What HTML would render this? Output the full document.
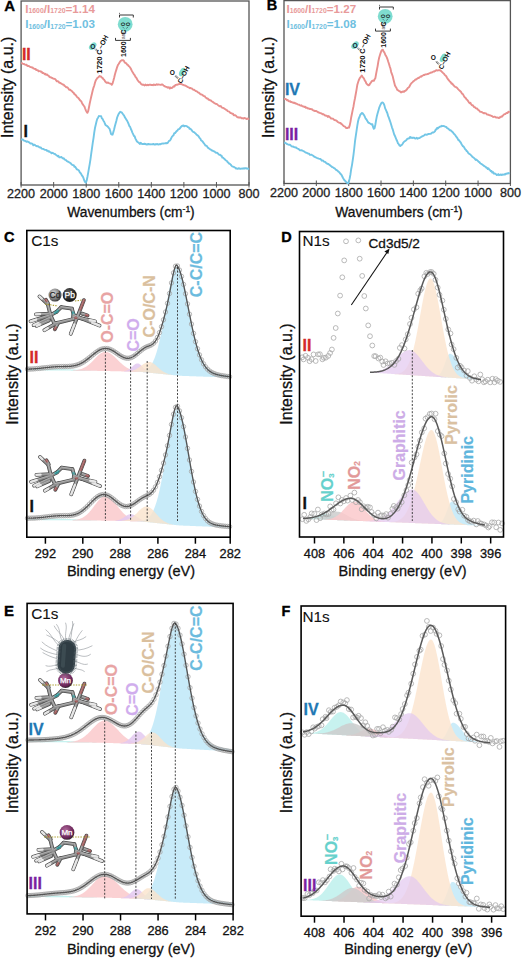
<!DOCTYPE html>
<html><head><meta charset="utf-8"><style>
html,body{margin:0;padding:0;background:#fff;overflow:hidden;}
svg{display:block;font-family:"Liberation Sans", sans-serif;}
</style></head><body>
<svg width="522" height="959" viewBox="0 0 522 959">
<rect width="522" height="959" fill="#fff"/>
<rect x="21.1" y="1" width="227.9" height="184" fill="none" stroke="#555" stroke-width="1.3"/>
<line x1="21.1" y1="182" x2="21.1" y2="187.5" stroke="#555" stroke-width="1" />
<text x="21.1" y="198.2" font-size="12.6" fill="#222" font-weight="normal" text-anchor="middle" stroke="#222" stroke-width="0.3">2200</text>
<line x1="53.66" y1="182" x2="53.66" y2="187.5" stroke="#555" stroke-width="1" />
<text x="53.66" y="198.2" font-size="12.6" fill="#222" font-weight="normal" text-anchor="middle" stroke="#222" stroke-width="0.3">2000</text>
<line x1="86.21" y1="182" x2="86.21" y2="187.5" stroke="#555" stroke-width="1" />
<text x="86.21" y="198.2" font-size="12.6" fill="#222" font-weight="normal" text-anchor="middle" stroke="#222" stroke-width="0.3">1800</text>
<line x1="118.77" y1="182" x2="118.77" y2="187.5" stroke="#555" stroke-width="1" />
<text x="118.77" y="198.2" font-size="12.6" fill="#222" font-weight="normal" text-anchor="middle" stroke="#222" stroke-width="0.3">1600</text>
<line x1="151.33" y1="182" x2="151.33" y2="187.5" stroke="#555" stroke-width="1" />
<text x="151.33" y="198.2" font-size="12.6" fill="#222" font-weight="normal" text-anchor="middle" stroke="#222" stroke-width="0.3">1400</text>
<line x1="183.89" y1="182" x2="183.89" y2="187.5" stroke="#555" stroke-width="1" />
<text x="183.89" y="198.2" font-size="12.6" fill="#222" font-weight="normal" text-anchor="middle" stroke="#222" stroke-width="0.3">1200</text>
<line x1="216.44" y1="182" x2="216.44" y2="187.5" stroke="#555" stroke-width="1" />
<text x="216.44" y="198.2" font-size="12.6" fill="#222" font-weight="normal" text-anchor="middle" stroke="#222" stroke-width="0.3">1000</text>
<line x1="249" y1="182" x2="249" y2="187.5" stroke="#555" stroke-width="1" />
<text x="249" y="198.2" font-size="12.6" fill="#222" font-weight="normal" text-anchor="middle" stroke="#222" stroke-width="0.3">800</text>
<path d="M21.1,63.51 L21.86,63.16 L22.62,63.61 L23.39,64.02 L24.15,63.98 L24.91,64.53 L25.67,64.84 L26.44,64.64 L27.2,65.79 L27.96,66 L28.72,65.96 L29.48,66.43 L30.25,66.97 L31.01,67.09 L31.77,67.44 L32.53,67.43 L33.3,68.38 L34.06,68.61 L34.82,69.02 L35.58,68.84 L36.34,70.16 L37.11,70.08 L37.87,70.29 L38.63,71.39 L39.39,71.15 L40.16,71.11 L40.92,71.81 L41.68,71.63 L42.44,73.03 L43.2,72.98 L43.97,73.28 L44.73,74.22 L45.49,73.81 L46.25,74.86 L47.02,74.49 L47.78,75.32 L48.54,75.57 L49.3,76.78 L50.06,77.29 L50.83,77.09 L51.59,77.86 L52.35,77.99 L53.11,78.65 L53.87,78.69 L54.64,78.85 L55.4,79.28 L56.16,80.39 L56.92,81.41 L57.69,81.29 L58.45,81.53 L59.21,82.74 L59.97,82.73 L60.73,83.18 L61.5,83.73 L62.26,84.13 L63.02,84.6 L63.78,84.79 L64.55,85.9 L65.31,86.27 L66.07,87.21 L66.83,87.3 L67.59,87.42 L68.36,88.55 L69.12,89.69 L69.88,89.67 L70.64,90.15 L71.41,90.71 L72.17,91.42 L72.93,92.33 L73.69,92.77 L74.45,94.3 L75.22,94.52 L75.98,95.41 L76.74,96.61 L77.5,97.45 L78.27,97.81 L79.03,98.89 L79.79,99.98 L80.55,100.72 L81.31,101.31 L82.08,103.16 L82.84,104.4 L83.6,105.47 L84.36,106.42 L85.13,108.5 L85.89,110.34 L86.65,111.92 L87.41,112.86 L88.17,111.2 L88.94,107.47 L89.7,103.46 L90.46,100.14 L91.22,96.7 L91.99,93.45 L92.75,90.23 L93.51,87.61 L94.27,85.47 L95.03,82.55 L95.8,80.37 L96.56,79.15 L97.32,77.96 L98.08,77.43 L98.85,76.78 L99.61,75.9 L100.37,76.51 L101.13,76.54 L101.89,77.68 L102.66,77.93 L103.42,79.24 L104.18,79.83 L104.94,81.12 L105.71,82.09 L106.47,82.69 L107.23,82.81 L107.99,82.49 L108.75,83.14 L109.52,83.38 L110.28,83.62 L111.04,83.9 L111.8,84.81 L112.56,83.5 L113.33,80.82 L114.09,77.91 L114.85,74.7 L115.61,72.06 L116.38,69.63 L117.14,67.05 L117.9,65.04 L118.66,63.95 L119.42,62.66 L120.19,61.43 L120.95,60.74 L121.71,60.2 L122.47,60.27 L123.24,60.32 L124,60.99 L124.76,62.56 L125.52,62.88 L126.28,63.3 L127.05,64.56 L127.81,64.84 L128.57,65.91 L129.33,66.52 L130.1,67.49 L130.86,68.75 L131.62,70.34 L132.38,71.78 L133.14,72.91 L133.91,74.28 L134.67,75.16 L135.43,76.87 L136.19,77.52 L136.96,79.1 L137.72,80.31 L138.48,81.26 L139.24,82.28 L140,82.12 L140.77,83.58 L141.53,84.36 L142.29,84.8 L143.05,84.54 L143.82,85.03 L144.58,85.49 L145.34,84.5 L146.1,85.11 L146.86,85.31 L147.63,84.78 L148.39,85.17 L149.15,84.68 L149.91,84.76 L150.68,84.75 L151.44,85.03 L152.2,84.91 L152.96,85.18 L153.72,84.56 L154.49,84.75 L155.25,85.02 L156.01,84.84 L156.77,84.22 L157.54,84.77 L158.3,84.39 L159.06,84.63 L159.82,84.59 L160.58,84.91 L161.35,84.72 L162.11,84.36 L162.87,84.79 L163.63,85.77 L164.39,85.84 L165.16,86.65 L165.92,86.77 L166.68,86.83 L167.44,87.71 L168.21,87.42 L168.97,87.25 L169.73,88.6 L170.49,87.41 L171.25,88.05 L172.02,87.88 L172.78,87.28 L173.54,86.3 L174.3,86.63 L175.07,85.39 L175.83,84.94 L176.59,84.78 L177.35,84.74 L178.11,84.3 L178.88,84.28 L179.64,83.87 L180.4,84.02 L181.16,83.87 L181.93,84.31 L182.69,84.84 L183.45,84.86 L184.21,85.42 L184.97,85.45 L185.74,85.8 L186.5,86.35 L187.26,86.62 L188.02,87.19 L188.79,87.39 L189.55,88.19 L190.31,87.96 L191.07,88.32 L191.83,88.46 L192.6,89.16 L193.36,89.76 L194.12,89.74 L194.88,90.37 L195.65,91.02 L196.41,91.2 L197.17,91.52 L197.93,92.42 L198.69,92.63 L199.46,93.21 L200.22,93.94 L200.98,94.44 L201.74,94.51 L202.51,94.99 L203.27,95.76 L204.03,96.17 L204.79,96.18 L205.55,97.67 L206.32,97.82 L207.08,98.57 L207.84,98.52 L208.6,99.77 L209.37,99.7 L210.13,100.33 L210.89,100.42 L211.65,101.26 L212.41,101.7 L213.18,102.17 L213.94,102.81 L214.7,103.14 L215.46,103.86 L216.23,103.86 L216.99,104.14 L217.75,104.87 L218.51,105.5 L219.27,106.12 L220.04,106.42 L220.8,106.08 L221.56,107.15 L222.32,107.91 L223.08,107.92 L223.85,108.18 L224.61,108.87 L225.37,109.07 L226.13,109.88 L226.9,110.18 L227.66,111.12 L228.42,111.38 L229.18,111.56 L229.94,112.51 L230.71,113.16 L231.47,113.25 L232.23,113.83 L232.99,113.79 L233.76,115.26 L234.52,115.29 L235.28,115.28 L236.04,115.81 L236.8,116.65 L237.57,117.27 L238.33,117.3 L239.09,117.7 L239.85,117.4 L240.62,117.44 L241.38,118.2 L242.14,118.18 L242.9,118.11 L243.66,118.58 L244.43,117.99 L245.19,118.21 L245.95,118.7 L246.71,118.99 L247.48,118.47 L248.24,119 L249,118.32" stroke="#E8908E" stroke-width="1.9" fill="none" stroke-linejoin="round"/>
<path d="M21.1,139.3 L21.86,139.47 L22.62,139.36 L23.39,140.24 L24.15,140.76 L24.91,140.76 L25.67,141.11 L26.44,141.88 L27.2,141.41 L27.96,141.67 L28.72,142.25 L29.48,142.42 L30.25,143.52 L31.01,143.54 L31.77,143.53 L32.53,143.94 L33.3,145.32 L34.06,144.62 L34.82,144.92 L35.58,145.58 L36.34,146.03 L37.11,146.25 L37.87,146.26 L38.63,146.53 L39.39,147.41 L40.16,147.56 L40.92,147.44 L41.68,148.64 L42.44,148.87 L43.2,148.92 L43.97,149.27 L44.73,149.77 L45.49,149.84 L46.25,149.99 L47.02,150.83 L47.78,150.65 L48.54,151.54 L49.3,151.33 L50.06,152.08 L50.83,152.41 L51.59,153.33 L52.35,152.82 L53.11,153.07 L53.87,153.65 L54.64,153.86 L55.4,154.39 L56.16,155.05 L56.92,155.53 L57.69,156.17 L58.45,155.84 L59.21,157.24 L59.97,157.44 L60.73,157.19 L61.5,156.97 L62.26,158.06 L63.02,158.54 L63.78,158.27 L64.55,159.43 L65.31,159.81 L66.07,160.11 L66.83,161.02 L67.59,161.63 L68.36,161.69 L69.12,162.43 L69.88,162.71 L70.64,163.23 L71.41,164.06 L72.17,164.8 L72.93,165.09 L73.69,165.24 L74.45,166.74 L75.22,166.78 L75.98,168.01 L76.74,169.26 L77.5,169.5 L78.27,169.96 L79.03,170.74 L79.79,172.46 L80.55,173.1 L81.31,174.36 L82.08,175.67 L82.84,176.69 L83.6,178.46 L84.36,180.81 L85.13,182.08 L85.89,182.52 L86.65,180.74 L87.41,177.03 L88.17,172.81 L88.94,168.3 L89.7,164.05 L90.46,159.31 L91.22,153.55 L91.99,148.4 L92.75,142.83 L93.51,138.08 L94.27,132.32 L95.03,127.76 L95.8,124.53 L96.56,121.31 L97.32,118.71 L98.08,117.71 L98.85,116.07 L99.61,116.08 L100.37,116.08 L101.13,116.29 L101.89,118.33 L102.66,119.05 L103.42,120.73 L104.18,121.76 L104.94,123.73 L105.71,125.25 L106.47,125.63 L107.23,126.04 L107.99,126.96 L108.75,127.87 L109.52,128.69 L110.28,131.04 L111.04,133.99 L111.8,134.59 L112.56,134.68 L113.33,132.15 L114.09,129.52 L114.85,126.24 L115.61,123.41 L116.38,120.67 L117.14,117.51 L117.9,115.66 L118.66,113.94 L119.42,112.76 L120.19,111.82 L120.95,112.23 L121.71,112.4 L122.47,113.45 L123.24,114.55 L124,115.42 L124.76,117.09 L125.52,118.2 L126.28,119.46 L127.05,120.64 L127.81,122.1 L128.57,123.98 L129.33,125.98 L130.1,126.8 L130.86,128.99 L131.62,130.52 L132.38,132.6 L133.14,134.12 L133.91,135.87 L134.67,136.37 L135.43,138.66 L136.19,140.02 L136.96,141.48 L137.72,142.07 L138.48,142.5 L139.24,143.24 L140,143.92 L140.77,142.76 L141.53,143.72 L142.29,144.06 L143.05,144.07 L143.82,144 L144.58,143.73 L145.34,143.87 L146.1,144.4 L146.86,144.52 L147.63,144.25 L148.39,143.98 L149.15,144.28 L149.91,144.19 L150.68,144.43 L151.44,144.32 L152.2,144.1 L152.96,144.35 L153.72,143.94 L154.49,144.55 L155.25,144.65 L156.01,143.94 L156.77,144.4 L157.54,143.95 L158.3,144.53 L159.06,144.42 L159.82,144.02 L160.58,144.31 L161.35,143.8 L162.11,143.64 L162.87,143.55 L163.63,143.56 L164.39,143.38 L165.16,143.38 L165.92,143 L166.68,143.25 L167.44,143.06 L168.21,142.05 L168.97,140.99 L169.73,140.68 L170.49,139.72 L171.25,138.16 L172.02,136.63 L172.78,135.92 L173.54,135.2 L174.3,133.19 L175.07,133.08 L175.83,132.08 L176.59,131.12 L177.35,130.71 L178.11,129.37 L178.88,129.06 L179.64,128.63 L180.4,127.62 L181.16,126.72 L181.93,125.97 L182.69,125.77 L183.45,125.39 L184.21,126.38 L184.97,125.92 L185.74,125.87 L186.5,126.09 L187.26,126.53 L188.02,127.19 L188.79,127.42 L189.55,128.87 L190.31,128.75 L191.07,129.37 L191.83,130.36 L192.6,131.37 L193.36,132 L194.12,132.12 L194.88,132.98 L195.65,133.6 L196.41,134.44 L197.17,135.16 L197.93,135.65 L198.69,136.46 L199.46,137.83 L200.22,138.39 L200.98,140.13 L201.74,140.72 L202.51,141.38 L203.27,142.56 L204.03,143.45 L204.79,144.47 L205.55,145.65 L206.32,145.74 L207.08,146.35 L207.84,147.67 L208.6,148.11 L209.37,148.76 L210.13,149.37 L210.89,149.67 L211.65,150.43 L212.41,150.38 L213.18,151.1 L213.94,151.25 L214.7,151.58 L215.46,152.52 L216.23,152.92 L216.99,152.59 L217.75,153.27 L218.51,154.15 L219.27,154.85 L220.04,154.82 L220.8,155.51 L221.56,155.73 L222.32,157.54 L223.08,157.6 L223.85,158.42 L224.61,159.08 L225.37,159.91 L226.13,160.56 L226.9,161.04 L227.66,162.12 L228.42,162.66 L229.18,163.76 L229.94,163.86 L230.71,164.59 L231.47,165.59 L232.23,166.37 L232.99,166.58 L233.76,166.81 L234.52,167.42 L235.28,167.66 L236.04,168.65 L236.8,168.55 L237.57,168.76 L238.33,168.49 L239.09,168.23 L239.85,168.75 L240.62,168.9 L241.38,168.57 L242.14,168.39 L242.9,168.72 L243.66,168.29 L244.43,168.63 L245.19,168.19 L245.95,168.11 L246.71,168.57 L247.48,168.5 L248.24,168.97 L249,168.32" stroke="#73C6E6" stroke-width="1.9" fill="none" stroke-linejoin="round"/>
<rect x="284" y="0.6" width="226.4" height="182.9" fill="none" stroke="#555" stroke-width="1.3"/>
<line x1="284" y1="180.5" x2="284" y2="186" stroke="#555" stroke-width="1" />
<text x="284" y="196.7" font-size="12.6" fill="#222" font-weight="normal" text-anchor="middle" stroke="#222" stroke-width="0.3">2200</text>
<line x1="316.34" y1="180.5" x2="316.34" y2="186" stroke="#555" stroke-width="1" />
<text x="316.34" y="196.7" font-size="12.6" fill="#222" font-weight="normal" text-anchor="middle" stroke="#222" stroke-width="0.3">2000</text>
<line x1="348.69" y1="180.5" x2="348.69" y2="186" stroke="#555" stroke-width="1" />
<text x="348.69" y="196.7" font-size="12.6" fill="#222" font-weight="normal" text-anchor="middle" stroke="#222" stroke-width="0.3">1800</text>
<line x1="381.03" y1="180.5" x2="381.03" y2="186" stroke="#555" stroke-width="1" />
<text x="381.03" y="196.7" font-size="12.6" fill="#222" font-weight="normal" text-anchor="middle" stroke="#222" stroke-width="0.3">1600</text>
<line x1="413.37" y1="180.5" x2="413.37" y2="186" stroke="#555" stroke-width="1" />
<text x="413.37" y="196.7" font-size="12.6" fill="#222" font-weight="normal" text-anchor="middle" stroke="#222" stroke-width="0.3">1400</text>
<line x1="445.71" y1="180.5" x2="445.71" y2="186" stroke="#555" stroke-width="1" />
<text x="445.71" y="196.7" font-size="12.6" fill="#222" font-weight="normal" text-anchor="middle" stroke="#222" stroke-width="0.3">1200</text>
<line x1="478.06" y1="180.5" x2="478.06" y2="186" stroke="#555" stroke-width="1" />
<text x="478.06" y="196.7" font-size="12.6" fill="#222" font-weight="normal" text-anchor="middle" stroke="#222" stroke-width="0.3">1000</text>
<line x1="510.4" y1="180.5" x2="510.4" y2="186" stroke="#555" stroke-width="1" />
<text x="510.4" y="196.7" font-size="12.6" fill="#222" font-weight="normal" text-anchor="middle" stroke="#222" stroke-width="0.3">800</text>
<path d="M284.1,99.01 L284.85,98.94 L285.61,99.01 L286.36,99.33 L287.12,100.29 L287.87,100.08 L288.63,101.06 L289.38,101.44 L290.13,101.22 L290.89,102.09 L291.64,101.95 L292.4,102.51 L293.15,102.4 L293.9,103.04 L294.66,102.77 L295.41,103.53 L296.17,103.5 L296.92,103.89 L297.68,104.41 L298.43,104.56 L299.18,104.78 L299.94,105.32 L300.69,105.64 L301.45,105.28 L302.2,106.15 L302.95,106.48 L303.71,106.35 L304.46,106.99 L305.22,106.76 L305.97,107.88 L306.73,107.67 L307.48,108 L308.23,108.67 L308.99,108.55 L309.74,109.06 L310.5,108.85 L311.25,109.28 L312,109.32 L312.76,109.96 L313.51,110.62 L314.27,110.66 L315.02,111.15 L315.78,110.87 L316.53,111.21 L317.28,111.63 L318.04,112.25 L318.79,112.49 L319.55,112.68 L320.3,113.18 L321.05,113.27 L321.81,113.63 L322.56,114.35 L323.32,114.11 L324.07,114.67 L324.83,115.44 L325.58,115.34 L326.33,115.87 L327.09,115.84 L327.84,116.97 L328.6,116.09 L329.35,116.81 L330.11,117.23 L330.86,118.43 L331.61,118.45 L332.37,118.68 L333.12,118.79 L333.88,119.71 L334.63,120.06 L335.38,120.24 L336.14,120.43 L336.89,120.99 L337.65,121.82 L338.4,122.28 L339.16,122.65 L339.91,123.02 L340.66,123.02 L341.42,124.13 L342.17,124.4 L342.93,125.34 L343.68,126.08 L344.43,126.33 L345.19,126.76 L345.94,127.84 L346.7,128.02 L347.45,127.98 L348.21,127.39 L348.96,127.65 L349.71,125.35 L350.47,121.83 L351.22,117.2 L351.98,113.46 L352.73,109.91 L353.48,106.45 L354.24,101.89 L354.99,98.25 L355.75,93.98 L356.5,89.86 L357.26,85.08 L358.01,82.46 L358.76,80.24 L359.52,78.58 L360.27,77.39 L361.03,76.64 L361.78,75.5 L362.53,76.77 L363.29,77.66 L364.04,78.72 L364.8,80.55 L365.55,81.43 L366.31,83.31 L367.06,84.19 L367.81,84.9 L368.57,85.38 L369.32,84.96 L370.08,83.53 L370.83,82.63 L371.58,81.52 L372.34,80.82 L373.09,80.8 L373.85,80.9 L374.6,79.28 L375.36,78.17 L376.11,73.86 L376.86,69.84 L377.62,66.12 L378.37,61.36 L379.13,57.71 L379.88,55.22 L380.64,52.84 L381.39,50.84 L382.14,49.88 L382.9,49.8 L383.65,51.56 L384.41,52.47 L385.16,54.44 L385.91,55.86 L386.67,57.13 L387.42,59.09 L388.18,61.55 L388.93,63.7 L389.69,66.36 L390.44,68.54 L391.19,72.07 L391.95,74.14 L392.7,76.25 L393.46,79.44 L394.21,82.44 L394.96,85.43 L395.72,86.78 L396.47,87.99 L397.23,89.95 L397.98,90.18 L398.74,90.78 L399.49,91.12 L400.24,91.56 L401,92.52 L401.75,91.99 L402.51,91.76 L403.26,91.52 L404.01,91.83 L404.77,90.84 L405.52,90.77 L406.28,90.04 L407.03,89.27 L407.79,88.05 L408.54,87.55 L409.29,86.82 L410.05,85.29 L410.8,84.02 L411.56,82.95 L412.31,82.51 L413.06,81.61 L413.82,81.03 L414.57,80.47 L415.33,79.45 L416.08,79.59 L416.84,78.91 L417.59,78.34 L418.34,77.97 L419.1,77.75 L419.85,77.09 L420.61,76.45 L421.36,76.7 L422.12,75.89 L422.87,75.48 L423.62,74.92 L424.38,75.1 L425.13,74.5 L425.89,74.38 L426.64,74.41 L427.39,74.02 L428.15,74.05 L428.9,73.57 L429.66,73.09 L430.41,72.84 L431.17,72.48 L431.92,72.51 L432.67,72 L433.43,71.54 L434.18,71.61 L434.94,71.09 L435.69,70.66 L436.44,70.12 L437.2,70.53 L437.95,70.34 L438.71,70.22 L439.46,70.12 L440.22,70.26 L440.97,70.91 L441.72,71.66 L442.48,72.28 L443.23,73.07 L443.99,73.79 L444.74,74.84 L445.49,75.6 L446.25,76.24 L447,77.73 L447.76,78.84 L448.51,79.95 L449.27,80.75 L450.02,81.74 L450.77,82.33 L451.53,83.7 L452.28,83.57 L453.04,84.78 L453.79,85.46 L454.54,86.46 L455.3,86.83 L456.05,87.16 L456.81,87.64 L457.56,88.49 L458.32,89.41 L459.07,90.09 L459.82,90.76 L460.58,91.41 L461.33,92.42 L462.09,93.7 L462.84,94.03 L463.59,95.36 L464.35,96.83 L465.1,97.51 L465.86,98.2 L466.61,99.49 L467.37,99.99 L468.12,101.09 L468.87,102.35 L469.63,103.18 L470.38,102.8 L471.14,104.22 L471.89,105.28 L472.65,105.21 L473.4,106.12 L474.15,107.14 L474.91,107.17 L475.66,108.07 L476.42,108.52 L477.17,108.53 L477.92,109.77 L478.68,110.14 L479.43,110.98 L480.19,111.8 L480.94,111.83 L481.7,111.93 L482.45,112.56 L483.2,112.83 L483.96,113.4 L484.71,112.98 L485.47,113.38 L486.22,113.43 L486.97,114.54 L487.73,114.65 L488.48,114.77 L489.24,115.03 L489.99,115.36 L490.75,115.52 L491.5,115.96 L492.25,116.15 L493.01,116.94 L493.76,116.83 L494.52,116.68 L495.27,116.92 L496.02,117.6 L496.78,117.5 L497.53,117.56 L498.29,117.76 L499.04,118.06 L499.8,117.23 L500.55,117.23 L501.3,116.52 L502.06,116.61 L502.81,115.68 L503.57,114.89 L504.32,114.23 L505.07,114.17 L505.83,113.5 L506.58,112.99 L507.34,113.15 L508.09,112.11 L508.85,111.72 L509.6,112.58" stroke="#E8908E" stroke-width="1.9" fill="none" stroke-linejoin="round"/>
<path d="M284.1,142.49 L284.85,142.76 L285.61,143.03 L286.36,143.53 L287.12,144.13 L287.87,144.45 L288.63,144.72 L289.38,144.8 L290.13,144.77 L290.89,145.64 L291.64,146.34 L292.4,146.55 L293.15,146.51 L293.9,147.14 L294.66,147.13 L295.41,147.57 L296.17,147.56 L296.92,148.18 L297.68,148.66 L298.43,148.91 L299.18,149.54 L299.94,150.23 L300.69,150.41 L301.45,150.28 L302.2,150.5 L302.95,150.88 L303.71,151.14 L304.46,151.8 L305.22,152.26 L305.97,152.54 L306.73,152.89 L307.48,153.23 L308.23,153.49 L308.99,153.65 L309.74,154.74 L310.5,154.89 L311.25,154.65 L312,155 L312.76,155.45 L313.51,155.99 L314.27,156.72 L315.02,157.01 L315.78,157.39 L316.53,157.76 L317.28,158.14 L318.04,158.41 L318.79,158.71 L319.55,158.93 L320.3,158.84 L321.05,159.73 L321.81,160.72 L322.56,160.43 L323.32,160.83 L324.07,161.76 L324.83,161.92 L325.58,162.2 L326.33,163.27 L327.09,163.46 L327.84,163.98 L328.6,164.06 L329.35,164.88 L330.11,165.34 L330.86,165.98 L331.61,166.62 L332.37,167.15 L333.12,167.42 L333.88,168.14 L334.63,168.18 L335.38,169.31 L336.14,169.94 L336.89,170.25 L337.65,170.79 L338.4,171.68 L339.16,172.03 L339.91,173.21 L340.66,174.07 L341.42,174.75 L342.17,176.23 L342.93,177.78 L343.68,179.03 L344.43,180.21 L345.19,180.93 L345.94,181.76 L346.7,182.4 L347.45,183.04 L348.21,183.33 L348.96,181.26 L349.71,178.23 L350.47,174.22 L351.22,168.97 L351.98,165.07 L352.73,160.17 L353.48,154.77 L354.24,148.5 L354.99,141.48 L355.75,136.03 L356.5,131.16 L357.26,125.86 L358.01,121.5 L358.76,118.5 L359.52,117.01 L360.27,114.75 L361.03,114.03 L361.78,112.95 L362.53,113.13 L363.29,114.25 L364.04,115.05 L364.8,116.66 L365.55,118.49 L366.31,119.23 L367.06,120.54 L367.81,121.85 L368.57,122.83 L369.32,122.95 L370.08,123.48 L370.83,123.97 L371.58,124.47 L372.34,124.14 L373.09,127.02 L373.85,128.75 L374.6,128.18 L375.36,124.51 L376.11,120.14 L376.86,116.17 L377.62,113.28 L378.37,110.7 L379.13,107.96 L379.88,106.22 L380.64,104.47 L381.39,103.07 L382.14,102.49 L382.9,102.69 L383.65,103.56 L384.41,105.39 L385.16,108.38 L385.91,109.87 L386.67,111.77 L387.42,113.4 L388.18,116.12 L388.93,117.84 L389.69,120.19 L390.44,122.24 L391.19,124.83 L391.95,127.35 L392.7,129.32 L393.46,132.03 L394.21,134.51 L394.96,135.97 L395.72,137.81 L396.47,139.74 L397.23,141.26 L397.98,143.35 L398.74,144.09 L399.49,145.47 L400.24,145.95 L401,145.22 L401.75,145.01 L402.51,143.96 L403.26,142.72 L404.01,141.93 L404.77,141.12 L405.52,140.81 L406.28,140.3 L407.03,139.06 L407.79,138.71 L408.54,138.49 L409.29,138.28 L410.05,136.91 L410.8,137.89 L411.56,137.47 L412.31,138.06 L413.06,137.6 L413.82,137.64 L414.57,138.08 L415.33,138.59 L416.08,138.41 L416.84,137.81 L417.59,138.79 L418.34,138.1 L419.1,138.13 L419.85,137.77 L420.61,137.16 L421.36,136.86 L422.12,136.42 L422.87,136.02 L423.62,135.69 L424.38,135.18 L425.13,134.51 L425.89,134.63 L426.64,134.73 L427.39,134.51 L428.15,134.06 L428.9,134 L429.66,133.87 L430.41,133.78 L431.17,133.63 L431.92,132.74 L432.67,132.39 L433.43,132.45 L434.18,131.93 L434.94,131.31 L435.69,129.49 L436.44,129.45 L437.2,127.86 L437.95,128.4 L438.71,127.58 L439.46,127.02 L440.22,126.49 L440.97,126.55 L441.72,125.82 L442.48,126.11 L443.23,126.02 L443.99,126.14 L444.74,126.47 L445.49,126.75 L446.25,126.86 L447,127.93 L447.76,128.49 L448.51,128.82 L449.27,129.66 L450.02,130.28 L450.77,130.22 L451.53,131.22 L452.28,131.85 L453.04,132.49 L453.79,133.69 L454.54,134.22 L455.3,135.26 L456.05,136.41 L456.81,137.43 L457.56,138.43 L458.32,140.04 L459.07,140.27 L459.82,141.56 L460.58,142.19 L461.33,143.76 L462.09,145.03 L462.84,146.11 L463.59,146.59 L464.35,147.72 L465.1,149.19 L465.86,149.75 L466.61,151 L467.37,151.32 L468.12,152.88 L468.87,153.58 L469.63,154.16 L470.38,154.51 L471.14,155.42 L471.89,156.22 L472.65,156.94 L473.4,157.51 L474.15,158.15 L474.91,158.93 L475.66,159.93 L476.42,159.54 L477.17,160.35 L477.92,160.91 L478.68,161.76 L479.43,162.03 L480.19,163.29 L480.94,163.71 L481.7,164.16 L482.45,164.57 L483.2,165.34 L483.96,165.87 L484.71,166.46 L485.47,166.7 L486.22,167.68 L486.97,167.63 L487.73,169.03 L488.48,168.32 L489.24,169.64 L489.99,170.03 L490.75,171.19 L491.5,171.04 L492.25,172.55 L493.01,172.03 L493.76,173.56 L494.52,173.5 L495.27,173.76 L496.02,174.21 L496.78,175.02 L497.53,174.86 L498.29,174.09 L499.04,175.22 L499.8,174.97 L500.55,174.4 L501.3,175.08 L502.06,174.43 L502.81,174.77 L503.57,174.67 L504.32,174.27 L505.07,174.48 L505.83,173.78 L506.58,173.9 L507.34,173.4 L508.09,173.2 L508.85,173.47 L509.6,172.53" stroke="#73C6E6" stroke-width="1.9" fill="none" stroke-linejoin="round"/>
<path d="M27.5,369.47 L28,369.46 L28.5,369.44 L29,369.42 L29.5,369.41 L30,369.39 L30.5,369.37 L31,369.36 L31.5,369.34 L32,369.32 L32.5,369.3 L33,369.29 L33.5,369.27 L34,369.25 L34.5,369.24 L35,369.22 L35.5,369.2 L36,369.18 L36.5,369.17 L37,369.15 L37.5,369.13 L38,369.12 L38.5,369.1 L39,369.09 L39.5,369.07 L40,369.06 L40.5,369.04 L41,369.03 L41.5,369.01 L42,369 L42.5,368.99 L43,368.97 L43.5,368.96 L44,368.95 L44.5,368.94 L45,368.93 L45.5,368.92 L46,368.91 L46.5,368.9 L47,368.89 L47.5,368.89 L48,368.88 L48.5,368.87 L49,368.87 L49.5,368.86 L50,368.86 L50.5,368.86 L51,368.86 L51.5,368.86 L52,368.85 L52.5,368.85 L53,368.86 L53.5,368.86 L54,368.86 L54.5,368.86 L55,368.87 L55.5,368.87 L56,368.88 L56.5,368.89 L57,368.89 L57.5,368.9 L58,368.91 L58.5,368.92 L59,368.93 L59.5,368.94 L60,368.96 L60.5,368.97 L61,368.98 L61.5,369 L62,369.01 L62.5,369.03 L63,369.05 L63.5,369.07 L64,369.08 L64.5,369.1 L65,369.12 L65.5,369.14 L66,369.16 L66.5,369.18 L67,369.2 L67.5,369.23 L68,369.25 L68.5,369.27 L69,369.3 L69.5,369.32 L70,369.34 L70.5,369.37 L71,369.39 L71.5,369.42 L72,369.44 L72.5,369.47 L73,369.5 L73.5,369.52 L74,369.55 L74.5,369.58 L75,369.6 L75.5,369.63 L76,369.66 L76.5,369.68 L77,369.71 L77.5,369.74 L78,369.76 L78.5,369.79 L79,369.82 L79.5,369.84 L80,369.87 L80.5,369.9 L81,369.92 L81.5,369.95 L82,369.97 L82.5,370 L83,370.03 L83.5,370.05 L84,370.08 L84.5,370.1 L85,370.12 L85.5,370.15 L86,370.17 L86.5,370.2 L87,370.22 L87.5,370.24 L88,370.27 L88.5,370.29 L89,370.31 L89.5,370.33 L90,370.35 L90.5,370.37 L91,370.39 L91.5,370.41 L92,370.43 L92.5,370.45 L93,370.47 L93.5,370.49 L94,370.51 L94.5,370.53 L95,370.55 L95.5,370.56 L96,370.58 L96.5,370.6 L97,370.61 L97,370.87 L96.5,370.87 L96,370.86 L95.5,370.86 L95,370.85 L94.5,370.85 L94,370.84 L93.5,370.84 L93,370.83 L92.5,370.83 L92,370.82 L91.5,370.82 L91,370.81 L90.5,370.81 L90,370.8 L89.5,370.8 L89,370.79 L88.5,370.79 L88,370.78 L87.5,370.78 L87,370.78 L86.5,370.77 L86,370.77 L85.5,370.76 L85,370.76 L84.5,370.75 L84,370.75 L83.5,370.74 L83,370.74 L82.5,370.73 L82,370.73 L81.5,370.72 L81,370.72 L80.5,370.71 L80,370.71 L79.5,370.7 L79,370.7 L78.5,370.69 L78,370.69 L77.5,370.68 L77,370.68 L76.5,370.67 L76,370.67 L75.5,370.67 L75,370.66 L74.5,370.66 L74,370.65 L73.5,370.65 L73,370.64 L72.5,370.64 L72,370.63 L71.5,370.63 L71,370.62 L70.5,370.62 L70,370.61 L69.5,370.61 L69,370.6 L68.5,370.6 L68,370.59 L67.5,370.59 L67,370.58 L66.5,370.58 L66,370.57 L65.5,370.57 L65,370.56 L64.5,370.56 L64,370.55 L63.5,370.55 L63,370.55 L62.5,370.54 L62,370.54 L61.5,370.53 L61,370.53 L60.5,370.52 L60,370.52 L59.5,370.51 L59,370.51 L58.5,370.5 L58,370.5 L57.5,370.49 L57,370.49 L56.5,370.48 L56,370.48 L55.5,370.47 L55,370.47 L54.5,370.46 L54,370.46 L53.5,370.45 L53,370.45 L52.5,370.44 L52,370.44 L51.5,370.43 L51,370.43 L50.5,370.43 L50,370.42 L49.5,370.42 L49,370.41 L48.5,370.41 L48,370.4 L47.5,370.4 L47,370.39 L46.5,370.39 L46,370.38 L45.5,370.38 L45,370.37 L44.5,370.37 L44,370.36 L43.5,370.36 L43,370.35 L42.5,370.35 L42,370.34 L41.5,370.34 L41,370.33 L40.5,370.33 L40,370.32 L39.5,370.32 L39,370.32 L38.5,370.31 L38,370.31 L37.5,370.3 L37,370.3 L36.5,370.29 L36,370.29 L35.5,370.28 L35,370.28 L34.5,370.27 L34,370.27 L33.5,370.26 L33,370.26 L32.5,370.25 L32,370.25 L31.5,370.24 L31,370.24 L30.5,370.23 L30,370.23 L29.5,370.22 L29,370.22 L28.5,370.21 L28,370.21 L27.5,370.2" stroke="none" stroke-width="1" fill="#BDF0EC" fill-opacity="0.85"/>
<path d="M73,370.39 L73.5,370.36 L74,370.32 L74.5,370.28 L75,370.24 L75.5,370.19 L76,370.13 L76.5,370.07 L77,369.99 L77.5,369.91 L78,369.83 L78.5,369.73 L79,369.62 L79.5,369.5 L80,369.37 L80.5,369.23 L81,369.08 L81.5,368.91 L82,368.73 L82.5,368.53 L83,368.32 L83.5,368.1 L84,367.85 L84.5,367.59 L85,367.32 L85.5,367.02 L86,366.71 L86.5,366.38 L87,366.04 L87.5,365.67 L88,365.29 L88.5,364.89 L89,364.48 L89.5,364.04 L90,363.6 L90.5,363.14 L91,362.66 L91.5,362.18 L92,361.68 L92.5,361.18 L93,360.66 L93.5,360.14 L94,359.62 L94.5,359.1 L95,358.57 L95.5,358.05 L96,357.53 L96.5,357.03 L97,356.53 L97.5,356.04 L98,355.57 L98.5,355.11 L99,354.68 L99.5,354.27 L100,353.88 L100.5,353.52 L101,353.2 L101.5,352.9 L102,352.64 L102.5,352.41 L103,352.22 L103.5,352.06 L104,351.94 L104.5,351.87 L105,351.83 L105.5,351.82 L106,351.86 L106.5,351.93 L107,352.03 L107.5,352.16 L108,352.33 L108.5,352.52 L109,352.75 L109.5,353 L110,353.29 L110.5,353.59 L111,353.93 L111.5,354.29 L112,354.67 L112.5,355.06 L113,355.48 L113.5,355.92 L114,356.36 L114.5,356.82 L115,357.3 L115.5,357.78 L116,358.26 L116.5,358.75 L117,359.25 L117.5,359.75 L118,360.24 L118.5,360.74 L119,361.23 L119.5,361.71 L120,362.19 L120.5,362.66 L121,363.12 L121.5,363.58 L122,364.02 L122.5,364.45 L123,364.87 L123.5,365.27 L124,365.66 L124.5,366.04 L125,366.4 L125.5,366.75 L126,367.09 L126.5,367.4 L127,367.71 L127.5,368 L128,368.27 L128.5,368.53 L129,368.78 L129.5,369.01 L130,369.23 L130.5,369.43 L131,369.62 L131.5,369.81 L132,369.97 L132.5,370.13 L133,370.28 L133.5,370.42 L134,370.54 L134.5,370.66 L135,370.77 L135.5,370.87 L136,370.97 L136.5,371.05 L137,371.13 L137.5,371.21 L138,371.28 L138.5,371.34 L139,371.4 L139.5,371.45 L140,371.5 L140.5,371.58 L140.5,371.85 L140,371.8 L139.5,371.79 L139,371.78 L138.5,371.77 L138,371.75 L137.5,371.74 L137,371.73 L136.5,371.72 L136,371.71 L135.5,371.7 L135,371.69 L134.5,371.68 L134,371.67 L133.5,371.65 L133,371.64 L132.5,371.63 L132,371.62 L131.5,371.61 L131,371.6 L130.5,371.59 L130,371.57 L129.5,371.56 L129,371.55 L128.5,371.54 L128,371.53 L127.5,371.52 L127,371.51 L126.5,371.5 L126,371.49 L125.5,371.47 L125,371.46 L124.5,371.45 L124,371.44 L123.5,371.43 L123,371.42 L122.5,371.41 L122,371.39 L121.5,371.38 L121,371.37 L120.5,371.36 L120,371.35 L119.5,371.34 L119,371.33 L118.5,371.32 L118,371.31 L117.5,371.29 L117,371.28 L116.5,371.27 L116,371.26 L115.5,371.25 L115,371.24 L114.5,371.23 L114,371.21 L113.5,371.2 L113,371.19 L112.5,371.18 L112,371.17 L111.5,371.16 L111,371.15 L110.5,371.14 L110,371.12 L109.5,371.11 L109,371.1 L108.5,371.09 L108,371.08 L107.5,371.07 L107,371.06 L106.5,371.05 L106,371.03 L105.5,371.02 L105,371.01 L104.5,371 L104,370.99 L103.5,370.98 L103,370.97 L102.5,370.96 L102,370.94 L101.5,370.93 L101,370.92 L100.5,370.91 L100,370.9 L99.5,370.9 L99,370.89 L98.5,370.89 L98,370.88 L97.5,370.88 L97,370.87 L96.5,370.87 L96,370.86 L95.5,370.86 L95,370.85 L94.5,370.85 L94,370.84 L93.5,370.84 L93,370.83 L92.5,370.83 L92,370.82 L91.5,370.82 L91,370.81 L90.5,370.81 L90,370.8 L89.5,370.8 L89,370.79 L88.5,370.79 L88,370.78 L87.5,370.78 L87,370.78 L86.5,370.77 L86,370.77 L85.5,370.76 L85,370.76 L84.5,370.75 L84,370.75 L83.5,370.74 L83,370.74 L82.5,370.73 L82,370.73 L81.5,370.72 L81,370.72 L80.5,370.71 L80,370.71 L79.5,370.7 L79,370.7 L78.5,370.69 L78,370.69 L77.5,370.68 L77,370.68 L76.5,370.67 L76,370.67 L75.5,370.67 L75,370.66 L74.5,370.66 L74,370.65 L73.5,370.65 L73,370.64" stroke="none" stroke-width="1" fill="#FAC9CB" fill-opacity="0.85"/>
<path d="M124,371.15 L124.5,371.09 L125,371 L125.5,370.89 L126,370.77 L126.5,370.61 L127,370.43 L127.5,370.21 L128,369.97 L128.5,369.69 L129,369.37 L129.5,369.02 L130,368.64 L130.5,368.23 L131,367.8 L131.5,367.34 L132,366.88 L132.5,366.4 L133,365.93 L133.5,365.48 L134,365.05 L134.5,364.65 L135,364.29 L135.5,363.99 L136,363.75 L136.5,363.57 L137,363.47 L137.5,363.44 L138,363.49 L138.5,363.62 L139,363.82 L139.5,364.08 L140,364.41 L140.5,364.82 L141,365.28 L141.5,365.78 L142,366.29 L142.5,366.82 L143,367.36 L143.5,367.88 L144,368.4 L144.5,368.9 L145,369.37 L145.5,369.81 L146,370.22 L146.5,370.59 L147,370.94 L147.5,371.24 L148,371.52 L148.5,371.76 L149,371.98 L149.5,372.17 L150,372.34 L150.5,372.49 L151,372.61 L151,372.9 L150.5,372.85 L150,372.8 L149.5,372.75 L149,372.7 L148.5,372.65 L148,372.6 L147.5,372.55 L147,372.5 L146.5,372.45 L146,372.4 L145.5,372.35 L145,372.3 L144.5,372.25 L144,372.2 L143.5,372.15 L143,372.1 L142.5,372.05 L142,372 L141.5,371.95 L141,371.9 L140.5,371.85 L140,371.8 L139.5,371.79 L139,371.78 L138.5,371.77 L138,371.75 L137.5,371.74 L137,371.73 L136.5,371.72 L136,371.71 L135.5,371.7 L135,371.69 L134.5,371.68 L134,371.67 L133.5,371.65 L133,371.64 L132.5,371.63 L132,371.62 L131.5,371.61 L131,371.6 L130.5,371.59 L130,371.57 L129.5,371.56 L129,371.55 L128.5,371.54 L128,371.53 L127.5,371.52 L127,371.51 L126.5,371.5 L126,371.49 L125.5,371.47 L125,371.46 L124.5,371.45 L124,371.44" stroke="none" stroke-width="1" fill="#E3C9F0" fill-opacity="0.85"/>
<path d="M137.5,371.49 L138,371.46 L138.5,371.42 L139,371.38 L139.5,371.33 L140,371.27 L140.5,371.24 L141,371.2 L141.5,371.14 L142,371.07 L142.5,370.99 L143,370.89 L143.5,370.77 L144,370.63 L144.5,370.47 L145,370.28 L145.5,370.07 L146,369.83 L146.5,369.55 L147,369.24 L147.5,368.89 L148,368.5 L148.5,368.07 L149,367.59 L149.5,367.06 L150,366.48 L150.5,365.84 L151,365.14 L151.5,364.37 L152,363.54 L152.5,362.63 L153,361.66 L153.5,360.6 L154,359.47 L154.5,358.25 L155,356.95 L155.5,355.56 L156,354.08 L156.5,352.5 L157,350.84 L157.5,349.08 L158,347.23 L158.5,345.29 L159,343.25 L159.5,341.12 L160,338.91 L160.5,336.6 L161,334.22 L161.5,331.76 L162,329.23 L162.5,326.63 L163,323.96 L163.5,321.25 L164,318.49 L164.5,315.69 L165,312.87 L165.5,310.03 L166,307.18 L166.5,304.34 L167,301.52 L167.5,298.72 L168,295.96 L168.5,293.26 L169,290.62 L169.5,288.05 L170,285.58 L170.5,283.22 L171,280.96 L171.5,278.84 L172,276.85 L172.5,275.01 L173,273.34 L173.5,271.83 L174,270.5 L174.5,269.35 L175,268.4 L175.5,267.65 L176,267.09 L176.5,266.75 L177,266.61 L177.5,266.68 L178,266.96 L178.5,267.44 L179,268.12 L179.5,269.01 L180,270.08 L180.5,271.3 L181,272.69 L181.5,274.24 L182,275.95 L182.5,277.8 L183,279.77 L183.5,281.87 L184,284.06 L184.5,286.35 L185,288.72 L185.5,291.15 L186,293.65 L186.5,296.19 L187,298.76 L187.5,301.36 L188,303.97 L188.5,306.59 L189,309.2 L189.5,311.81 L190,314.39 L190.5,316.95 L191,319.47 L191.5,321.96 L192,324.4 L192.5,326.8 L193,329.13 L193.5,331.41 L194,333.63 L194.5,335.79 L195,337.87 L195.5,339.89 L196,341.84 L196.5,343.71 L197,345.51 L197.5,347.24 L198,348.89 L198.5,350.47 L199,351.98 L199.5,353.42 L200,354.78 L200.5,356.08 L201,357.31 L201.5,358.47 L202,359.56 L202.5,360.6 L203,361.57 L203.5,362.49 L204,363.35 L204.5,364.16 L205,364.92 L205.5,365.63 L206,366.29 L206.5,366.91 L207,367.49 L207.5,368.03 L208,368.53 L208.5,369 L209,369.43 L209.5,369.84 L210,370.22 L210.5,370.57 L211,370.89 L211.5,371.2 L212,371.48 L212.5,371.74 L213,371.99 L213.5,372.22 L214,372.43 L214.5,372.63 L215,372.81 L215.5,372.99 L216,373.15 L216.5,373.31 L217,373.45 L217.5,373.59 L218,373.71 L218.5,373.84 L219,373.95 L219.5,374.06 L220,374.16 L220.5,374.26 L221,374.36 L221.5,374.45 L222,374.53 L222.5,374.62 L223,374.7 L223.5,374.77 L224,374.85 L224.5,374.92 L225,374.99 L225.5,375.06 L226,375.12 L226.5,375.18 L227,375.25 L227.5,375.31 L228,375.37 L228.5,375.42 L229,375.48 L229.5,375.54 L229.5,377.55 L229,377.53 L228.5,377.51 L228,377.49 L227.5,377.48 L227,377.46 L226.5,377.44 L226,377.42 L225.5,377.41 L225,377.39 L224.5,377.37 L224,377.35 L223.5,377.34 L223,377.32 L222.5,377.3 L222,377.28 L221.5,377.26 L221,377.25 L220.5,377.23 L220,377.21 L219.5,377.19 L219,377.18 L218.5,377.16 L218,377.14 L217.5,377.12 L217,377.11 L216.5,377.09 L216,377.07 L215.5,377.05 L215,377.04 L214.5,377.02 L214,377 L213.5,376.98 L213,376.96 L212.5,376.95 L212,376.93 L211.5,376.91 L211,376.89 L210.5,376.88 L210,376.86 L209.5,376.84 L209,376.82 L208.5,376.81 L208,376.79 L207.5,376.77 L207,376.75 L206.5,376.74 L206,376.72 L205.5,376.7 L205,376.68 L204.5,376.66 L204,376.65 L203.5,376.63 L203,376.61 L202.5,376.59 L202,376.58 L201.5,376.56 L201,376.54 L200.5,376.52 L200,376.51 L199.5,376.49 L199,376.47 L198.5,376.45 L198,376.44 L197.5,376.42 L197,376.4 L196.5,376.38 L196,376.36 L195.5,376.35 L195,376.33 L194.5,376.31 L194,376.29 L193.5,376.28 L193,376.26 L192.5,376.24 L192,376.22 L191.5,376.21 L191,376.19 L190.5,376.17 L190,376.15 L189.5,376.14 L189,376.12 L188.5,376.1 L188,376.08 L187.5,376.06 L187,376.05 L186.5,376.03 L186,376.01 L185.5,375.99 L185,375.98 L184.5,375.96 L184,375.94 L183.5,375.92 L183,375.91 L182.5,375.89 L182,375.87 L181.5,375.85 L181,375.84 L180.5,375.82 L180,375.8 L179.5,375.75 L179,375.7 L178.5,375.65 L178,375.6 L177.5,375.55 L177,375.5 L176.5,375.45 L176,375.4 L175.5,375.35 L175,375.3 L174.5,375.25 L174,375.2 L173.5,375.15 L173,375.1 L172.5,375.05 L172,375 L171.5,374.95 L171,374.9 L170.5,374.85 L170,374.8 L169.5,374.75 L169,374.7 L168.5,374.65 L168,374.6 L167.5,374.55 L167,374.5 L166.5,374.45 L166,374.4 L165.5,374.35 L165,374.3 L164.5,374.25 L164,374.2 L163.5,374.15 L163,374.1 L162.5,374.05 L162,374 L161.5,373.95 L161,373.9 L160.5,373.85 L160,373.8 L159.5,373.75 L159,373.7 L158.5,373.65 L158,373.6 L157.5,373.55 L157,373.5 L156.5,373.45 L156,373.4 L155.5,373.35 L155,373.3 L154.5,373.25 L154,373.2 L153.5,373.15 L153,373.1 L152.5,373.05 L152,373 L151.5,372.95 L151,372.9 L150.5,372.85 L150,372.8 L149.5,372.75 L149,372.7 L148.5,372.65 L148,372.6 L147.5,372.55 L147,372.5 L146.5,372.45 L146,372.4 L145.5,372.35 L145,372.3 L144.5,372.25 L144,372.2 L143.5,372.15 L143,372.1 L142.5,372.05 L142,372 L141.5,371.95 L141,371.9 L140.5,371.85 L140,371.8 L139.5,371.79 L139,371.78 L138.5,371.77 L138,371.75 L137.5,371.74" stroke="none" stroke-width="1" fill="#C2E9F8" fill-opacity="0.9"/>
<path d="M128,371.25 L128.5,371.21 L129,371.16 L129.5,371.1 L130,371.04 L130.5,370.96 L131,370.87 L131.5,370.77 L132,370.66 L132.5,370.53 L133,370.39 L133.5,370.23 L134,370.05 L134.5,369.86 L135,369.64 L135.5,369.41 L136,369.16 L136.5,368.9 L137,368.61 L137.5,368.3 L138,367.98 L138.5,367.64 L139,367.29 L139.5,366.92 L140,366.54 L140.5,366.19 L141,365.84 L141.5,365.48 L142,365.12 L142.5,364.77 L143,364.42 L143.5,364.07 L144,363.75 L144.5,363.44 L145,363.15 L145.5,362.88 L146,362.64 L146.5,362.43 L147,362.26 L147.5,362.12 L148,362.01 L148.5,361.95 L149,361.93 L149.5,361.95 L150,362.01 L150.5,362.12 L151,362.26 L151.5,362.45 L152,362.68 L152.5,362.94 L153,363.23 L153.5,363.56 L154,363.92 L154.5,364.3 L155,364.7 L155.5,365.12 L156,365.56 L156.5,366 L157,366.46 L157.5,366.92 L158,367.38 L158.5,367.83 L159,368.28 L159.5,368.73 L160,369.16 L160.5,369.58 L161,369.99 L161.5,370.38 L162,370.75 L162.5,371.11 L163,371.44 L163.5,371.76 L164,372.06 L164.5,372.34 L165,372.61 L165.5,372.85 L166,373.08 L166.5,373.29 L167,373.49 L167.5,373.67 L168,373.83 L168.5,373.99 L169,374.13 L169.5,374.26 L170,374.38 L170.5,374.49 L171,374.6 L171.5,374.7 L171.5,374.95 L171,374.9 L170.5,374.85 L170,374.8 L169.5,374.75 L169,374.7 L168.5,374.65 L168,374.6 L167.5,374.55 L167,374.5 L166.5,374.45 L166,374.4 L165.5,374.35 L165,374.3 L164.5,374.25 L164,374.2 L163.5,374.15 L163,374.1 L162.5,374.05 L162,374 L161.5,373.95 L161,373.9 L160.5,373.85 L160,373.8 L159.5,373.75 L159,373.7 L158.5,373.65 L158,373.6 L157.5,373.55 L157,373.5 L156.5,373.45 L156,373.4 L155.5,373.35 L155,373.3 L154.5,373.25 L154,373.2 L153.5,373.15 L153,373.1 L152.5,373.05 L152,373 L151.5,372.95 L151,372.9 L150.5,372.85 L150,372.8 L149.5,372.75 L149,372.7 L148.5,372.65 L148,372.6 L147.5,372.55 L147,372.5 L146.5,372.45 L146,372.4 L145.5,372.35 L145,372.3 L144.5,372.25 L144,372.2 L143.5,372.15 L143,372.1 L142.5,372.05 L142,372 L141.5,371.95 L141,371.9 L140.5,371.85 L140,371.8 L139.5,371.79 L139,371.78 L138.5,371.77 L138,371.75 L137.5,371.74 L137,371.73 L136.5,371.72 L136,371.71 L135.5,371.7 L135,371.69 L134.5,371.68 L134,371.67 L133.5,371.65 L133,371.64 L132.5,371.63 L132,371.62 L131.5,371.61 L131,371.6 L130.5,371.59 L130,371.57 L129.5,371.56 L129,371.55 L128.5,371.54 L128,371.53" stroke="none" stroke-width="1" fill="#FAE3CC" fill-opacity="0.8"/>
<g fill="none" stroke="#a6a6a6" stroke-width="0.8"><circle cx="27.5" cy="369.1" r="2.2"/><circle cx="29.5" cy="369.1" r="2.2"/><circle cx="31.5" cy="369.0" r="2.2"/><circle cx="33.5" cy="368.9" r="2.2"/><circle cx="35.5" cy="368.7" r="2.2"/><circle cx="37.5" cy="368.5" r="2.2"/><circle cx="39.5" cy="368.4" r="2.2"/><circle cx="41.5" cy="368.1" r="2.2"/><circle cx="43.5" cy="367.9" r="2.2"/><circle cx="45.5" cy="367.7" r="2.2"/><circle cx="47.5" cy="367.5" r="2.2"/><circle cx="49.5" cy="367.3" r="2.2"/><circle cx="51.5" cy="367.1" r="2.2"/><circle cx="53.5" cy="366.9" r="2.2"/><circle cx="55.5" cy="366.8" r="2.2"/><circle cx="57.5" cy="366.7" r="2.2"/><circle cx="59.5" cy="366.6" r="2.2"/><circle cx="61.5" cy="366.6" r="2.2"/><circle cx="63.5" cy="366.5" r="2.2"/><circle cx="65.5" cy="366.5" r="2.2"/><circle cx="67.5" cy="366.5" r="2.2"/><circle cx="69.5" cy="366.3" r="2.2"/><circle cx="71.5" cy="366.2" r="2.2"/><circle cx="73.5" cy="365.9" r="2.2"/><circle cx="75.5" cy="365.4" r="2.2"/><circle cx="77.5" cy="364.8" r="2.2"/><circle cx="79.5" cy="364.1" r="2.2"/><circle cx="81.5" cy="363.1" r="2.2"/><circle cx="83.5" cy="362.0" r="2.2"/><circle cx="85.5" cy="360.6" r="2.2"/><circle cx="87.5" cy="359.1" r="2.2"/><circle cx="89.5" cy="357.6" r="2.2"/><circle cx="91.5" cy="355.9" r="2.2"/><circle cx="93.5" cy="354.3" r="2.2"/><circle cx="95.5" cy="352.7" r="2.2"/><circle cx="97.5" cy="351.3" r="2.2"/><circle cx="99.5" cy="350.1" r="2.2"/><circle cx="101.5" cy="349.2" r="2.2"/><circle cx="103.5" cy="348.7" r="2.2"/><circle cx="105.5" cy="348.5" r="2.2"/><circle cx="107.5" cy="348.6" r="2.2"/><circle cx="109.5" cy="349.2" r="2.2"/><circle cx="111.5" cy="350.0" r="2.2"/><circle cx="113.5" cy="351.1" r="2.2"/><circle cx="115.5" cy="352.4" r="2.2"/><circle cx="117.5" cy="353.8" r="2.2"/><circle cx="119.5" cy="355.2" r="2.2"/><circle cx="121.5" cy="356.4" r="2.2"/><circle cx="123.5" cy="357.4" r="2.2"/><circle cx="125.5" cy="358.0" r="2.2"/><circle cx="127.5" cy="358.3" r="2.2"/><circle cx="129.5" cy="358.1" r="2.2"/><circle cx="131.5" cy="357.5" r="2.2"/><circle cx="133.5" cy="356.4" r="2.2"/><circle cx="135.5" cy="355.0" r="2.2"/><circle cx="137.5" cy="353.4" r="2.2"/><circle cx="139.5" cy="351.7" r="2.2"/><circle cx="141.5" cy="350.1" r="2.2"/><circle cx="143.5" cy="348.6" r="2.2"/><circle cx="145.5" cy="347.4" r="2.2"/><circle cx="147.5" cy="346.5" r="2.2"/><circle cx="149.5" cy="345.7" r="2.2"/><circle cx="151.5" cy="344.8" r="2.2"/><circle cx="153.5" cy="343.3" r="2.2"/><circle cx="155.5" cy="341.0" r="2.2"/><circle cx="157.5" cy="337.4" r="2.2"/><circle cx="159.5" cy="332.6" r="2.2"/><circle cx="161.5" cy="326.7" r="2.2"/><circle cx="163.5" cy="319.8" r="2.2"/><circle cx="165.5" cy="312.0" r="2.2"/><circle cx="167.5" cy="303.3" r="2.2"/><circle cx="169.5" cy="293.5" r="2.2"/><circle cx="171.5" cy="282.9" r="2.2"/><circle cx="173.5" cy="272.9" r="2.2"/><circle cx="175.5" cy="266.2" r="2.2"/><circle cx="177.5" cy="266.0" r="2.2"/><circle cx="179.5" cy="270.1" r="2.2"/><circle cx="181.5" cy="276.4" r="2.2"/><circle cx="183.5" cy="284.4" r="2.2"/><circle cx="185.5" cy="293.8" r="2.2"/><circle cx="187.5" cy="303.9" r="2.2"/><circle cx="189.5" cy="314.2" r="2.2"/><circle cx="191.5" cy="324.1" r="2.2"/><circle cx="193.5" cy="333.4" r="2.2"/><circle cx="195.5" cy="341.7" r="2.2"/><circle cx="197.5" cy="348.8" r="2.2"/><circle cx="199.5" cy="354.9" r="2.2"/><circle cx="201.5" cy="359.8" r="2.2"/><circle cx="203.5" cy="363.8" r="2.2"/><circle cx="205.5" cy="366.8" r="2.2"/><circle cx="207.5" cy="369.2" r="2.2"/><circle cx="209.5" cy="371.0" r="2.2"/><circle cx="211.5" cy="372.3" r="2.2"/><circle cx="213.5" cy="373.3" r="2.2"/><circle cx="215.5" cy="374.1" r="2.2"/><circle cx="217.5" cy="374.7" r="2.2"/><circle cx="219.5" cy="375.2" r="2.2"/><circle cx="221.5" cy="375.6" r="2.2"/><circle cx="223.5" cy="375.9" r="2.2"/><circle cx="225.5" cy="376.2" r="2.2"/><circle cx="227.5" cy="376.5" r="2.2"/><circle cx="229.5" cy="376.7" r="2.2"/></g>
<path d="M27.5,369.13 L28,369.11 L28.5,369.1 L29,369.08 L29.5,369.06 L30,369.04 L30.5,369.02 L31,369 L31.5,368.97 L32,368.95 L32.5,368.92 L33,368.89 L33.5,368.86 L34,368.83 L34.5,368.79 L35,368.75 L35.5,368.72 L36,368.68 L36.5,368.64 L37,368.59 L37.5,368.55 L38,368.5 L38.5,368.45 L39,368.41 L39.5,368.36 L40,368.31 L40.5,368.25 L41,368.2 L41.5,368.15 L42,368.09 L42.5,368.04 L43,367.98 L43.5,367.93 L44,367.87 L44.5,367.81 L45,367.76 L45.5,367.7 L46,367.64 L46.5,367.59 L47,367.53 L47.5,367.48 L48,367.42 L48.5,367.37 L49,367.32 L49.5,367.27 L50,367.22 L50.5,367.17 L51,367.12 L51.5,367.08 L52,367.03 L52.5,366.99 L53,366.95 L53.5,366.91 L54,366.88 L54.5,366.84 L55,366.81 L55.5,366.78 L56,366.75 L56.5,366.73 L57,366.7 L57.5,366.68 L58,366.66 L58.5,366.65 L59,366.63 L59.5,366.62 L60,366.6 L60.5,366.59 L61,366.58 L61.5,366.57 L62,366.56 L62.5,366.56 L63,366.55 L63.5,366.54 L64,366.54 L64.5,366.53 L65,366.52 L65.5,366.51 L66,366.5 L66.5,366.48 L67,366.47 L67.5,366.45 L68,366.43 L68.5,366.4 L69,366.37 L69.5,366.34 L70,366.3 L70.5,366.26 L71,366.21 L71.5,366.15 L72,366.09 L72.5,366.02 L73,365.94 L73.5,365.86 L74,365.77 L74.5,365.66 L75,365.55 L75.5,365.43 L76,365.3 L76.5,365.15 L77,365 L77.5,364.84 L78,364.66 L78.5,364.48 L79,364.28 L79.5,364.07 L80,363.84 L80.5,363.61 L81,363.36 L81.5,363.11 L82,362.83 L82.5,362.55 L83,362.26 L83.5,361.95 L84,361.64 L84.5,361.31 L85,360.97 L85.5,360.63 L86,360.27 L86.5,359.9 L87,359.53 L87.5,359.15 L88,358.76 L88.5,358.36 L89,357.96 L89.5,357.56 L90,357.15 L90.5,356.74 L91,356.33 L91.5,355.91 L92,355.5 L92.5,355.09 L93,354.68 L93.5,354.28 L94,353.88 L94.5,353.48 L95,353.1 L95.5,352.72 L96,352.35 L96.5,351.99 L97,351.65 L97.5,351.31 L98,350.99 L98.5,350.69 L99,350.4 L99.5,350.13 L100,349.87 L100.5,349.64 L101,349.42 L101.5,349.23 L102,349.05 L102.5,348.9 L103,348.77 L103.5,348.66 L104,348.57 L104.5,348.51 L105,348.47 L105.5,348.46 L106,348.46 L106.5,348.49 L107,348.55 L107.5,348.63 L108,348.73 L108.5,348.85 L109,348.99 L109.5,349.16 L110,349.34 L110.5,349.54 L111,349.77 L111.5,350.01 L112,350.26 L112.5,350.54 L113,350.82 L113.5,351.12 L114,351.43 L114.5,351.75 L115,352.08 L115.5,352.42 L116,352.76 L116.5,353.1 L117,353.45 L117.5,353.8 L118,354.14 L118.5,354.49 L119,354.82 L119.5,355.16 L120,355.48 L120.5,355.8 L121,356.1 L121.5,356.39 L122,356.66 L122.5,356.92 L123,357.16 L123.5,357.38 L124,357.58 L124.5,357.76 L125,357.92 L125.5,358.05 L126,358.15 L126.5,358.23 L127,358.28 L127.5,358.31 L128,358.3 L128.5,358.27 L129,358.21 L129.5,358.12 L130,358.01 L130.5,357.86 L131,357.69 L131.5,357.49 L132,357.26 L132.5,357.01 L133,356.73 L133.5,356.43 L134,356.11 L134.5,355.77 L135,355.41 L135.5,355.04 L136,354.65 L136.5,354.25 L137,353.84 L137.5,353.42 L138,352.99 L138.5,352.56 L139,352.13 L139.5,351.71 L140,351.28 L140.5,350.86 L141,350.46 L141.5,350.06 L142,349.67 L142.5,349.3 L143,348.94 L143.5,348.6 L144,348.27 L144.5,347.96 L145,347.68 L145.5,347.41 L146,347.15 L146.5,346.92 L147,346.69 L147.5,346.48 L148,346.28 L148.5,346.08 L149,345.88 L149.5,345.69 L150,345.48 L150.5,345.26 L151,345.02 L151.5,344.76 L152,344.46 L152.5,344.12 L153,343.75 L153.5,343.31 L154,342.83 L154.5,342.28 L155,341.66 L155.5,340.97 L156,340.21 L156.5,339.37 L157,338.44 L157.5,337.44 L158,336.36 L158.5,335.2 L159,333.96 L159.5,332.65 L160,331.26 L160.5,329.81 L161,328.29 L161.5,326.71 L162,325.06 L162.5,323.37 L163,321.62 L163.5,319.81 L164,317.95 L164.5,316.04 L165,314.07 L165.5,312.05 L166,309.96 L166.5,307.81 L167,305.6 L167.5,303.32 L168,300.96 L168.5,298.54 L169,296.05 L169.5,293.5 L170,290.9 L170.5,288.25 L171,285.59 L171.5,282.92 L172,280.28 L172.5,277.7 L173,275.23 L173.5,272.91 L174,270.79 L174.5,268.93 L175,267.39 L175.5,266.22 L176,265.47 L176.5,265.19 L177,265.39 L177.5,266.04 L178,266.85 L178.5,267.8 L179,268.89 L179.5,270.12 L180,271.48 L180.5,272.98 L181,274.61 L181.5,276.35 L182,278.22 L182.5,280.19 L183,282.26 L183.5,284.42 L184,286.67 L184.5,288.99 L185,291.37 L185.5,293.81 L186,296.29 L186.5,298.81 L187,301.36 L187.5,303.92 L188,306.5 L188.5,309.07 L189,311.64 L189.5,314.19 L190,316.73 L190.5,319.23 L191,321.71 L191.5,324.14 L192,326.53 L192.5,328.87 L193,331.15 L193.5,333.38 L194,335.55 L194.5,337.65 L195,339.69 L195.5,341.66 L196,343.57 L196.5,345.4 L197,347.16 L197.5,348.84 L198,350.46 L198.5,352.01 L199,353.48 L199.5,354.88 L200,356.22 L200.5,357.49 L201,358.69 L201.5,359.82 L202,360.9 L202.5,361.91 L203,362.86 L203.5,363.76 L204,364.6 L204.5,365.4 L205,366.14 L205.5,366.83 L206,367.48 L206.5,368.09 L207,368.66 L207.5,369.19 L208,369.68 L208.5,370.14 L209,370.57 L209.5,370.97 L210,371.34 L210.5,371.69 L211,372.01 L211.5,372.31 L212,372.59 L212.5,372.85 L213,373.1 L213.5,373.33 L214,373.54 L214.5,373.74 L215,373.92 L215.5,374.1 L216,374.26 L216.5,374.41 L217,374.56 L217.5,374.7 L218,374.83 L218.5,374.95 L219,375.07 L219.5,375.18 L220,375.28 L220.5,375.38 L221,375.48 L221.5,375.57 L222,375.66 L222.5,375.75 L223,375.83 L223.5,375.91 L224,375.99 L224.5,376.06 L225,376.13 L225.5,376.2 L226,376.27 L226.5,376.34 L227,376.4 L227.5,376.47 L228,376.53 L228.5,376.59 L229,376.65 L229.5,376.71" stroke="#555555" stroke-width="1.35" fill="none" stroke-linejoin="round"/>
<path d="M27.5,519.27 L28,519.25 L28.5,519.24 L29,519.22 L29.5,519.2 L30,519.19 L30.5,519.17 L31,519.15 L31.5,519.13 L32,519.11 L32.5,519.1 L33,519.08 L33.5,519.06 L34,519.04 L34.5,519.03 L35,519.01 L35.5,518.99 L36,518.97 L36.5,518.95 L37,518.94 L37.5,518.92 L38,518.9 L38.5,518.89 L39,518.87 L39.5,518.85 L40,518.84 L40.5,518.82 L41,518.81 L41.5,518.79 L42,518.78 L42.5,518.77 L43,518.75 L43.5,518.74 L44,518.73 L44.5,518.72 L45,518.7 L45.5,518.69 L46,518.68 L46.5,518.68 L47,518.67 L47.5,518.66 L48,518.65 L48.5,518.65 L49,518.64 L49.5,518.63 L50,518.63 L50.5,518.63 L51,518.62 L51.5,518.62 L52,518.62 L52.5,518.62 L53,518.62 L53.5,518.62 L54,518.62 L54.5,518.63 L55,518.63 L55.5,518.63 L56,518.64 L56.5,518.65 L57,518.65 L57.5,518.66 L58,518.67 L58.5,518.68 L59,518.69 L59.5,518.7 L60,518.71 L60.5,518.72 L61,518.74 L61.5,518.75 L62,518.77 L62.5,518.78 L63,518.8 L63.5,518.82 L64,518.83 L64.5,518.85 L65,518.87 L65.5,518.89 L66,518.91 L66.5,518.93 L67,518.95 L67.5,518.97 L68,518.99 L68.5,519.02 L69,519.04 L69.5,519.06 L70,519.09 L70.5,519.11 L71,519.13 L71.5,519.16 L72,519.18 L72.5,519.21 L73,519.23 L73.5,519.26 L74,519.28 L74.5,519.31 L75,519.34 L75.5,519.36 L76,519.39 L76.5,519.41 L77,519.44 L77.5,519.47 L78,519.49 L78.5,519.52 L79,519.54 L79.5,519.57 L80,519.6 L80.5,519.62 L81,519.65 L81.5,519.67 L82,519.7 L82.5,519.72 L83,519.75 L83.5,519.77 L84,519.8 L84.5,519.82 L85,519.85 L85.5,519.87 L86,519.89 L86.5,519.91 L87,519.94 L87.5,519.96 L88,519.98 L88.5,520 L89,520.02 L89.5,520.05 L90,520.07 L90.5,520.09 L91,520.11 L91.5,520.13 L92,520.15 L92.5,520.16 L93,520.18 L93.5,520.2 L94,520.22 L94.5,520.24 L95,520.25 L95.5,520.27 L96,520.29 L96.5,520.3 L97,520.32 L97,520.58 L96.5,520.57 L96,520.57 L95.5,520.56 L95,520.56 L94.5,520.55 L94,520.55 L93.5,520.55 L93,520.54 L92.5,520.54 L92,520.53 L91.5,520.53 L91,520.53 L90.5,520.52 L90,520.52 L89.5,520.51 L89,520.51 L88.5,520.51 L88,520.5 L87.5,520.5 L87,520.49 L86.5,520.49 L86,520.48 L85.5,520.48 L85,520.48 L84.5,520.47 L84,520.47 L83.5,520.46 L83,520.46 L82.5,520.46 L82,520.45 L81.5,520.45 L81,520.44 L80.5,520.44 L80,520.44 L79.5,520.43 L79,520.43 L78.5,520.42 L78,520.42 L77.5,520.42 L77,520.41 L76.5,520.41 L76,520.4 L75.5,520.4 L75,520.39 L74.5,520.39 L74,520.39 L73.5,520.38 L73,520.38 L72.5,520.37 L72,520.37 L71.5,520.37 L71,520.36 L70.5,520.36 L70,520.35 L69.5,520.35 L69,520.35 L68.5,520.34 L68,520.34 L67.5,520.33 L67,520.33 L66.5,520.32 L66,520.32 L65.5,520.32 L65,520.31 L64.5,520.31 L64,520.3 L63.5,520.3 L63,520.3 L62.5,520.29 L62,520.29 L61.5,520.28 L61,520.28 L60.5,520.28 L60,520.27 L59.5,520.27 L59,520.26 L58.5,520.26 L58,520.25 L57.5,520.25 L57,520.25 L56.5,520.24 L56,520.24 L55.5,520.23 L55,520.23 L54.5,520.23 L54,520.22 L53.5,520.22 L53,520.21 L52.5,520.21 L52,520.21 L51.5,520.2 L51,520.2 L50.5,520.19 L50,520.19 L49.5,520.18 L49,520.18 L48.5,520.18 L48,520.17 L47.5,520.17 L47,520.16 L46.5,520.16 L46,520.16 L45.5,520.15 L45,520.15 L44.5,520.14 L44,520.14 L43.5,520.14 L43,520.13 L42.5,520.13 L42,520.12 L41.5,520.12 L41,520.12 L40.5,520.11 L40,520.11 L39.5,520.1 L39,520.1 L38.5,520.09 L38,520.09 L37.5,520.09 L37,520.08 L36.5,520.08 L36,520.07 L35.5,520.07 L35,520.07 L34.5,520.06 L34,520.06 L33.5,520.05 L33,520.05 L32.5,520.05 L32,520.04 L31.5,520.04 L31,520.03 L30.5,520.03 L30,520.02 L29.5,520.02 L29,520.02 L28.5,520.01 L28,520.01 L27.5,520" stroke="none" stroke-width="1" fill="#BDF0EC" fill-opacity="0.85"/>
<path d="M72.5,520.1 L73,520.06 L73.5,520.02 L74,519.97 L74.5,519.92 L75,519.86 L75.5,519.79 L76,519.72 L76.5,519.63 L77,519.54 L77.5,519.44 L78,519.32 L78.5,519.2 L79,519.06 L79.5,518.91 L80,518.74 L80.5,518.56 L81,518.36 L81.5,518.14 L82,517.91 L82.5,517.66 L83,517.39 L83.5,517.1 L84,516.79 L84.5,516.46 L85,516.11 L85.5,515.73 L86,515.33 L86.5,514.91 L87,514.47 L87.5,514.01 L88,513.52 L88.5,513.01 L89,512.48 L89.5,511.93 L90,511.36 L90.5,510.77 L91,510.17 L91.5,509.55 L92,508.92 L92.5,508.27 L93,507.62 L93.5,506.96 L94,506.29 L94.5,505.62 L95,504.95 L95.5,504.29 L96,503.63 L96.5,502.98 L97,502.35 L97.5,501.73 L98,501.12 L98.5,500.55 L99,499.99 L99.5,499.46 L100,498.97 L100.5,498.51 L101,498.09 L101.5,497.71 L102,497.37 L102.5,497.08 L103,496.83 L103.5,496.62 L104,496.47 L104.5,496.36 L105,496.3 L105.5,496.3 L106,496.34 L106.5,496.42 L107,496.54 L107.5,496.7 L108,496.91 L108.5,497.15 L109,497.43 L109.5,497.75 L110,498.1 L110.5,498.49 L111,498.91 L111.5,499.36 L112,499.83 L112.5,500.34 L113,500.86 L113.5,501.41 L114,501.97 L114.5,502.55 L115,503.14 L115.5,503.75 L116,504.36 L116.5,504.98 L117,505.61 L117.5,506.23 L118,506.86 L118.5,507.48 L119,508.1 L119.5,508.71 L120,509.31 L120.5,509.9 L121,510.49 L121.5,511.06 L122,511.61 L122.5,512.15 L123,512.68 L123.5,513.19 L124,513.68 L124.5,514.15 L125,514.61 L125.5,515.05 L126,515.46 L126.5,515.86 L127,516.24 L127.5,516.61 L128,516.95 L128.5,517.27 L129,517.58 L129.5,517.87 L130,518.14 L130.5,518.4 L131,518.64 L131.5,518.86 L132,519.07 L132.5,519.26 L133,519.44 L133.5,519.61 L134,519.77 L134.5,519.91 L135,520.05 L135.5,520.17 L136,520.29 L136.5,520.39 L137,520.49 L137.5,520.57 L138,520.66 L138.5,520.73 L139,520.8 L139.5,520.86 L140,520.92 L140.5,521.01 L141,521.11 L141.5,521.19 L141.5,521.46 L141,521.4 L140.5,521.35 L140,521.3 L139.5,521.29 L139,521.28 L138.5,521.27 L138,521.26 L137.5,521.26 L137,521.25 L136.5,521.24 L136,521.23 L135.5,521.22 L135,521.21 L134.5,521.2 L134,521.19 L133.5,521.19 L133,521.18 L132.5,521.17 L132,521.16 L131.5,521.15 L131,521.14 L130.5,521.13 L130,521.12 L129.5,521.12 L129,521.11 L128.5,521.1 L128,521.09 L127.5,521.08 L127,521.07 L126.5,521.06 L126,521.05 L125.5,521.05 L125,521.04 L124.5,521.03 L124,521.02 L123.5,521.01 L123,521 L122.5,520.99 L122,520.99 L121.5,520.98 L121,520.97 L120.5,520.96 L120,520.95 L119.5,520.94 L119,520.93 L118.5,520.92 L118,520.91 L117.5,520.91 L117,520.9 L116.5,520.89 L116,520.88 L115.5,520.87 L115,520.86 L114.5,520.85 L114,520.85 L113.5,520.84 L113,520.83 L112.5,520.82 L112,520.81 L111.5,520.8 L111,520.79 L110.5,520.78 L110,520.77 L109.5,520.77 L109,520.76 L108.5,520.75 L108,520.74 L107.5,520.73 L107,520.72 L106.5,520.71 L106,520.71 L105.5,520.7 L105,520.69 L104.5,520.68 L104,520.67 L103.5,520.66 L103,520.65 L102.5,520.64 L102,520.63 L101.5,520.63 L101,520.62 L100.5,520.61 L100,520.6 L99.5,520.6 L99,520.59 L98.5,520.59 L98,520.58 L97.5,520.58 L97,520.58 L96.5,520.57 L96,520.57 L95.5,520.56 L95,520.56 L94.5,520.55 L94,520.55 L93.5,520.55 L93,520.54 L92.5,520.54 L92,520.53 L91.5,520.53 L91,520.53 L90.5,520.52 L90,520.52 L89.5,520.51 L89,520.51 L88.5,520.51 L88,520.5 L87.5,520.5 L87,520.49 L86.5,520.49 L86,520.48 L85.5,520.48 L85,520.48 L84.5,520.47 L84,520.47 L83.5,520.46 L83,520.46 L82.5,520.46 L82,520.45 L81.5,520.45 L81,520.44 L80.5,520.44 L80,520.44 L79.5,520.43 L79,520.43 L78.5,520.42 L78,520.42 L77.5,520.42 L77,520.41 L76.5,520.41 L76,520.4 L75.5,520.4 L75,520.39 L74.5,520.39 L74,520.39 L73.5,520.38 L73,520.38 L72.5,520.37" stroke="none" stroke-width="1" fill="#FAC9CB" fill-opacity="0.85"/>
<path d="M115.5,520.6 L116,520.55 L116.5,520.48 L117,520.4 L117.5,520.31 L118,520.2 L118.5,520.07 L119,519.92 L119.5,519.75 L120,519.56 L120.5,519.35 L121,519.12 L121.5,518.87 L122,518.6 L122.5,518.3 L123,518 L123.5,517.67 L124,517.34 L124.5,517 L125,516.65 L125.5,516.31 L126,515.97 L126.5,515.65 L127,515.34 L127.5,515.06 L128,514.81 L128.5,514.59 L129,514.42 L129.5,514.28 L130,514.19 L130.5,514.14 L131,514.15 L131.5,514.19 L132,514.28 L132.5,514.4 L133,514.57 L133.5,514.76 L134,514.99 L134.5,515.25 L135,515.53 L135.5,515.83 L136,516.15 L136.5,516.47 L137,516.81 L137.5,517.14 L138,517.47 L138.5,517.8 L139,518.12 L139.5,518.43 L140,518.73 L140.5,519.05 L141,519.36 L141.5,519.65 L142,519.92 L142.5,520.18 L143,520.41 L143.5,520.63 L144,520.83 L144.5,521.01 L145,521.18 L145.5,521.33 L146,521.48 L146.5,521.6 L147,521.72 L147.5,521.83 L147.5,522.09 L147,522.03 L146.5,521.98 L146,521.93 L145.5,521.88 L145,521.82 L144.5,521.77 L144,521.72 L143.5,521.67 L143,521.62 L142.5,521.56 L142,521.51 L141.5,521.46 L141,521.4 L140.5,521.35 L140,521.3 L139.5,521.29 L139,521.28 L138.5,521.27 L138,521.26 L137.5,521.26 L137,521.25 L136.5,521.24 L136,521.23 L135.5,521.22 L135,521.21 L134.5,521.2 L134,521.19 L133.5,521.19 L133,521.18 L132.5,521.17 L132,521.16 L131.5,521.15 L131,521.14 L130.5,521.13 L130,521.12 L129.5,521.12 L129,521.11 L128.5,521.1 L128,521.09 L127.5,521.08 L127,521.07 L126.5,521.06 L126,521.05 L125.5,521.05 L125,521.04 L124.5,521.03 L124,521.02 L123.5,521.01 L123,521 L122.5,520.99 L122,520.99 L121.5,520.98 L121,520.97 L120.5,520.96 L120,520.95 L119.5,520.94 L119,520.93 L118.5,520.92 L118,520.91 L117.5,520.91 L117,520.9 L116.5,520.89 L116,520.88 L115.5,520.87" stroke="none" stroke-width="1" fill="#E3C9F0" fill-opacity="0.85"/>
<path d="M137.5,521 L138,520.97 L138.5,520.93 L139,520.89 L139.5,520.83 L140,520.77 L140.5,520.75 L141,520.71 L141.5,520.66 L142,520.59 L142.5,520.51 L143,520.41 L143.5,520.3 L144,520.16 L144.5,520.01 L145,519.82 L145.5,519.61 L146,519.37 L146.5,519.1 L147,518.8 L147.5,518.45 L148,518.07 L148.5,517.64 L149,517.16 L149.5,516.64 L150,516.06 L150.5,515.42 L151,514.72 L151.5,513.95 L152,513.12 L152.5,512.21 L153,511.23 L153.5,510.18 L154,509.03 L154.5,507.81 L155,506.49 L155.5,505.09 L156,503.59 L156.5,501.99 L157,500.3 L157.5,498.52 L158,496.63 L158.5,494.65 L159,492.56 L159.5,490.38 L160,488.11 L160.5,485.74 L161,483.28 L161.5,480.73 L162,478.11 L162.5,475.4 L163,472.63 L163.5,469.8 L164,466.9 L164.5,463.96 L165,460.99 L165.5,457.98 L166,454.96 L166.5,451.93 L167,448.9 L167.5,445.89 L168,442.91 L168.5,439.98 L169,437.09 L169.5,434.28 L170,431.55 L170.5,428.91 L171,426.38 L171.5,423.97 L172,421.69 L172.5,419.56 L173,417.59 L173.5,415.78 L174,414.15 L174.5,412.71 L175,411.46 L175.5,410.41 L176,409.57 L176.5,408.95 L177,408.54 L177.5,408.35 L178,408.38 L178.5,408.64 L179,409.13 L179.5,409.85 L180,410.8 L180.5,411.93 L181,413.27 L181.5,414.8 L182,416.53 L182.5,418.43 L183,420.51 L183.5,422.73 L184,425.1 L184.5,427.59 L185,430.2 L185.5,432.91 L186,435.7 L186.5,438.57 L187,441.49 L187.5,444.46 L188,447.47 L188.5,450.49 L189,453.53 L189.5,456.56 L190,459.58 L190.5,462.57 L191,465.53 L191.5,468.46 L192,471.33 L192.5,474.14 L193,476.89 L193.5,479.57 L194,482.18 L194.5,484.7 L195,487.14 L195.5,489.49 L196,491.76 L196.5,493.93 L197,496.01 L197.5,498 L198,499.89 L198.5,501.69 L199,503.4 L199.5,505.02 L200,506.54 L200.5,507.98 L201,509.34 L201.5,510.61 L202,511.8 L202.5,512.91 L203,513.95 L203.5,514.92 L204,515.82 L204.5,516.66 L205,517.43 L205.5,518.15 L206,518.81 L206.5,519.42 L207,519.99 L207.5,520.51 L208,520.98 L208.5,521.42 L209,521.82 L209.5,522.19 L210,522.53 L210.5,522.84 L211,523.12 L211.5,523.38 L212,523.62 L212.5,523.83 L213,524.03 L213.5,524.22 L214,524.38 L214.5,524.54 L215,524.68 L215.5,524.81 L216,524.93 L216.5,525.04 L217,525.14 L217.5,525.24 L218,525.33 L218.5,525.41 L219,525.49 L219.5,525.56 L220,525.63 L220.5,525.7 L221,525.76 L221.5,525.82 L222,525.88 L222.5,525.93 L223,525.98 L223.5,526.03 L224,526.08 L224.5,526.13 L225,526.17 L225.5,526.21 L226,526.26 L226.5,526.3 L227,526.34 L227.5,526.38 L228,526.42 L228.5,526.46 L229,526.5 L229.5,526.53 L229.5,527.44 L229,527.42 L228.5,527.4 L228,527.38 L227.5,527.36 L227,527.34 L226.5,527.32 L226,527.3 L225.5,527.28 L225,527.26 L224.5,527.25 L224,527.23 L223.5,527.21 L223,527.19 L222.5,527.17 L222,527.15 L221.5,527.13 L221,527.11 L220.5,527.09 L220,527.07 L219.5,527.05 L219,527.03 L218.5,527.01 L218,526.99 L217.5,526.97 L217,526.95 L216.5,526.93 L216,526.91 L215.5,526.89 L215,526.87 L214.5,526.85 L214,526.83 L213.5,526.81 L213,526.79 L212.5,526.77 L212,526.75 L211.5,526.74 L211,526.72 L210.5,526.7 L210,526.68 L209.5,526.66 L209,526.64 L208.5,526.62 L208,526.6 L207.5,526.58 L207,526.56 L206.5,526.54 L206,526.52 L205.5,526.5 L205,526.48 L204.5,526.46 L204,526.44 L203.5,526.42 L203,526.4 L202.5,526.38 L202,526.36 L201.5,526.34 L201,526.32 L200.5,526.3 L200,526.28 L199.5,526.26 L199,526.25 L198.5,526.23 L198,526.21 L197.5,526.19 L197,526.17 L196.5,526.15 L196,526.13 L195.5,526.11 L195,526.09 L194.5,526.07 L194,526.05 L193.5,526.03 L193,526.01 L192.5,525.99 L192,525.97 L191.5,525.95 L191,525.93 L190.5,525.91 L190,525.89 L189.5,525.87 L189,525.85 L188.5,525.83 L188,525.81 L187.5,525.79 L187,525.77 L186.5,525.75 L186,525.74 L185.5,525.72 L185,525.7 L184.5,525.68 L184,525.66 L183.5,525.64 L183,525.62 L182.5,525.6 L182,525.58 L181.5,525.56 L181,525.54 L180.5,525.52 L180,525.5 L179.5,525.45 L179,525.39 L178.5,525.34 L178,525.29 L177.5,525.24 L177,525.18 L176.5,525.13 L176,525.08 L175.5,525.03 L175,524.98 L174.5,524.92 L174,524.87 L173.5,524.82 L173,524.76 L172.5,524.71 L172,524.66 L171.5,524.61 L171,524.55 L170.5,524.5 L170,524.45 L169.5,524.4 L169,524.35 L168.5,524.29 L168,524.24 L167.5,524.19 L167,524.13 L166.5,524.08 L166,524.03 L165.5,523.98 L165,523.92 L164.5,523.87 L164,523.82 L163.5,523.77 L163,523.72 L162.5,523.66 L162,523.61 L161.5,523.56 L161,523.5 L160.5,523.45 L160,523.4 L159.5,523.35 L159,523.29 L158.5,523.24 L158,523.19 L157.5,523.14 L157,523.08 L156.5,523.03 L156,522.98 L155.5,522.93 L155,522.88 L154.5,522.82 L154,522.77 L153.5,522.72 L153,522.66 L152.5,522.61 L152,522.56 L151.5,522.51 L151,522.45 L150.5,522.4 L150,522.35 L149.5,522.3 L149,522.25 L148.5,522.19 L148,522.14 L147.5,522.09 L147,522.03 L146.5,521.98 L146,521.93 L145.5,521.88 L145,521.82 L144.5,521.77 L144,521.72 L143.5,521.67 L143,521.62 L142.5,521.56 L142,521.51 L141.5,521.46 L141,521.4 L140.5,521.35 L140,521.3 L139.5,521.29 L139,521.28 L138.5,521.27 L138,521.26 L137.5,521.26" stroke="none" stroke-width="1" fill="#C2E9F8" fill-opacity="0.9"/>
<path d="M121.5,520.7 L122,520.66 L122.5,520.61 L123,520.56 L123.5,520.5 L124,520.43 L124.5,520.35 L125,520.26 L125.5,520.15 L126,520.04 L126.5,519.91 L127,519.76 L127.5,519.6 L128,519.42 L128.5,519.22 L129,519.01 L129.5,518.78 L130,518.52 L130.5,518.25 L131,517.95 L131.5,517.63 L132,517.3 L132.5,516.94 L133,516.55 L133.5,516.15 L134,515.73 L134.5,515.3 L135,514.84 L135.5,514.37 L136,513.89 L136.5,513.39 L137,512.89 L137.5,512.38 L138,511.86 L138.5,511.35 L139,510.84 L139.5,510.34 L140,509.85 L140.5,509.41 L141,508.99 L141.5,508.6 L142,508.23 L142.5,507.88 L143,507.57 L143.5,507.3 L144,507.06 L144.5,506.86 L145,506.7 L145.5,506.59 L146,506.53 L146.5,506.51 L147,506.53 L147.5,506.61 L148,506.74 L148.5,506.91 L149,507.12 L149.5,507.38 L150,507.69 L150.5,508.03 L151,508.41 L151.5,508.83 L152,509.28 L152.5,509.75 L153,510.25 L153.5,510.78 L154,511.32 L154.5,511.87 L155,512.43 L155.5,513 L156,513.58 L156.5,514.15 L157,514.72 L157.5,515.29 L158,515.85 L158.5,516.39 L159,516.92 L159.5,517.44 L160,517.94 L160.5,518.42 L161,518.88 L161.5,519.32 L162,519.75 L162.5,520.14 L163,520.52 L163.5,520.88 L164,521.22 L164.5,521.53 L165,521.83 L165.5,522.1 L166,522.36 L166.5,522.6 L167,522.82 L167.5,523.03 L168,523.22 L168.5,523.4 L169,523.56 L169.5,523.72 L170,523.86 L170.5,523.99 L171,524.11 L171.5,524.23 L172,524.33 L172.5,524.43 L172.5,524.71 L172,524.66 L171.5,524.61 L171,524.55 L170.5,524.5 L170,524.45 L169.5,524.4 L169,524.35 L168.5,524.29 L168,524.24 L167.5,524.19 L167,524.13 L166.5,524.08 L166,524.03 L165.5,523.98 L165,523.92 L164.5,523.87 L164,523.82 L163.5,523.77 L163,523.72 L162.5,523.66 L162,523.61 L161.5,523.56 L161,523.5 L160.5,523.45 L160,523.4 L159.5,523.35 L159,523.29 L158.5,523.24 L158,523.19 L157.5,523.14 L157,523.08 L156.5,523.03 L156,522.98 L155.5,522.93 L155,522.88 L154.5,522.82 L154,522.77 L153.5,522.72 L153,522.66 L152.5,522.61 L152,522.56 L151.5,522.51 L151,522.45 L150.5,522.4 L150,522.35 L149.5,522.3 L149,522.25 L148.5,522.19 L148,522.14 L147.5,522.09 L147,522.03 L146.5,521.98 L146,521.93 L145.5,521.88 L145,521.82 L144.5,521.77 L144,521.72 L143.5,521.67 L143,521.62 L142.5,521.56 L142,521.51 L141.5,521.46 L141,521.4 L140.5,521.35 L140,521.3 L139.5,521.29 L139,521.28 L138.5,521.27 L138,521.26 L137.5,521.26 L137,521.25 L136.5,521.24 L136,521.23 L135.5,521.22 L135,521.21 L134.5,521.2 L134,521.19 L133.5,521.19 L133,521.18 L132.5,521.17 L132,521.16 L131.5,521.15 L131,521.14 L130.5,521.13 L130,521.12 L129.5,521.12 L129,521.11 L128.5,521.1 L128,521.09 L127.5,521.08 L127,521.07 L126.5,521.06 L126,521.05 L125.5,521.05 L125,521.04 L124.5,521.03 L124,521.02 L123.5,521.01 L123,521 L122.5,520.99 L122,520.99 L121.5,520.98" stroke="none" stroke-width="1" fill="#FAE3CC" fill-opacity="0.8"/>
<g fill="none" stroke="#a6a6a6" stroke-width="0.8"><circle cx="27.5" cy="518.2" r="2.2"/><circle cx="29.5" cy="518.2" r="2.2"/><circle cx="31.5" cy="518.1" r="2.2"/><circle cx="33.5" cy="518.1" r="2.2"/><circle cx="35.5" cy="518.0" r="2.2"/><circle cx="37.5" cy="517.8" r="2.2"/><circle cx="39.5" cy="517.7" r="2.2"/><circle cx="41.5" cy="517.5" r="2.2"/><circle cx="43.5" cy="517.2" r="2.2"/><circle cx="45.5" cy="517.0" r="2.2"/><circle cx="47.5" cy="516.8" r="2.2"/><circle cx="49.5" cy="516.5" r="2.2"/><circle cx="51.5" cy="516.3" r="2.2"/><circle cx="53.5" cy="516.1" r="2.2"/><circle cx="55.5" cy="515.9" r="2.2"/><circle cx="57.5" cy="515.8" r="2.2"/><circle cx="59.5" cy="515.7" r="2.2"/><circle cx="61.5" cy="515.7" r="2.2"/><circle cx="63.5" cy="515.6" r="2.2"/><circle cx="65.5" cy="515.6" r="2.2"/><circle cx="67.5" cy="515.6" r="2.2"/><circle cx="69.5" cy="515.5" r="2.2"/><circle cx="71.5" cy="515.2" r="2.2"/><circle cx="73.5" cy="514.9" r="2.2"/><circle cx="75.5" cy="514.3" r="2.2"/><circle cx="77.5" cy="513.6" r="2.2"/><circle cx="79.5" cy="512.6" r="2.2"/><circle cx="81.5" cy="511.3" r="2.2"/><circle cx="83.5" cy="509.8" r="2.2"/><circle cx="85.5" cy="508.1" r="2.2"/><circle cx="87.5" cy="506.2" r="2.2"/><circle cx="89.5" cy="504.1" r="2.2"/><circle cx="91.5" cy="502.1" r="2.2"/><circle cx="93.5" cy="500.1" r="2.2"/><circle cx="95.5" cy="498.3" r="2.2"/><circle cx="97.5" cy="496.7" r="2.2"/><circle cx="99.5" cy="495.5" r="2.2"/><circle cx="101.5" cy="494.8" r="2.2"/><circle cx="103.5" cy="494.5" r="2.2"/><circle cx="105.5" cy="494.7" r="2.2"/><circle cx="107.5" cy="495.3" r="2.2"/><circle cx="109.5" cy="496.3" r="2.2"/><circle cx="111.5" cy="497.7" r="2.2"/><circle cx="113.5" cy="499.2" r="2.2"/><circle cx="115.5" cy="500.9" r="2.2"/><circle cx="117.5" cy="502.5" r="2.2"/><circle cx="119.5" cy="504.0" r="2.2"/><circle cx="121.5" cy="505.2" r="2.2"/><circle cx="123.5" cy="506.0" r="2.2"/><circle cx="125.5" cy="506.5" r="2.2"/><circle cx="127.5" cy="506.4" r="2.2"/><circle cx="129.5" cy="506.0" r="2.2"/><circle cx="131.5" cy="505.2" r="2.2"/><circle cx="133.5" cy="504.0" r="2.2"/><circle cx="135.5" cy="502.7" r="2.2"/><circle cx="137.5" cy="501.2" r="2.2"/><circle cx="139.5" cy="499.8" r="2.2"/><circle cx="141.5" cy="498.5" r="2.2"/><circle cx="143.5" cy="497.3" r="2.2"/><circle cx="145.5" cy="496.3" r="2.2"/><circle cx="147.5" cy="495.3" r="2.2"/><circle cx="149.5" cy="494.2" r="2.2"/><circle cx="151.5" cy="492.6" r="2.2"/><circle cx="153.5" cy="490.2" r="2.2"/><circle cx="155.5" cy="486.8" r="2.2"/><circle cx="157.5" cy="482.3" r="2.2"/><circle cx="159.5" cy="476.7" r="2.2"/><circle cx="161.5" cy="470.3" r="2.2"/><circle cx="163.5" cy="463.1" r="2.2"/><circle cx="165.5" cy="454.9" r="2.2"/><circle cx="167.5" cy="445.7" r="2.2"/><circle cx="169.5" cy="435.4" r="2.2"/><circle cx="171.5" cy="424.4" r="2.2"/><circle cx="173.5" cy="414.2" r="2.2"/><circle cx="175.5" cy="407.3" r="2.2"/><circle cx="177.5" cy="406.3" r="2.2"/><circle cx="179.5" cy="410.9" r="2.2"/><circle cx="181.5" cy="417.7" r="2.2"/><circle cx="183.5" cy="426.6" r="2.2"/><circle cx="185.5" cy="437.0" r="2.2"/><circle cx="187.5" cy="448.4" r="2.2"/><circle cx="189.5" cy="460.0" r="2.2"/><circle cx="191.5" cy="471.4" r="2.2"/><circle cx="193.5" cy="482.0" r="2.2"/><circle cx="195.5" cy="491.4" r="2.2"/><circle cx="197.5" cy="499.4" r="2.2"/><circle cx="199.5" cy="506.1" r="2.2"/><circle cx="201.5" cy="511.4" r="2.2"/><circle cx="203.5" cy="515.5" r="2.2"/><circle cx="205.5" cy="518.5" r="2.2"/><circle cx="207.5" cy="520.8" r="2.2"/><circle cx="209.5" cy="522.4" r="2.2"/><circle cx="211.5" cy="523.5" r="2.2"/><circle cx="213.5" cy="524.3" r="2.2"/><circle cx="215.5" cy="524.9" r="2.2"/><circle cx="217.5" cy="525.3" r="2.2"/><circle cx="219.5" cy="525.6" r="2.2"/><circle cx="221.5" cy="525.9" r="2.2"/><circle cx="223.5" cy="526.1" r="2.2"/><circle cx="225.5" cy="526.3" r="2.2"/><circle cx="227.5" cy="526.4" r="2.2"/><circle cx="229.5" cy="526.6" r="2.2"/></g>
<path d="M27.5,518.18 L28,518.18 L28.5,518.18 L29,518.17 L29.5,518.17 L30,518.16 L30.5,518.15 L31,518.14 L31.5,518.13 L32,518.12 L32.5,518.1 L33,518.08 L33.5,518.06 L34,518.04 L34.5,518.02 L35,517.99 L35.5,517.96 L36,517.93 L36.5,517.9 L37,517.86 L37.5,517.83 L38,517.79 L38.5,517.75 L39,517.71 L39.5,517.66 L40,517.61 L40.5,517.57 L41,517.52 L41.5,517.46 L42,517.41 L42.5,517.36 L43,517.3 L43.5,517.24 L44,517.18 L44.5,517.12 L45,517.06 L45.5,517 L46,516.94 L46.5,516.88 L47,516.82 L47.5,516.75 L48,516.69 L48.5,516.63 L49,516.57 L49.5,516.51 L50,516.45 L50.5,516.39 L51,516.34 L51.5,516.28 L52,516.23 L52.5,516.18 L53,516.13 L53.5,516.08 L54,516.04 L54.5,516 L55,515.96 L55.5,515.92 L56,515.88 L56.5,515.85 L57,515.82 L57.5,515.8 L58,515.77 L58.5,515.75 L59,515.73 L59.5,515.71 L60,515.7 L60.5,515.69 L61,515.68 L61.5,515.67 L62,515.66 L62.5,515.66 L63,515.65 L63.5,515.65 L64,515.64 L64.5,515.64 L65,515.63 L65.5,515.62 L66,515.62 L66.5,515.61 L67,515.59 L67.5,515.57 L68,515.55 L68.5,515.53 L69,515.5 L69.5,515.46 L70,515.42 L70.5,515.37 L71,515.31 L71.5,515.25 L72,515.17 L72.5,515.09 L73,514.99 L73.5,514.89 L74,514.77 L74.5,514.64 L75,514.5 L75.5,514.34 L76,514.18 L76.5,513.99 L77,513.8 L77.5,513.58 L78,513.36 L78.5,513.11 L79,512.85 L79.5,512.58 L80,512.29 L80.5,511.98 L81,511.66 L81.5,511.32 L82,510.97 L82.5,510.6 L83,510.21 L83.5,509.81 L84,509.4 L84.5,508.97 L85,508.53 L85.5,508.08 L86,507.62 L86.5,507.14 L87,506.66 L87.5,506.17 L88,505.67 L88.5,505.17 L89,504.66 L89.5,504.15 L90,503.63 L90.5,503.12 L91,502.61 L91.5,502.1 L92,501.59 L92.5,501.09 L93,500.6 L93.5,500.11 L94,499.64 L94.5,499.18 L95,498.73 L95.5,498.29 L96,497.88 L96.5,497.48 L97,497.1 L97.5,496.74 L98,496.41 L98.5,496.1 L99,495.81 L99.5,495.55 L100,495.31 L100.5,495.11 L101,494.93 L101.5,494.78 L102,494.66 L102.5,494.57 L103,494.5 L103.5,494.47 L104,494.47 L104.5,494.5 L105,494.56 L105.5,494.65 L106,494.77 L106.5,494.91 L107,495.09 L107.5,495.28 L108,495.51 L108.5,495.76 L109,496.03 L109.5,496.32 L110,496.63 L110.5,496.97 L111,497.31 L111.5,497.68 L112,498.05 L112.5,498.44 L113,498.84 L113.5,499.25 L114,499.66 L114.5,500.07 L115,500.49 L115.5,500.9 L116,501.32 L116.5,501.73 L117,502.13 L117.5,502.53 L118,502.91 L118.5,503.29 L119,503.65 L119.5,503.99 L120,504.32 L120.5,504.63 L121,504.92 L121.5,505.19 L122,505.43 L122.5,505.65 L123,505.85 L123.5,506.03 L124,506.17 L124.5,506.29 L125,506.39 L125.5,506.45 L126,506.49 L126.5,506.51 L127,506.49 L127.5,506.45 L128,506.37 L128.5,506.28 L129,506.15 L129.5,506.01 L130,505.83 L130.5,505.64 L131,505.42 L131.5,505.18 L132,504.92 L132.5,504.65 L133,504.35 L133.5,504.04 L134,503.72 L134.5,503.39 L135,503.04 L135.5,502.69 L136,502.33 L136.5,501.97 L137,501.61 L137.5,501.24 L138,500.87 L138.5,500.51 L139,500.15 L139.5,499.8 L140,499.45 L140.5,499.11 L141,498.78 L141.5,498.47 L142,498.16 L142.5,497.86 L143,497.58 L143.5,497.3 L144,497.04 L144.5,496.78 L145,496.53 L145.5,496.29 L146,496.05 L146.5,495.81 L147,495.57 L147.5,495.33 L148,495.07 L148.5,494.8 L149,494.51 L149.5,494.2 L150,493.86 L150.5,493.48 L151,493.07 L151.5,492.61 L152,492.1 L152.5,491.54 L153,490.92 L153.5,490.23 L154,489.48 L154.5,488.67 L155,487.78 L155.5,486.82 L156,485.8 L156.5,484.7 L157,483.53 L157.5,482.29 L158,480.99 L158.5,479.63 L159,478.2 L159.5,476.72 L160,475.19 L160.5,473.6 L161,471.96 L161.5,470.28 L162,468.54 L162.5,466.76 L163,464.93 L163.5,463.05 L164,461.12 L164.5,459.12 L165,457.07 L165.5,454.95 L166,452.76 L166.5,450.49 L167,448.16 L167.5,445.74 L168,443.25 L168.5,440.69 L169,438.06 L169.5,435.38 L170,432.65 L170.5,429.9 L171,427.13 L171.5,424.39 L172,421.69 L172.5,419.06 L173,416.56 L173.5,414.21 L174,412.06 L174.5,410.15 L175,408.54 L175.5,407.26 L176,406.35 L176.5,405.87 L177,405.83 L177.5,406.27 L178,407.16 L178.5,408.25 L179,409.49 L179.5,410.87 L180,412.38 L180.5,414.04 L181,415.82 L181.5,417.74 L182,419.79 L182.5,421.95 L183,424.23 L183.5,426.61 L184,429.09 L184.5,431.66 L185,434.31 L185.5,437.02 L186,439.8 L186.5,442.63 L187,445.49 L187.5,448.38 L188,451.3 L188.5,454.22 L189,457.14 L189.5,460.05 L190,462.94 L190.5,465.8 L191,468.63 L191.5,471.41 L192,474.14 L192.5,476.82 L193,479.43 L193.5,481.98 L194,484.45 L194.5,486.84 L195,489.16 L195.5,491.39 L196,493.53 L196.5,495.59 L197,497.56 L197.5,499.44 L198,501.23 L198.5,502.94 L199,504.55 L199.5,506.08 L200,507.53 L200.5,508.89 L201,510.17 L201.5,511.37 L202,512.5 L202.5,513.56 L203,514.54 L203.5,515.46 L204,516.31 L204.5,517.1 L205,517.83 L205.5,518.51 L206,519.14 L206.5,519.72 L207,520.26 L207.5,520.75 L208,521.2 L208.5,521.62 L209,522 L209.5,522.35 L210,522.67 L210.5,522.97 L211,523.24 L211.5,523.49 L212,523.71 L212.5,523.92 L213,524.11 L213.5,524.29 L214,524.45 L214.5,524.6 L215,524.74 L215.5,524.86 L216,524.98 L216.5,525.09 L217,525.19 L217.5,525.28 L218,525.37 L218.5,525.45 L219,525.53 L219.5,525.6 L220,525.67 L220.5,525.74 L221,525.8 L221.5,525.86 L222,525.91 L222.5,525.97 L223,526.02 L223.5,526.07 L224,526.12 L224.5,526.17 L225,526.22 L225.5,526.26 L226,526.3 L226.5,526.35 L227,526.39 L227.5,526.43 L228,526.47 L228.5,526.51 L229,526.55 L229.5,526.59" stroke="#555555" stroke-width="1.35" fill="none" stroke-linejoin="round"/>
<line x1="105.4" y1="351" x2="105.4" y2="521" stroke="#333" stroke-width="0.9" stroke-dasharray="2,1.6"/>
<line x1="130.6" y1="363" x2="130.6" y2="521" stroke="#333" stroke-width="0.9" stroke-dasharray="2,1.6"/>
<line x1="147.2" y1="361" x2="147.2" y2="521" stroke="#333" stroke-width="0.9" stroke-dasharray="2,1.6"/>
<line x1="177.5" y1="267" x2="177.5" y2="521" stroke="#333" stroke-width="0.9" stroke-dasharray="2,1.6"/>
<rect x="26.8" y="230.5" width="203.4" height="306.7" fill="none" stroke="#000" stroke-width="1.6"/>
<line x1="45.4" y1="537.2" x2="45.4" y2="543.7" stroke="#000" stroke-width="1.5" />
<text x="45.4" y="558.2" font-size="12.8" fill="#111" font-weight="normal" text-anchor="middle" stroke="#111" stroke-width="0.3">292</text>
<line x1="82.8" y1="537.2" x2="82.8" y2="543.7" stroke="#000" stroke-width="1.5" />
<text x="82.8" y="558.2" font-size="12.8" fill="#111" font-weight="normal" text-anchor="middle" stroke="#111" stroke-width="0.3">290</text>
<line x1="120.2" y1="537.2" x2="120.2" y2="543.7" stroke="#000" stroke-width="1.5" />
<text x="120.2" y="558.2" font-size="12.8" fill="#111" font-weight="normal" text-anchor="middle" stroke="#111" stroke-width="0.3">288</text>
<line x1="157.9" y1="537.2" x2="157.9" y2="543.7" stroke="#000" stroke-width="1.5" />
<text x="157.9" y="558.2" font-size="12.8" fill="#111" font-weight="normal" text-anchor="middle" stroke="#111" stroke-width="0.3">286</text>
<line x1="195.4" y1="537.2" x2="195.4" y2="543.7" stroke="#000" stroke-width="1.5" />
<text x="195.4" y="558.2" font-size="12.8" fill="#111" font-weight="normal" text-anchor="middle" stroke="#111" stroke-width="0.3">284</text>
<line x1="230.2" y1="537.2" x2="230.2" y2="543.7" stroke="#000" stroke-width="1.5" />
<text x="230.2" y="558.2" font-size="12.8" fill="#111" font-weight="normal" text-anchor="middle" stroke="#111" stroke-width="0.3">282</text>
<path d="M28,741.26 L28.5,741.24 L29,741.22 L29.5,741.21 L30,741.19 L30.5,741.17 L31,741.16 L31.5,741.14 L32,741.12 L32.5,741.1 L33,741.09 L33.5,741.07 L34,741.05 L34.5,741.04 L35,741.02 L35.5,741 L36,740.98 L36.5,740.97 L37,740.95 L37.5,740.93 L38,740.92 L38.5,740.9 L39,740.89 L39.5,740.87 L40,740.86 L40.5,740.84 L41,740.83 L41.5,740.81 L42,740.8 L42.5,740.79 L43,740.77 L43.5,740.76 L44,740.75 L44.5,740.74 L45,740.73 L45.5,740.72 L46,740.71 L46.5,740.7 L47,740.69 L47.5,740.69 L48,740.68 L48.5,740.67 L49,740.67 L49.5,740.66 L50,740.66 L50.5,740.66 L51,740.66 L51.5,740.66 L52,740.65 L52.5,740.65 L53,740.66 L53.5,740.66 L54,740.66 L54.5,740.66 L55,740.67 L55.5,740.67 L56,740.68 L56.5,740.69 L57,740.69 L57.5,740.7 L58,740.71 L58.5,740.72 L59,740.73 L59.5,740.74 L60,740.76 L60.5,740.77 L61,740.78 L61.5,740.8 L62,740.81 L62.5,740.83 L63,740.85 L63.5,740.87 L64,740.88 L64.5,740.9 L65,740.92 L65.5,740.94 L66,740.96 L66.5,740.98 L67,741 L67.5,741.03 L68,741.05 L68.5,741.07 L69,741.1 L69.5,741.12 L70,741.14 L70.5,741.17 L71,741.19 L71.5,741.22 L72,741.24 L72.5,741.27 L73,741.3 L73.5,741.32 L74,741.35 L74.5,741.38 L75,741.4 L75.5,741.43 L76,741.46 L76.5,741.48 L77,741.51 L77.5,741.54 L78,741.56 L78.5,741.59 L79,741.62 L79.5,741.64 L80,741.67 L80.5,741.7 L81,741.72 L81.5,741.75 L82,741.77 L82.5,741.8 L83,741.83 L83.5,741.85 L84,741.88 L84.5,741.9 L85,741.92 L85.5,741.95 L86,741.97 L86.5,742 L87,742.02 L87.5,742.04 L88,742.07 L88.5,742.09 L89,742.11 L89.5,742.13 L90,742.15 L90.5,742.17 L91,742.19 L91.5,742.21 L92,742.23 L92.5,742.25 L93,742.27 L93.5,742.29 L94,742.31 L94.5,742.33 L95,742.35 L95.5,742.36 L96,742.38 L96.5,742.4 L97,742.41 L97,742.67 L96.5,742.67 L96,742.66 L95.5,742.66 L95,742.65 L94.5,742.65 L94,742.64 L93.5,742.64 L93,742.63 L92.5,742.63 L92,742.62 L91.5,742.62 L91,742.61 L90.5,742.61 L90,742.6 L89.5,742.6 L89,742.59 L88.5,742.59 L88,742.58 L87.5,742.58 L87,742.58 L86.5,742.57 L86,742.57 L85.5,742.56 L85,742.56 L84.5,742.55 L84,742.55 L83.5,742.54 L83,742.54 L82.5,742.53 L82,742.53 L81.5,742.52 L81,742.52 L80.5,742.51 L80,742.51 L79.5,742.5 L79,742.5 L78.5,742.49 L78,742.49 L77.5,742.48 L77,742.48 L76.5,742.47 L76,742.47 L75.5,742.47 L75,742.46 L74.5,742.46 L74,742.45 L73.5,742.45 L73,742.44 L72.5,742.44 L72,742.43 L71.5,742.43 L71,742.42 L70.5,742.42 L70,742.41 L69.5,742.41 L69,742.4 L68.5,742.4 L68,742.39 L67.5,742.39 L67,742.38 L66.5,742.38 L66,742.37 L65.5,742.37 L65,742.36 L64.5,742.36 L64,742.35 L63.5,742.35 L63,742.35 L62.5,742.34 L62,742.34 L61.5,742.33 L61,742.33 L60.5,742.32 L60,742.32 L59.5,742.31 L59,742.31 L58.5,742.3 L58,742.3 L57.5,742.29 L57,742.29 L56.5,742.28 L56,742.28 L55.5,742.27 L55,742.27 L54.5,742.26 L54,742.26 L53.5,742.25 L53,742.25 L52.5,742.24 L52,742.24 L51.5,742.23 L51,742.23 L50.5,742.23 L50,742.22 L49.5,742.22 L49,742.21 L48.5,742.21 L48,742.2 L47.5,742.2 L47,742.19 L46.5,742.19 L46,742.18 L45.5,742.18 L45,742.17 L44.5,742.17 L44,742.16 L43.5,742.16 L43,742.15 L42.5,742.15 L42,742.14 L41.5,742.14 L41,742.13 L40.5,742.13 L40,742.12 L39.5,742.12 L39,742.12 L38.5,742.11 L38,742.11 L37.5,742.1 L37,742.1 L36.5,742.09 L36,742.09 L35.5,742.08 L35,742.08 L34.5,742.07 L34,742.07 L33.5,742.06 L33,742.06 L32.5,742.05 L32,742.05 L31.5,742.04 L31,742.04 L30.5,742.03 L30,742.03 L29.5,742.02 L29,742.02 L28.5,742.01 L28,742.01" stroke="none" stroke-width="1" fill="#BDF0EC" fill-opacity="0.85"/>
<path d="M67.5,742.12 L68,742.09 L68.5,742.06 L69,742.03 L69.5,741.98 L70,741.94 L70.5,741.89 L71,741.83 L71.5,741.77 L72,741.7 L72.5,741.63 L73,741.55 L73.5,741.46 L74,741.36 L74.5,741.25 L75,741.13 L75.5,741.01 L76,740.87 L76.5,740.72 L77,740.57 L77.5,740.39 L78,740.21 L78.5,740.01 L79,739.8 L79.5,739.58 L80,739.34 L80.5,739.09 L81,738.82 L81.5,738.54 L82,738.24 L82.5,737.93 L83,737.6 L83.5,737.25 L84,736.89 L84.5,736.51 L85,736.12 L85.5,735.71 L86,735.28 L86.5,734.84 L87,734.39 L87.5,733.93 L88,733.45 L88.5,732.96 L89,732.46 L89.5,731.95 L90,731.44 L90.5,730.91 L91,730.38 L91.5,729.85 L92,729.31 L92.5,728.78 L93,728.24 L93.5,727.71 L94,727.18 L94.5,726.66 L95,726.15 L95.5,725.65 L96,725.16 L96.5,724.68 L97,724.23 L97.5,723.78 L98,723.36 L98.5,722.97 L99,722.59 L99.5,722.24 L100,721.92 L100.5,721.64 L101,721.39 L101.5,721.17 L102,720.98 L102.5,720.82 L103,720.7 L103.5,720.62 L104,720.56 L104.5,720.55 L105,720.57 L105.5,720.62 L106,720.71 L106.5,720.82 L107,720.97 L107.5,721.16 L108,721.37 L108.5,721.61 L109,721.88 L109.5,722.18 L110,722.5 L110.5,722.85 L111,723.23 L111.5,723.63 L112,724.04 L112.5,724.48 L113,724.93 L113.5,725.4 L114,725.89 L114.5,726.39 L115,726.89 L115.5,727.41 L116,727.94 L116.5,728.47 L117,729 L117.5,729.54 L118,730.07 L118.5,730.61 L119,731.14 L119.5,731.67 L120,732.19 L120.5,732.71 L121,733.22 L121.5,733.72 L122,734.22 L122.5,734.7 L123,735.17 L123.5,735.63 L124,736.07 L124.5,736.5 L125,736.92 L125.5,737.33 L126,737.72 L126.5,738.1 L127,738.46 L127.5,738.8 L128,739.14 L128.5,739.45 L129,739.76 L129.5,740.04 L130,740.32 L130.5,740.58 L131,740.83 L131.5,741.06 L132,741.28 L132.5,741.49 L133,741.69 L133.5,741.87 L134,742.05 L134.5,742.21 L135,742.36 L135.5,742.51 L136,742.64 L136.5,742.77 L137,742.88 L137.5,742.99 L138,743.1 L138.5,743.19 L139,743.28 L139.5,743.36 L140,743.44 L140.5,743.55 L141,743.66 L141.5,743.76 L142,743.86 L142.5,743.96 L143,744.05 L143.5,744.13 L143.5,744.39 L143,744.34 L142.5,744.28 L142,744.23 L141.5,744.17 L141,744.11 L140.5,744.06 L140,744 L139.5,743.98 L139,743.97 L138.5,743.95 L138,743.93 L137.5,743.92 L137,743.9 L136.5,743.89 L136,743.87 L135.5,743.85 L135,743.84 L134.5,743.82 L134,743.81 L133.5,743.79 L133,743.77 L132.5,743.76 L132,743.74 L131.5,743.72 L131,743.71 L130.5,743.69 L130,743.67 L129.5,743.66 L129,743.64 L128.5,743.63 L128,743.61 L127.5,743.59 L127,743.58 L126.5,743.56 L126,743.55 L125.5,743.53 L125,743.51 L124.5,743.5 L124,743.48 L123.5,743.46 L123,743.45 L122.5,743.43 L122,743.41 L121.5,743.4 L121,743.38 L120.5,743.37 L120,743.35 L119.5,743.33 L119,743.32 L118.5,743.3 L118,743.29 L117.5,743.27 L117,743.25 L116.5,743.24 L116,743.22 L115.5,743.2 L115,743.19 L114.5,743.17 L114,743.15 L113.5,743.14 L113,743.12 L112.5,743.11 L112,743.09 L111.5,743.07 L111,743.06 L110.5,743.04 L110,743.03 L109.5,743.01 L109,742.99 L108.5,742.98 L108,742.96 L107.5,742.94 L107,742.93 L106.5,742.91 L106,742.89 L105.5,742.88 L105,742.86 L104.5,742.85 L104,742.83 L103.5,742.81 L103,742.8 L102.5,742.78 L102,742.77 L101.5,742.75 L101,742.73 L100.5,742.72 L100,742.7 L99.5,742.7 L99,742.69 L98.5,742.69 L98,742.68 L97.5,742.68 L97,742.67 L96.5,742.67 L96,742.66 L95.5,742.66 L95,742.65 L94.5,742.65 L94,742.64 L93.5,742.64 L93,742.63 L92.5,742.63 L92,742.62 L91.5,742.62 L91,742.61 L90.5,742.61 L90,742.6 L89.5,742.6 L89,742.59 L88.5,742.59 L88,742.58 L87.5,742.58 L87,742.58 L86.5,742.57 L86,742.57 L85.5,742.56 L85,742.56 L84.5,742.55 L84,742.55 L83.5,742.54 L83,742.54 L82.5,742.53 L82,742.53 L81.5,742.52 L81,742.52 L80.5,742.51 L80,742.51 L79.5,742.5 L79,742.5 L78.5,742.49 L78,742.49 L77.5,742.48 L77,742.48 L76.5,742.47 L76,742.47 L75.5,742.47 L75,742.46 L74.5,742.46 L74,742.45 L73.5,742.45 L73,742.44 L72.5,742.44 L72,742.43 L71.5,742.43 L71,742.42 L70.5,742.42 L70,742.41 L69.5,742.41 L69,742.4 L68.5,742.4 L68,742.39 L67.5,742.39" stroke="none" stroke-width="1" fill="#FAC9CB" fill-opacity="0.85"/>
<path d="M119.5,743.07 L120,743.03 L120.5,742.97 L121,742.91 L121.5,742.83 L122,742.74 L122.5,742.63 L123,742.51 L123.5,742.36 L124,742.19 L124.5,742 L125,741.79 L125.5,741.54 L126,741.28 L126.5,740.98 L127,740.65 L127.5,740.3 L128,739.92 L128.5,739.51 L129,739.08 L129.5,738.63 L130,738.15 L130.5,737.66 L131,737.15 L131.5,736.63 L132,736.11 L132.5,735.59 L133,735.08 L133.5,734.58 L134,734.1 L134.5,733.64 L135,733.22 L135.5,732.83 L136,732.49 L136.5,732.19 L137,731.95 L137.5,731.76 L138,731.64 L138.5,731.57 L139,731.57 L139.5,731.63 L140,731.75 L140.5,731.98 L141,732.26 L141.5,732.6 L142,732.98 L142.5,733.42 L143,733.89 L143.5,734.4 L144,734.94 L144.5,735.5 L145,736.08 L145.5,736.67 L146,737.26 L146.5,737.85 L147,738.44 L147.5,739.01 L148,739.57 L148.5,740.11 L149,740.63 L149.5,741.13 L150,741.6 L150.5,742.04 L151,742.45 L151.5,742.84 L152,743.2 L152.5,743.53 L153,743.83 L153.5,744.11 L154,744.36 L154.5,744.6 L155,744.81 L155.5,745 L156,745.17 L156.5,745.33 L157,745.47 L157.5,745.61 L158,745.73 L158,746.02 L157.5,745.97 L157,745.91 L156.5,745.86 L156,745.8 L155.5,745.74 L155,745.69 L154.5,745.63 L154,745.58 L153.5,745.52 L153,745.46 L152.5,745.41 L152,745.35 L151.5,745.29 L151,745.24 L150.5,745.18 L150,745.12 L149.5,745.07 L149,745.01 L148.5,744.96 L148,744.9 L147.5,744.84 L147,744.79 L146.5,744.73 L146,744.67 L145.5,744.62 L145,744.56 L144.5,744.51 L144,744.45 L143.5,744.39 L143,744.34 L142.5,744.28 L142,744.23 L141.5,744.17 L141,744.11 L140.5,744.06 L140,744 L139.5,743.98 L139,743.97 L138.5,743.95 L138,743.93 L137.5,743.92 L137,743.9 L136.5,743.89 L136,743.87 L135.5,743.85 L135,743.84 L134.5,743.82 L134,743.81 L133.5,743.79 L133,743.77 L132.5,743.76 L132,743.74 L131.5,743.72 L131,743.71 L130.5,743.69 L130,743.67 L129.5,743.66 L129,743.64 L128.5,743.63 L128,743.61 L127.5,743.59 L127,743.58 L126.5,743.56 L126,743.55 L125.5,743.53 L125,743.51 L124.5,743.5 L124,743.48 L123.5,743.46 L123,743.45 L122.5,743.43 L122,743.41 L121.5,743.4 L121,743.38 L120.5,743.37 L120,743.35 L119.5,743.33" stroke="none" stroke-width="1" fill="#E3C9F0" fill-opacity="0.85"/>
<path d="M133.5,743.52 L134,743.49 L134.5,743.46 L135,743.42 L135.5,743.38 L136,743.32 L136.5,743.26 L137,743.18 L137.5,743.1 L138,743 L138.5,742.89 L139,742.76 L139.5,742.61 L140,742.45 L140.5,742.3 L141,742.13 L141.5,741.94 L142,741.72 L142.5,741.47 L143,741.19 L143.5,740.87 L144,740.51 L144.5,740.12 L145,739.68 L145.5,739.2 L146,738.66 L146.5,738.08 L147,737.44 L147.5,736.73 L148,735.97 L148.5,735.14 L149,734.24 L149.5,733.27 L150,732.22 L150.5,731.1 L151,729.89 L151.5,728.6 L152,727.22 L152.5,725.75 L153,724.19 L153.5,722.54 L154,720.79 L154.5,718.95 L155,717.01 L155.5,714.98 L156,712.85 L156.5,710.63 L157,708.32 L157.5,705.91 L158,703.42 L158.5,700.85 L159,698.2 L159.5,695.47 L160,692.68 L160.5,689.82 L161,686.91 L161.5,683.95 L162,680.95 L162.5,677.92 L163,674.87 L163.5,671.81 L164,668.75 L164.5,665.7 L165,662.68 L165.5,659.68 L166,656.74 L166.5,653.85 L167,651.03 L167.5,648.3 L168,645.66 L168.5,643.13 L169,640.72 L169.5,638.44 L170,636.3 L170.5,634.31 L171,632.49 L171.5,630.83 L172,629.36 L172.5,628.08 L173,626.98 L173.5,626.09 L174,625.41 L174.5,624.93 L175,624.67 L175.5,624.62 L176,624.78 L176.5,625.16 L177,625.76 L177.5,626.56 L178,627.57 L178.5,628.77 L179,630.16 L179.5,631.73 L180,633.47 L180.5,635.34 L181,637.36 L181.5,639.51 L182,641.79 L182.5,644.17 L183,646.65 L183.5,649.22 L184,651.86 L184.5,654.56 L185,657.32 L185.5,660.11 L186,662.94 L186.5,665.78 L187,668.64 L187.5,671.49 L188,674.34 L188.5,677.17 L189,679.98 L189.5,682.77 L190,685.51 L190.5,688.21 L191,690.87 L191.5,693.47 L192,696.01 L192.5,698.49 L193,700.91 L193.5,703.26 L194,705.55 L194.5,707.75 L195,709.89 L195.5,711.95 L196,713.93 L196.5,715.84 L197,717.67 L197.5,719.42 L198,721.1 L198.5,722.7 L199,724.23 L199.5,725.69 L200,727.07 L200.5,728.38 L201,729.62 L201.5,730.8 L202,731.92 L202.5,732.97 L203,733.96 L203.5,734.9 L204,735.77 L204.5,736.6 L205,737.38 L205.5,738.11 L206,738.79 L206.5,739.43 L207,740.03 L207.5,740.59 L208,741.11 L208.5,741.6 L209,742.06 L209.5,742.49 L210,742.89 L210.5,743.27 L211,743.62 L211.5,743.94 L212,744.25 L212.5,744.53 L213,744.8 L213.5,745.05 L214,745.29 L214.5,745.51 L215,745.72 L215.5,745.92 L216,746.1 L216.5,746.28 L217,746.44 L217.5,746.6 L218,746.75 L218.5,746.89 L219,747.02 L219.5,747.15 L220,747.27 L220.5,747.39 L221,747.51 L221.5,747.61 L222,747.72 L222.5,747.82 L223,747.92 L223.5,748.01 L224,748.1 L224.5,748.19 L225,748.28 L225.5,748.36 L226,748.44 L226.5,748.52 L227,748.6 L227.5,748.68 L228,748.75 L228.5,748.83 L229,748.9 L229.5,748.97 L230,749.04 L230.5,749.11 L231,749.17 L231.5,749.24 L232,749.3 L232,751.44 L231.5,751.42 L231,751.39 L230.5,751.36 L230,751.33 L229.5,751.3 L229,751.27 L228.5,751.25 L228,751.22 L227.5,751.19 L227,751.16 L226.5,751.13 L226,751.1 L225.5,751.08 L225,751.05 L224.5,751.02 L224,750.99 L223.5,750.96 L223,750.93 L222.5,750.91 L222,750.88 L221.5,750.85 L221,750.82 L220.5,750.79 L220,750.76 L219.5,750.74 L219,750.71 L218.5,750.68 L218,750.65 L217.5,750.62 L217,750.59 L216.5,750.57 L216,750.54 L215.5,750.51 L215,750.48 L214.5,750.45 L214,750.42 L213.5,750.4 L213,750.37 L212.5,750.34 L212,750.31 L211.5,750.28 L211,750.25 L210.5,750.23 L210,750.2 L209.5,750.17 L209,750.14 L208.5,750.11 L208,750.08 L207.5,750.06 L207,750.03 L206.5,750 L206,749.97 L205.5,749.94 L205,749.92 L204.5,749.89 L204,749.86 L203.5,749.83 L203,749.8 L202.5,749.77 L202,749.75 L201.5,749.72 L201,749.69 L200.5,749.66 L200,749.63 L199.5,749.6 L199,749.58 L198.5,749.55 L198,749.52 L197.5,749.49 L197,749.46 L196.5,749.43 L196,749.41 L195.5,749.38 L195,749.35 L194.5,749.32 L194,749.29 L193.5,749.26 L193,749.24 L192.5,749.21 L192,749.18 L191.5,749.15 L191,749.12 L190.5,749.09 L190,749.07 L189.5,749.04 L189,749.01 L188.5,748.98 L188,748.95 L187.5,748.92 L187,748.9 L186.5,748.87 L186,748.84 L185.5,748.81 L185,748.78 L184.5,748.75 L184,748.73 L183.5,748.7 L183,748.67 L182.5,748.64 L182,748.61 L181.5,748.58 L181,748.56 L180.5,748.53 L180,748.5 L179.5,748.44 L179,748.39 L178.5,748.33 L178,748.27 L177.5,748.22 L177,748.16 L176.5,748.11 L176,748.05 L175.5,747.99 L175,747.94 L174.5,747.88 L174,747.83 L173.5,747.77 L173,747.71 L172.5,747.66 L172,747.6 L171.5,747.54 L171,747.49 L170.5,747.43 L170,747.38 L169.5,747.32 L169,747.26 L168.5,747.21 L168,747.15 L167.5,747.09 L167,747.04 L166.5,746.98 L166,746.92 L165.5,746.87 L165,746.81 L164.5,746.76 L164,746.7 L163.5,746.64 L163,746.59 L162.5,746.53 L162,746.48 L161.5,746.42 L161,746.36 L160.5,746.31 L160,746.25 L159.5,746.19 L159,746.14 L158.5,746.08 L158,746.02 L157.5,745.97 L157,745.91 L156.5,745.86 L156,745.8 L155.5,745.74 L155,745.69 L154.5,745.63 L154,745.58 L153.5,745.52 L153,745.46 L152.5,745.41 L152,745.35 L151.5,745.29 L151,745.24 L150.5,745.18 L150,745.12 L149.5,745.07 L149,745.01 L148.5,744.96 L148,744.9 L147.5,744.84 L147,744.79 L146.5,744.73 L146,744.67 L145.5,744.62 L145,744.56 L144.5,744.51 L144,744.45 L143.5,744.39 L143,744.34 L142.5,744.28 L142,744.23 L141.5,744.17 L141,744.11 L140.5,744.06 L140,744 L139.5,743.98 L139,743.97 L138.5,743.95 L138,743.93 L137.5,743.92 L137,743.9 L136.5,743.89 L136,743.87 L135.5,743.85 L135,743.84 L134.5,743.82 L134,743.81 L133.5,743.79" stroke="none" stroke-width="1" fill="#C2E9F8" fill-opacity="0.9"/>
<path d="M131,743.41 L131.5,743.37 L132,743.33 L132.5,743.27 L133,743.2 L133.5,743.12 L134,743.03 L134.5,742.92 L135,742.8 L135.5,742.67 L136,742.51 L136.5,742.34 L137,742.14 L137.5,741.93 L138,741.69 L138.5,741.44 L139,741.16 L139.5,740.85 L140,740.53 L140.5,740.22 L141,739.89 L141.5,739.54 L142,739.17 L142.5,738.79 L143,738.39 L143.5,737.97 L144,737.55 L144.5,737.11 L145,736.68 L145.5,736.24 L146,735.81 L146.5,735.39 L147,734.97 L147.5,734.58 L148,734.21 L148.5,733.86 L149,733.54 L149.5,733.26 L150,733.01 L150.5,732.8 L151,732.64 L151.5,732.52 L152,732.45 L152.5,732.43 L153,732.46 L153.5,732.54 L154,732.68 L154.5,732.86 L155,733.09 L155.5,733.36 L156,733.68 L156.5,734.04 L157,734.44 L157.5,734.87 L158,735.33 L158.5,735.82 L159,736.32 L159.5,736.85 L160,737.38 L160.5,737.93 L161,738.48 L161.5,739.03 L162,739.57 L162.5,740.11 L163,740.64 L163.5,741.15 L164,741.65 L164.5,742.13 L165,742.59 L165.5,743.03 L166,743.45 L166.5,743.85 L167,744.23 L167.5,744.58 L168,744.91 L168.5,745.22 L169,745.5 L169.5,745.77 L170,746.02 L170.5,746.24 L171,746.45 L171.5,746.65 L172,746.83 L172.5,746.99 L173,747.14 L173.5,747.28 L174,747.41 L174.5,747.53 L175,747.64 L175,747.94 L174.5,747.88 L174,747.83 L173.5,747.77 L173,747.71 L172.5,747.66 L172,747.6 L171.5,747.54 L171,747.49 L170.5,747.43 L170,747.38 L169.5,747.32 L169,747.26 L168.5,747.21 L168,747.15 L167.5,747.09 L167,747.04 L166.5,746.98 L166,746.92 L165.5,746.87 L165,746.81 L164.5,746.76 L164,746.7 L163.5,746.64 L163,746.59 L162.5,746.53 L162,746.48 L161.5,746.42 L161,746.36 L160.5,746.31 L160,746.25 L159.5,746.19 L159,746.14 L158.5,746.08 L158,746.02 L157.5,745.97 L157,745.91 L156.5,745.86 L156,745.8 L155.5,745.74 L155,745.69 L154.5,745.63 L154,745.58 L153.5,745.52 L153,745.46 L152.5,745.41 L152,745.35 L151.5,745.29 L151,745.24 L150.5,745.18 L150,745.12 L149.5,745.07 L149,745.01 L148.5,744.96 L148,744.9 L147.5,744.84 L147,744.79 L146.5,744.73 L146,744.67 L145.5,744.62 L145,744.56 L144.5,744.51 L144,744.45 L143.5,744.39 L143,744.34 L142.5,744.28 L142,744.23 L141.5,744.17 L141,744.11 L140.5,744.06 L140,744 L139.5,743.98 L139,743.97 L138.5,743.95 L138,743.93 L137.5,743.92 L137,743.9 L136.5,743.89 L136,743.87 L135.5,743.85 L135,743.84 L134.5,743.82 L134,743.81 L133.5,743.79 L133,743.77 L132.5,743.76 L132,743.74 L131.5,743.72 L131,743.71" stroke="none" stroke-width="1" fill="#FAE3CC" fill-opacity="0.8"/>
<g fill="none" stroke="#a6a6a6" stroke-width="0.8"><circle cx="28.0" cy="740.1" r="2.2"/><circle cx="30.0" cy="740.0" r="2.2"/><circle cx="32.0" cy="740.0" r="2.2"/><circle cx="34.0" cy="739.9" r="2.2"/><circle cx="36.0" cy="739.9" r="2.2"/><circle cx="38.0" cy="739.8" r="2.2"/><circle cx="40.0" cy="739.8" r="2.2"/><circle cx="42.0" cy="739.7" r="2.2"/><circle cx="44.0" cy="739.6" r="2.2"/><circle cx="46.0" cy="739.5" r="2.2"/><circle cx="48.0" cy="739.4" r="2.2"/><circle cx="50.0" cy="739.2" r="2.2"/><circle cx="52.0" cy="739.1" r="2.2"/><circle cx="54.0" cy="738.9" r="2.2"/><circle cx="56.0" cy="738.7" r="2.2"/><circle cx="58.0" cy="738.5" r="2.2"/><circle cx="60.0" cy="738.2" r="2.2"/><circle cx="62.0" cy="737.9" r="2.2"/><circle cx="64.0" cy="737.5" r="2.2"/><circle cx="66.0" cy="737.0" r="2.2"/><circle cx="68.0" cy="736.4" r="2.2"/><circle cx="70.0" cy="735.7" r="2.2"/><circle cx="72.0" cy="734.9" r="2.2"/><circle cx="74.0" cy="734.0" r="2.2"/><circle cx="76.0" cy="732.9" r="2.2"/><circle cx="78.0" cy="731.7" r="2.2"/><circle cx="80.0" cy="730.4" r="2.2"/><circle cx="82.0" cy="728.9" r="2.2"/><circle cx="84.0" cy="727.4" r="2.2"/><circle cx="86.0" cy="725.8" r="2.2"/><circle cx="88.0" cy="724.2" r="2.2"/><circle cx="90.0" cy="722.7" r="2.2"/><circle cx="92.0" cy="721.3" r="2.2"/><circle cx="94.0" cy="720.0" r="2.2"/><circle cx="96.0" cy="718.9" r="2.2"/><circle cx="98.0" cy="718.1" r="2.2"/><circle cx="100.0" cy="717.6" r="2.2"/><circle cx="102.0" cy="717.4" r="2.2"/><circle cx="104.0" cy="717.5" r="2.2"/><circle cx="106.0" cy="718.0" r="2.2"/><circle cx="108.0" cy="718.6" r="2.2"/><circle cx="110.0" cy="719.6" r="2.2"/><circle cx="112.0" cy="720.7" r="2.2"/><circle cx="114.0" cy="721.8" r="2.2"/><circle cx="116.0" cy="723.0" r="2.2"/><circle cx="118.0" cy="724.1" r="2.2"/><circle cx="120.0" cy="725.0" r="2.2"/><circle cx="122.0" cy="725.7" r="2.2"/><circle cx="124.0" cy="726.0" r="2.2"/><circle cx="126.0" cy="725.9" r="2.2"/><circle cx="128.0" cy="725.3" r="2.2"/><circle cx="130.0" cy="724.3" r="2.2"/><circle cx="132.0" cy="722.9" r="2.2"/><circle cx="134.0" cy="721.1" r="2.2"/><circle cx="136.0" cy="719.0" r="2.2"/><circle cx="138.0" cy="716.7" r="2.2"/><circle cx="140.0" cy="714.4" r="2.2"/><circle cx="142.0" cy="712.3" r="2.2"/><circle cx="144.0" cy="710.3" r="2.2"/><circle cx="146.0" cy="708.5" r="2.2"/><circle cx="148.0" cy="706.7" r="2.2"/><circle cx="150.0" cy="704.9" r="2.2"/><circle cx="152.0" cy="702.5" r="2.2"/><circle cx="154.0" cy="699.2" r="2.2"/><circle cx="156.0" cy="694.8" r="2.2"/><circle cx="158.0" cy="689.1" r="2.2"/><circle cx="160.0" cy="682.1" r="2.2"/><circle cx="162.0" cy="674.2" r="2.2"/><circle cx="164.0" cy="665.5" r="2.2"/><circle cx="166.0" cy="656.1" r="2.2"/><circle cx="168.0" cy="646.2" r="2.2"/><circle cx="170.0" cy="636.5" r="2.2"/><circle cx="172.0" cy="628.2" r="2.2"/><circle cx="174.0" cy="623.4" r="2.2"/><circle cx="176.0" cy="624.1" r="2.2"/><circle cx="178.0" cy="628.3" r="2.2"/><circle cx="180.0" cy="635.1" r="2.2"/><circle cx="182.0" cy="643.9" r="2.2"/><circle cx="184.0" cy="654.2" r="2.2"/><circle cx="186.0" cy="665.3" r="2.2"/><circle cx="188.0" cy="676.7" r="2.2"/><circle cx="190.0" cy="687.7" r="2.2"/><circle cx="192.0" cy="698.1" r="2.2"/><circle cx="194.0" cy="707.6" r="2.2"/><circle cx="196.0" cy="715.9" r="2.2"/><circle cx="198.0" cy="723.0" r="2.2"/><circle cx="200.0" cy="729.0" r="2.2"/><circle cx="202.0" cy="733.8" r="2.2"/><circle cx="204.0" cy="737.6" r="2.2"/><circle cx="206.0" cy="740.7" r="2.2"/><circle cx="208.0" cy="743.0" r="2.2"/><circle cx="210.0" cy="744.8" r="2.2"/><circle cx="212.0" cy="746.2" r="2.2"/><circle cx="214.0" cy="747.3" r="2.2"/><circle cx="216.0" cy="748.2" r="2.2"/><circle cx="218.0" cy="748.9" r="2.2"/><circle cx="220.0" cy="749.4" r="2.2"/><circle cx="222.0" cy="749.9" r="2.2"/><circle cx="224.0" cy="750.4" r="2.2"/><circle cx="226.0" cy="750.7" r="2.2"/><circle cx="228.0" cy="751.1" r="2.2"/><circle cx="230.0" cy="751.4" r="2.2"/><circle cx="232.0" cy="751.7" r="2.2"/></g>
<path d="M28,740.07 L28.5,740.06 L29,740.05 L29.5,740.04 L30,740.04 L30.5,740.03 L31,740.02 L31.5,740.01 L32,740 L32.5,739.98 L33,739.97 L33.5,739.96 L34,739.95 L34.5,739.93 L35,739.92 L35.5,739.91 L36,739.89 L36.5,739.88 L37,739.86 L37.5,739.84 L38,739.83 L38.5,739.81 L39,739.79 L39.5,739.77 L40,739.75 L40.5,739.73 L41,739.71 L41.5,739.69 L42,739.67 L42.5,739.65 L43,739.63 L43.5,739.6 L44,739.58 L44.5,739.55 L45,739.53 L45.5,739.5 L46,739.47 L46.5,739.44 L47,739.42 L47.5,739.39 L48,739.36 L48.5,739.32 L49,739.29 L49.5,739.26 L50,739.22 L50.5,739.19 L51,739.15 L51.5,739.11 L52,739.07 L52.5,739.03 L53,738.99 L53.5,738.95 L54,738.9 L54.5,738.86 L55,738.81 L55.5,738.76 L56,738.7 L56.5,738.65 L57,738.59 L57.5,738.53 L58,738.47 L58.5,738.41 L59,738.34 L59.5,738.27 L60,738.19 L60.5,738.12 L61,738.03 L61.5,737.95 L62,737.86 L62.5,737.77 L63,737.67 L63.5,737.57 L64,737.46 L64.5,737.35 L65,737.24 L65.5,737.11 L66,736.99 L66.5,736.85 L67,736.71 L67.5,736.57 L68,736.41 L68.5,736.25 L69,736.09 L69.5,735.91 L70,735.73 L70.5,735.54 L71,735.35 L71.5,735.14 L72,734.93 L72.5,734.71 L73,734.48 L73.5,734.24 L74,734 L74.5,733.74 L75,733.48 L75.5,733.21 L76,732.93 L76.5,732.64 L77,732.34 L77.5,732.04 L78,731.72 L78.5,731.4 L79,731.07 L79.5,730.73 L80,730.39 L80.5,730.04 L81,729.68 L81.5,729.31 L82,728.94 L82.5,728.57 L83,728.18 L83.5,727.8 L84,727.41 L84.5,727.02 L85,726.62 L85.5,726.23 L86,725.83 L86.5,725.43 L87,725.04 L87.5,724.64 L88,724.25 L88.5,723.86 L89,723.47 L89.5,723.09 L90,722.71 L90.5,722.34 L91,721.98 L91.5,721.62 L92,721.27 L92.5,720.94 L93,720.61 L93.5,720.3 L94,720 L94.5,719.71 L95,719.44 L95.5,719.18 L96,718.93 L96.5,718.71 L97,718.5 L97.5,718.3 L98,718.13 L98.5,717.97 L99,717.83 L99.5,717.71 L100,717.61 L100.5,717.53 L101,717.47 L101.5,717.43 L102,717.41 L102.5,717.41 L103,717.43 L103.5,717.47 L104,717.53 L104.5,717.61 L105,717.7 L105.5,717.82 L106,717.95 L106.5,718.1 L107,718.27 L107.5,718.45 L108,718.65 L108.5,718.86 L109,719.08 L109.5,719.32 L110,719.57 L110.5,719.83 L111,720.1 L111.5,720.37 L112,720.66 L112.5,720.94 L113,721.24 L113.5,721.53 L114,721.83 L114.5,722.13 L115,722.42 L115.5,722.72 L116,723.01 L116.5,723.29 L117,723.57 L117.5,723.84 L118,724.1 L118.5,724.35 L119,724.59 L119.5,724.81 L120,725.02 L120.5,725.21 L121,725.38 L121.5,725.54 L122,725.67 L122.5,725.78 L123,725.87 L123.5,725.94 L124,725.98 L124.5,725.99 L125,725.98 L125.5,725.94 L126,725.88 L126.5,725.78 L127,725.66 L127.5,725.51 L128,725.33 L128.5,725.12 L129,724.89 L129.5,724.62 L130,724.33 L130.5,724.01 L131,723.66 L131.5,723.29 L132,722.89 L132.5,722.47 L133,722.02 L133.5,721.56 L134,721.07 L134.5,720.57 L135,720.05 L135.5,719.52 L136,718.97 L136.5,718.42 L137,717.86 L137.5,717.29 L138,716.72 L138.5,716.14 L139,715.57 L139.5,715 L140,714.44 L140.5,713.88 L141,713.33 L141.5,712.79 L142,712.26 L142.5,711.74 L143,711.23 L143.5,710.74 L144,710.26 L144.5,709.79 L145,709.34 L145.5,708.89 L146,708.46 L146.5,708.03 L147,707.6 L147.5,707.17 L148,706.74 L148.5,706.29 L149,705.84 L149.5,705.36 L150,704.86 L150.5,704.33 L151,703.76 L151.5,703.15 L152,702.48 L152.5,701.77 L153,700.99 L153.5,700.14 L154,699.23 L154.5,698.24 L155,697.17 L155.5,696.03 L156,694.8 L156.5,693.49 L157,692.1 L157.5,690.63 L158,689.08 L158.5,687.45 L159,685.75 L159.5,683.98 L160,682.15 L160.5,680.25 L161,678.29 L161.5,676.27 L162,674.21 L162.5,672.09 L163,669.93 L163.5,667.72 L164,665.47 L164.5,663.18 L165,660.85 L165.5,658.48 L166,656.07 L166.5,653.64 L167,651.18 L167.5,648.7 L168,646.21 L168.5,643.72 L169,641.26 L169.5,638.83 L170,636.46 L170.5,634.18 L171,632.02 L171.5,630 L172,628.18 L172.5,626.57 L173,625.22 L173.5,624.16 L174,623.42 L174.5,623.04 L175,623.04 L175.5,623.42 L176,624.08 L176.5,624.9 L177,625.88 L177.5,627.03 L178,628.34 L178.5,629.8 L179,631.42 L179.5,633.18 L180,635.07 L180.5,637.1 L181,639.25 L181.5,641.51 L182,643.88 L182.5,646.34 L183,648.88 L183.5,651.49 L184,654.16 L184.5,656.89 L185,659.66 L185.5,662.46 L186,665.29 L186.5,668.13 L187,670.98 L187.5,673.82 L188,676.65 L188.5,679.47 L189,682.26 L189.5,685.02 L190,687.74 L190.5,690.42 L191,693.05 L191.5,695.63 L192,698.15 L192.5,700.61 L193,703 L193.5,705.33 L194,707.59 L194.5,709.78 L195,711.9 L195.5,713.94 L196,715.91 L196.5,717.8 L197,719.61 L197.5,721.35 L198,723.02 L198.5,724.61 L199,726.13 L199.5,727.57 L200,728.95 L200.5,730.26 L201,731.5 L201.5,732.67 L202,733.79 L202.5,734.84 L203,735.83 L203.5,736.76 L204,737.65 L204.5,738.48 L205,739.26 L205.5,739.99 L206,740.68 L206.5,741.32 L207,741.93 L207.5,742.5 L208,743.03 L208.5,743.53 L209,744 L209.5,744.44 L210,744.85 L210.5,745.23 L211,745.59 L211.5,745.93 L212,746.24 L212.5,746.54 L213,746.82 L213.5,747.08 L214,747.33 L214.5,747.56 L215,747.78 L215.5,747.99 L216,748.18 L216.5,748.37 L217,748.55 L217.5,748.71 L218,748.87 L218.5,749.03 L219,749.17 L219.5,749.31 L220,749.44 L220.5,749.57 L221,749.69 L221.5,749.81 L222,749.93 L222.5,750.04 L223,750.15 L223.5,750.25 L224,750.35 L224.5,750.45 L225,750.54 L225.5,750.64 L226,750.73 L226.5,750.81 L227,750.9 L227.5,750.99 L228,751.07 L228.5,751.15 L229,751.23 L229.5,751.31 L230,751.38 L230.5,751.46 L231,751.53 L231.5,751.6 L232,751.68" stroke="#555555" stroke-width="1.35" fill="none" stroke-linejoin="round"/>
<path d="M28,896.25 L28.5,896.24 L29,896.22 L29.5,896.2 L30,896.18 L30.5,896.16 L31,896.14 L31.5,896.13 L32,896.11 L32.5,896.09 L33,896.07 L33.5,896.05 L34,896.03 L34.5,896.01 L35,896 L35.5,895.98 L36,895.96 L36.5,895.94 L37,895.92 L37.5,895.91 L38,895.89 L38.5,895.87 L39,895.85 L39.5,895.84 L40,895.82 L40.5,895.8 L41,895.79 L41.5,895.77 L42,895.76 L42.5,895.74 L43,895.73 L43.5,895.72 L44,895.7 L44.5,895.69 L45,895.68 L45.5,895.67 L46,895.66 L46.5,895.65 L47,895.64 L47.5,895.63 L48,895.62 L48.5,895.62 L49,895.61 L49.5,895.6 L50,895.6 L50.5,895.59 L51,895.59 L51.5,895.59 L52,895.59 L52.5,895.58 L53,895.58 L53.5,895.59 L54,895.59 L54.5,895.59 L55,895.59 L55.5,895.6 L56,895.6 L56.5,895.61 L57,895.61 L57.5,895.62 L58,895.63 L58.5,895.64 L59,895.65 L59.5,895.66 L60,895.67 L60.5,895.68 L61,895.69 L61.5,895.7 L62,895.72 L62.5,895.73 L63,895.75 L63.5,895.77 L64,895.78 L64.5,895.8 L65,895.82 L65.5,895.84 L66,895.86 L66.5,895.87 L67,895.9 L67.5,895.92 L68,895.94 L68.5,895.96 L69,895.98 L69.5,896 L70,896.03 L70.5,896.05 L71,896.07 L71.5,896.1 L72,896.12 L72.5,896.15 L73,896.17 L73.5,896.2 L74,896.22 L74.5,896.25 L75,896.27 L75.5,896.3 L76,896.32 L76.5,896.35 L77,896.37 L77.5,896.4 L78,896.42 L78.5,896.45 L79,896.47 L79.5,896.5 L80,896.52 L80.5,896.55 L81,896.57 L81.5,896.6 L82,896.62 L82.5,896.65 L83,896.67 L83.5,896.7 L84,896.72 L84.5,896.74 L85,896.77 L85.5,896.79 L86,896.81 L86.5,896.83 L87,896.86 L87.5,896.88 L88,896.9 L88.5,896.92 L89,896.94 L89.5,896.96 L90,896.98 L90.5,897 L91,897.02 L91.5,897.04 L92,897.06 L92.5,897.07 L93,897.09 L93.5,897.11 L94,897.13 L94.5,897.14 L95,897.16 L95.5,897.18 L96,897.19 L96.5,897.21 L97,897.22 L97,897.48 L96.5,897.48 L96,897.47 L95.5,897.47 L95,897.47 L94.5,897.46 L94,897.46 L93.5,897.46 L93,897.45 L92.5,897.45 L92,897.45 L91.5,897.44 L91,897.44 L90.5,897.43 L90,897.43 L89.5,897.43 L89,897.42 L88.5,897.42 L88,897.42 L87.5,897.41 L87,897.41 L86.5,897.41 L86,897.4 L85.5,897.4 L85,897.4 L84.5,897.39 L84,897.39 L83.5,897.39 L83,897.38 L82.5,897.38 L82,897.38 L81.5,897.37 L81,897.37 L80.5,897.37 L80,897.36 L79.5,897.36 L79,897.36 L78.5,897.35 L78,897.35 L77.5,897.35 L77,897.34 L76.5,897.34 L76,897.34 L75.5,897.33 L75,897.33 L74.5,897.33 L74,897.32 L73.5,897.32 L73,897.32 L72.5,897.31 L72,897.31 L71.5,897.3 L71,897.3 L70.5,897.3 L70,897.29 L69.5,897.29 L69,897.29 L68.5,897.28 L68,897.28 L67.5,897.28 L67,897.27 L66.5,897.27 L66,897.27 L65.5,897.26 L65,897.26 L64.5,897.26 L64,897.25 L63.5,897.25 L63,897.25 L62.5,897.24 L62,897.24 L61.5,897.24 L61,897.23 L60.5,897.23 L60,897.23 L59.5,897.22 L59,897.22 L58.5,897.22 L58,897.21 L57.5,897.21 L57,897.21 L56.5,897.2 L56,897.2 L55.5,897.2 L55,897.19 L54.5,897.19 L54,897.18 L53.5,897.18 L53,897.18 L52.5,897.17 L52,897.17 L51.5,897.17 L51,897.16 L50.5,897.16 L50,897.16 L49.5,897.15 L49,897.15 L48.5,897.15 L48,897.14 L47.5,897.14 L47,897.14 L46.5,897.13 L46,897.13 L45.5,897.13 L45,897.12 L44.5,897.12 L44,897.12 L43.5,897.11 L43,897.11 L42.5,897.11 L42,897.1 L41.5,897.1 L41,897.1 L40.5,897.09 L40,897.09 L39.5,897.09 L39,897.08 L38.5,897.08 L38,897.08 L37.5,897.07 L37,897.07 L36.5,897.07 L36,897.06 L35.5,897.06 L35,897.05 L34.5,897.05 L34,897.05 L33.5,897.04 L33,897.04 L32.5,897.04 L32,897.03 L31.5,897.03 L31,897.03 L30.5,897.02 L30,897.02 L29.5,897.02 L29,897.01 L28.5,897.01 L28,897.01" stroke="none" stroke-width="1" fill="#BDF0EC" fill-opacity="0.85"/>
<path d="M69,897.02 L69.5,896.99 L70,896.96 L70.5,896.92 L71,896.87 L71.5,896.83 L72,896.77 L72.5,896.71 L73,896.64 L73.5,896.57 L74,896.49 L74.5,896.4 L75,896.3 L75.5,896.19 L76,896.08 L76.5,895.95 L77,895.81 L77.5,895.66 L78,895.5 L78.5,895.32 L79,895.14 L79.5,894.93 L80,894.72 L80.5,894.49 L81,894.24 L81.5,893.98 L82,893.7 L82.5,893.41 L83,893.09 L83.5,892.77 L84,892.42 L84.5,892.06 L85,891.68 L85.5,891.28 L86,890.87 L86.5,890.44 L87,890 L87.5,889.54 L88,889.06 L88.5,888.58 L89,888.08 L89.5,887.56 L90,887.04 L90.5,886.51 L91,885.97 L91.5,885.43 L92,884.88 L92.5,884.33 L93,883.77 L93.5,883.22 L94,882.68 L94.5,882.13 L95,881.6 L95.5,881.07 L96,880.56 L96.5,880.06 L97,879.57 L97.5,879.11 L98,878.66 L98.5,878.24 L99,877.84 L99.5,877.47 L100,877.12 L100.5,876.82 L101,876.55 L101.5,876.31 L102,876.11 L102.5,875.94 L103,875.81 L103.5,875.71 L104,875.66 L104.5,875.64 L105,875.66 L105.5,875.7 L106,875.77 L106.5,875.88 L107,876 L107.5,876.16 L108,876.34 L108.5,876.55 L109,876.78 L109.5,877.04 L110,877.32 L110.5,877.62 L111,877.95 L111.5,878.29 L112,878.66 L112.5,879.04 L113,879.44 L113.5,879.85 L114,880.28 L114.5,880.72 L115,881.17 L115.5,881.63 L116,882.1 L116.5,882.57 L117,883.05 L117.5,883.54 L118,884.03 L118.5,884.52 L119,885.01 L119.5,885.5 L120,885.99 L120.5,886.48 L121,886.96 L121.5,887.44 L122,887.91 L122.5,888.37 L123,888.83 L123.5,889.28 L124,889.71 L124.5,890.14 L125,890.56 L125.5,890.97 L126,891.37 L126.5,891.75 L127,892.12 L127.5,892.48 L128,892.83 L128.5,893.17 L129,893.49 L129.5,893.8 L130,894.1 L130.5,894.39 L131,894.66 L131.5,894.92 L132,895.17 L132.5,895.41 L133,895.64 L133.5,895.85 L134,896.06 L134.5,896.25 L135,896.44 L135.5,896.61 L136,896.77 L136.5,896.93 L137,897.07 L137.5,897.21 L138,897.34 L138.5,897.46 L139,897.58 L139.5,897.68 L140,897.78 L140.5,897.91 L141,898.03 L141.5,898.15 L142,898.26 L142.5,898.36 L143,898.46 L143.5,898.56 L144,898.65 L144.5,898.74 L145,898.83 L145.5,898.91 L146,898.99 L146.5,899.06 L146.5,899.32 L146,899.27 L145.5,899.22 L145,899.18 L144.5,899.13 L144,899.08 L143.5,899.03 L143,898.99 L142.5,898.94 L142,898.89 L141.5,898.84 L141,898.8 L140.5,898.75 L140,898.7 L139.5,898.69 L139,898.67 L138.5,898.66 L138,898.64 L137.5,898.62 L137,898.61 L136.5,898.6 L136,898.58 L135.5,898.57 L135,898.55 L134.5,898.54 L134,898.52 L133.5,898.5 L133,898.49 L132.5,898.48 L132,898.46 L131.5,898.45 L131,898.43 L130.5,898.42 L130,898.4 L129.5,898.38 L129,898.37 L128.5,898.36 L128,898.34 L127.5,898.33 L127,898.31 L126.5,898.3 L126,898.28 L125.5,898.26 L125,898.25 L124.5,898.24 L124,898.22 L123.5,898.21 L123,898.19 L122.5,898.18 L122,898.16 L121.5,898.14 L121,898.13 L120.5,898.12 L120,898.1 L119.5,898.09 L119,898.07 L118.5,898.06 L118,898.04 L117.5,898.02 L117,898.01 L116.5,898 L116,897.98 L115.5,897.97 L115,897.95 L114.5,897.94 L114,897.92 L113.5,897.9 L113,897.89 L112.5,897.88 L112,897.86 L111.5,897.85 L111,897.83 L110.5,897.82 L110,897.8 L109.5,897.78 L109,897.77 L108.5,897.75 L108,897.74 L107.5,897.73 L107,897.71 L106.5,897.7 L106,897.68 L105.5,897.66 L105,897.65 L104.5,897.63 L104,897.62 L103.5,897.61 L103,897.59 L102.5,897.58 L102,897.56 L101.5,897.54 L101,897.53 L100.5,897.51 L100,897.5 L99.5,897.5 L99,897.49 L98.5,897.49 L98,897.49 L97.5,897.48 L97,897.48 L96.5,897.48 L96,897.47 L95.5,897.47 L95,897.47 L94.5,897.46 L94,897.46 L93.5,897.46 L93,897.45 L92.5,897.45 L92,897.45 L91.5,897.44 L91,897.44 L90.5,897.43 L90,897.43 L89.5,897.43 L89,897.42 L88.5,897.42 L88,897.42 L87.5,897.41 L87,897.41 L86.5,897.41 L86,897.4 L85.5,897.4 L85,897.4 L84.5,897.39 L84,897.39 L83.5,897.39 L83,897.38 L82.5,897.38 L82,897.38 L81.5,897.37 L81,897.37 L80.5,897.37 L80,897.36 L79.5,897.36 L79,897.36 L78.5,897.35 L78,897.35 L77.5,897.35 L77,897.34 L76.5,897.34 L76,897.34 L75.5,897.33 L75,897.33 L74.5,897.33 L74,897.32 L73.5,897.32 L73,897.32 L72.5,897.31 L72,897.31 L71.5,897.3 L71,897.3 L70.5,897.3 L70,897.29 L69.5,897.29 L69,897.29" stroke="none" stroke-width="1" fill="#FAC9CB" fill-opacity="0.85"/>
<path d="M121,897.85 L121.5,897.79 L122,897.72 L122.5,897.64 L123,897.54 L123.5,897.42 L124,897.28 L124.5,897.11 L125,896.92 L125.5,896.7 L126,896.46 L126.5,896.18 L127,895.87 L127.5,895.54 L128,895.18 L128.5,894.79 L129,894.38 L129.5,893.94 L130,893.5 L130.5,893.04 L131,892.57 L131.5,892.11 L132,891.65 L132.5,891.21 L133,890.8 L133.5,890.41 L134,890.07 L134.5,889.77 L135,889.51 L135.5,889.32 L136,889.19 L136.5,889.12 L137,889.11 L137.5,889.17 L138,889.3 L138.5,889.49 L139,889.73 L139.5,890.04 L140,890.39 L140.5,890.81 L141,891.27 L141.5,891.76 L142,892.27 L142.5,892.79 L143,893.32 L143.5,893.84 L144,894.36 L144.5,894.87 L145,895.36 L145.5,895.82 L146,896.26 L146.5,896.68 L147,897.06 L147.5,897.42 L148,897.74 L148.5,898.04 L149,898.31 L149.5,898.56 L150,898.77 L150.5,898.97 L151,899.14 L151.5,899.3 L152,899.44 L152.5,899.56 L153,899.68 L153,899.94 L152.5,899.89 L152,899.84 L151.5,899.79 L151,899.75 L150.5,899.7 L150,899.65 L149.5,899.6 L149,899.56 L148.5,899.51 L148,899.46 L147.5,899.41 L147,899.37 L146.5,899.32 L146,899.27 L145.5,899.22 L145,899.18 L144.5,899.13 L144,899.08 L143.5,899.03 L143,898.99 L142.5,898.94 L142,898.89 L141.5,898.84 L141,898.8 L140.5,898.75 L140,898.7 L139.5,898.69 L139,898.67 L138.5,898.66 L138,898.64 L137.5,898.62 L137,898.61 L136.5,898.6 L136,898.58 L135.5,898.57 L135,898.55 L134.5,898.54 L134,898.52 L133.5,898.5 L133,898.49 L132.5,898.48 L132,898.46 L131.5,898.45 L131,898.43 L130.5,898.42 L130,898.4 L129.5,898.38 L129,898.37 L128.5,898.36 L128,898.34 L127.5,898.33 L127,898.31 L126.5,898.3 L126,898.28 L125.5,898.26 L125,898.25 L124.5,898.24 L124,898.22 L123.5,898.21 L123,898.19 L122.5,898.18 L122,898.16 L121.5,898.14 L121,898.13" stroke="none" stroke-width="1" fill="#E3C9F0" fill-opacity="0.85"/>
<path d="M134.5,898.28 L135,898.26 L135.5,898.23 L136,898.2 L136.5,898.15 L137,898.1 L137.5,898.04 L138,897.97 L138.5,897.89 L139,897.8 L139.5,897.7 L140,897.58 L140.5,897.48 L141,897.36 L141.5,897.22 L142,897.06 L142.5,896.87 L143,896.67 L143.5,896.43 L144,896.16 L144.5,895.87 L145,895.53 L145.5,895.16 L146,894.76 L146.5,894.3 L147,893.81 L147.5,893.26 L148,892.66 L148.5,892.01 L149,891.3 L149.5,890.53 L150,889.7 L150.5,888.8 L151,887.83 L151.5,886.79 L152,885.67 L152.5,884.47 L153,883.2 L153.5,881.84 L154,880.4 L154.5,878.88 L155,877.26 L155.5,875.57 L156,873.78 L156.5,871.91 L157,869.94 L157.5,867.9 L158,865.77 L158.5,863.55 L159,861.26 L159.5,858.89 L160,856.45 L160.5,853.95 L161,851.38 L161.5,848.75 L162,846.07 L162.5,843.35 L163,840.6 L163.5,837.82 L164,835.02 L164.5,832.21 L165,829.41 L165.5,826.61 L166,823.84 L166.5,821.09 L167,818.4 L167.5,815.75 L168,813.18 L168.5,810.67 L169,808.26 L169.5,805.95 L170,803.75 L170.5,801.66 L171,799.71 L171.5,797.9 L172,796.24 L172.5,794.73 L173,793.4 L173.5,792.23 L174,791.24 L174.5,790.44 L175,789.83 L175.5,789.4 L176,789.18 L176.5,789.14 L177,789.32 L177.5,789.72 L178,790.33 L178.5,791.16 L179,792.19 L179.5,793.42 L180,794.84 L180.5,796.4 L181,798.14 L181.5,800.03 L182,802.06 L182.5,804.22 L183,806.5 L183.5,808.88 L184,811.35 L184.5,813.9 L185,816.51 L185.5,819.18 L186,821.89 L186.5,824.63 L187,827.38 L187.5,830.15 L188,832.91 L188.5,835.67 L189,838.41 L189.5,841.12 L190,843.79 L190.5,846.43 L191,849.02 L191.5,851.56 L192,854.04 L192.5,856.46 L193,858.81 L193.5,861.09 L194,863.3 L194.5,865.44 L195,867.5 L195.5,869.48 L196,871.38 L196.5,873.2 L197,874.95 L197.5,876.61 L198,878.2 L198.5,879.71 L199,881.14 L199.5,882.5 L200,883.79 L200.5,885 L201,886.15 L201.5,887.22 L202,888.24 L202.5,889.19 L203,890.08 L203.5,890.92 L204,891.7 L204.5,892.43 L205,893.11 L205.5,893.75 L206,894.34 L206.5,894.89 L207,895.41 L207.5,895.88 L208,896.32 L208.5,896.74 L209,897.12 L209.5,897.47 L210,897.8 L210.5,898.1 L211,898.39 L211.5,898.65 L212,898.9 L212.5,899.12 L213,899.34 L213.5,899.53 L214,899.72 L214.5,899.89 L215,900.05 L215.5,900.2 L216,900.35 L216.5,900.48 L217,900.61 L217.5,900.73 L218,900.84 L218.5,900.95 L219,901.05 L219.5,901.15 L220,901.24 L220.5,901.33 L221,901.41 L221.5,901.49 L222,901.57 L222.5,901.65 L223,901.72 L223.5,901.79 L224,901.86 L224.5,901.93 L225,901.99 L225.5,902.06 L226,902.12 L226.5,902.18 L227,902.24 L227.5,902.29 L228,902.35 L228.5,902.41 L229,902.46 L229.5,902.51 L230,902.56 L230.5,902.61 L231,902.66 L231.5,902.71 L232,902.76 L232,904.46 L231.5,904.44 L231,904.42 L230.5,904.41 L230,904.39 L229.5,904.37 L229,904.35 L228.5,904.33 L228,904.31 L227.5,904.29 L227,904.27 L226.5,904.25 L226,904.24 L225.5,904.22 L225,904.2 L224.5,904.18 L224,904.16 L223.5,904.14 L223,904.12 L222.5,904.1 L222,904.08 L221.5,904.07 L221,904.05 L220.5,904.03 L220,904.01 L219.5,903.99 L219,903.97 L218.5,903.95 L218,903.93 L217.5,903.92 L217,903.9 L216.5,903.88 L216,903.86 L215.5,903.84 L215,903.82 L214.5,903.8 L214,903.78 L213.5,903.76 L213,903.75 L212.5,903.73 L212,903.71 L211.5,903.69 L211,903.67 L210.5,903.65 L210,903.63 L209.5,903.61 L209,903.59 L208.5,903.58 L208,903.56 L207.5,903.54 L207,903.52 L206.5,903.5 L206,903.48 L205.5,903.46 L205,903.44 L204.5,903.42 L204,903.41 L203.5,903.39 L203,903.37 L202.5,903.35 L202,903.33 L201.5,903.31 L201,903.29 L200.5,903.27 L200,903.25 L199.5,903.24 L199,903.22 L198.5,903.2 L198,903.18 L197.5,903.16 L197,903.14 L196.5,903.12 L196,903.1 L195.5,903.08 L195,903.07 L194.5,903.05 L194,903.03 L193.5,903.01 L193,902.99 L192.5,902.97 L192,902.95 L191.5,902.93 L191,902.92 L190.5,902.9 L190,902.88 L189.5,902.86 L189,902.84 L188.5,902.82 L188,902.8 L187.5,902.78 L187,902.76 L186.5,902.75 L186,902.73 L185.5,902.71 L185,902.69 L184.5,902.67 L184,902.65 L183.5,902.63 L183,902.61 L182.5,902.59 L182,902.58 L181.5,902.56 L181,902.54 L180.5,902.52 L180,902.5 L179.5,902.45 L179,902.4 L178.5,902.36 L178,902.31 L177.5,902.26 L177,902.22 L176.5,902.17 L176,902.12 L175.5,902.07 L175,902.02 L174.5,901.98 L174,901.93 L173.5,901.88 L173,901.84 L172.5,901.79 L172,901.74 L171.5,901.69 L171,901.64 L170.5,901.6 L170,901.55 L169.5,901.5 L169,901.46 L168.5,901.41 L168,901.36 L167.5,901.31 L167,901.26 L166.5,901.22 L166,901.17 L165.5,901.12 L165,901.08 L164.5,901.03 L164,900.98 L163.5,900.93 L163,900.88 L162.5,900.84 L162,900.79 L161.5,900.74 L161,900.7 L160.5,900.65 L160,900.6 L159.5,900.55 L159,900.5 L158.5,900.46 L158,900.41 L157.5,900.36 L157,900.32 L156.5,900.27 L156,900.22 L155.5,900.17 L155,900.12 L154.5,900.08 L154,900.03 L153.5,899.98 L153,899.94 L152.5,899.89 L152,899.84 L151.5,899.79 L151,899.75 L150.5,899.7 L150,899.65 L149.5,899.6 L149,899.56 L148.5,899.51 L148,899.46 L147.5,899.41 L147,899.37 L146.5,899.32 L146,899.27 L145.5,899.22 L145,899.18 L144.5,899.13 L144,899.08 L143.5,899.03 L143,898.99 L142.5,898.94 L142,898.89 L141.5,898.84 L141,898.8 L140.5,898.75 L140,898.7 L139.5,898.69 L139,898.67 L138.5,898.66 L138,898.64 L137.5,898.62 L137,898.61 L136.5,898.6 L136,898.58 L135.5,898.57 L135,898.55 L134.5,898.54" stroke="none" stroke-width="1" fill="#C2E9F8" fill-opacity="0.9"/>
<path d="M130,898.11 L130.5,898.07 L131,898.01 L131.5,897.94 L132,897.86 L132.5,897.77 L133,897.65 L133.5,897.52 L134,897.37 L134.5,897.2 L135,897.01 L135.5,896.79 L136,896.55 L136.5,896.28 L137,895.99 L137.5,895.67 L138,895.32 L138.5,894.95 L139,894.56 L139.5,894.15 L140,893.71 L140.5,893.29 L141,892.86 L141.5,892.42 L142,891.98 L142.5,891.53 L143,891.09 L143.5,890.66 L144,890.25 L144.5,889.86 L145,889.49 L145.5,889.16 L146,888.87 L146.5,888.62 L147,888.42 L147.5,888.27 L148,888.18 L148.5,888.14 L149,888.16 L149.5,888.22 L150,888.34 L150.5,888.5 L151,888.7 L151.5,888.94 L152,889.21 L152.5,889.53 L153,889.87 L153.5,890.25 L154,890.65 L154.5,891.08 L155,891.52 L155.5,891.98 L156,892.45 L156.5,892.92 L157,893.4 L157.5,893.88 L158,894.36 L158.5,894.83 L159,895.29 L159.5,895.73 L160,896.17 L160.5,896.59 L161,896.99 L161.5,897.38 L162,897.75 L162.5,898.09 L163,898.42 L163.5,898.73 L164,899.01 L164.5,899.28 L165,899.53 L165.5,899.76 L166,899.98 L166.5,900.18 L167,900.36 L167.5,900.53 L168,900.68 L168.5,900.82 L169,900.95 L169.5,901.07 L170,901.19 L170.5,901.29 L171,901.39 L171,901.64 L170.5,901.6 L170,901.55 L169.5,901.5 L169,901.46 L168.5,901.41 L168,901.36 L167.5,901.31 L167,901.26 L166.5,901.22 L166,901.17 L165.5,901.12 L165,901.08 L164.5,901.03 L164,900.98 L163.5,900.93 L163,900.88 L162.5,900.84 L162,900.79 L161.5,900.74 L161,900.7 L160.5,900.65 L160,900.6 L159.5,900.55 L159,900.5 L158.5,900.46 L158,900.41 L157.5,900.36 L157,900.32 L156.5,900.27 L156,900.22 L155.5,900.17 L155,900.12 L154.5,900.08 L154,900.03 L153.5,899.98 L153,899.94 L152.5,899.89 L152,899.84 L151.5,899.79 L151,899.75 L150.5,899.7 L150,899.65 L149.5,899.6 L149,899.56 L148.5,899.51 L148,899.46 L147.5,899.41 L147,899.37 L146.5,899.32 L146,899.27 L145.5,899.22 L145,899.18 L144.5,899.13 L144,899.08 L143.5,899.03 L143,898.99 L142.5,898.94 L142,898.89 L141.5,898.84 L141,898.8 L140.5,898.75 L140,898.7 L139.5,898.69 L139,898.67 L138.5,898.66 L138,898.64 L137.5,898.62 L137,898.61 L136.5,898.6 L136,898.58 L135.5,898.57 L135,898.55 L134.5,898.54 L134,898.52 L133.5,898.5 L133,898.49 L132.5,898.48 L132,898.46 L131.5,898.45 L131,898.43 L130.5,898.42 L130,898.4" stroke="none" stroke-width="1" fill="#FAE3CC" fill-opacity="0.8"/>
<g fill="none" stroke="#a6a6a6" stroke-width="0.8"><circle cx="28.0" cy="895.6" r="2.2"/><circle cx="30.0" cy="895.5" r="2.2"/><circle cx="32.0" cy="895.4" r="2.2"/><circle cx="34.0" cy="895.3" r="2.2"/><circle cx="36.0" cy="895.1" r="2.2"/><circle cx="38.0" cy="895.0" r="2.2"/><circle cx="40.0" cy="894.8" r="2.2"/><circle cx="42.0" cy="894.5" r="2.2"/><circle cx="44.0" cy="894.3" r="2.2"/><circle cx="46.0" cy="894.1" r="2.2"/><circle cx="48.0" cy="893.9" r="2.2"/><circle cx="50.0" cy="893.7" r="2.2"/><circle cx="52.0" cy="893.5" r="2.2"/><circle cx="54.0" cy="893.3" r="2.2"/><circle cx="56.0" cy="893.1" r="2.2"/><circle cx="58.0" cy="893.0" r="2.2"/><circle cx="60.0" cy="892.8" r="2.2"/><circle cx="62.0" cy="892.7" r="2.2"/><circle cx="64.0" cy="892.5" r="2.2"/><circle cx="66.0" cy="892.3" r="2.2"/><circle cx="68.0" cy="892.0" r="2.2"/><circle cx="70.0" cy="891.7" r="2.2"/><circle cx="72.0" cy="891.3" r="2.2"/><circle cx="74.0" cy="890.8" r="2.2"/><circle cx="76.0" cy="890.1" r="2.2"/><circle cx="78.0" cy="889.3" r="2.2"/><circle cx="80.0" cy="888.3" r="2.2"/><circle cx="82.0" cy="887.1" r="2.2"/><circle cx="84.0" cy="885.8" r="2.2"/><circle cx="86.0" cy="884.4" r="2.2"/><circle cx="88.0" cy="882.9" r="2.2"/><circle cx="90.0" cy="881.4" r="2.2"/><circle cx="92.0" cy="879.8" r="2.2"/><circle cx="94.0" cy="878.4" r="2.2"/><circle cx="96.0" cy="877.1" r="2.2"/><circle cx="98.0" cy="876.0" r="2.2"/><circle cx="100.0" cy="875.1" r="2.2"/><circle cx="102.0" cy="874.6" r="2.2"/><circle cx="104.0" cy="874.3" r="2.2"/><circle cx="106.0" cy="874.4" r="2.2"/><circle cx="108.0" cy="874.8" r="2.2"/><circle cx="110.0" cy="875.5" r="2.2"/><circle cx="112.0" cy="876.4" r="2.2"/><circle cx="114.0" cy="877.5" r="2.2"/><circle cx="116.0" cy="878.7" r="2.2"/><circle cx="118.0" cy="879.9" r="2.2"/><circle cx="120.0" cy="881.0" r="2.2"/><circle cx="122.0" cy="881.9" r="2.2"/><circle cx="124.0" cy="882.6" r="2.2"/><circle cx="126.0" cy="883.0" r="2.2"/><circle cx="128.0" cy="883.1" r="2.2"/><circle cx="130.0" cy="882.8" r="2.2"/><circle cx="132.0" cy="882.3" r="2.2"/><circle cx="134.0" cy="881.4" r="2.2"/><circle cx="136.0" cy="880.4" r="2.2"/><circle cx="138.0" cy="879.3" r="2.2"/><circle cx="140.0" cy="878.0" r="2.2"/><circle cx="142.0" cy="876.8" r="2.2"/><circle cx="144.0" cy="875.6" r="2.2"/><circle cx="146.0" cy="874.5" r="2.2"/><circle cx="148.0" cy="873.2" r="2.2"/><circle cx="150.0" cy="871.7" r="2.2"/><circle cx="152.0" cy="869.7" r="2.2"/><circle cx="154.0" cy="866.9" r="2.2"/><circle cx="156.0" cy="863.1" r="2.2"/><circle cx="158.0" cy="858.2" r="2.2"/><circle cx="160.0" cy="852.0" r="2.2"/><circle cx="162.0" cy="844.7" r="2.2"/><circle cx="164.0" cy="836.3" r="2.2"/><circle cx="166.0" cy="827.0" r="2.2"/><circle cx="168.0" cy="816.9" r="2.2"/><circle cx="170.0" cy="806.4" r="2.2"/><circle cx="172.0" cy="796.5" r="2.2"/><circle cx="174.0" cy="789.3" r="2.2"/><circle cx="176.0" cy="787.4" r="2.2"/><circle cx="178.0" cy="791.0" r="2.2"/><circle cx="180.0" cy="797.2" r="2.2"/><circle cx="182.0" cy="805.4" r="2.2"/><circle cx="184.0" cy="815.2" r="2.2"/><circle cx="186.0" cy="825.9" r="2.2"/><circle cx="188.0" cy="836.8" r="2.2"/><circle cx="190.0" cy="847.4" r="2.2"/><circle cx="192.0" cy="857.4" r="2.2"/><circle cx="194.0" cy="866.3" r="2.2"/><circle cx="196.0" cy="874.1" r="2.2"/><circle cx="198.0" cy="880.7" r="2.2"/><circle cx="200.0" cy="886.1" r="2.2"/><circle cx="202.0" cy="890.4" r="2.2"/><circle cx="204.0" cy="893.8" r="2.2"/><circle cx="206.0" cy="896.3" r="2.2"/><circle cx="208.0" cy="898.2" r="2.2"/><circle cx="210.0" cy="899.7" r="2.2"/><circle cx="212.0" cy="900.8" r="2.2"/><circle cx="214.0" cy="901.6" r="2.2"/><circle cx="216.0" cy="902.2" r="2.2"/><circle cx="218.0" cy="902.7" r="2.2"/><circle cx="220.0" cy="903.1" r="2.2"/><circle cx="222.0" cy="903.4" r="2.2"/><circle cx="224.0" cy="903.7" r="2.2"/><circle cx="226.0" cy="904.0" r="2.2"/><circle cx="228.0" cy="904.2" r="2.2"/><circle cx="230.0" cy="904.5" r="2.2"/><circle cx="232.0" cy="904.7" r="2.2"/></g>
<path d="M28,895.61 L28.5,895.59 L29,895.57 L29.5,895.55 L30,895.53 L30.5,895.5 L31,895.48 L31.5,895.45 L32,895.42 L32.5,895.39 L33,895.35 L33.5,895.32 L34,895.28 L34.5,895.25 L35,895.21 L35.5,895.17 L36,895.13 L36.5,895.09 L37,895.04 L37.5,895 L38,894.95 L38.5,894.9 L39,894.85 L39.5,894.81 L40,894.75 L40.5,894.7 L41,894.65 L41.5,894.6 L42,894.55 L42.5,894.49 L43,894.44 L43.5,894.38 L44,894.33 L44.5,894.27 L45,894.22 L45.5,894.16 L46,894.11 L46.5,894.05 L47,894 L47.5,893.94 L48,893.89 L48.5,893.83 L49,893.78 L49.5,893.73 L50,893.67 L50.5,893.62 L51,893.57 L51.5,893.52 L52,893.47 L52.5,893.42 L53,893.38 L53.5,893.33 L54,893.29 L54.5,893.24 L55,893.2 L55.5,893.16 L56,893.12 L56.5,893.08 L57,893.04 L57.5,893 L58,892.96 L58.5,892.92 L59,892.88 L59.5,892.84 L60,892.81 L60.5,892.77 L61,892.73 L61.5,892.69 L62,892.66 L62.5,892.62 L63,892.57 L63.5,892.53 L64,892.49 L64.5,892.44 L65,892.39 L65.5,892.34 L66,892.29 L66.5,892.23 L67,892.17 L67.5,892.11 L68,892.04 L68.5,891.97 L69,891.89 L69.5,891.81 L70,891.72 L70.5,891.62 L71,891.52 L71.5,891.41 L72,891.3 L72.5,891.17 L73,891.04 L73.5,890.91 L74,890.76 L74.5,890.6 L75,890.44 L75.5,890.26 L76,890.08 L76.5,889.89 L77,889.69 L77.5,889.47 L78,889.25 L78.5,889.02 L79,888.78 L79.5,888.52 L80,888.26 L80.5,887.99 L81,887.71 L81.5,887.42 L82,887.11 L82.5,886.8 L83,886.48 L83.5,886.16 L84,885.82 L84.5,885.48 L85,885.13 L85.5,884.77 L86,884.41 L86.5,884.04 L87,883.66 L87.5,883.29 L88,882.91 L88.5,882.52 L89,882.14 L89.5,881.75 L90,881.37 L90.5,880.98 L91,880.6 L91.5,880.22 L92,879.84 L92.5,879.47 L93,879.11 L93.5,878.75 L94,878.4 L94.5,878.06 L95,877.72 L95.5,877.4 L96,877.09 L96.5,876.8 L97,876.51 L97.5,876.24 L98,875.99 L98.5,875.75 L99,875.53 L99.5,875.32 L100,875.13 L100.5,874.96 L101,874.82 L101.5,874.68 L102,874.57 L102.5,874.48 L103,874.41 L103.5,874.36 L104,874.34 L104.5,874.33 L105,874.34 L105.5,874.37 L106,874.42 L106.5,874.5 L107,874.59 L107.5,874.7 L108,874.83 L108.5,874.98 L109,875.14 L109.5,875.32 L110,875.52 L110.5,875.73 L111,875.95 L111.5,876.19 L112,876.44 L112.5,876.69 L113,876.96 L113.5,877.24 L114,877.52 L114.5,877.81 L115,878.1 L115.5,878.4 L116,878.69 L116.5,878.99 L117,879.29 L117.5,879.58 L118,879.87 L118.5,880.15 L119,880.43 L119.5,880.7 L120,880.96 L120.5,881.21 L121,881.44 L121.5,881.67 L122,881.88 L122.5,882.08 L123,882.26 L123.5,882.42 L124,882.57 L124.5,882.7 L125,882.81 L125.5,882.9 L126,882.97 L126.5,883.02 L127,883.06 L127.5,883.07 L128,883.06 L128.5,883.03 L129,882.97 L129.5,882.9 L130,882.81 L130.5,882.7 L131,882.57 L131.5,882.43 L132,882.26 L132.5,882.08 L133,881.88 L133.5,881.67 L134,881.44 L134.5,881.2 L135,880.95 L135.5,880.69 L136,880.42 L136.5,880.14 L137,879.85 L137.5,879.56 L138,879.26 L138.5,878.96 L139,878.65 L139.5,878.35 L140,878.04 L140.5,877.74 L141,877.43 L141.5,877.13 L142,876.83 L142.5,876.53 L143,876.23 L143.5,875.94 L144,875.64 L144.5,875.35 L145,875.06 L145.5,874.76 L146,874.47 L146.5,874.16 L147,873.86 L147.5,873.54 L148,873.21 L148.5,872.86 L149,872.49 L149.5,872.1 L150,871.69 L150.5,871.24 L151,870.76 L151.5,870.23 L152,869.67 L152.5,869.05 L153,868.39 L153.5,867.67 L154,866.88 L154.5,866.04 L155,865.13 L155.5,864.15 L156,863.1 L156.5,861.97 L157,860.77 L157.5,859.5 L158,858.15 L158.5,856.73 L159,855.23 L159.5,853.65 L160,852 L160.5,850.28 L161,848.49 L161.5,846.63 L162,844.7 L162.5,842.71 L163,840.65 L163.5,838.53 L164,836.34 L164.5,834.1 L165,831.8 L165.5,829.44 L166,827.03 L166.5,824.56 L167,822.05 L167.5,819.5 L168,816.91 L168.5,814.29 L169,811.66 L169.5,809.02 L170,806.4 L170.5,803.82 L171,801.29 L171.5,798.86 L172,796.55 L172.5,794.4 L173,792.45 L173.5,790.75 L174,789.34 L174.5,788.27 L175,787.56 L175.5,787.25 L176,787.38 L176.5,787.94 L177,788.79 L177.5,789.8 L178,790.97 L178.5,792.29 L179,793.77 L179.5,795.4 L180,797.16 L180.5,799.06 L181,801.08 L181.5,803.21 L182,805.44 L182.5,807.77 L183,810.19 L183.5,812.67 L184,815.23 L184.5,817.83 L185,820.48 L185.5,823.16 L186,825.87 L186.5,828.6 L187,831.33 L187.5,834.06 L188,836.78 L188.5,839.48 L189,842.16 L189.5,844.8 L190,847.41 L190.5,849.98 L191,852.49 L191.5,854.96 L192,857.36 L192.5,859.7 L193,861.98 L193.5,864.19 L194,866.33 L194.5,868.39 L195,870.38 L195.5,872.3 L196,874.14 L196.5,875.9 L197,877.58 L197.5,879.19 L198,880.72 L198.5,882.18 L199,883.56 L199.5,884.87 L200,886.11 L200.5,887.29 L201,888.39 L201.5,889.43 L202,890.41 L202.5,891.33 L203,892.2 L203.5,893.01 L204,893.76 L204.5,894.47 L205,895.13 L205.5,895.74 L206,896.32 L206.5,896.85 L207,897.35 L207.5,897.81 L208,898.24 L208.5,898.64 L209,899.01 L209.5,899.36 L210,899.68 L210.5,899.98 L211,900.26 L211.5,900.51 L212,900.75 L212.5,900.98 L213,901.19 L213.5,901.38 L214,901.57 L214.5,901.74 L215,901.9 L215.5,902.05 L216,902.19 L216.5,902.32 L217,902.45 L217.5,902.57 L218,902.69 L218.5,902.79 L219,902.9 L219.5,903 L220,903.09 L220.5,903.18 L221,903.27 L221.5,903.35 L222,903.43 L222.5,903.51 L223,903.59 L223.5,903.66 L224,903.73 L224.5,903.8 L225,903.87 L225.5,903.94 L226,904 L226.5,904.06 L227,904.12 L227.5,904.19 L228,904.24 L228.5,904.3 L229,904.36 L229.5,904.42 L230,904.47 L230.5,904.53 L231,904.58 L231.5,904.63 L232,904.68" stroke="#555555" stroke-width="1.35" fill="none" stroke-linejoin="round"/>
<line x1="104.7" y1="720" x2="104.7" y2="899" stroke="#333" stroke-width="0.9" stroke-dasharray="2,1.6"/>
<line x1="135.9" y1="731" x2="135.9" y2="899" stroke="#333" stroke-width="0.9" stroke-dasharray="2,1.6"/>
<line x1="151.5" y1="732" x2="151.5" y2="899" stroke="#333" stroke-width="0.9" stroke-dasharray="2,1.6"/>
<line x1="175.3" y1="623" x2="175.3" y2="899" stroke="#333" stroke-width="0.9" stroke-dasharray="2,1.6"/>
<rect x="27.1" y="603.4" width="206" height="310.5" fill="none" stroke="#000" stroke-width="1.6"/>
<line x1="45.5" y1="913.9" x2="45.5" y2="920.4" stroke="#000" stroke-width="1.5" />
<text x="45.5" y="934.9" font-size="12.8" fill="#111" font-weight="normal" text-anchor="middle" stroke="#111" stroke-width="0.3">292</text>
<line x1="83.02" y1="913.9" x2="83.02" y2="920.4" stroke="#000" stroke-width="1.5" />
<text x="83.02" y="934.9" font-size="12.8" fill="#111" font-weight="normal" text-anchor="middle" stroke="#111" stroke-width="0.3">290</text>
<line x1="120.54" y1="913.9" x2="120.54" y2="920.4" stroke="#000" stroke-width="1.5" />
<text x="120.54" y="934.9" font-size="12.8" fill="#111" font-weight="normal" text-anchor="middle" stroke="#111" stroke-width="0.3">288</text>
<line x1="158.06" y1="913.9" x2="158.06" y2="920.4" stroke="#000" stroke-width="1.5" />
<text x="158.06" y="934.9" font-size="12.8" fill="#111" font-weight="normal" text-anchor="middle" stroke="#111" stroke-width="0.3">286</text>
<line x1="195.58" y1="913.9" x2="195.58" y2="920.4" stroke="#000" stroke-width="1.5" />
<text x="195.58" y="934.9" font-size="12.8" fill="#111" font-weight="normal" text-anchor="middle" stroke="#111" stroke-width="0.3">284</text>
<line x1="233.1" y1="913.9" x2="233.1" y2="920.4" stroke="#000" stroke-width="1.5" />
<text x="233.1" y="934.9" font-size="12.8" fill="#111" font-weight="normal" text-anchor="middle" stroke="#111" stroke-width="0.3">282</text>
<path d="M435,376.48 L435.5,376.42 L436,376.34 L436.5,376.22 L437,376.06 L437.5,375.86 L438,375.6 L438.5,375.27 L439,374.88 L439.5,374.4 L440,373.83 L440.5,373.16 L441,372.39 L441.5,371.52 L442,370.53 L442.5,369.45 L443,368.27 L443.5,367 L444,365.66 L444.5,364.27 L445,362.85 L445.5,361.43 L446,360.04 L446.5,358.72 L447,357.49 L447.5,356.39 L448,355.45 L448.5,354.69 L449,354.14 L449.5,353.82 L450,353.73 L450.5,353.8 L451,353.94 L451.5,354.16 L452,354.45 L452.5,354.8 L453,355.22 L453.5,355.71 L454,356.25 L454.5,356.85 L455,357.49 L455.5,358.18 L456,358.91 L456.5,359.67 L457,360.45 L457.5,361.26 L458,362.09 L458.5,362.92 L459,363.76 L459.5,364.6 L460,365.44 L460.5,366.27 L461,367.08 L461.5,367.87 L462,368.65 L462.5,369.4 L463,370.13 L463.5,370.82 L464,371.49 L464.5,372.12 L465,372.73 L465.5,373.3 L466,373.83 L466.5,374.34 L467,374.81 L467.5,375.25 L468,375.66 L468.5,376.04 L469,376.39 L469.5,376.71 L470,377.01 L470.5,377.28 L471,377.53 L471.5,377.75 L472,377.96 L472.5,378.15 L473,378.32 L473.5,378.47 L474,378.61 L474.5,378.74 L475,378.86 L475.5,378.96 L476,379.06 L476.5,379.15 L477,379.23 L477,379.5 L476.5,379.46 L476,379.43 L475.5,379.4 L475,379.37 L474.5,379.33 L474,379.3 L473.5,379.27 L473,379.23 L472.5,379.2 L472,379.17 L471.5,379.14 L471,379.1 L470.5,379.07 L470,379.04 L469.5,379.01 L469,378.97 L468.5,378.94 L468,378.91 L467.5,378.88 L467,378.84 L466.5,378.81 L466,378.78 L465.5,378.74 L465,378.71 L464.5,378.68 L464,378.65 L463.5,378.61 L463,378.58 L462.5,378.55 L462,378.52 L461.5,378.48 L461,378.45 L460.5,378.42 L460,378.38 L459.5,378.35 L459,378.32 L458.5,378.29 L458,378.25 L457.5,378.22 L457,378.19 L456.5,378.16 L456,378.12 L455.5,378.09 L455,378.06 L454.5,378.02 L454,377.99 L453.5,377.96 L453,377.93 L452.5,377.89 L452,377.86 L451.5,377.83 L451,377.8 L450.5,377.76 L450,377.73 L449.5,377.7 L449,377.67 L448.5,377.63 L448,377.6 L447.5,377.57 L447,377.53 L446.5,377.5 L446,377.47 L445.5,377.44 L445,377.4 L444.5,377.37 L444,377.34 L443.5,377.31 L443,377.27 L442.5,377.24 L442,377.21 L441.5,377.18 L441,377.14 L440.5,377.11 L440,377.08 L439.5,377.04 L439,377.01 L438.5,376.98 L438,376.95 L437.5,376.91 L437,376.88 L436.5,376.85 L436,376.82 L435.5,376.78 L435,376.75" stroke="none" stroke-width="1" fill="#C2E9F8" fill-opacity="0.85"/>
<path d="M394.5,373.83 L395,373.81 L395.5,373.79 L396,373.76 L396.5,373.71 L397,373.66 L397.5,373.6 L398,373.52 L398.5,373.42 L399,373.31 L399.5,373.17 L400,373.02 L400.5,372.84 L401,372.63 L401.5,372.4 L402,372.13 L402.5,371.83 L403,371.48 L403.5,371.1 L404,370.67 L404.5,370.19 L405,369.65 L405.5,369.06 L406,368.41 L406.5,367.7 L407,366.91 L407.5,366.05 L408,365.12 L408.5,364.1 L409,363.01 L409.5,361.82 L410,360.54 L410.5,359.17 L411,357.71 L411.5,356.15 L412,354.49 L412.5,352.73 L413,350.88 L413.5,348.92 L414,346.87 L414.5,344.72 L415,342.48 L415.5,340.15 L416,337.74 L416.5,335.25 L417,332.69 L417.5,330.07 L418,327.39 L418.5,324.67 L419,321.91 L419.5,319.12 L420,316.33 L420.5,313.53 L421,310.75 L421.5,308 L422,305.28 L422.5,302.62 L423,300.03 L423.5,297.53 L424,295.12 L424.5,292.83 L425,290.66 L425.5,288.63 L426,286.76 L426.5,285.05 L427,283.52 L427.5,282.18 L428,281.03 L428.5,280.09 L429,279.35 L429.5,278.83 L430,278.53 L430.5,278.46 L431,278.6 L431.5,278.96 L432,279.55 L432.5,280.35 L433,281.36 L433.5,282.57 L434,283.98 L434.5,285.58 L435,287.35 L435.5,289.29 L436,291.38 L436.5,293.61 L437,295.97 L437.5,298.44 L438,301.01 L438.5,303.67 L439,306.39 L439.5,309.17 L440,311.99 L440.5,314.84 L441,317.7 L441.5,320.56 L442,323.41 L442.5,326.24 L443,329.03 L443.5,331.77 L444,334.46 L444.5,337.08 L445,339.64 L445.5,342.11 L446,344.51 L446.5,346.81 L447,349.02 L447.5,351.14 L448,353.16 L448.5,355.09 L449,356.91 L449.5,358.63 L450,360.26 L450.5,361.79 L451,363.22 L451.5,364.57 L452,365.82 L452.5,366.98 L453,368.06 L453.5,369.06 L454,369.98 L454.5,370.83 L455,371.62 L455.5,372.33 L456,372.99 L456.5,373.59 L457,374.13 L457.5,374.63 L458,375.08 L458.5,375.49 L459,375.86 L459.5,376.19 L460,376.49 L460.5,376.76 L461,377.01 L461.5,377.23 L462,377.43 L462.5,377.61 L463,377.77 L463.5,377.91 L464,378.04 L464.5,378.16 L465,378.27 L465.5,378.37 L466,378.45 L466.5,378.54 L466.5,378.81 L466,378.78 L465.5,378.74 L465,378.71 L464.5,378.68 L464,378.65 L463.5,378.61 L463,378.58 L462.5,378.55 L462,378.52 L461.5,378.48 L461,378.45 L460.5,378.42 L460,378.38 L459.5,378.35 L459,378.32 L458.5,378.29 L458,378.25 L457.5,378.22 L457,378.19 L456.5,378.16 L456,378.12 L455.5,378.09 L455,378.06 L454.5,378.02 L454,377.99 L453.5,377.96 L453,377.93 L452.5,377.89 L452,377.86 L451.5,377.83 L451,377.8 L450.5,377.76 L450,377.73 L449.5,377.7 L449,377.67 L448.5,377.63 L448,377.6 L447.5,377.57 L447,377.53 L446.5,377.5 L446,377.47 L445.5,377.44 L445,377.4 L444.5,377.37 L444,377.34 L443.5,377.31 L443,377.27 L442.5,377.24 L442,377.21 L441.5,377.18 L441,377.14 L440.5,377.11 L440,377.08 L439.5,377.04 L439,377.01 L438.5,376.98 L438,376.95 L437.5,376.91 L437,376.88 L436.5,376.85 L436,376.82 L435.5,376.78 L435,376.75 L434.5,376.72 L434,376.68 L433.5,376.65 L433,376.62 L432.5,376.59 L432,376.55 L431.5,376.52 L431,376.49 L430.5,376.46 L430,376.42 L429.5,376.39 L429,376.36 L428.5,376.32 L428,376.29 L427.5,376.26 L427,376.23 L426.5,376.19 L426,376.16 L425.5,376.13 L425,376.1 L424.5,376.06 L424,376.03 L423.5,376 L423,375.97 L422.5,375.93 L422,375.9 L421.5,375.87 L421,375.83 L420.5,375.8 L420,375.77 L419.5,375.74 L419,375.7 L418.5,375.67 L418,375.64 L417.5,375.61 L417,375.57 L416.5,375.54 L416,375.51 L415.5,375.48 L415,375.44 L414.5,375.41 L414,375.38 L413.5,375.34 L413,375.31 L412.5,375.28 L412,375.25 L411.5,375.21 L411,375.18 L410.5,375.15 L410,375.12 L409.5,375.08 L409,375.05 L408.5,375.02 L408,374.98 L407.5,374.95 L407,374.92 L406.5,374.89 L406,374.85 L405.5,374.82 L405,374.79 L404.5,374.76 L404,374.72 L403.5,374.69 L403,374.66 L402.5,374.62 L402,374.59 L401.5,374.56 L401,374.53 L400.5,374.49 L400,374.46 L399.5,374.43 L399,374.4 L398.5,374.36 L398,374.33 L397.5,374.3 L397,374.27 L396.5,374.23 L396,374.2 L395.5,374.17 L395,374.13 L394.5,374.1" stroke="none" stroke-width="1" fill="#FBE5D0" fill-opacity="0.85"/>
<path d="M370,372.08 L370.5,372.07 L371,372.05 L371.5,372.03 L372,372 L372.5,371.97 L373,371.94 L373.5,371.89 L374,371.85 L374.5,371.79 L375,371.73 L375.5,371.66 L376,371.58 L376.5,371.5 L377,371.4 L377.5,371.3 L378,371.19 L378.5,371.07 L379,370.93 L379.5,370.79 L380,370.64 L380.5,370.47 L381,370.29 L381.5,370.1 L382,369.9 L382.5,369.69 L383,369.46 L383.5,369.21 L384,368.96 L384.5,368.69 L385,368.4 L385.5,368.11 L386,367.79 L386.5,367.47 L387,367.13 L387.5,366.77 L388,366.4 L388.5,366.02 L389,365.63 L389.5,365.22 L390,364.8 L390.5,364.36 L391,363.92 L391.5,363.46 L392,363 L392.5,362.53 L393,362.04 L393.5,361.55 L394,361.06 L394.5,360.56 L395,360.05 L395.5,359.55 L396,359.04 L396.5,358.53 L397,358.02 L397.5,357.52 L398,357.02 L398.5,356.52 L399,356.04 L399.5,355.56 L400,355.09 L400.5,354.64 L401,354.19 L401.5,353.77 L402,353.36 L402.5,352.97 L403,352.6 L403.5,352.24 L404,351.92 L404.5,351.61 L405,351.33 L405.5,351.08 L406,350.85 L406.5,350.66 L407,350.49 L407.5,350.35 L408,350.24 L408.5,350.16 L409,350.11 L409.5,350.1 L410,350.12 L410.5,350.17 L411,350.27 L411.5,350.41 L412,350.59 L412.5,350.82 L413,351.08 L413.5,351.39 L414,351.73 L414.5,352.11 L415,352.52 L415.5,352.97 L416,353.45 L416.5,353.95 L417,354.48 L417.5,355.04 L418,355.62 L418.5,356.22 L419,356.83 L419.5,357.46 L420,358.1 L420.5,358.75 L421,359.41 L421.5,360.07 L422,360.74 L422.5,361.4 L423,362.06 L423.5,362.72 L424,363.37 L424.5,364.02 L425,364.65 L425.5,365.27 L426,365.88 L426.5,366.48 L427,367.06 L427.5,367.63 L428,368.18 L428.5,368.71 L429,369.22 L429.5,369.71 L430,370.19 L430.5,370.65 L431,371.08 L431.5,371.5 L432,371.9 L432.5,372.28 L433,372.64 L433.5,372.98 L434,373.3 L434.5,373.61 L435,373.9 L435.5,374.17 L436,374.42 L436.5,374.67 L437,374.89 L437.5,375.1 L438,375.3 L438.5,375.49 L439,375.66 L439.5,375.83 L440,375.98 L440.5,376.12 L441,376.25 L441.5,376.38 L442,376.49 L442.5,376.6 L443,376.7 L443.5,376.8 L444,376.89 L444.5,376.97 L445,377.05 L445.5,377.12 L446,377.19 L446,377.47 L445.5,377.44 L445,377.4 L444.5,377.37 L444,377.34 L443.5,377.31 L443,377.27 L442.5,377.24 L442,377.21 L441.5,377.18 L441,377.14 L440.5,377.11 L440,377.08 L439.5,377.04 L439,377.01 L438.5,376.98 L438,376.95 L437.5,376.91 L437,376.88 L436.5,376.85 L436,376.82 L435.5,376.78 L435,376.75 L434.5,376.72 L434,376.68 L433.5,376.65 L433,376.62 L432.5,376.59 L432,376.55 L431.5,376.52 L431,376.49 L430.5,376.46 L430,376.42 L429.5,376.39 L429,376.36 L428.5,376.32 L428,376.29 L427.5,376.26 L427,376.23 L426.5,376.19 L426,376.16 L425.5,376.13 L425,376.1 L424.5,376.06 L424,376.03 L423.5,376 L423,375.97 L422.5,375.93 L422,375.9 L421.5,375.87 L421,375.83 L420.5,375.8 L420,375.77 L419.5,375.74 L419,375.7 L418.5,375.67 L418,375.64 L417.5,375.61 L417,375.57 L416.5,375.54 L416,375.51 L415.5,375.48 L415,375.44 L414.5,375.41 L414,375.38 L413.5,375.34 L413,375.31 L412.5,375.28 L412,375.25 L411.5,375.21 L411,375.18 L410.5,375.15 L410,375.12 L409.5,375.08 L409,375.05 L408.5,375.02 L408,374.98 L407.5,374.95 L407,374.92 L406.5,374.89 L406,374.85 L405.5,374.82 L405,374.79 L404.5,374.76 L404,374.72 L403.5,374.69 L403,374.66 L402.5,374.62 L402,374.59 L401.5,374.56 L401,374.53 L400.5,374.49 L400,374.46 L399.5,374.43 L399,374.4 L398.5,374.36 L398,374.33 L397.5,374.3 L397,374.27 L396.5,374.23 L396,374.2 L395.5,374.17 L395,374.13 L394.5,374.1 L394,374.07 L393.5,374.04 L393,374 L392.5,373.97 L392,373.94 L391.5,373.91 L391,373.87 L390.5,373.84 L390,373.81 L389.5,373.77 L389,373.74 L388.5,373.71 L388,373.68 L387.5,373.64 L387,373.61 L386.5,373.58 L386,373.55 L385.5,373.51 L385,373.48 L384.5,373.45 L384,373.42 L383.5,373.38 L383,373.35 L382.5,373.32 L382,373.28 L381.5,373.25 L381,373.22 L380.5,373.19 L380,373.15 L379.5,373.12 L379,373.09 L378.5,373.06 L378,373.02 L377.5,372.99 L377,372.96 L376.5,372.93 L376,372.89 L375.5,372.86 L375,372.83 L374.5,372.79 L374,372.76 L373.5,372.73 L373,372.7 L372.5,372.66 L372,372.63 L371.5,372.6 L371,372.57 L370.5,372.53 L370,372.5" stroke="none" stroke-width="1" fill="#E3C9F0" fill-opacity="0.72"/>
<g fill="none" stroke="#a8a8a8" stroke-width="0.8"><circle cx="391.9" cy="362.8" r="2.4"/><circle cx="394.4" cy="364.9" r="2.4"/><circle cx="396.0" cy="361.1" r="2.4"/><circle cx="398.4" cy="358.9" r="2.4"/><circle cx="399.8" cy="347.9" r="2.4"/><circle cx="401.9" cy="345.1" r="2.4"/><circle cx="404.5" cy="348.5" r="2.4"/><circle cx="405.7" cy="339.4" r="2.4"/><circle cx="407.7" cy="334.2" r="2.4"/><circle cx="410.0" cy="324.0" r="2.4"/><circle cx="411.5" cy="317.8" r="2.4"/><circle cx="413.9" cy="309.4" r="2.4"/><circle cx="416.5" cy="307.3" r="2.4"/><circle cx="418.2" cy="293.7" r="2.4"/><circle cx="420.2" cy="290.4" r="2.4"/><circle cx="421.6" cy="288.5" r="2.4"/><circle cx="424.4" cy="276.3" r="2.4"/><circle cx="426.3" cy="272.8" r="2.4"/><circle cx="427.6" cy="274.0" r="2.4"/><circle cx="430.1" cy="272.0" r="2.4"/><circle cx="431.7" cy="272.0" r="2.4"/><circle cx="433.7" cy="273.8" r="2.4"/><circle cx="435.5" cy="279.8" r="2.4"/><circle cx="437.7" cy="287.6" r="2.4"/><circle cx="439.5" cy="294.8" r="2.4"/><circle cx="442.4" cy="300.6" r="2.4"/><circle cx="443.8" cy="309.7" r="2.4"/><circle cx="445.8" cy="318.9" r="2.4"/><circle cx="448.3" cy="329.5" r="2.4"/><circle cx="450.5" cy="333.4" r="2.4"/><circle cx="451.6" cy="344.5" r="2.4"/><circle cx="453.6" cy="349.2" r="2.4"/><circle cx="456.3" cy="357.9" r="2.4"/><circle cx="457.7" cy="367.6" r="2.4"/><circle cx="460.0" cy="365.8" r="2.4"/><circle cx="461.6" cy="367.4" r="2.4"/><circle cx="464.0" cy="370.5" r="2.4"/><circle cx="466.5" cy="375.6" r="2.4"/><circle cx="467.8" cy="371.1" r="2.4"/><circle cx="469.9" cy="378.0" r="2.4"/><circle cx="472.0" cy="380.7" r="2.4"/><circle cx="474.3" cy="376.3" r="2.4"/><circle cx="476.3" cy="379.6" r="2.4"/><circle cx="478.5" cy="381.3" r="2.4"/><circle cx="480.3" cy="374.5" r="2.4"/><circle cx="482.2" cy="379.3" r="2.4"/><circle cx="483.9" cy="382.3" r="2.4"/><circle cx="485.5" cy="381.4" r="2.4"/><circle cx="487.8" cy="379.7" r="2.4"/><circle cx="490.2" cy="382.4" r="2.4"/><circle cx="492.4" cy="378.7" r="2.4"/><circle cx="494.5" cy="382.3" r="2.4"/><circle cx="495.7" cy="379.1" r="2.4"/><circle cx="497.7" cy="380.6" r="2.4"/><circle cx="500.1" cy="381.9" r="2.4"/><circle cx="302.2" cy="357.3" r="2.4"/><circle cx="303.6" cy="359.4" r="2.4"/><circle cx="305.6" cy="355.8" r="2.4"/><circle cx="308.0" cy="357.8" r="2.4"/><circle cx="309.6" cy="361.2" r="2.4"/><circle cx="311.6" cy="359.2" r="2.4"/><circle cx="313.6" cy="354.4" r="2.4"/><circle cx="315.7" cy="361.0" r="2.4"/><circle cx="318.1" cy="354.4" r="2.4"/><circle cx="319.9" cy="354.2" r="2.4"/><circle cx="322.4" cy="359.3" r="2.4"/><circle cx="323.8" cy="357.8" r="2.4"/><circle cx="325.8" cy="357.7" r="2.4"/><circle cx="328.3" cy="355.9" r="2.4"/><circle cx="330.1" cy="353.0" r="2.4"/><circle cx="331.9" cy="349.5" r="2.4"/><circle cx="333.6" cy="337.9" r="2.4"/><circle cx="335.7" cy="328.0" r="2.4"/><circle cx="337.8" cy="313.5" r="2.4"/><circle cx="340.1" cy="295.6" r="2.4"/><circle cx="342.3" cy="277.3" r="2.4"/><circle cx="344.2" cy="260.4" r="2.4"/><circle cx="346.0" cy="241.3" r="2.4"/><circle cx="358.3" cy="240.4" r="2.4"/><circle cx="359.7" cy="258.7" r="2.4"/><circle cx="362.2" cy="275.9" r="2.4"/><circle cx="364.3" cy="296.0" r="2.4"/><circle cx="365.8" cy="308.5" r="2.4"/><circle cx="368.2" cy="325.4" r="2.4"/><circle cx="370.0" cy="336.2" r="2.4"/><circle cx="372.3" cy="345.5" r="2.4"/><circle cx="374.2" cy="356.1" r="2.4"/><circle cx="375.6" cy="356.2" r="2.4"/><circle cx="378.5" cy="358.5" r="2.4"/><circle cx="380.3" cy="357.6" r="2.4"/><circle cx="382.2" cy="361.5" r="2.4"/><circle cx="383.5" cy="365.0" r="2.4"/><circle cx="385.6" cy="361.3" r="2.4"/><circle cx="387.6" cy="363.5" r="2.4"/><circle cx="389.7" cy="363.4" r="2.4"/></g>
<path d="M370,372.2 L370.5,372.2 L371,372.2 L371.5,372.19 L372,372.19 L372.5,372.18 L373,372.16 L373.5,372.14 L374,372.12 L374.5,372.1 L375,372.06 L375.5,372.03 L376,371.99 L376.5,371.94 L377,371.88 L377.5,371.82 L378,371.76 L378.5,371.68 L379,371.6 L379.5,371.51 L380,371.42 L380.5,371.31 L381,371.19 L381.5,371.07 L382,370.93 L382.5,370.79 L383,370.63 L383.5,370.46 L384,370.28 L384.5,370.09 L385,369.88 L385.5,369.66 L386,369.42 L386.5,369.17 L387,368.9 L387.5,368.62 L388,368.32 L388.5,368 L389,367.66 L389.5,367.31 L390,366.93 L390.5,366.53 L391,366.11 L391.5,365.67 L392,365.2 L392.5,364.71 L393,364.2 L393.5,363.66 L394,363.09 L394.5,362.5 L395,361.87 L395.5,361.22 L396,360.54 L396.5,359.83 L397,359.08 L397.5,358.3 L398,357.49 L398.5,356.64 L399,355.76 L399.5,354.84 L400,353.89 L400.5,352.89 L401,351.86 L401.5,350.79 L402,349.68 L402.5,348.54 L403,347.35 L403.5,346.12 L404,344.85 L404.5,343.54 L405,342.19 L405.5,340.8 L406,339.36 L406.5,337.89 L407,336.38 L407.5,334.84 L408,333.27 L408.5,331.68 L409,330.06 L409.5,328.41 L410,326.75 L410.5,325.06 L411,323.35 L411.5,321.63 L412,319.89 L412.5,318.13 L413,316.36 L413.5,314.58 L414,312.79 L414.5,310.99 L415,309.19 L415.5,307.39 L416,305.58 L416.5,303.79 L417,302 L417.5,300.22 L418,298.46 L418.5,296.72 L419,295 L419.5,293.31 L420,291.65 L420.5,290.03 L421,288.44 L421.5,286.91 L422,285.42 L422.5,283.99 L423,282.61 L423.5,281.3 L424,280.06 L424.5,278.89 L425,277.8 L425.5,276.79 L426,275.87 L426.5,275.03 L427,274.29 L427.5,273.64 L428,273.09 L428.5,272.64 L429,272.29 L429.5,272.05 L430,271.91 L430.5,271.88 L431,271.96 L431.5,272.17 L432,272.52 L432.5,273 L433,273.62 L433.5,274.36 L434,275.23 L434.5,276.23 L435,277.35 L435.5,278.59 L436,279.94 L436.5,281.39 L437,282.95 L437.5,284.6 L438,286.35 L438.5,288.17 L439,290.07 L439.5,292.04 L440,294.07 L440.5,296.16 L441,298.29 L441.5,300.46 L442,302.67 L442.5,304.9 L443,307.15 L443.5,309.41 L444,311.68 L444.5,313.95 L445,316.21 L445.5,318.46 L446,320.7 L446.5,322.91 L447,325.09 L447.5,327.24 L448,329.36 L448.5,331.44 L449,333.48 L449.5,335.48 L450,337.43 L450.5,339.34 L451,341.2 L451.5,343 L452,344.76 L452.5,346.46 L453,348.11 L453.5,349.71 L454,351.26 L454.5,352.76 L455,354.2 L455.5,355.59 L456,356.92 L456.5,358.2 L457,359.43 L457.5,360.6 L458,361.72 L458.5,362.79 L459,363.81 L459.5,364.79 L460,365.71 L460.5,366.59 L461,367.43 L461.5,368.22 L462,368.97 L462.5,369.68 L463,370.35 L463.5,370.99 L464,371.59 L464.5,372.16 L465,372.69 L465.5,373.19 L466,373.67 L466.5,374.11 L467,374.53 L467.5,374.92 L468,375.28 L468.5,375.63 L469,375.95 L469.5,376.25 L470,376.53 L470.5,376.79 L471,377.04 L471.5,377.26 L472,377.47 L472.5,377.67 L473,377.86 L473.5,378.03 L474,378.19 L474.5,378.33 L475,378.47 L475.5,378.6 L476,378.72 L476.5,378.83 L477,378.93 L477.5,379.03 L478,379.12 L478.5,379.2 L479,379.28 L479.5,379.36 L480,379.42 L480.5,379.49 L481,379.55" stroke="#595959" stroke-width="1.5" fill="none" stroke-linejoin="round"/>
<path d="M303,518.56 L303.5,518.54 L304,518.52 L304.5,518.49 L305,518.46 L305.5,518.42 L306,518.37 L306.5,518.32 L307,518.26 L307.5,518.19 L308,518.12 L308.5,518.04 L309,517.95 L309.5,517.85 L310,517.75 L310.5,517.63 L311,517.51 L311.5,517.38 L312,517.25 L312.5,517.1 L313,516.95 L313.5,516.79 L314,516.62 L314.5,516.45 L315,516.28 L315.5,516.1 L316,515.92 L316.5,515.74 L317,515.55 L317.5,515.37 L318,515.19 L318.5,515.02 L319,514.84 L319.5,514.68 L320,514.52 L320.5,514.38 L321,514.24 L321.5,514.12 L322,514.01 L322.5,513.91 L323,513.83 L323.5,513.76 L324,513.72 L324.5,513.69 L325,513.67 L325.5,513.68 L326,513.7 L326.5,513.75 L327,513.81 L327.5,513.89 L328,513.99 L328.5,514.1 L329,514.23 L329.5,514.37 L330,514.53 L330.5,514.7 L331,514.88 L331.5,515.07 L332,515.27 L332.5,515.48 L333,515.69 L333.5,515.91 L334,516.12 L334.5,516.35 L335,516.57 L335.5,516.79 L336,517.01 L336.5,517.22 L337,517.43 L337.5,517.64 L338,517.84 L338.5,518.03 L339,518.22 L339.5,518.4 L340,518.57 L340.5,518.73 L341,518.89 L341.5,519.03 L342,519.17 L342.5,519.3 L343,519.43 L343.5,519.54 L344,519.65 L344.5,519.75 L345,519.84 L345.5,519.93 L346,520.01 L346.5,520.08 L347,520.15 L347.5,520.21 L348,520.27 L348,520.54 L347.5,520.53 L347,520.51 L346.5,520.49 L346,520.47 L345.5,520.45 L345,520.43 L344.5,520.41 L344,520.39 L343.5,520.37 L343,520.35 L342.5,520.33 L342,520.31 L341.5,520.29 L341,520.28 L340.5,520.26 L340,520.24 L339.5,520.22 L339,520.2 L338.5,520.18 L338,520.16 L337.5,520.14 L337,520.12 L336.5,520.1 L336,520.08 L335.5,520.06 L335,520.04 L334.5,520.03 L334,520.01 L333.5,519.99 L333,519.97 L332.5,519.95 L332,519.93 L331.5,519.91 L331,519.89 L330.5,519.87 L330,519.85 L329.5,519.83 L329,519.81 L328.5,519.8 L328,519.78 L327.5,519.76 L327,519.74 L326.5,519.72 L326,519.7 L325.5,519.68 L325,519.66 L324.5,519.64 L324,519.62 L323.5,519.6 L323,519.58 L322.5,519.56 L322,519.55 L321.5,519.53 L321,519.51 L320.5,519.49 L320,519.47 L319.5,519.45 L319,519.43 L318.5,519.41 L318,519.39 L317.5,519.37 L317,519.35 L316.5,519.33 L316,519.31 L315.5,519.3 L315,519.28 L314.5,519.26 L314,519.24 L313.5,519.22 L313,519.2 L312.5,519.18 L312,519.16 L311.5,519.14 L311,519.12 L310.5,519.1 L310,519.08 L309.5,519.07 L309,519.05 L308.5,519.03 L308,519.01 L307.5,518.99 L307,518.97 L306.5,518.95 L306,518.93 L305.5,518.91 L305,518.89 L304.5,518.87 L304,518.85 L303.5,518.83 L303,518.82" stroke="none" stroke-width="1" fill="#BDF0EC" fill-opacity="0.85"/>
<path d="M310.5,518.85 L311,518.83 L311.5,518.81 L312,518.79 L312.5,518.76 L313,518.72 L313.5,518.68 L314,518.63 L314.5,518.58 L315,518.52 L315.5,518.45 L316,518.38 L316.5,518.29 L317,518.2 L317.5,518.1 L318,517.99 L318.5,517.88 L319,517.75 L319.5,517.61 L320,517.46 L320.5,517.31 L321,517.14 L321.5,516.97 L322,516.79 L322.5,516.59 L323,516.39 L323.5,516.19 L324,515.97 L324.5,515.75 L325,515.52 L325.5,515.29 L326,515.06 L326.5,514.82 L327,514.58 L327.5,514.34 L328,514.11 L328.5,513.87 L329,513.64 L329.5,513.42 L330,513.2 L330.5,512.99 L331,512.79 L331.5,512.6 L332,512.43 L332.5,512.27 L333,512.12 L333.5,511.99 L334,511.88 L334.5,511.79 L335,511.71 L335.5,511.66 L336,511.63 L336.5,511.61 L337,511.62 L337.5,511.65 L338,511.7 L338.5,511.77 L339,511.87 L339.5,511.98 L340,512.11 L340.5,512.26 L341,512.43 L341.5,512.61 L342,512.81 L342.5,513.03 L343,513.25 L343.5,513.49 L344,513.74 L344.5,513.99 L345,514.26 L345.5,514.53 L346,514.8 L346.5,515.07 L347,515.35 L347.5,515.63 L348,515.9 L348.5,516.18 L349,516.45 L349.5,516.71 L350,516.97 L350.5,517.22 L351,517.47 L351.5,517.71 L352,517.94 L352.5,518.16 L353,518.37 L353.5,518.58 L354,518.77 L354.5,518.96 L355,519.13 L355.5,519.3 L356,519.45 L356.5,519.6 L357,519.74 L357.5,519.87 L358,519.99 L358.5,520.11 L359,520.21 L359.5,520.31 L360,520.4 L360.5,520.49 L361,520.57 L361.5,520.64 L362,520.71 L362.5,520.77 L363,520.83 L363.5,520.89 L363.5,521.14 L363,521.12 L362.5,521.1 L362,521.08 L361.5,521.06 L361,521.04 L360.5,521.02 L360,521.01 L359.5,520.99 L359,520.97 L358.5,520.95 L358,520.93 L357.5,520.91 L357,520.89 L356.5,520.87 L356,520.85 L355.5,520.83 L355,520.81 L354.5,520.79 L354,520.77 L353.5,520.76 L353,520.74 L352.5,520.72 L352,520.7 L351.5,520.68 L351,520.66 L350.5,520.64 L350,520.62 L349.5,520.6 L349,520.58 L348.5,520.56 L348,520.54 L347.5,520.53 L347,520.51 L346.5,520.49 L346,520.47 L345.5,520.45 L345,520.43 L344.5,520.41 L344,520.39 L343.5,520.37 L343,520.35 L342.5,520.33 L342,520.31 L341.5,520.29 L341,520.28 L340.5,520.26 L340,520.24 L339.5,520.22 L339,520.2 L338.5,520.18 L338,520.16 L337.5,520.14 L337,520.12 L336.5,520.1 L336,520.08 L335.5,520.06 L335,520.04 L334.5,520.03 L334,520.01 L333.5,519.99 L333,519.97 L332.5,519.95 L332,519.93 L331.5,519.91 L331,519.89 L330.5,519.87 L330,519.85 L329.5,519.83 L329,519.81 L328.5,519.8 L328,519.78 L327.5,519.76 L327,519.74 L326.5,519.72 L326,519.7 L325.5,519.68 L325,519.66 L324.5,519.64 L324,519.62 L323.5,519.6 L323,519.58 L322.5,519.56 L322,519.55 L321.5,519.53 L321,519.51 L320.5,519.49 L320,519.47 L319.5,519.45 L319,519.43 L318.5,519.41 L318,519.39 L317.5,519.37 L317,519.35 L316.5,519.33 L316,519.31 L315.5,519.3 L315,519.28 L314.5,519.26 L314,519.24 L313.5,519.22 L313,519.2 L312.5,519.18 L312,519.16 L311.5,519.14 L311,519.12 L310.5,519.1" stroke="none" stroke-width="1" fill="#CDCDCD" fill-opacity="0.85"/>
<path d="M325,519.4 L325.5,519.38 L326,519.35 L326.5,519.32 L327,519.28 L327.5,519.23 L328,519.18 L328.5,519.11 L329,519.04 L329.5,518.96 L330,518.86 L330.5,518.75 L331,518.63 L331.5,518.5 L332,518.35 L332.5,518.18 L333,518 L333.5,517.8 L334,517.59 L334.5,517.35 L335,517.09 L335.5,516.82 L336,516.52 L336.5,516.21 L337,515.87 L337.5,515.51 L338,515.13 L338.5,514.73 L339,514.3 L339.5,513.86 L340,513.4 L340.5,512.92 L341,512.43 L341.5,511.92 L342,511.4 L342.5,510.86 L343,510.32 L343.5,509.77 L344,509.21 L344.5,508.66 L345,508.1 L345.5,507.55 L346,507 L346.5,506.47 L347,505.95 L347.5,505.45 L348,504.96 L348.5,504.51 L349,504.07 L349.5,503.67 L350,503.3 L350.5,502.96 L351,502.67 L351.5,502.41 L352,502.19 L352.5,502.02 L353,501.9 L353.5,501.82 L354,501.78 L354.5,501.8 L355,501.86 L355.5,501.96 L356,502.1 L356.5,502.28 L357,502.51 L357.5,502.77 L358,503.07 L358.5,503.41 L359,503.78 L359.5,504.18 L360,504.61 L360.5,505.06 L361,505.54 L361.5,506.04 L362,506.56 L362.5,507.1 L363,507.64 L363.5,508.2 L364,508.76 L364.5,509.33 L365,509.89 L365.5,510.46 L366,511.02 L366.5,511.58 L367,512.13 L367.5,512.67 L368,513.2 L368.5,513.72 L369,514.22 L369.5,514.71 L370,515.18 L370.5,515.63 L371,516.06 L371.5,516.48 L372,516.88 L372.5,517.26 L373,517.61 L373.5,517.95 L374,518.27 L374.5,518.58 L375,518.86 L375.5,519.13 L376,519.37 L376.5,519.61 L377,519.82 L377.5,520.02 L378,520.21 L378.5,520.38 L379,520.54 L379.5,520.69 L380,520.82 L380.5,520.95 L381,521.06 L381.5,521.17 L382,521.27 L382.5,521.35 L383,521.44 L383.5,521.51 L384,521.58 L384.5,521.64 L385,521.7 L385,521.97 L384.5,521.95 L384,521.93 L383.5,521.91 L383,521.89 L382.5,521.87 L382,521.85 L381.5,521.83 L381,521.81 L380.5,521.79 L380,521.77 L379.5,521.75 L379,521.74 L378.5,521.72 L378,521.7 L377.5,521.68 L377,521.66 L376.5,521.64 L376,521.62 L375.5,521.6 L375,521.58 L374.5,521.56 L374,521.54 L373.5,521.52 L373,521.5 L372.5,521.49 L372,521.47 L371.5,521.45 L371,521.43 L370.5,521.41 L370,521.39 L369.5,521.37 L369,521.35 L368.5,521.33 L368,521.31 L367.5,521.29 L367,521.27 L366.5,521.26 L366,521.24 L365.5,521.22 L365,521.2 L364.5,521.18 L364,521.16 L363.5,521.14 L363,521.12 L362.5,521.1 L362,521.08 L361.5,521.06 L361,521.04 L360.5,521.02 L360,521.01 L359.5,520.99 L359,520.97 L358.5,520.95 L358,520.93 L357.5,520.91 L357,520.89 L356.5,520.87 L356,520.85 L355.5,520.83 L355,520.81 L354.5,520.79 L354,520.77 L353.5,520.76 L353,520.74 L352.5,520.72 L352,520.7 L351.5,520.68 L351,520.66 L350.5,520.64 L350,520.62 L349.5,520.6 L349,520.58 L348.5,520.56 L348,520.54 L347.5,520.53 L347,520.51 L346.5,520.49 L346,520.47 L345.5,520.45 L345,520.43 L344.5,520.41 L344,520.39 L343.5,520.37 L343,520.35 L342.5,520.33 L342,520.31 L341.5,520.29 L341,520.28 L340.5,520.26 L340,520.24 L339.5,520.22 L339,520.2 L338.5,520.18 L338,520.16 L337.5,520.14 L337,520.12 L336.5,520.1 L336,520.08 L335.5,520.06 L335,520.04 L334.5,520.03 L334,520.01 L333.5,519.99 L333,519.97 L332.5,519.95 L332,519.93 L331.5,519.91 L331,519.89 L330.5,519.87 L330,519.85 L329.5,519.83 L329,519.81 L328.5,519.8 L328,519.78 L327.5,519.76 L327,519.74 L326.5,519.72 L326,519.7 L325.5,519.68 L325,519.66" stroke="none" stroke-width="1" fill="#FAC9CB" fill-opacity="0.85"/>
<path d="M437,523.71 L437.5,523.64 L438,523.55 L438.5,523.42 L439,523.26 L439.5,523.05 L440,522.79 L440.5,522.47 L441,522.07 L441.5,521.6 L442,521.04 L442.5,520.39 L443,519.64 L443.5,518.79 L444,517.84 L444.5,516.79 L445,515.64 L445.5,514.41 L446,513.11 L446.5,511.77 L447,510.4 L447.5,509.03 L448,507.69 L448.5,506.4 L449,505.21 L449.5,504.15 L450,503.23 L450.5,502.49 L451,501.96 L451.5,501.64 L452,501.54 L452.5,501.6 L453,501.72 L453.5,501.92 L454,502.18 L454.5,502.51 L455,502.9 L455.5,503.35 L456,503.86 L456.5,504.42 L457,505.02 L457.5,505.67 L458,506.35 L458.5,507.07 L459,507.81 L459.5,508.58 L460,509.35 L460.5,510.14 L461,510.94 L461.5,511.73 L462,512.52 L462.5,513.3 L463,514.07 L463.5,514.82 L464,515.55 L464.5,516.25 L465,516.94 L465.5,517.59 L466,518.22 L466.5,518.82 L467,519.38 L467.5,519.92 L468,520.42 L468.5,520.89 L469,521.33 L469.5,521.74 L470,522.12 L470.5,522.47 L471,522.79 L471.5,523.09 L472,523.36 L472.5,523.61 L473,523.84 L473.5,524.04 L474,524.23 L474.5,524.39 L475,524.55 L475.5,524.68 L476,524.81 L476.5,524.92 L477,525.02 L477.5,525.1 L478,525.19 L478.5,525.26 L479,525.32 L479,525.58 L478.5,525.56 L478,525.54 L477.5,525.52 L477,525.5 L476.5,525.48 L476,525.46 L475.5,525.44 L475,525.42 L474.5,525.4 L474,525.39 L473.5,525.37 L473,525.35 L472.5,525.33 L472,525.31 L471.5,525.29 L471,525.27 L470.5,525.25 L470,525.23 L469.5,525.21 L469,525.19 L468.5,525.17 L468,525.16 L467.5,525.14 L467,525.12 L466.5,525.1 L466,525.08 L465.5,525.06 L465,525.04 L464.5,525.02 L464,525 L463.5,524.98 L463,524.96 L462.5,524.94 L462,524.92 L461.5,524.91 L461,524.89 L460.5,524.87 L460,524.85 L459.5,524.83 L459,524.81 L458.5,524.79 L458,524.77 L457.5,524.75 L457,524.73 L456.5,524.71 L456,524.69 L455.5,524.67 L455,524.66 L454.5,524.64 L454,524.62 L453.5,524.6 L453,524.58 L452.5,524.56 L452,524.54 L451.5,524.52 L451,524.5 L450.5,524.48 L450,524.46 L449.5,524.44 L449,524.43 L448.5,524.41 L448,524.39 L447.5,524.37 L447,524.35 L446.5,524.33 L446,524.31 L445.5,524.29 L445,524.27 L444.5,524.25 L444,524.23 L443.5,524.21 L443,524.19 L442.5,524.18 L442,524.16 L441.5,524.14 L441,524.12 L440.5,524.1 L440,524.08 L439.5,524.06 L439,524.04 L438.5,524.02 L438,524 L437.5,523.98 L437,523.96" stroke="none" stroke-width="1" fill="#C2E9F8" fill-opacity="0.85"/>
<path d="M390.5,521.9 L391,521.88 L391.5,521.85 L392,521.82 L392.5,521.78 L393,521.73 L393.5,521.67 L394,521.6 L394.5,521.52 L395,521.43 L395.5,521.33 L396,521.21 L396.5,521.07 L397,520.92 L397.5,520.75 L398,520.56 L398.5,520.35 L399,520.11 L399.5,519.84 L400,519.55 L400.5,519.23 L401,518.87 L401.5,518.48 L402,518.05 L402.5,517.58 L403,517.07 L403.5,516.51 L404,515.91 L404.5,515.25 L405,514.55 L405.5,513.78 L406,512.96 L406.5,512.08 L407,511.14 L407.5,510.14 L408,509.06 L408.5,507.92 L409,506.72 L409.5,505.44 L410,504.08 L410.5,502.66 L411,501.16 L411.5,499.59 L412,497.95 L412.5,496.24 L413,494.46 L413.5,492.61 L414,490.69 L414.5,488.71 L415,486.67 L415.5,484.58 L416,482.43 L416.5,480.23 L417,477.99 L417.5,475.72 L418,473.42 L418.5,471.09 L419,468.75 L419.5,466.4 L420,464.05 L420.5,461.71 L421,459.38 L421.5,457.08 L422,454.82 L422.5,452.6 L423,450.44 L423.5,448.34 L424,446.31 L424.5,444.36 L425,442.5 L425.5,440.74 L426,439.09 L426.5,437.56 L427,436.15 L427.5,434.87 L428,433.72 L428.5,432.72 L429,431.87 L429.5,431.17 L430,430.63 L430.5,430.24 L431,430.01 L431.5,429.95 L432,430.08 L432.5,430.42 L433,430.96 L433.5,431.72 L434,432.67 L434.5,433.82 L435,435.16 L435.5,436.67 L436,438.36 L436.5,440.2 L437,442.19 L437.5,444.31 L438,446.56 L438.5,448.91 L439,451.36 L439.5,453.89 L440,456.49 L440.5,459.14 L441,461.82 L441.5,464.54 L442,467.26 L442.5,469.99 L443,472.7 L443.5,475.4 L444,478.05 L444.5,480.67 L445,483.23 L445.5,485.73 L446,488.16 L446.5,490.52 L447,492.8 L447.5,494.99 L448,497.1 L448.5,499.11 L449,501.04 L449.5,502.86 L450,504.6 L450.5,506.24 L451,507.78 L451.5,509.23 L452,510.59 L452.5,511.87 L453,513.05 L453.5,514.15 L454,515.17 L454.5,516.12 L455,516.99 L455.5,517.79 L456,518.53 L456.5,519.2 L457,519.82 L457.5,520.38 L458,520.89 L458.5,521.35 L459,521.77 L459.5,522.15 L460,522.49 L460.5,522.8 L461,523.07 L461.5,523.32 L462,523.54 L462.5,523.74 L463,523.92 L463.5,524.08 L464,524.22 L464.5,524.35 L465,524.46 L465.5,524.56 L466,524.65 L466.5,524.73 L467,524.81 L467.5,524.87 L467.5,525.14 L467,525.12 L466.5,525.1 L466,525.08 L465.5,525.06 L465,525.04 L464.5,525.02 L464,525 L463.5,524.98 L463,524.96 L462.5,524.94 L462,524.92 L461.5,524.91 L461,524.89 L460.5,524.87 L460,524.85 L459.5,524.83 L459,524.81 L458.5,524.79 L458,524.77 L457.5,524.75 L457,524.73 L456.5,524.71 L456,524.69 L455.5,524.67 L455,524.66 L454.5,524.64 L454,524.62 L453.5,524.6 L453,524.58 L452.5,524.56 L452,524.54 L451.5,524.52 L451,524.5 L450.5,524.48 L450,524.46 L449.5,524.44 L449,524.43 L448.5,524.41 L448,524.39 L447.5,524.37 L447,524.35 L446.5,524.33 L446,524.31 L445.5,524.29 L445,524.27 L444.5,524.25 L444,524.23 L443.5,524.21 L443,524.19 L442.5,524.18 L442,524.16 L441.5,524.14 L441,524.12 L440.5,524.1 L440,524.08 L439.5,524.06 L439,524.04 L438.5,524.02 L438,524 L437.5,523.98 L437,523.96 L436.5,523.94 L436,523.93 L435.5,523.91 L435,523.89 L434.5,523.87 L434,523.85 L433.5,523.83 L433,523.81 L432.5,523.79 L432,523.77 L431.5,523.75 L431,523.73 L430.5,523.71 L430,523.7 L429.5,523.68 L429,523.66 L428.5,523.64 L428,523.62 L427.5,523.6 L427,523.58 L426.5,523.56 L426,523.54 L425.5,523.52 L425,523.5 L424.5,523.48 L424,523.46 L423.5,523.45 L423,523.43 L422.5,523.41 L422,523.39 L421.5,523.37 L421,523.35 L420.5,523.33 L420,523.31 L419.5,523.29 L419,523.27 L418.5,523.25 L418,523.23 L417.5,523.21 L417,523.2 L416.5,523.18 L416,523.16 L415.5,523.14 L415,523.12 L414.5,523.1 L414,523.08 L413.5,523.06 L413,523.04 L412.5,523.02 L412,523 L411.5,522.98 L411,522.97 L410.5,522.95 L410,522.93 L409.5,522.91 L409,522.89 L408.5,522.87 L408,522.85 L407.5,522.83 L407,522.81 L406.5,522.79 L406,522.77 L405.5,522.75 L405,522.73 L404.5,522.72 L404,522.7 L403.5,522.68 L403,522.66 L402.5,522.64 L402,522.62 L401.5,522.6 L401,522.58 L400.5,522.56 L400,522.54 L399.5,522.52 L399,522.5 L398.5,522.48 L398,522.47 L397.5,522.45 L397,522.43 L396.5,522.41 L396,522.39 L395.5,522.37 L395,522.35 L394.5,522.33 L394,522.31 L393.5,522.29 L393,522.27 L392.5,522.25 L392,522.23 L391.5,522.22 L391,522.2 L390.5,522.18" stroke="none" stroke-width="1" fill="#FBE5D0" fill-opacity="0.85"/>
<path d="M365.5,520.96 L366,520.95 L366.5,520.94 L367,520.92 L367.5,520.91 L368,520.89 L368.5,520.86 L369,520.83 L369.5,520.8 L370,520.76 L370.5,520.72 L371,520.67 L371.5,520.62 L372,520.56 L372.5,520.49 L373,520.42 L373.5,520.34 L374,520.26 L374.5,520.16 L375,520.06 L375.5,519.95 L376,519.83 L376.5,519.7 L377,519.56 L377.5,519.41 L378,519.24 L378.5,519.07 L379,518.89 L379.5,518.69 L380,518.48 L380.5,518.25 L381,518.01 L381.5,517.76 L382,517.5 L382.5,517.21 L383,516.92 L383.5,516.6 L384,516.28 L384.5,515.93 L385,515.57 L385.5,515.2 L386,514.8 L386.5,514.39 L387,513.97 L387.5,513.52 L388,513.06 L388.5,512.59 L389,512.09 L389.5,511.59 L390,511.06 L390.5,510.53 L391,509.97 L391.5,509.41 L392,508.83 L392.5,508.24 L393,507.63 L393.5,507.02 L394,506.4 L394.5,505.76 L395,505.12 L395.5,504.48 L396,503.83 L396.5,503.17 L397,502.51 L397.5,501.86 L398,501.2 L398.5,500.54 L399,499.89 L399.5,499.25 L400,498.61 L400.5,497.98 L401,497.36 L401.5,496.75 L402,496.16 L402.5,495.58 L403,495.02 L403.5,494.47 L404,493.95 L404.5,493.45 L405,492.98 L405.5,492.53 L406,492.1 L406.5,491.71 L407,491.34 L407.5,491 L408,490.7 L408.5,490.43 L409,490.19 L409.5,489.99 L410,489.82 L410.5,489.69 L411,489.59 L411.5,489.53 L412,489.51 L412.5,489.53 L413,489.6 L413.5,489.73 L414,489.91 L414.5,490.16 L415,490.46 L415.5,490.81 L416,491.21 L416.5,491.67 L417,492.17 L417.5,492.72 L418,493.31 L418.5,493.94 L419,494.61 L419.5,495.31 L420,496.04 L420.5,496.81 L421,497.59 L421.5,498.4 L422,499.22 L422.5,500.06 L423,500.91 L423.5,501.77 L424,502.64 L424.5,503.5 L425,504.37 L425.5,505.23 L426,506.08 L426.5,506.93 L427,507.76 L427.5,508.58 L428,509.38 L428.5,510.17 L429,510.94 L429.5,511.68 L430,512.41 L430.5,513.11 L431,513.79 L431.5,514.44 L432,515.07 L432.5,515.67 L433,516.24 L433.5,516.79 L434,517.32 L434.5,517.82 L435,518.29 L435.5,518.74 L436,519.16 L436.5,519.56 L437,519.94 L437.5,520.29 L438,520.62 L438.5,520.93 L439,521.22 L439.5,521.49 L440,521.75 L440.5,521.98 L441,522.2 L441.5,522.4 L442,522.59 L442.5,522.76 L443,522.92 L443.5,523.07 L444,523.21 L444.5,523.34 L445,523.45 L445.5,523.56 L446,523.66 L446.5,523.75 L447,523.84 L447.5,523.91 L448,523.99 L448.5,524.05 L449,524.11 L449.5,524.17 L449.5,524.44 L449,524.43 L448.5,524.41 L448,524.39 L447.5,524.37 L447,524.35 L446.5,524.33 L446,524.31 L445.5,524.29 L445,524.27 L444.5,524.25 L444,524.23 L443.5,524.21 L443,524.19 L442.5,524.18 L442,524.16 L441.5,524.14 L441,524.12 L440.5,524.1 L440,524.08 L439.5,524.06 L439,524.04 L438.5,524.02 L438,524 L437.5,523.98 L437,523.96 L436.5,523.94 L436,523.93 L435.5,523.91 L435,523.89 L434.5,523.87 L434,523.85 L433.5,523.83 L433,523.81 L432.5,523.79 L432,523.77 L431.5,523.75 L431,523.73 L430.5,523.71 L430,523.7 L429.5,523.68 L429,523.66 L428.5,523.64 L428,523.62 L427.5,523.6 L427,523.58 L426.5,523.56 L426,523.54 L425.5,523.52 L425,523.5 L424.5,523.48 L424,523.46 L423.5,523.45 L423,523.43 L422.5,523.41 L422,523.39 L421.5,523.37 L421,523.35 L420.5,523.33 L420,523.31 L419.5,523.29 L419,523.27 L418.5,523.25 L418,523.23 L417.5,523.21 L417,523.2 L416.5,523.18 L416,523.16 L415.5,523.14 L415,523.12 L414.5,523.1 L414,523.08 L413.5,523.06 L413,523.04 L412.5,523.02 L412,523 L411.5,522.98 L411,522.97 L410.5,522.95 L410,522.93 L409.5,522.91 L409,522.89 L408.5,522.87 L408,522.85 L407.5,522.83 L407,522.81 L406.5,522.79 L406,522.77 L405.5,522.75 L405,522.73 L404.5,522.72 L404,522.7 L403.5,522.68 L403,522.66 L402.5,522.64 L402,522.62 L401.5,522.6 L401,522.58 L400.5,522.56 L400,522.54 L399.5,522.52 L399,522.5 L398.5,522.48 L398,522.47 L397.5,522.45 L397,522.43 L396.5,522.41 L396,522.39 L395.5,522.37 L395,522.35 L394.5,522.33 L394,522.31 L393.5,522.29 L393,522.27 L392.5,522.25 L392,522.23 L391.5,522.22 L391,522.2 L390.5,522.18 L390,522.16 L389.5,522.14 L389,522.12 L388.5,522.1 L388,522.08 L387.5,522.06 L387,522.04 L386.5,522.02 L386,522 L385.5,521.99 L385,521.97 L384.5,521.95 L384,521.93 L383.5,521.91 L383,521.89 L382.5,521.87 L382,521.85 L381.5,521.83 L381,521.81 L380.5,521.79 L380,521.77 L379.5,521.75 L379,521.74 L378.5,521.72 L378,521.7 L377.5,521.68 L377,521.66 L376.5,521.64 L376,521.62 L375.5,521.6 L375,521.58 L374.5,521.56 L374,521.54 L373.5,521.52 L373,521.5 L372.5,521.49 L372,521.47 L371.5,521.45 L371,521.43 L370.5,521.41 L370,521.39 L369.5,521.37 L369,521.35 L368.5,521.33 L368,521.31 L367.5,521.29 L367,521.27 L366.5,521.26 L366,521.24 L365.5,521.22" stroke="none" stroke-width="1" fill="#E3C9F0" fill-opacity="0.72"/>
<g fill="none" stroke="#a8a8a8" stroke-width="0.8"><circle cx="302.4" cy="519.2" r="2.4"/><circle cx="304.2" cy="514.8" r="2.4"/><circle cx="306.3" cy="520.9" r="2.4"/><circle cx="308.4" cy="519.3" r="2.4"/><circle cx="310.3" cy="517.0" r="2.4"/><circle cx="311.7" cy="513.4" r="2.4"/><circle cx="314.3" cy="513.7" r="2.4"/><circle cx="316.5" cy="520.1" r="2.4"/><circle cx="317.9" cy="509.5" r="2.4"/><circle cx="320.2" cy="518.2" r="2.4"/><circle cx="321.7" cy="514.5" r="2.4"/><circle cx="324.4" cy="513.5" r="2.4"/><circle cx="326.3" cy="514.4" r="2.4"/><circle cx="328.5" cy="514.0" r="2.4"/><circle cx="330.2" cy="506.4" r="2.4"/><circle cx="331.6" cy="509.9" r="2.4"/><circle cx="333.5" cy="509.5" r="2.4"/><circle cx="336.0" cy="503.3" r="2.4"/><circle cx="338.4" cy="497.3" r="2.4"/><circle cx="340.3" cy="503.5" r="2.4"/><circle cx="341.7" cy="499.9" r="2.4"/><circle cx="343.7" cy="501.3" r="2.4"/><circle cx="346.1" cy="498.0" r="2.4"/><circle cx="347.6" cy="500.6" r="2.4"/><circle cx="350.4" cy="495.6" r="2.4"/><circle cx="352.1" cy="500.0" r="2.4"/><circle cx="354.4" cy="492.6" r="2.4"/><circle cx="356.0" cy="502.2" r="2.4"/><circle cx="358.0" cy="500.0" r="2.4"/><circle cx="359.9" cy="502.2" r="2.4"/><circle cx="361.7" cy="509.2" r="2.4"/><circle cx="363.7" cy="506.3" r="2.4"/><circle cx="366.0" cy="507.7" r="2.4"/><circle cx="367.8" cy="506.7" r="2.4"/><circle cx="370.0" cy="507.4" r="2.4"/><circle cx="371.6" cy="512.0" r="2.4"/><circle cx="374.1" cy="515.1" r="2.4"/><circle cx="376.3" cy="518.4" r="2.4"/><circle cx="378.0" cy="512.6" r="2.4"/><circle cx="380.4" cy="515.8" r="2.4"/><circle cx="381.9" cy="515.3" r="2.4"/><circle cx="384.0" cy="515.6" r="2.4"/><circle cx="386.2" cy="514.1" r="2.4"/><circle cx="388.0" cy="517.7" r="2.4"/><circle cx="390.4" cy="513.8" r="2.4"/><circle cx="392.4" cy="508.7" r="2.4"/><circle cx="393.8" cy="505.9" r="2.4"/><circle cx="396.3" cy="507.2" r="2.4"/><circle cx="397.6" cy="508.7" r="2.4"/><circle cx="399.6" cy="504.9" r="2.4"/><circle cx="401.7" cy="502.2" r="2.4"/><circle cx="404.3" cy="495.3" r="2.4"/><circle cx="406.4" cy="490.2" r="2.4"/><circle cx="408.2" cy="485.1" r="2.4"/><circle cx="409.6" cy="480.1" r="2.4"/><circle cx="411.7" cy="462.5" r="2.4"/><circle cx="414.5" cy="457.4" r="2.4"/><circle cx="416.5" cy="454.3" r="2.4"/><circle cx="418.3" cy="446.6" r="2.4"/><circle cx="420.0" cy="440.5" r="2.4"/><circle cx="421.8" cy="432.4" r="2.4"/><circle cx="424.2" cy="428.3" r="2.4"/><circle cx="425.5" cy="418.6" r="2.4"/><circle cx="427.5" cy="417.2" r="2.4"/><circle cx="429.8" cy="413.9" r="2.4"/><circle cx="431.6" cy="413.5" r="2.4"/><circle cx="434.5" cy="419.2" r="2.4"/><circle cx="435.6" cy="413.7" r="2.4"/><circle cx="437.8" cy="431.1" r="2.4"/><circle cx="439.8" cy="434.6" r="2.4"/><circle cx="441.6" cy="436.1" r="2.4"/><circle cx="444.3" cy="453.4" r="2.4"/><circle cx="445.8" cy="463.5" r="2.4"/><circle cx="448.1" cy="474.0" r="2.4"/><circle cx="450.2" cy="478.6" r="2.4"/><circle cx="452.2" cy="486.4" r="2.4"/><circle cx="453.9" cy="499.0" r="2.4"/><circle cx="456.1" cy="502.2" r="2.4"/><circle cx="458.3" cy="509.3" r="2.4"/><circle cx="459.6" cy="511.6" r="2.4"/><circle cx="462.4" cy="509.8" r="2.4"/><circle cx="464.1" cy="515.7" r="2.4"/><circle cx="466.4" cy="516.8" r="2.4"/><circle cx="468.0" cy="520.0" r="2.4"/><circle cx="469.7" cy="521.1" r="2.4"/><circle cx="471.6" cy="521.8" r="2.4"/><circle cx="473.7" cy="520.6" r="2.4"/><circle cx="476.3" cy="524.4" r="2.4"/><circle cx="477.8" cy="521.0" r="2.4"/><circle cx="479.8" cy="523.2" r="2.4"/><circle cx="481.5" cy="523.6" r="2.4"/><circle cx="484.2" cy="524.5" r="2.4"/><circle cx="486.1" cy="525.5" r="2.4"/><circle cx="488.4" cy="527.5" r="2.4"/><circle cx="489.6" cy="526.1" r="2.4"/><circle cx="492.0" cy="522.3" r="2.4"/><circle cx="494.3" cy="522.5" r="2.4"/><circle cx="496.2" cy="527.3" r="2.4"/><circle cx="498.5" cy="522.5" r="2.4"/><circle cx="500.2" cy="529.9" r="2.4"/><circle cx="502.1" cy="523.4" r="2.4"/></g>
<path d="M303,518.39 L303.5,518.38 L304,518.36 L304.5,518.34 L305,518.31 L305.5,518.28 L306,518.25 L306.5,518.21 L307,518.17 L307.5,518.13 L308,518.08 L308.5,518.03 L309,517.98 L309.5,517.92 L310,517.85 L310.5,517.78 L311,517.7 L311.5,517.62 L312,517.53 L312.5,517.44 L313,517.34 L313.5,517.24 L314,517.12 L314.5,517 L315,516.88 L315.5,516.74 L316,516.6 L316.5,516.46 L317,516.3 L317.5,516.14 L318,515.96 L318.5,515.78 L319,515.6 L319.5,515.4 L320,515.19 L320.5,514.98 L321,514.76 L321.5,514.53 L322,514.29 L322.5,514.04 L323,513.78 L323.5,513.52 L324,513.25 L324.5,512.96 L325,512.67 L325.5,512.38 L326,512.07 L326.5,511.76 L327,511.44 L327.5,511.11 L328,510.78 L328.5,510.43 L329,510.09 L329.5,509.74 L330,509.38 L330.5,509.02 L331,508.65 L331.5,508.28 L332,507.91 L332.5,507.53 L333,507.16 L333.5,506.78 L334,506.4 L334.5,506.02 L335,505.65 L335.5,505.27 L336,504.9 L336.5,504.52 L337,504.16 L337.5,503.8 L338,503.44 L338.5,503.09 L339,502.74 L339.5,502.41 L340,502.08 L340.5,501.76 L341,501.45 L341.5,501.16 L342,500.87 L342.5,500.6 L343,500.33 L343.5,500.09 L344,499.85 L344.5,499.64 L345,499.43 L345.5,499.25 L346,499.07 L346.5,498.92 L347,498.78 L347.5,498.67 L348,498.57 L348.5,498.48 L349,498.42 L349.5,498.38 L350,498.35 L350.5,498.35 L351,498.36 L351.5,498.4 L352,498.47 L352.5,498.57 L353,498.7 L353.5,498.86 L354,499.04 L354.5,499.26 L355,499.5 L355.5,499.77 L356,500.06 L356.5,500.38 L357,500.72 L357.5,501.08 L358,501.46 L358.5,501.86 L359,502.28 L359.5,502.71 L360,503.16 L360.5,503.63 L361,504.1 L361.5,504.58 L362,505.08 L362.5,505.57 L363,506.08 L363.5,506.59 L364,507.1 L364.5,507.61 L365,508.12 L365.5,508.63 L366,509.14 L366.5,509.64 L367,510.13 L367.5,510.62 L368,511.1 L368.5,511.57 L369,512.03 L369.5,512.49 L370,512.92 L370.5,513.35 L371,513.76 L371.5,514.16 L372,514.55 L372.5,514.92 L373,515.27 L373.5,515.61 L374,515.94 L374.5,516.24 L375,516.53 L375.5,516.8 L376,517.06 L376.5,517.3 L377,517.52 L377.5,517.72 L378,517.91 L378.5,518.07 L379,518.22 L379.5,518.35 L380,518.46 L380.5,518.56 L381,518.63 L381.5,518.69 L382,518.73 L382.5,518.75 L383,518.75 L383.5,518.73 L384,518.69 L384.5,518.63 L385,518.55 L385.5,518.44 L386,518.32 L386.5,518.18 L387,518.01 L387.5,517.82 L388,517.61 L388.5,517.37 L389,517.11 L389.5,516.83 L390,516.52 L390.5,516.18 L391,515.82 L391.5,515.42 L392,515 L392.5,514.55 L393,514.07 L393.5,513.56 L394,513.01 L394.5,512.44 L395,511.83 L395.5,511.18 L396,510.5 L396.5,509.78 L397,509.03 L397.5,508.24 L398,507.41 L398.5,506.54 L399,505.64 L399.5,504.69 L400,503.7 L400.5,502.67 L401,501.6 L401.5,500.49 L402,499.34 L402.5,498.15 L403,496.91 L403.5,495.63 L404,494.31 L404.5,492.96 L405,491.56 L405.5,490.12 L406,488.64 L406.5,487.12 L407,485.57 L407.5,483.98 L408,482.36 L408.5,480.7 L409,479.01 L409.5,477.29 L410,475.55 L410.5,473.78 L411,471.98 L411.5,470.16 L412,468.33 L412.5,466.48 L413,464.61 L413.5,462.74 L414,460.85 L414.5,458.96 L415,457.07 L415.5,455.19 L416,453.31 L416.5,451.43 L417,449.57 L417.5,447.73 L418,445.9 L418.5,444.1 L419,442.33 L419.5,440.58 L420,438.87 L420.5,437.2 L421,435.58 L421.5,433.99 L422,432.46 L422.5,430.98 L423,429.56 L423.5,428.2 L424,426.9 L424.5,425.66 L425,424.5 L425.5,423.41 L426,422.39 L426.5,421.45 L427,420.59 L427.5,419.81 L428,419.12 L428.5,418.52 L429,418 L429.5,417.57 L430,417.23 L430.5,416.98 L431,416.82 L431.5,416.76 L432,416.8 L432.5,416.96 L433,417.27 L433.5,417.71 L434,418.28 L434.5,418.98 L435,419.81 L435.5,420.77 L436,421.85 L436.5,423.05 L437,424.35 L437.5,425.77 L438,427.29 L438.5,428.91 L439,430.63 L439.5,432.42 L440,434.3 L440.5,436.25 L441,438.27 L441.5,440.35 L442,442.49 L442.5,444.67 L443,446.89 L443.5,449.14 L444,451.43 L444.5,453.73 L445,456.04 L445.5,458.37 L446,460.69 L446.5,463.01 L447,465.32 L447.5,467.61 L448,469.88 L448.5,472.13 L449,474.34 L449.5,476.52 L450,478.66 L450.5,480.75 L451,482.8 L451.5,484.8 L452,486.75 L452.5,488.64 L453,490.48 L453.5,492.25 L454,493.97 L454.5,495.63 L455,497.22 L455.5,498.75 L456,500.22 L456.5,501.63 L457,502.97 L457.5,504.25 L458,505.47 L458.5,506.63 L459,507.73 L459.5,508.78 L460,509.76 L460.5,510.7 L461,511.58 L461.5,512.41 L462,513.19 L462.5,513.92 L463,514.61 L463.5,515.25 L464,515.86 L464.5,516.42 L465,516.95 L465.5,517.45 L466,517.91 L466.5,518.34 L467,518.75 L467.5,519.13 L468,519.48 L468.5,519.82 L469,520.13 L469.5,520.42 L470,520.7 L470.5,520.95 L471,521.2 L471.5,521.43 L472,521.65 L472.5,521.86 L473,522.06 L473.5,522.24 L474,522.43 L474.5,522.6 L475,522.76 L475.5,522.92 L476,523.08 L476.5,523.22 L477,523.37 L477.5,523.5 L478,523.64 L478.5,523.76 L479,523.89 L479.5,524.01 L480,524.12 L480.5,524.24 L481,524.35 L481.5,524.45 L482,524.55 L482.5,524.65 L483,524.74 L483.5,524.83 L484,524.92 L484.5,525 L485,525.08" stroke="#595959" stroke-width="1.5" fill="none" stroke-linejoin="round"/>
<line x1="412.3" y1="350" x2="412.3" y2="521" stroke="#333" stroke-width="0.9" stroke-dasharray="2,1.6"/>
<rect x="299.5" y="231.5" width="204" height="305.5" fill="none" stroke="#000" stroke-width="1.6"/>
<line x1="314.5" y1="537" x2="314.5" y2="543.5" stroke="#000" stroke-width="1.5" />
<text x="314.5" y="558" font-size="12.8" fill="#111" font-weight="normal" text-anchor="middle" stroke="#111" stroke-width="0.3">408</text>
<line x1="343.86" y1="537" x2="343.86" y2="543.5" stroke="#000" stroke-width="1.5" />
<text x="343.86" y="558" font-size="12.8" fill="#111" font-weight="normal" text-anchor="middle" stroke="#111" stroke-width="0.3">406</text>
<line x1="373.22" y1="537" x2="373.22" y2="543.5" stroke="#000" stroke-width="1.5" />
<text x="373.22" y="558" font-size="12.8" fill="#111" font-weight="normal" text-anchor="middle" stroke="#111" stroke-width="0.3">404</text>
<line x1="402.58" y1="537" x2="402.58" y2="543.5" stroke="#000" stroke-width="1.5" />
<text x="402.58" y="558" font-size="12.8" fill="#111" font-weight="normal" text-anchor="middle" stroke="#111" stroke-width="0.3">402</text>
<line x1="431.94" y1="537" x2="431.94" y2="543.5" stroke="#000" stroke-width="1.5" />
<text x="431.94" y="558" font-size="12.8" fill="#111" font-weight="normal" text-anchor="middle" stroke="#111" stroke-width="0.3">400</text>
<line x1="461.3" y1="537" x2="461.3" y2="543.5" stroke="#000" stroke-width="1.5" />
<text x="461.3" y="558" font-size="12.8" fill="#111" font-weight="normal" text-anchor="middle" stroke="#111" stroke-width="0.3">398</text>
<line x1="490.66" y1="537" x2="490.66" y2="543.5" stroke="#000" stroke-width="1.5" />
<text x="490.66" y="558" font-size="12.8" fill="#111" font-weight="normal" text-anchor="middle" stroke="#111" stroke-width="0.3">396</text>
<path d="M308,733.11 L308.5,733.1 L309,733.09 L309.5,733.06 L310,733.04 L310.5,733.01 L311,732.97 L311.5,732.92 L312,732.86 L312.5,732.8 L313,732.73 L313.5,732.65 L314,732.55 L314.5,732.44 L315,732.33 L315.5,732.19 L316,732.05 L316.5,731.89 L317,731.71 L317.5,731.52 L318,731.31 L318.5,731.08 L319,730.83 L319.5,730.56 L320,730.28 L320.5,729.97 L321,729.64 L321.5,729.3 L322,728.93 L322.5,728.54 L323,728.12 L323.5,727.69 L324,727.24 L324.5,726.77 L325,726.27 L325.5,725.76 L326,725.23 L326.5,724.69 L327,724.13 L327.5,723.56 L328,722.98 L328.5,722.38 L329,721.78 L329.5,721.18 L330,720.57 L330.5,719.96 L331,719.36 L331.5,718.76 L332,718.17 L332.5,717.59 L333,717.02 L333.5,716.47 L334,715.95 L334.5,715.44 L335,714.96 L335.5,714.51 L336,714.09 L336.5,713.71 L337,713.36 L337.5,713.05 L338,712.78 L338.5,712.55 L339,712.37 L339.5,712.23 L340,712.14 L340.5,712.1 L341,712.1 L341.5,712.15 L342,712.25 L342.5,712.39 L343,712.58 L343.5,712.82 L344,713.1 L344.5,713.42 L345,713.78 L345.5,714.18 L346,714.62 L346.5,715.09 L347,715.59 L347.5,716.12 L348,716.68 L348.5,717.26 L349,717.86 L349.5,718.48 L350,719.11 L350.5,719.76 L351,720.41 L351.5,721.06 L352,721.72 L352.5,722.38 L353,723.04 L353.5,723.69 L354,724.34 L354.5,724.98 L355,725.6 L355.5,726.21 L356,726.81 L356.5,727.39 L357,727.95 L357.5,728.5 L358,729.02 L358.5,729.53 L359,730.01 L359.5,730.48 L360,730.92 L360.5,731.34 L361,731.74 L361.5,732.12 L362,732.48 L362.5,732.82 L363,733.14 L363.5,733.44 L364,733.72 L364.5,733.98 L365,734.23 L365.5,734.46 L366,734.67 L366.5,734.87 L367,735.05 L367.5,735.22 L368,735.38 L368.5,735.53 L369,735.67 L369.5,735.79 L370,735.91 L370.5,736.01 L371,736.11 L371.5,736.21 L372,736.29 L372.5,736.37 L373,736.44 L373.5,736.51 L374,736.57 L374,736.83 L373.5,736.8 L373,736.78 L372.5,736.75 L372,736.72 L371.5,736.7 L371,736.67 L370.5,736.65 L370,736.62 L369.5,736.59 L369,736.57 L368.5,736.54 L368,736.51 L367.5,736.49 L367,736.46 L366.5,736.44 L366,736.41 L365.5,736.38 L365,736.36 L364.5,736.33 L364,736.3 L363.5,736.28 L363,736.25 L362.5,736.23 L362,736.2 L361.5,736.17 L361,736.15 L360.5,736.12 L360,736.09 L359.5,736.07 L359,736.04 L358.5,736.02 L358,735.99 L357.5,735.96 L357,735.94 L356.5,735.91 L356,735.88 L355.5,735.86 L355,735.83 L354.5,735.81 L354,735.78 L353.5,735.75 L353,735.73 L352.5,735.7 L352,735.67 L351.5,735.65 L351,735.62 L350.5,735.6 L350,735.57 L349.5,735.54 L349,735.52 L348.5,735.49 L348,735.47 L347.5,735.44 L347,735.41 L346.5,735.39 L346,735.36 L345.5,735.33 L345,735.31 L344.5,735.28 L344,735.26 L343.5,735.23 L343,735.2 L342.5,735.18 L342,735.15 L341.5,735.12 L341,735.1 L340.5,735.07 L340,735.05 L339.5,735.02 L339,734.99 L338.5,734.97 L338,734.94 L337.5,734.91 L337,734.89 L336.5,734.86 L336,734.84 L335.5,734.81 L335,734.78 L334.5,734.76 L334,734.73 L333.5,734.7 L333,734.68 L332.5,734.65 L332,734.63 L331.5,734.6 L331,734.57 L330.5,734.55 L330,734.52 L329.5,734.49 L329,734.47 L328.5,734.44 L328,734.42 L327.5,734.39 L327,734.36 L326.5,734.34 L326,734.31 L325.5,734.29 L325,734.26 L324.5,734.23 L324,734.21 L323.5,734.18 L323,734.15 L322.5,734.13 L322,734.1 L321.5,734.08 L321,734.05 L320.5,734.02 L320,734 L319.5,733.97 L319,733.94 L318.5,733.92 L318,733.89 L317.5,733.87 L317,733.84 L316.5,733.81 L316,733.79 L315.5,733.76 L315,733.73 L314.5,733.71 L314,733.68 L313.5,733.66 L313,733.63 L312.5,733.6 L312,733.58 L311.5,733.55 L311,733.52 L310.5,733.5 L310,733.47 L309.5,733.45 L309,733.42 L308.5,733.39 L308,733.37" stroke="none" stroke-width="1" fill="#BDF0EC" fill-opacity="0.85"/>
<path d="M346.5,735.12 L347,735.11 L347.5,735.09 L348,735.06 L348.5,735.03 L349,734.99 L349.5,734.95 L350,734.89 L350.5,734.83 L351,734.76 L351.5,734.68 L352,734.59 L352.5,734.49 L353,734.38 L353.5,734.26 L354,734.13 L354.5,733.99 L355,733.84 L355.5,733.67 L356,733.5 L356.5,733.31 L357,733.12 L357.5,732.91 L358,732.7 L358.5,732.48 L359,732.25 L359.5,732.02 L360,731.78 L360.5,731.54 L361,731.29 L361.5,731.05 L362,730.81 L362.5,730.57 L363,730.34 L363.5,730.11 L364,729.9 L364.5,729.69 L365,729.5 L365.5,729.32 L366,729.16 L366.5,729.02 L367,728.89 L367.5,728.79 L368,728.71 L368.5,728.65 L369,728.62 L369.5,728.61 L370,728.62 L370.5,728.66 L371,728.72 L371.5,728.81 L372,728.92 L372.5,729.05 L373,729.21 L373.5,729.39 L374,729.58 L374.5,729.8 L375,730.03 L375.5,730.27 L376,730.53 L376.5,730.8 L377,731.07 L377.5,731.36 L378,731.65 L378.5,731.94 L379,732.24 L379.5,732.53 L380,732.83 L380.5,733.12 L381,733.41 L381.5,733.69 L382,733.96 L382.5,734.23 L383,734.48 L383.5,734.73 L384,734.97 L384.5,735.19 L385,735.41 L385.5,735.62 L386,735.81 L386.5,735.99 L387,736.17 L387.5,736.33 L388,736.48 L388.5,736.62 L389,736.75 L389.5,736.88 L390,736.99 L390.5,737.1 L391,737.19 L391.5,737.29 L392,737.37 L392.5,737.45 L393,737.52 L393.5,737.59 L393.5,737.85 L393,737.83 L392.5,737.8 L392,737.77 L391.5,737.75 L391,737.72 L390.5,737.69 L390,737.67 L389.5,737.64 L389,737.62 L388.5,737.59 L388,737.56 L387.5,737.54 L387,737.51 L386.5,737.48 L386,737.46 L385.5,737.43 L385,737.41 L384.5,737.38 L384,737.35 L383.5,737.33 L383,737.3 L382.5,737.27 L382,737.25 L381.5,737.22 L381,737.2 L380.5,737.17 L380,737.14 L379.5,737.12 L379,737.09 L378.5,737.06 L378,737.04 L377.5,737.01 L377,736.99 L376.5,736.96 L376,736.93 L375.5,736.91 L375,736.88 L374.5,736.86 L374,736.83 L373.5,736.8 L373,736.78 L372.5,736.75 L372,736.72 L371.5,736.7 L371,736.67 L370.5,736.65 L370,736.62 L369.5,736.59 L369,736.57 L368.5,736.54 L368,736.51 L367.5,736.49 L367,736.46 L366.5,736.44 L366,736.41 L365.5,736.38 L365,736.36 L364.5,736.33 L364,736.3 L363.5,736.28 L363,736.25 L362.5,736.23 L362,736.2 L361.5,736.17 L361,736.15 L360.5,736.12 L360,736.09 L359.5,736.07 L359,736.04 L358.5,736.02 L358,735.99 L357.5,735.96 L357,735.94 L356.5,735.91 L356,735.88 L355.5,735.86 L355,735.83 L354.5,735.81 L354,735.78 L353.5,735.75 L353,735.73 L352.5,735.7 L352,735.67 L351.5,735.65 L351,735.62 L350.5,735.6 L350,735.57 L349.5,735.54 L349,735.52 L348.5,735.49 L348,735.47 L347.5,735.44 L347,735.41 L346.5,735.39" stroke="none" stroke-width="1" fill="#FAC9CB" fill-opacity="0.85"/>
<path d="M316,733.52 L316.5,733.51 L317,733.51 L317.5,733.5 L318,733.48 L318.5,733.47 L319,733.45 L319.5,733.42 L320,733.39 L320.5,733.36 L321,733.32 L321.5,733.28 L322,733.23 L322.5,733.18 L323,733.12 L323.5,733.05 L324,732.98 L324.5,732.9 L325,732.81 L325.5,732.72 L326,732.62 L326.5,732.51 L327,732.4 L327.5,732.27 L328,732.14 L328.5,732 L329,731.86 L329.5,731.7 L330,731.54 L330.5,731.36 L331,731.18 L331.5,730.99 L332,730.8 L332.5,730.59 L333,730.38 L333.5,730.16 L334,729.94 L334.5,729.71 L335,729.47 L335.5,729.22 L336,728.97 L336.5,728.72 L337,728.46 L337.5,728.2 L338,727.94 L338.5,727.68 L339,727.41 L339.5,727.15 L340,726.88 L340.5,726.62 L341,726.36 L341.5,726.1 L342,725.85 L342.5,725.61 L343,725.37 L343.5,725.13 L344,724.91 L344.5,724.7 L345,724.49 L345.5,724.3 L346,724.12 L346.5,723.96 L347,723.8 L347.5,723.67 L348,723.54 L348.5,723.44 L349,723.35 L349.5,723.27 L350,723.22 L350.5,723.18 L351,723.16 L351.5,723.16 L352,723.17 L352.5,723.21 L353,723.26 L353.5,723.34 L354,723.43 L354.5,723.54 L355,723.66 L355.5,723.8 L356,723.96 L356.5,724.14 L357,724.33 L357.5,724.53 L358,724.75 L358.5,724.98 L359,725.23 L359.5,725.48 L360,725.75 L360.5,726.03 L361,726.31 L361.5,726.6 L362,726.9 L362.5,727.2 L363,727.51 L363.5,727.83 L364,728.14 L364.5,728.46 L365,728.78 L365.5,729.09 L366,729.41 L366.5,729.72 L367,730.04 L367.5,730.35 L368,730.65 L368.5,730.95 L369,731.25 L369.5,731.54 L370,731.83 L370.5,732.1 L371,732.38 L371.5,732.64 L372,732.9 L372.5,733.15 L373,733.39 L373.5,733.62 L374,733.84 L374.5,734.06 L375,734.27 L375.5,734.47 L376,734.66 L376.5,734.84 L377,735.02 L377.5,735.19 L378,735.35 L378.5,735.5 L379,735.64 L379.5,735.78 L380,735.91 L380.5,736.04 L381,736.16 L381.5,736.27 L382,736.38 L382.5,736.48 L383,736.57 L383.5,736.66 L384,736.75 L384.5,736.83 L385,736.91 L385.5,736.98 L386,737.05 L386.5,737.12 L387,737.18 L387.5,737.24 L388,737.29 L388,737.56 L387.5,737.54 L387,737.51 L386.5,737.48 L386,737.46 L385.5,737.43 L385,737.41 L384.5,737.38 L384,737.35 L383.5,737.33 L383,737.3 L382.5,737.27 L382,737.25 L381.5,737.22 L381,737.2 L380.5,737.17 L380,737.14 L379.5,737.12 L379,737.09 L378.5,737.06 L378,737.04 L377.5,737.01 L377,736.99 L376.5,736.96 L376,736.93 L375.5,736.91 L375,736.88 L374.5,736.86 L374,736.83 L373.5,736.8 L373,736.78 L372.5,736.75 L372,736.72 L371.5,736.7 L371,736.67 L370.5,736.65 L370,736.62 L369.5,736.59 L369,736.57 L368.5,736.54 L368,736.51 L367.5,736.49 L367,736.46 L366.5,736.44 L366,736.41 L365.5,736.38 L365,736.36 L364.5,736.33 L364,736.3 L363.5,736.28 L363,736.25 L362.5,736.23 L362,736.2 L361.5,736.17 L361,736.15 L360.5,736.12 L360,736.09 L359.5,736.07 L359,736.04 L358.5,736.02 L358,735.99 L357.5,735.96 L357,735.94 L356.5,735.91 L356,735.88 L355.5,735.86 L355,735.83 L354.5,735.81 L354,735.78 L353.5,735.75 L353,735.73 L352.5,735.7 L352,735.67 L351.5,735.65 L351,735.62 L350.5,735.6 L350,735.57 L349.5,735.54 L349,735.52 L348.5,735.49 L348,735.47 L347.5,735.44 L347,735.41 L346.5,735.39 L346,735.36 L345.5,735.33 L345,735.31 L344.5,735.28 L344,735.26 L343.5,735.23 L343,735.2 L342.5,735.18 L342,735.15 L341.5,735.12 L341,735.1 L340.5,735.07 L340,735.05 L339.5,735.02 L339,734.99 L338.5,734.97 L338,734.94 L337.5,734.91 L337,734.89 L336.5,734.86 L336,734.84 L335.5,734.81 L335,734.78 L334.5,734.76 L334,734.73 L333.5,734.7 L333,734.68 L332.5,734.65 L332,734.63 L331.5,734.6 L331,734.57 L330.5,734.55 L330,734.52 L329.5,734.49 L329,734.47 L328.5,734.44 L328,734.42 L327.5,734.39 L327,734.36 L326.5,734.34 L326,734.31 L325.5,734.29 L325,734.26 L324.5,734.23 L324,734.21 L323.5,734.18 L323,734.15 L322.5,734.13 L322,734.1 L321.5,734.08 L321,734.05 L320.5,734.02 L320,734 L319.5,733.97 L319,733.94 L318.5,733.92 L318,733.89 L317.5,733.87 L317,733.84 L316.5,733.81 L316,733.79" stroke="none" stroke-width="1" fill="#CDCDCD" fill-opacity="0.85"/>
<path d="M438.5,739.94 L439,739.88 L439.5,739.79 L440,739.67 L440.5,739.51 L441,739.32 L441.5,739.07 L442,738.77 L442.5,738.4 L443,737.97 L443.5,737.46 L444,736.88 L444.5,736.21 L445,735.46 L445.5,734.64 L446,733.74 L446.5,732.77 L447,731.75 L447.5,730.69 L448,729.61 L448.5,728.53 L449,727.47 L449.5,726.47 L450,725.53 L450.5,724.69 L451,723.97 L451.5,723.4 L452,722.98 L452.5,722.74 L453,722.67 L453.5,722.73 L454,722.84 L454.5,723 L455,723.22 L455.5,723.5 L456,723.82 L456.5,724.19 L457,724.6 L457.5,725.06 L458,725.55 L458.5,726.08 L459,726.63 L459.5,727.21 L460,727.82 L460.5,728.43 L461,729.06 L461.5,729.7 L462,730.35 L462.5,730.99 L463,731.63 L463.5,732.26 L464,732.88 L464.5,733.49 L465,734.08 L465.5,734.65 L466,735.21 L466.5,735.74 L467,736.25 L467.5,736.73 L468,737.2 L468.5,737.63 L469,738.04 L469.5,738.43 L470,738.79 L470.5,739.13 L471,739.44 L471.5,739.73 L472,740 L472.5,740.25 L473,740.47 L473.5,740.68 L474,740.87 L474.5,741.05 L475,741.2 L475.5,741.35 L476,741.48 L476.5,741.6 L477,741.71 L477.5,741.81 L478,741.9 L478.5,741.98 L479,742.05 L479,742.34 L478.5,742.31 L478,742.28 L477.5,742.26 L477,742.23 L476.5,742.21 L476,742.18 L475.5,742.15 L475,742.13 L474.5,742.1 L474,742.07 L473.5,742.05 L473,742.02 L472.5,742 L472,741.97 L471.5,741.94 L471,741.92 L470.5,741.89 L470,741.86 L469.5,741.84 L469,741.81 L468.5,741.79 L468,741.76 L467.5,741.73 L467,741.71 L466.5,741.68 L466,741.65 L465.5,741.63 L465,741.6 L464.5,741.58 L464,741.55 L463.5,741.52 L463,741.5 L462.5,741.47 L462,741.44 L461.5,741.42 L461,741.39 L460.5,741.37 L460,741.34 L459.5,741.31 L459,741.29 L458.5,741.26 L458,741.23 L457.5,741.21 L457,741.18 L456.5,741.16 L456,741.13 L455.5,741.1 L455,741.08 L454.5,741.05 L454,741.03 L453.5,741 L453,740.97 L452.5,740.95 L452,740.92 L451.5,740.89 L451,740.87 L450.5,740.84 L450,740.82 L449.5,740.79 L449,740.76 L448.5,740.74 L448,740.71 L447.5,740.68 L447,740.66 L446.5,740.63 L446,740.61 L445.5,740.58 L445,740.55 L444.5,740.53 L444,740.5 L443.5,740.47 L443,740.45 L442.5,740.42 L442,740.4 L441.5,740.37 L441,740.34 L440.5,740.32 L440,740.29 L439.5,740.26 L439,740.24 L438.5,740.21" stroke="none" stroke-width="1" fill="#C2E9F8" fill-opacity="0.85"/>
<path d="M389.5,737.39 L390,737.38 L390.5,737.36 L391,737.33 L391.5,737.3 L392,737.26 L392.5,737.22 L393,737.16 L393.5,737.09 L394,737.01 L394.5,736.92 L395,736.82 L395.5,736.7 L396,736.56 L396.5,736.4 L397,736.22 L397.5,736.02 L398,735.8 L398.5,735.55 L399,735.28 L399.5,734.97 L400,734.63 L400.5,734.25 L401,733.84 L401.5,733.38 L402,732.89 L402.5,732.35 L403,731.76 L403.5,731.12 L404,730.42 L404.5,729.67 L405,728.86 L405.5,727.99 L406,727.06 L406.5,726.06 L407,724.99 L407.5,723.85 L408,722.63 L408.5,721.34 L409,719.98 L409.5,718.54 L410,717.03 L410.5,715.43 L411,713.76 L411.5,712.01 L412,710.19 L412.5,708.29 L413,706.31 L413.5,704.27 L414,702.16 L414.5,699.98 L415,697.74 L415.5,695.45 L416,693.11 L416.5,690.72 L417,688.3 L417.5,685.84 L418,683.36 L418.5,680.86 L419,678.35 L419.5,675.85 L420,673.35 L420.5,670.87 L421,668.42 L421.5,666 L422,663.64 L422.5,661.33 L423,659.09 L423.5,656.92 L424,654.84 L424.5,652.86 L425,650.99 L425.5,649.23 L426,647.6 L426.5,646.09 L427,644.73 L427.5,643.51 L428,642.45 L428.5,641.54 L429,640.8 L429.5,640.22 L430,639.81 L430.5,639.58 L431,639.52 L431.5,639.66 L432,640.02 L432.5,640.62 L433,641.43 L433.5,642.45 L434,643.69 L434.5,645.12 L435,646.75 L435.5,648.56 L436,650.53 L436.5,652.66 L437,654.94 L437.5,657.35 L438,659.87 L438.5,662.5 L439,665.21 L439.5,667.99 L440,670.83 L440.5,673.71 L441,676.61 L441.5,679.53 L442,682.46 L442.5,685.36 L443,688.25 L443.5,691.09 L444,693.89 L444.5,696.64 L445,699.32 L445.5,701.93 L446,704.45 L446.5,706.89 L447,709.25 L447.5,711.5 L448,713.67 L448.5,715.73 L449,717.69 L449.5,719.55 L450,721.3 L450.5,722.96 L451,724.52 L451.5,725.98 L452,727.35 L452.5,728.62 L453,729.8 L453.5,730.9 L454,731.92 L454.5,732.86 L455,733.72 L455.5,734.51 L456,735.24 L456.5,735.9 L457,736.51 L457.5,737.06 L458,737.56 L458.5,738.01 L459,738.42 L459.5,738.79 L460,739.13 L460.5,739.43 L461,739.7 L461.5,739.94 L462,740.16 L462.5,740.36 L463,740.53 L463.5,740.69 L464,740.83 L464.5,740.96 L465,741.07 L465.5,741.17 L466,741.27 L466.5,741.35 L467,741.43 L467,741.71 L466.5,741.68 L466,741.65 L465.5,741.63 L465,741.6 L464.5,741.58 L464,741.55 L463.5,741.52 L463,741.5 L462.5,741.47 L462,741.44 L461.5,741.42 L461,741.39 L460.5,741.37 L460,741.34 L459.5,741.31 L459,741.29 L458.5,741.26 L458,741.23 L457.5,741.21 L457,741.18 L456.5,741.16 L456,741.13 L455.5,741.1 L455,741.08 L454.5,741.05 L454,741.03 L453.5,741 L453,740.97 L452.5,740.95 L452,740.92 L451.5,740.89 L451,740.87 L450.5,740.84 L450,740.82 L449.5,740.79 L449,740.76 L448.5,740.74 L448,740.71 L447.5,740.68 L447,740.66 L446.5,740.63 L446,740.61 L445.5,740.58 L445,740.55 L444.5,740.53 L444,740.5 L443.5,740.47 L443,740.45 L442.5,740.42 L442,740.4 L441.5,740.37 L441,740.34 L440.5,740.32 L440,740.29 L439.5,740.26 L439,740.24 L438.5,740.21 L438,740.19 L437.5,740.16 L437,740.13 L436.5,740.11 L436,740.08 L435.5,740.05 L435,740.03 L434.5,740 L434,739.98 L433.5,739.95 L433,739.92 L432.5,739.9 L432,739.87 L431.5,739.84 L431,739.82 L430.5,739.79 L430,739.77 L429.5,739.74 L429,739.71 L428.5,739.69 L428,739.66 L427.5,739.64 L427,739.61 L426.5,739.58 L426,739.56 L425.5,739.53 L425,739.5 L424.5,739.48 L424,739.45 L423.5,739.43 L423,739.4 L422.5,739.37 L422,739.35 L421.5,739.32 L421,739.29 L420.5,739.27 L420,739.24 L419.5,739.22 L419,739.19 L418.5,739.16 L418,739.14 L417.5,739.11 L417,739.08 L416.5,739.06 L416,739.03 L415.5,739.01 L415,738.98 L414.5,738.95 L414,738.93 L413.5,738.9 L413,738.87 L412.5,738.85 L412,738.82 L411.5,738.8 L411,738.77 L410.5,738.74 L410,738.72 L409.5,738.69 L409,738.66 L408.5,738.64 L408,738.61 L407.5,738.59 L407,738.56 L406.5,738.53 L406,738.51 L405.5,738.48 L405,738.45 L404.5,738.43 L404,738.4 L403.5,738.38 L403,738.35 L402.5,738.32 L402,738.3 L401.5,738.27 L401,738.25 L400.5,738.22 L400,738.19 L399.5,738.17 L399,738.14 L398.5,738.11 L398,738.09 L397.5,738.06 L397,738.04 L396.5,738.01 L396,737.98 L395.5,737.96 L395,737.93 L394.5,737.9 L394,737.88 L393.5,737.85 L393,737.83 L392.5,737.8 L392,737.77 L391.5,737.75 L391,737.72 L390.5,737.69 L390,737.67 L389.5,737.64" stroke="none" stroke-width="1" fill="#FBE5D0" fill-opacity="0.85"/>
<path d="M364.5,736.07 L365,736.07 L365.5,736.07 L366,736.06 L366.5,736.06 L367,736.04 L367.5,736.03 L368,736.01 L368.5,735.99 L369,735.96 L369.5,735.93 L370,735.89 L370.5,735.85 L371,735.8 L371.5,735.75 L372,735.69 L372.5,735.63 L373,735.56 L373.5,735.48 L374,735.4 L374.5,735.31 L375,735.21 L375.5,735.1 L376,734.98 L376.5,734.85 L377,734.72 L377.5,734.57 L378,734.42 L378.5,734.25 L379,734.08 L379.5,733.89 L380,733.69 L380.5,733.48 L381,733.26 L381.5,733.03 L382,732.78 L382.5,732.52 L383,732.25 L383.5,731.97 L384,731.68 L384.5,731.37 L385,731.05 L385.5,730.71 L386,730.37 L386.5,730.01 L387,729.64 L387.5,729.26 L388,728.86 L388.5,728.46 L389,728.05 L389.5,727.62 L390,727.18 L390.5,726.74 L391,726.29 L391.5,725.83 L392,725.36 L392.5,724.89 L393,724.41 L393.5,723.93 L394,723.44 L394.5,722.95 L395,722.46 L395.5,721.97 L396,721.49 L396.5,721 L397,720.52 L397.5,720.04 L398,719.57 L398.5,719.11 L399,718.65 L399.5,718.21 L400,717.77 L400.5,717.35 L401,716.95 L401.5,716.55 L402,716.18 L402.5,715.82 L403,715.48 L403.5,715.16 L404,714.86 L404.5,714.59 L405,714.33 L405.5,714.1 L406,713.9 L406.5,713.72 L407,713.56 L407.5,713.44 L408,713.34 L408.5,713.27 L409,713.22 L409.5,713.21 L410,713.22 L410.5,713.26 L411,713.34 L411.5,713.47 L412,713.62 L412.5,713.82 L413,714.04 L413.5,714.31 L414,714.61 L414.5,714.94 L415,715.3 L415.5,715.69 L416,716.11 L416.5,716.55 L417,717.03 L417.5,717.52 L418,718.04 L418.5,718.57 L419,719.12 L419.5,719.69 L420,720.27 L420.5,720.87 L421,721.47 L421.5,722.08 L422,722.69 L422.5,723.31 L423,723.93 L423.5,724.55 L424,725.17 L424.5,725.79 L425,726.4 L425.5,727 L426,727.6 L426.5,728.19 L427,728.76 L427.5,729.33 L428,729.88 L428.5,730.42 L429,730.95 L429.5,731.46 L430,731.96 L430.5,732.44 L431,732.9 L431.5,733.35 L432,733.78 L432.5,734.19 L433,734.59 L433.5,734.97 L434,735.34 L434.5,735.68 L435,736.02 L435.5,736.33 L436,736.63 L436.5,736.91 L437,737.18 L437.5,737.44 L438,737.68 L438.5,737.91 L439,738.12 L439.5,738.32 L440,738.51 L440.5,738.69 L441,738.86 L441.5,739.02 L442,739.16 L442.5,739.3 L443,739.43 L443.5,739.55 L444,739.67 L444.5,739.77 L445,739.87 L445.5,739.97 L446,740.05 L446.5,740.14 L447,740.21 L447.5,740.29 L448,740.35 L448.5,740.42 L449,740.48 L449.5,740.54 L449.5,740.79 L449,740.76 L448.5,740.74 L448,740.71 L447.5,740.68 L447,740.66 L446.5,740.63 L446,740.61 L445.5,740.58 L445,740.55 L444.5,740.53 L444,740.5 L443.5,740.47 L443,740.45 L442.5,740.42 L442,740.4 L441.5,740.37 L441,740.34 L440.5,740.32 L440,740.29 L439.5,740.26 L439,740.24 L438.5,740.21 L438,740.19 L437.5,740.16 L437,740.13 L436.5,740.11 L436,740.08 L435.5,740.05 L435,740.03 L434.5,740 L434,739.98 L433.5,739.95 L433,739.92 L432.5,739.9 L432,739.87 L431.5,739.84 L431,739.82 L430.5,739.79 L430,739.77 L429.5,739.74 L429,739.71 L428.5,739.69 L428,739.66 L427.5,739.64 L427,739.61 L426.5,739.58 L426,739.56 L425.5,739.53 L425,739.5 L424.5,739.48 L424,739.45 L423.5,739.43 L423,739.4 L422.5,739.37 L422,739.35 L421.5,739.32 L421,739.29 L420.5,739.27 L420,739.24 L419.5,739.22 L419,739.19 L418.5,739.16 L418,739.14 L417.5,739.11 L417,739.08 L416.5,739.06 L416,739.03 L415.5,739.01 L415,738.98 L414.5,738.95 L414,738.93 L413.5,738.9 L413,738.87 L412.5,738.85 L412,738.82 L411.5,738.8 L411,738.77 L410.5,738.74 L410,738.72 L409.5,738.69 L409,738.66 L408.5,738.64 L408,738.61 L407.5,738.59 L407,738.56 L406.5,738.53 L406,738.51 L405.5,738.48 L405,738.45 L404.5,738.43 L404,738.4 L403.5,738.38 L403,738.35 L402.5,738.32 L402,738.3 L401.5,738.27 L401,738.25 L400.5,738.22 L400,738.19 L399.5,738.17 L399,738.14 L398.5,738.11 L398,738.09 L397.5,738.06 L397,738.04 L396.5,738.01 L396,737.98 L395.5,737.96 L395,737.93 L394.5,737.9 L394,737.88 L393.5,737.85 L393,737.83 L392.5,737.8 L392,737.77 L391.5,737.75 L391,737.72 L390.5,737.69 L390,737.67 L389.5,737.64 L389,737.62 L388.5,737.59 L388,737.56 L387.5,737.54 L387,737.51 L386.5,737.48 L386,737.46 L385.5,737.43 L385,737.41 L384.5,737.38 L384,737.35 L383.5,737.33 L383,737.3 L382.5,737.27 L382,737.25 L381.5,737.22 L381,737.2 L380.5,737.17 L380,737.14 L379.5,737.12 L379,737.09 L378.5,737.06 L378,737.04 L377.5,737.01 L377,736.99 L376.5,736.96 L376,736.93 L375.5,736.91 L375,736.88 L374.5,736.86 L374,736.83 L373.5,736.8 L373,736.78 L372.5,736.75 L372,736.72 L371.5,736.7 L371,736.67 L370.5,736.65 L370,736.62 L369.5,736.59 L369,736.57 L368.5,736.54 L368,736.51 L367.5,736.49 L367,736.46 L366.5,736.44 L366,736.41 L365.5,736.38 L365,736.36 L364.5,736.33" stroke="none" stroke-width="1" fill="#E3C9F0" fill-opacity="0.72"/>
<g fill="none" stroke="#a8a8a8" stroke-width="0.8"><circle cx="302.6" cy="732.4" r="2.4"/><circle cx="304.6" cy="734.8" r="2.4"/><circle cx="306.8" cy="732.1" r="2.4"/><circle cx="308.7" cy="734.1" r="2.4"/><circle cx="311.4" cy="731.4" r="2.4"/><circle cx="313.2" cy="727.3" r="2.4"/><circle cx="314.8" cy="728.6" r="2.4"/><circle cx="317.0" cy="726.8" r="2.4"/><circle cx="318.8" cy="726.1" r="2.4"/><circle cx="321.5" cy="725.3" r="2.4"/><circle cx="322.7" cy="719.2" r="2.4"/><circle cx="325.5" cy="716.8" r="2.4"/><circle cx="326.5" cy="718.1" r="2.4"/><circle cx="328.9" cy="710.2" r="2.4"/><circle cx="330.7" cy="711.9" r="2.4"/><circle cx="333.0" cy="711.6" r="2.4"/><circle cx="334.6" cy="707.7" r="2.4"/><circle cx="336.9" cy="706.8" r="2.4"/><circle cx="338.8" cy="705.3" r="2.4"/><circle cx="340.7" cy="701.5" r="2.4"/><circle cx="343.3" cy="702.5" r="2.4"/><circle cx="345.2" cy="703.4" r="2.4"/><circle cx="346.9" cy="700.1" r="2.4"/><circle cx="348.8" cy="709.1" r="2.4"/><circle cx="351.2" cy="709.6" r="2.4"/><circle cx="353.1" cy="717.5" r="2.4"/><circle cx="355.4" cy="716.7" r="2.4"/><circle cx="357.1" cy="717.6" r="2.4"/><circle cx="358.6" cy="715.8" r="2.4"/><circle cx="361.0" cy="718.1" r="2.4"/><circle cx="363.3" cy="725.4" r="2.4"/><circle cx="365.3" cy="722.3" r="2.4"/><circle cx="367.2" cy="725.9" r="2.4"/><circle cx="369.2" cy="730.1" r="2.4"/><circle cx="370.6" cy="731.5" r="2.4"/><circle cx="372.9" cy="735.5" r="2.4"/><circle cx="375.1" cy="734.9" r="2.4"/><circle cx="377.1" cy="728.9" r="2.4"/><circle cx="379.0" cy="728.9" r="2.4"/><circle cx="380.5" cy="733.2" r="2.4"/><circle cx="383.0" cy="727.2" r="2.4"/><circle cx="385.0" cy="730.7" r="2.4"/><circle cx="387.2" cy="729.9" r="2.4"/><circle cx="388.8" cy="731.9" r="2.4"/><circle cx="391.2" cy="729.8" r="2.4"/><circle cx="392.7" cy="726.7" r="2.4"/><circle cx="395.0" cy="717.4" r="2.4"/><circle cx="396.9" cy="718.1" r="2.4"/><circle cx="399.3" cy="719.5" r="2.4"/><circle cx="401.1" cy="714.1" r="2.4"/><circle cx="402.6" cy="709.0" r="2.4"/><circle cx="404.8" cy="704.0" r="2.4"/><circle cx="407.1" cy="695.3" r="2.4"/><circle cx="408.5" cy="692.6" r="2.4"/><circle cx="411.2" cy="683.7" r="2.4"/><circle cx="413.2" cy="673.7" r="2.4"/><circle cx="415.0" cy="664.4" r="2.4"/><circle cx="417.0" cy="656.9" r="2.4"/><circle cx="419.4" cy="650.7" r="2.4"/><circle cx="420.7" cy="649.6" r="2.4"/><circle cx="422.5" cy="635.8" r="2.4"/><circle cx="425.0" cy="634.6" r="2.4"/><circle cx="426.9" cy="620.9" r="2.4"/><circle cx="428.8" cy="626.8" r="2.4"/><circle cx="430.7" cy="631.0" r="2.4"/><circle cx="433.1" cy="627.6" r="2.4"/><circle cx="435.5" cy="630.8" r="2.4"/><circle cx="436.6" cy="633.9" r="2.4"/><circle cx="439.4" cy="635.3" r="2.4"/><circle cx="441.2" cy="646.0" r="2.4"/><circle cx="443.0" cy="659.1" r="2.4"/><circle cx="444.5" cy="664.8" r="2.4"/><circle cx="447.0" cy="670.4" r="2.4"/><circle cx="448.8" cy="680.7" r="2.4"/><circle cx="450.8" cy="689.5" r="2.4"/><circle cx="453.3" cy="700.2" r="2.4"/><circle cx="455.3" cy="703.1" r="2.4"/><circle cx="456.6" cy="713.7" r="2.4"/><circle cx="459.4" cy="713.7" r="2.4"/><circle cx="460.8" cy="718.8" r="2.4"/><circle cx="463.5" cy="727.1" r="2.4"/><circle cx="465.1" cy="726.8" r="2.4"/><circle cx="466.8" cy="734.0" r="2.4"/><circle cx="468.5" cy="738.4" r="2.4"/><circle cx="470.8" cy="739.2" r="2.4"/><circle cx="473.4" cy="737.5" r="2.4"/><circle cx="475.0" cy="740.8" r="2.4"/><circle cx="476.7" cy="734.6" r="2.4"/><circle cx="479.4" cy="745.2" r="2.4"/><circle cx="481.3" cy="736.5" r="2.4"/><circle cx="483.4" cy="736.5" r="2.4"/><circle cx="485.0" cy="741.2" r="2.4"/><circle cx="487.2" cy="740.7" r="2.4"/><circle cx="489.0" cy="741.9" r="2.4"/><circle cx="490.8" cy="737.9" r="2.4"/><circle cx="492.5" cy="743.4" r="2.4"/><circle cx="495.0" cy="741.6" r="2.4"/><circle cx="496.8" cy="741.0" r="2.4"/><circle cx="499.5" cy="746.9" r="2.4"/><circle cx="500.8" cy="741.3" r="2.4"/><circle cx="503.1" cy="740.7" r="2.4"/></g>
<path d="M303,731.85 L303.5,731.77 L304,731.69 L304.5,731.6 L305,731.5 L305.5,731.39 L306,731.28 L306.5,731.16 L307,731.03 L307.5,730.89 L308,730.74 L308.5,730.58 L309,730.41 L309.5,730.22 L310,730.03 L310.5,729.83 L311,729.61 L311.5,729.39 L312,729.15 L312.5,728.9 L313,728.64 L313.5,728.36 L314,728.07 L314.5,727.77 L315,727.46 L315.5,727.13 L316,726.79 L316.5,726.44 L317,726.07 L317.5,725.69 L318,725.3 L318.5,724.89 L319,724.48 L319.5,724.05 L320,723.61 L320.5,723.15 L321,722.69 L321.5,722.22 L322,721.73 L322.5,721.24 L323,720.74 L323.5,720.23 L324,719.71 L324.5,719.19 L325,718.66 L325.5,718.13 L326,717.59 L326.5,717.05 L327,716.51 L327.5,715.97 L328,715.42 L328.5,714.88 L329,714.35 L329.5,713.81 L330,713.28 L330.5,712.76 L331,712.25 L331.5,711.74 L332,711.25 L332.5,710.76 L333,710.29 L333.5,709.83 L334,709.39 L334.5,708.97 L335,708.56 L335.5,708.17 L336,707.8 L336.5,707.45 L337,707.12 L337.5,706.82 L338,706.54 L338.5,706.28 L339,706.05 L339.5,705.84 L340,705.67 L340.5,705.51 L341,705.39 L341.5,705.3 L342,705.23 L342.5,705.19 L343,705.18 L343.5,705.2 L344,705.27 L344.5,705.38 L345,705.54 L345.5,705.75 L346,706 L346.5,706.29 L347,706.63 L347.5,707.01 L348,707.43 L348.5,707.88 L349,708.37 L349.5,708.9 L350,709.45 L350.5,710.04 L351,710.64 L351.5,711.28 L352,711.93 L352.5,712.6 L353,713.29 L353.5,713.99 L354,714.69 L354.5,715.41 L355,716.13 L355.5,716.85 L356,717.57 L356.5,718.29 L357,719 L357.5,719.7 L358,720.4 L358.5,721.08 L359,721.75 L359.5,722.41 L360,723.05 L360.5,723.67 L361,724.27 L361.5,724.85 L362,725.41 L362.5,725.95 L363,726.46 L363.5,726.96 L364,727.43 L364.5,727.87 L365,728.3 L365.5,728.7 L366,729.07 L366.5,729.43 L367,729.76 L367.5,730.07 L368,730.36 L368.5,730.63 L369,730.87 L369.5,731.1 L370,731.31 L370.5,731.5 L371,731.68 L371.5,731.84 L372,731.98 L372.5,732.11 L373,732.22 L373.5,732.33 L374,732.42 L374.5,732.5 L375,732.57 L375.5,732.62 L376,732.67 L376.5,732.71 L377,732.75 L377.5,732.77 L378,732.79 L378.5,732.79 L379,732.8 L379.5,732.79 L380,732.78 L380.5,732.76 L381,732.73 L381.5,732.69 L382,732.65 L382.5,732.6 L383,732.54 L383.5,732.47 L384,732.38 L384.5,732.29 L385,732.19 L385.5,732.07 L386,731.95 L386.5,731.8 L387,731.64 L387.5,731.47 L388,731.27 L388.5,731.06 L389,730.83 L389.5,730.57 L390,730.3 L390.5,729.99 L391,729.67 L391.5,729.31 L392,728.93 L392.5,728.52 L393,728.07 L393.5,727.6 L394,727.08 L394.5,726.54 L395,725.96 L395.5,725.33 L396,724.67 L396.5,723.97 L397,723.23 L397.5,722.45 L398,721.62 L398.5,720.74 L399,719.82 L399.5,718.85 L400,717.84 L400.5,716.78 L401,715.67 L401.5,714.51 L402,713.3 L402.5,712.05 L403,710.74 L403.5,709.38 L404,707.98 L404.5,706.53 L405,705.03 L405.5,703.48 L406,701.89 L406.5,700.25 L407,698.57 L407.5,696.84 L408,695.08 L408.5,693.27 L409,691.43 L409.5,689.55 L410,687.64 L410.5,685.71 L411,683.74 L411.5,681.75 L412,679.73 L412.5,677.7 L413,675.65 L413.5,673.6 L414,671.53 L414.5,669.46 L415,667.39 L415.5,665.32 L416,663.26 L416.5,661.21 L417,659.17 L417.5,657.16 L418,655.17 L418.5,653.21 L419,651.28 L419.5,649.39 L420,647.55 L420.5,645.75 L421,644 L421.5,642.3 L422,640.67 L422.5,639.1 L423,637.59 L423.5,636.16 L424,634.8 L424.5,633.52 L425,632.33 L425.5,631.22 L426,630.19 L426.5,629.26 L427,628.42 L427.5,627.68 L428,627.04 L428.5,626.49 L429,626.05 L429.5,625.71 L430,625.48 L430.5,625.34 L431,625.32 L431.5,625.4 L432,625.59 L432.5,625.9 L433,626.31 L433.5,626.84 L434,627.47 L434.5,628.21 L435,629.05 L435.5,629.99 L436,631.04 L436.5,632.18 L437,633.41 L437.5,634.73 L438,636.14 L438.5,637.62 L439,639.19 L439.5,640.83 L440,642.54 L440.5,644.32 L441,646.16 L441.5,648.05 L442,650 L442.5,651.99 L443,654.02 L443.5,656.09 L444,658.19 L444.5,660.32 L445,662.47 L445.5,664.64 L446,666.82 L446.5,669.01 L447,671.21 L447.5,673.41 L448,675.6 L448.5,677.78 L449,679.95 L449.5,682.11 L450,684.24 L450.5,686.36 L451,688.45 L451.5,690.5 L452,692.53 L452.5,694.53 L453,696.48 L453.5,698.4 L454,700.28 L454.5,702.11 L455,703.9 L455.5,705.65 L456,707.35 L456.5,709 L457,710.6 L457.5,712.16 L458,713.66 L458.5,715.12 L459,716.52 L459.5,717.88 L460,719.19 L460.5,720.44 L461,721.65 L461.5,722.81 L462,723.92 L462.5,724.98 L463,726 L463.5,726.97 L464,727.9 L464.5,728.79 L465,729.63 L465.5,730.43 L466,731.19 L466.5,731.91 L467,732.6 L467.5,733.25 L468,733.86 L468.5,734.44 L469,734.99 L469.5,735.51 L470,735.99 L470.5,736.45 L471,736.89 L471.5,737.29 L472,737.67 L472.5,738.03 L473,738.37 L473.5,738.69 L474,738.98 L474.5,739.26 L475,739.52 L475.5,739.76 L476,739.99 L476.5,740.2 L477,740.4 L477.5,740.58 L478,740.75 L478.5,740.91 L479,741.06 L479.5,741.2 L480,741.34 L480.5,741.46 L481,741.57 L481.5,741.68 L482,741.78 L482.5,741.88 L483,741.96 L483.5,742.05 L484,742.12 L484.5,742.2 L485,742.27 L485.5,742.33 L486,742.39 L486.5,742.45 L487,742.51 L487.5,742.56 L488,742.61 L488.5,742.65 L489,742.7 L489.5,742.74 L490,742.79" stroke="#595959" stroke-width="1.5" fill="none" stroke-linejoin="round"/>
<path d="M306.5,899.84 L307,899.82 L307.5,899.8 L308,899.76 L308.5,899.73 L309,899.68 L309.5,899.63 L310,899.57 L310.5,899.5 L311,899.42 L311.5,899.33 L312,899.23 L312.5,899.12 L313,898.99 L313.5,898.85 L314,898.69 L314.5,898.52 L315,898.33 L315.5,898.12 L316,897.9 L316.5,897.65 L317,897.38 L317.5,897.1 L318,896.79 L318.5,896.45 L319,896.1 L319.5,895.72 L320,895.31 L320.5,894.88 L321,894.43 L321.5,893.95 L322,893.44 L322.5,892.91 L323,892.36 L323.5,891.79 L324,891.19 L324.5,890.57 L325,889.93 L325.5,889.27 L326,888.6 L326.5,887.91 L327,887.21 L327.5,886.5 L328,885.78 L328.5,885.06 L329,884.34 L329.5,883.61 L330,882.9 L330.5,882.18 L331,881.49 L331.5,880.8 L332,880.13 L332.5,879.49 L333,878.87 L333.5,878.27 L334,877.71 L334.5,877.19 L335,876.7 L335.5,876.26 L336,875.85 L336.5,875.5 L337,875.19 L337.5,874.93 L338,874.73 L338.5,874.58 L339,874.48 L339.5,874.44 L340,874.45 L340.5,874.52 L341,874.65 L341.5,874.83 L342,875.06 L342.5,875.35 L343,875.69 L343.5,876.07 L344,876.51 L344.5,876.98 L345,877.5 L345.5,878.06 L346,878.65 L346.5,879.28 L347,879.93 L347.5,880.61 L348,881.32 L348.5,882.04 L349,882.77 L349.5,883.52 L350,884.28 L350.5,885.04 L351,885.81 L351.5,886.57 L352,887.33 L352.5,888.08 L353,888.82 L353.5,889.55 L354,890.27 L354.5,890.97 L355,891.65 L355.5,892.31 L356,892.96 L356.5,893.58 L357,894.17 L357.5,894.75 L358,895.29 L358.5,895.82 L359,896.32 L359.5,896.79 L360,897.24 L360.5,897.67 L361,898.07 L361.5,898.44 L362,898.8 L362.5,899.13 L363,899.44 L363.5,899.73 L364,900 L364.5,900.25 L365,900.48 L365.5,900.7 L366,900.9 L366.5,901.08 L367,901.25 L367.5,901.41 L368,901.55 L368.5,901.68 L369,901.8 L369.5,901.91 L370,902.02 L370.5,902.11 L371,902.2 L371.5,902.27 L372,902.35 L372.5,902.41 L373,902.47 L373,902.76 L372.5,902.74 L372,902.72 L371.5,902.7 L371,902.68 L370.5,902.66 L370,902.64 L369.5,902.62 L369,902.6 L368.5,902.58 L368,902.56 L367.5,902.54 L367,902.52 L366.5,902.5 L366,902.48 L365.5,902.46 L365,902.44 L364.5,902.42 L364,902.4 L363.5,902.38 L363,902.36 L362.5,902.34 L362,902.32 L361.5,902.3 L361,902.28 L360.5,902.26 L360,902.24 L359.5,902.22 L359,902.2 L358.5,902.18 L358,902.16 L357.5,902.14 L357,902.12 L356.5,902.1 L356,902.08 L355.5,902.06 L355,902.04 L354.5,902.02 L354,902 L353.5,901.98 L353,901.96 L352.5,901.94 L352,901.92 L351.5,901.91 L351,901.89 L350.5,901.87 L350,901.85 L349.5,901.83 L349,901.81 L348.5,901.79 L348,901.77 L347.5,901.75 L347,901.73 L346.5,901.71 L346,901.69 L345.5,901.67 L345,901.65 L344.5,901.63 L344,901.61 L343.5,901.59 L343,901.57 L342.5,901.55 L342,901.53 L341.5,901.51 L341,901.49 L340.5,901.47 L340,901.45 L339.5,901.43 L339,901.41 L338.5,901.39 L338,901.37 L337.5,901.35 L337,901.33 L336.5,901.31 L336,901.29 L335.5,901.27 L335,901.25 L334.5,901.23 L334,901.21 L333.5,901.19 L333,901.17 L332.5,901.15 L332,901.13 L331.5,901.11 L331,901.09 L330.5,901.07 L330,901.05 L329.5,901.03 L329,901.01 L328.5,900.99 L328,900.97 L327.5,900.95 L327,900.93 L326.5,900.91 L326,900.89 L325.5,900.87 L325,900.85 L324.5,900.83 L324,900.81 L323.5,900.79 L323,900.77 L322.5,900.75 L322,900.73 L321.5,900.71 L321,900.69 L320.5,900.67 L320,900.65 L319.5,900.63 L319,900.61 L318.5,900.59 L318,900.57 L317.5,900.56 L317,900.54 L316.5,900.52 L316,900.5 L315.5,900.48 L315,900.46 L314.5,900.44 L314,900.42 L313.5,900.4 L313,900.38 L312.5,900.36 L312,900.34 L311.5,900.32 L311,900.3 L310.5,900.28 L310,900.26 L309.5,900.24 L309,900.22 L308.5,900.2 L308,900.18 L307.5,900.16 L307,900.14 L306.5,900.12" stroke="none" stroke-width="1" fill="#BDF0EC" fill-opacity="0.85"/>
<path d="M332.5,900.87 L333,900.84 L333.5,900.81 L334,900.77 L334.5,900.72 L335,900.66 L335.5,900.59 L336,900.51 L336.5,900.42 L337,900.31 L337.5,900.19 L338,900.06 L338.5,899.91 L339,899.74 L339.5,899.55 L340,899.35 L340.5,899.13 L341,898.88 L341.5,898.62 L342,898.34 L342.5,898.03 L343,897.7 L343.5,897.35 L344,896.98 L344.5,896.6 L345,896.19 L345.5,895.76 L346,895.31 L346.5,894.86 L347,894.38 L347.5,893.9 L348,893.41 L348.5,892.91 L349,892.4 L349.5,891.9 L350,891.4 L350.5,890.91 L351,890.43 L351.5,889.96 L352,889.51 L352.5,889.08 L353,888.68 L353.5,888.31 L354,887.96 L354.5,887.65 L355,887.38 L355.5,887.15 L356,886.96 L356.5,886.82 L357,886.72 L357.5,886.67 L358,886.66 L358.5,886.7 L359,886.77 L359.5,886.87 L360,887 L360.5,887.16 L361,887.35 L361.5,887.57 L362,887.81 L362.5,888.09 L363,888.38 L363.5,888.7 L364,889.04 L364.5,889.4 L365,889.78 L365.5,890.18 L366,890.58 L366.5,891 L367,891.43 L367.5,891.87 L368,892.31 L368.5,892.75 L369,893.2 L369.5,893.65 L370,894.09 L370.5,894.53 L371,894.97 L371.5,895.4 L372,895.82 L372.5,896.24 L373,896.64 L373.5,897.04 L374,897.42 L374.5,897.79 L375,898.14 L375.5,898.49 L376,898.81 L376.5,899.13 L377,899.43 L377.5,899.72 L378,899.99 L378.5,900.25 L379,900.49 L379.5,900.72 L380,900.94 L380.5,901.14 L381,901.33 L381.5,901.51 L382,901.68 L382.5,901.84 L383,901.98 L383.5,902.12 L384,902.25 L384.5,902.36 L385,902.47 L385.5,902.57 L386,902.67 L386.5,902.75 L387,902.83 L387.5,902.91 L388,902.98 L388.5,903.04 L389,903.1 L389.5,903.16 L389.5,903.41 L389,903.39 L388.5,903.37 L388,903.35 L387.5,903.33 L387,903.31 L386.5,903.29 L386,903.27 L385.5,903.26 L385,903.24 L384.5,903.22 L384,903.2 L383.5,903.18 L383,903.16 L382.5,903.14 L382,903.12 L381.5,903.1 L381,903.08 L380.5,903.06 L380,903.04 L379.5,903.02 L379,903 L378.5,902.98 L378,902.96 L377.5,902.94 L377,902.92 L376.5,902.9 L376,902.88 L375.5,902.86 L375,902.84 L374.5,902.82 L374,902.8 L373.5,902.78 L373,902.76 L372.5,902.74 L372,902.72 L371.5,902.7 L371,902.68 L370.5,902.66 L370,902.64 L369.5,902.62 L369,902.6 L368.5,902.58 L368,902.56 L367.5,902.54 L367,902.52 L366.5,902.5 L366,902.48 L365.5,902.46 L365,902.44 L364.5,902.42 L364,902.4 L363.5,902.38 L363,902.36 L362.5,902.34 L362,902.32 L361.5,902.3 L361,902.28 L360.5,902.26 L360,902.24 L359.5,902.22 L359,902.2 L358.5,902.18 L358,902.16 L357.5,902.14 L357,902.12 L356.5,902.1 L356,902.08 L355.5,902.06 L355,902.04 L354.5,902.02 L354,902 L353.5,901.98 L353,901.96 L352.5,901.94 L352,901.92 L351.5,901.91 L351,901.89 L350.5,901.87 L350,901.85 L349.5,901.83 L349,901.81 L348.5,901.79 L348,901.77 L347.5,901.75 L347,901.73 L346.5,901.71 L346,901.69 L345.5,901.67 L345,901.65 L344.5,901.63 L344,901.61 L343.5,901.59 L343,901.57 L342.5,901.55 L342,901.53 L341.5,901.51 L341,901.49 L340.5,901.47 L340,901.45 L339.5,901.43 L339,901.41 L338.5,901.39 L338,901.37 L337.5,901.35 L337,901.33 L336.5,901.31 L336,901.29 L335.5,901.27 L335,901.25 L334.5,901.23 L334,901.21 L333.5,901.19 L333,901.17 L332.5,901.15" stroke="none" stroke-width="1" fill="#FAC9CB" fill-opacity="0.85"/>
<path d="M321.5,900.45 L322,900.43 L322.5,900.41 L323,900.39 L323.5,900.36 L324,900.33 L324.5,900.28 L325,900.24 L325.5,900.18 L326,900.12 L326.5,900.06 L327,899.98 L327.5,899.89 L328,899.8 L328.5,899.7 L329,899.58 L329.5,899.46 L330,899.32 L330.5,899.18 L331,899.02 L331.5,898.85 L332,898.67 L332.5,898.47 L333,898.26 L333.5,898.04 L334,897.81 L334.5,897.56 L335,897.3 L335.5,897.03 L336,896.74 L336.5,896.45 L337,896.14 L337.5,895.82 L338,895.5 L338.5,895.16 L339,894.82 L339.5,894.46 L340,894.11 L340.5,893.75 L341,893.38 L341.5,893.02 L342,892.65 L342.5,892.29 L343,891.93 L343.5,891.57 L344,891.22 L344.5,890.88 L345,890.55 L345.5,890.23 L346,889.93 L346.5,889.64 L347,889.37 L347.5,889.12 L348,888.89 L348.5,888.68 L349,888.5 L349.5,888.34 L350,888.2 L350.5,888.09 L351,888.01 L351.5,887.96 L352,887.94 L352.5,887.94 L353,887.98 L353.5,888.04 L354,888.13 L354.5,888.25 L355,888.4 L355.5,888.58 L356,888.77 L356.5,889 L357,889.25 L357.5,889.52 L358,889.81 L358.5,890.12 L359,890.45 L359.5,890.79 L360,891.15 L360.5,891.52 L361,891.9 L361.5,892.28 L362,892.68 L362.5,893.08 L363,893.48 L363.5,893.89 L364,894.3 L364.5,894.7 L365,895.1 L365.5,895.5 L366,895.89 L366.5,896.27 L367,896.65 L367.5,897.02 L368,897.37 L368.5,897.72 L369,898.05 L369.5,898.38 L370,898.69 L370.5,898.99 L371,899.28 L371.5,899.55 L372,899.81 L372.5,900.06 L373,900.29 L373.5,900.52 L374,900.73 L374.5,900.92 L375,901.11 L375.5,901.28 L376,901.45 L376.5,901.6 L377,901.75 L377.5,901.88 L378,902 L378.5,902.12 L379,902.23 L379.5,902.33 L380,902.42 L380.5,902.51 L381,902.59 L381.5,902.66 L382,902.73 L382.5,902.8 L383,902.86 L383.5,902.91 L383.5,903.18 L383,903.16 L382.5,903.14 L382,903.12 L381.5,903.1 L381,903.08 L380.5,903.06 L380,903.04 L379.5,903.02 L379,903 L378.5,902.98 L378,902.96 L377.5,902.94 L377,902.92 L376.5,902.9 L376,902.88 L375.5,902.86 L375,902.84 L374.5,902.82 L374,902.8 L373.5,902.78 L373,902.76 L372.5,902.74 L372,902.72 L371.5,902.7 L371,902.68 L370.5,902.66 L370,902.64 L369.5,902.62 L369,902.6 L368.5,902.58 L368,902.56 L367.5,902.54 L367,902.52 L366.5,902.5 L366,902.48 L365.5,902.46 L365,902.44 L364.5,902.42 L364,902.4 L363.5,902.38 L363,902.36 L362.5,902.34 L362,902.32 L361.5,902.3 L361,902.28 L360.5,902.26 L360,902.24 L359.5,902.22 L359,902.2 L358.5,902.18 L358,902.16 L357.5,902.14 L357,902.12 L356.5,902.1 L356,902.08 L355.5,902.06 L355,902.04 L354.5,902.02 L354,902 L353.5,901.98 L353,901.96 L352.5,901.94 L352,901.92 L351.5,901.91 L351,901.89 L350.5,901.87 L350,901.85 L349.5,901.83 L349,901.81 L348.5,901.79 L348,901.77 L347.5,901.75 L347,901.73 L346.5,901.71 L346,901.69 L345.5,901.67 L345,901.65 L344.5,901.63 L344,901.61 L343.5,901.59 L343,901.57 L342.5,901.55 L342,901.53 L341.5,901.51 L341,901.49 L340.5,901.47 L340,901.45 L339.5,901.43 L339,901.41 L338.5,901.39 L338,901.37 L337.5,901.35 L337,901.33 L336.5,901.31 L336,901.29 L335.5,901.27 L335,901.25 L334.5,901.23 L334,901.21 L333.5,901.19 L333,901.17 L332.5,901.15 L332,901.13 L331.5,901.11 L331,901.09 L330.5,901.07 L330,901.05 L329.5,901.03 L329,901.01 L328.5,900.99 L328,900.97 L327.5,900.95 L327,900.93 L326.5,900.91 L326,900.89 L325.5,900.87 L325,900.85 L324.5,900.83 L324,900.81 L323.5,900.79 L323,900.77 L322.5,900.75 L322,900.73 L321.5,900.71" stroke="none" stroke-width="1" fill="#CDCDCD" fill-opacity="0.85"/>
<path d="M437.5,905.05 L438,904.98 L438.5,904.88 L439,904.75 L439.5,904.58 L440,904.36 L440.5,904.09 L441,903.75 L441.5,903.34 L442,902.85 L442.5,902.27 L443,901.59 L443.5,900.81 L444,899.92 L444.5,898.92 L445,897.83 L445.5,896.63 L446,895.35 L446.5,894 L447,892.59 L447.5,891.16 L448,889.73 L448.5,888.33 L449,886.99 L449.5,885.75 L450,884.64 L450.5,883.68 L451,882.91 L451.5,882.35 L452,882.02 L452.5,881.92 L453,881.97 L453.5,882.1 L454,882.31 L454.5,882.58 L455,882.92 L455.5,883.33 L456,883.8 L456.5,884.33 L457,884.91 L457.5,885.55 L458,886.22 L458.5,886.94 L459,887.68 L459.5,888.46 L460,889.25 L460.5,890.07 L461,890.89 L461.5,891.72 L462,892.54 L462.5,893.37 L463,894.18 L463.5,894.98 L464,895.76 L464.5,896.53 L465,897.26 L465.5,897.98 L466,898.66 L466.5,899.31 L467,899.94 L467.5,900.53 L468,901.08 L468.5,901.61 L469,902.1 L469.5,902.56 L470,902.99 L470.5,903.38 L471,903.75 L471.5,904.09 L472,904.39 L472.5,904.68 L473,904.94 L473.5,905.17 L474,905.39 L474.5,905.58 L475,905.75 L475.5,905.91 L476,906.05 L476.5,906.18 L477,906.3 L477.5,906.4 L478,906.49 L478.5,906.58 L479,906.65 L479.5,906.72 L479.5,906.99 L479,906.97 L478.5,906.95 L478,906.93 L477.5,906.91 L477,906.89 L476.5,906.87 L476,906.85 L475.5,906.83 L475,906.81 L474.5,906.79 L474,906.77 L473.5,906.75 L473,906.73 L472.5,906.71 L472,906.69 L471.5,906.67 L471,906.65 L470.5,906.63 L470,906.61 L469.5,906.59 L469,906.57 L468.5,906.55 L468,906.53 L467.5,906.51 L467,906.49 L466.5,906.47 L466,906.45 L465.5,906.43 L465,906.41 L464.5,906.39 L464,906.37 L463.5,906.35 L463,906.33 L462.5,906.31 L462,906.29 L461.5,906.27 L461,906.25 L460.5,906.23 L460,906.21 L459.5,906.19 L459,906.17 L458.5,906.15 L458,906.13 L457.5,906.11 L457,906.09 L456.5,906.07 L456,906.05 L455.5,906.03 L455,906.01 L454.5,905.99 L454,905.98 L453.5,905.96 L453,905.94 L452.5,905.92 L452,905.9 L451.5,905.88 L451,905.86 L450.5,905.84 L450,905.82 L449.5,905.8 L449,905.78 L448.5,905.76 L448,905.74 L447.5,905.72 L447,905.7 L446.5,905.68 L446,905.66 L445.5,905.64 L445,905.62 L444.5,905.6 L444,905.58 L443.5,905.56 L443,905.54 L442.5,905.52 L442,905.5 L441.5,905.48 L441,905.46 L440.5,905.44 L440,905.42 L439.5,905.4 L439,905.38 L438.5,905.36 L438,905.34 L437.5,905.32" stroke="none" stroke-width="1" fill="#C2E9F8" fill-opacity="0.85"/>
<path d="M389.5,903.13 L390,903.11 L390.5,903.08 L391,903.04 L391.5,902.99 L392,902.94 L392.5,902.88 L393,902.81 L393.5,902.72 L394,902.62 L394.5,902.51 L395,902.38 L395.5,902.24 L396,902.07 L396.5,901.89 L397,901.68 L397.5,901.45 L398,901.19 L398.5,900.9 L399,900.58 L399.5,900.22 L400,899.83 L400.5,899.4 L401,898.93 L401.5,898.41 L402,897.84 L402.5,897.23 L403,896.56 L403.5,895.83 L404,895.04 L404.5,894.19 L405,893.27 L405.5,892.28 L406,891.23 L406.5,890.09 L407,888.88 L407.5,887.59 L408,886.22 L408.5,884.77 L409,883.23 L409.5,881.61 L410,879.9 L410.5,878.1 L411,876.22 L411.5,874.24 L412,872.19 L412.5,870.05 L413,867.82 L413.5,865.52 L414,863.14 L414.5,860.69 L415,858.18 L415.5,855.6 L416,852.96 L416.5,850.27 L417,847.54 L417.5,844.78 L418,841.98 L418.5,839.17 L419,836.35 L419.5,833.53 L420,830.72 L420.5,827.93 L421,825.17 L421.5,822.45 L422,819.78 L422.5,817.19 L423,814.66 L423.5,812.22 L424,809.88 L424.5,807.65 L425,805.54 L425.5,803.56 L426,801.72 L426.5,800.02 L427,798.48 L427.5,797.11 L428,795.9 L428.5,794.88 L429,794.03 L429.5,793.38 L430,792.91 L430.5,792.64 L431,792.56 L431.5,792.71 L432,793.11 L432.5,793.76 L433,794.66 L433.5,795.81 L434,797.18 L434.5,798.78 L435,800.59 L435.5,802.61 L436,804.82 L436.5,807.2 L437,809.75 L437.5,812.44 L438,815.26 L438.5,818.19 L439,821.22 L439.5,824.33 L440,827.51 L440.5,830.73 L441,833.98 L441.5,837.24 L442,840.51 L442.5,843.76 L443,846.99 L443.5,850.17 L444,853.3 L444.5,856.37 L445,859.37 L445.5,862.28 L446,865.11 L446.5,867.84 L447,870.47 L447.5,872.99 L448,875.4 L448.5,877.7 L449,879.89 L449.5,881.97 L450,883.93 L450.5,885.78 L451,887.52 L451.5,889.15 L452,890.67 L452.5,892.09 L453,893.41 L453.5,894.63 L454,895.76 L454.5,896.8 L455,897.76 L455.5,898.64 L456,899.45 L456.5,900.18 L457,900.85 L457.5,901.46 L458,902.01 L458.5,902.51 L459,902.96 L459.5,903.37 L460,903.73 L460.5,904.06 L461,904.35 L461.5,904.62 L462,904.85 L462.5,905.06 L463,905.25 L463.5,905.42 L464,905.57 L464.5,905.7 L465,905.82 L465.5,905.92 L466,906.02 L466.5,906.1 L467,906.18 L467.5,906.24 L467.5,906.51 L467,906.49 L466.5,906.47 L466,906.45 L465.5,906.43 L465,906.41 L464.5,906.39 L464,906.37 L463.5,906.35 L463,906.33 L462.5,906.31 L462,906.29 L461.5,906.27 L461,906.25 L460.5,906.23 L460,906.21 L459.5,906.19 L459,906.17 L458.5,906.15 L458,906.13 L457.5,906.11 L457,906.09 L456.5,906.07 L456,906.05 L455.5,906.03 L455,906.01 L454.5,905.99 L454,905.98 L453.5,905.96 L453,905.94 L452.5,905.92 L452,905.9 L451.5,905.88 L451,905.86 L450.5,905.84 L450,905.82 L449.5,905.8 L449,905.78 L448.5,905.76 L448,905.74 L447.5,905.72 L447,905.7 L446.5,905.68 L446,905.66 L445.5,905.64 L445,905.62 L444.5,905.6 L444,905.58 L443.5,905.56 L443,905.54 L442.5,905.52 L442,905.5 L441.5,905.48 L441,905.46 L440.5,905.44 L440,905.42 L439.5,905.4 L439,905.38 L438.5,905.36 L438,905.34 L437.5,905.32 L437,905.3 L436.5,905.28 L436,905.26 L435.5,905.24 L435,905.22 L434.5,905.2 L434,905.18 L433.5,905.16 L433,905.14 L432.5,905.12 L432,905.1 L431.5,905.08 L431,905.06 L430.5,905.04 L430,905.02 L429.5,905 L429,904.98 L428.5,904.96 L428,904.94 L427.5,904.92 L427,904.9 L426.5,904.88 L426,904.86 L425.5,904.84 L425,904.82 L424.5,904.8 L424,904.78 L423.5,904.76 L423,904.74 L422.5,904.72 L422,904.7 L421.5,904.68 L421,904.66 L420.5,904.64 L420,904.62 L419.5,904.61 L419,904.59 L418.5,904.57 L418,904.55 L417.5,904.53 L417,904.51 L416.5,904.49 L416,904.47 L415.5,904.45 L415,904.43 L414.5,904.41 L414,904.39 L413.5,904.37 L413,904.35 L412.5,904.33 L412,904.31 L411.5,904.29 L411,904.27 L410.5,904.25 L410,904.23 L409.5,904.21 L409,904.19 L408.5,904.17 L408,904.15 L407.5,904.13 L407,904.11 L406.5,904.09 L406,904.07 L405.5,904.05 L405,904.03 L404.5,904.01 L404,903.99 L403.5,903.97 L403,903.95 L402.5,903.93 L402,903.91 L401.5,903.89 L401,903.87 L400.5,903.85 L400,903.83 L399.5,903.81 L399,903.79 L398.5,903.77 L398,903.75 L397.5,903.73 L397,903.71 L396.5,903.69 L396,903.67 L395.5,903.65 L395,903.63 L394.5,903.61 L394,903.59 L393.5,903.57 L393,903.55 L392.5,903.53 L392,903.51 L391.5,903.49 L391,903.47 L390.5,903.45 L390,903.43 L389.5,903.41" stroke="none" stroke-width="1" fill="#FBE5D0" fill-opacity="0.85"/>
<path d="M364,902.15 L364.5,902.14 L365,902.13 L365.5,902.12 L366,902.1 L366.5,902.08 L367,902.06 L367.5,902.03 L368,902 L368.5,901.97 L369,901.93 L369.5,901.89 L370,901.84 L370.5,901.79 L371,901.73 L371.5,901.66 L372,901.59 L372.5,901.51 L373,901.42 L373.5,901.33 L374,901.23 L374.5,901.12 L375,901 L375.5,900.87 L376,900.73 L376.5,900.59 L377,900.43 L377.5,900.26 L378,900.08 L378.5,899.89 L379,899.69 L379.5,899.47 L380,899.25 L380.5,899.01 L381,898.76 L381.5,898.49 L382,898.21 L382.5,897.92 L383,897.61 L383.5,897.3 L384,896.96 L384.5,896.61 L385,896.25 L385.5,895.88 L386,895.49 L386.5,895.09 L387,894.67 L387.5,894.24 L388,893.8 L388.5,893.35 L389,892.89 L389.5,892.41 L390,891.92 L390.5,891.43 L391,890.92 L391.5,890.41 L392,889.88 L392.5,889.36 L393,888.82 L393.5,888.28 L394,887.74 L394.5,887.2 L395,886.65 L395.5,886.1 L396,885.56 L396.5,885.02 L397,884.48 L397.5,883.95 L398,883.42 L398.5,882.9 L399,882.39 L399.5,881.9 L400,881.41 L400.5,880.94 L401,880.48 L401.5,880.04 L402,879.62 L402.5,879.22 L403,878.84 L403.5,878.48 L404,878.14 L404.5,877.83 L405,877.54 L405.5,877.28 L406,877.05 L406.5,876.84 L407,876.66 L407.5,876.51 L408,876.4 L408.5,876.31 L409,876.25 L409.5,876.22 L410,876.23 L410.5,876.27 L411,876.35 L411.5,876.47 L412,876.64 L412.5,876.84 L413,877.08 L413.5,877.36 L414,877.68 L414.5,878.03 L415,878.42 L415.5,878.84 L416,879.3 L416.5,879.78 L417,880.28 L417.5,880.82 L418,881.38 L418.5,881.95 L419,882.55 L419.5,883.17 L420,883.8 L420.5,884.44 L421,885.09 L421.5,885.75 L422,886.42 L422.5,887.09 L423,887.76 L423.5,888.43 L424,889.1 L424.5,889.77 L425,890.43 L425.5,891.09 L426,891.73 L426.5,892.37 L427,893 L427.5,893.61 L428,894.21 L428.5,894.79 L429,895.36 L429.5,895.91 L430,896.45 L430.5,896.97 L431,897.47 L431.5,897.95 L432,898.41 L432.5,898.86 L433,899.29 L433.5,899.7 L434,900.09 L434.5,900.46 L435,900.81 L435.5,901.15 L436,901.47 L436.5,901.77 L437,902.06 L437.5,902.33 L438,902.59 L438.5,902.83 L439,903.05 L439.5,903.27 L440,903.47 L440.5,903.65 L441,903.83 L441.5,903.99 L442,904.15 L442.5,904.29 L443,904.42 L443.5,904.55 L444,904.66 L444.5,904.77 L445,904.87 L445.5,904.96 L446,905.05 L446.5,905.13 L447,905.21 L447.5,905.28 L448,905.35 L448.5,905.41 L449,905.47 L449.5,905.52 L449.5,905.8 L449,905.78 L448.5,905.76 L448,905.74 L447.5,905.72 L447,905.7 L446.5,905.68 L446,905.66 L445.5,905.64 L445,905.62 L444.5,905.6 L444,905.58 L443.5,905.56 L443,905.54 L442.5,905.52 L442,905.5 L441.5,905.48 L441,905.46 L440.5,905.44 L440,905.42 L439.5,905.4 L439,905.38 L438.5,905.36 L438,905.34 L437.5,905.32 L437,905.3 L436.5,905.28 L436,905.26 L435.5,905.24 L435,905.22 L434.5,905.2 L434,905.18 L433.5,905.16 L433,905.14 L432.5,905.12 L432,905.1 L431.5,905.08 L431,905.06 L430.5,905.04 L430,905.02 L429.5,905 L429,904.98 L428.5,904.96 L428,904.94 L427.5,904.92 L427,904.9 L426.5,904.88 L426,904.86 L425.5,904.84 L425,904.82 L424.5,904.8 L424,904.78 L423.5,904.76 L423,904.74 L422.5,904.72 L422,904.7 L421.5,904.68 L421,904.66 L420.5,904.64 L420,904.62 L419.5,904.61 L419,904.59 L418.5,904.57 L418,904.55 L417.5,904.53 L417,904.51 L416.5,904.49 L416,904.47 L415.5,904.45 L415,904.43 L414.5,904.41 L414,904.39 L413.5,904.37 L413,904.35 L412.5,904.33 L412,904.31 L411.5,904.29 L411,904.27 L410.5,904.25 L410,904.23 L409.5,904.21 L409,904.19 L408.5,904.17 L408,904.15 L407.5,904.13 L407,904.11 L406.5,904.09 L406,904.07 L405.5,904.05 L405,904.03 L404.5,904.01 L404,903.99 L403.5,903.97 L403,903.95 L402.5,903.93 L402,903.91 L401.5,903.89 L401,903.87 L400.5,903.85 L400,903.83 L399.5,903.81 L399,903.79 L398.5,903.77 L398,903.75 L397.5,903.73 L397,903.71 L396.5,903.69 L396,903.67 L395.5,903.65 L395,903.63 L394.5,903.61 L394,903.59 L393.5,903.57 L393,903.55 L392.5,903.53 L392,903.51 L391.5,903.49 L391,903.47 L390.5,903.45 L390,903.43 L389.5,903.41 L389,903.39 L388.5,903.37 L388,903.35 L387.5,903.33 L387,903.31 L386.5,903.29 L386,903.27 L385.5,903.26 L385,903.24 L384.5,903.22 L384,903.2 L383.5,903.18 L383,903.16 L382.5,903.14 L382,903.12 L381.5,903.1 L381,903.08 L380.5,903.06 L380,903.04 L379.5,903.02 L379,903 L378.5,902.98 L378,902.96 L377.5,902.94 L377,902.92 L376.5,902.9 L376,902.88 L375.5,902.86 L375,902.84 L374.5,902.82 L374,902.8 L373.5,902.78 L373,902.76 L372.5,902.74 L372,902.72 L371.5,902.7 L371,902.68 L370.5,902.66 L370,902.64 L369.5,902.62 L369,902.6 L368.5,902.58 L368,902.56 L367.5,902.54 L367,902.52 L366.5,902.5 L366,902.48 L365.5,902.46 L365,902.44 L364.5,902.42 L364,902.4" stroke="none" stroke-width="1" fill="#E3C9F0" fill-opacity="0.72"/>
<g fill="none" stroke="#a8a8a8" stroke-width="0.8"><circle cx="302.9" cy="898.0" r="2.4"/><circle cx="304.7" cy="898.1" r="2.4"/><circle cx="307.4" cy="894.0" r="2.4"/><circle cx="309.4" cy="895.2" r="2.4"/><circle cx="311.5" cy="892.6" r="2.4"/><circle cx="312.7" cy="893.2" r="2.4"/><circle cx="314.6" cy="890.6" r="2.4"/><circle cx="316.7" cy="890.5" r="2.4"/><circle cx="318.8" cy="882.3" r="2.4"/><circle cx="321.2" cy="882.9" r="2.4"/><circle cx="322.9" cy="880.1" r="2.4"/><circle cx="324.9" cy="882.4" r="2.4"/><circle cx="326.8" cy="880.2" r="2.4"/><circle cx="329.5" cy="876.5" r="2.4"/><circle cx="330.6" cy="869.3" r="2.4"/><circle cx="333.4" cy="870.9" r="2.4"/><circle cx="334.7" cy="868.7" r="2.4"/><circle cx="336.9" cy="869.5" r="2.4"/><circle cx="338.9" cy="871.4" r="2.4"/><circle cx="341.4" cy="863.8" r="2.4"/><circle cx="342.5" cy="869.4" r="2.4"/><circle cx="345.4" cy="866.3" r="2.4"/><circle cx="347.0" cy="866.4" r="2.4"/><circle cx="348.9" cy="868.1" r="2.4"/><circle cx="351.4" cy="872.8" r="2.4"/><circle cx="353.5" cy="868.0" r="2.4"/><circle cx="354.7" cy="877.0" r="2.4"/><circle cx="357.0" cy="879.7" r="2.4"/><circle cx="359.2" cy="885.7" r="2.4"/><circle cx="361.1" cy="882.7" r="2.4"/><circle cx="363.3" cy="883.4" r="2.4"/><circle cx="364.5" cy="889.9" r="2.4"/><circle cx="367.3" cy="891.5" r="2.4"/><circle cx="369.1" cy="898.5" r="2.4"/><circle cx="370.8" cy="894.9" r="2.4"/><circle cx="373.1" cy="895.8" r="2.4"/><circle cx="375.2" cy="895.8" r="2.4"/><circle cx="377.0" cy="896.1" r="2.4"/><circle cx="379.1" cy="894.2" r="2.4"/><circle cx="381.1" cy="897.1" r="2.4"/><circle cx="382.5" cy="894.7" r="2.4"/><circle cx="385.5" cy="898.3" r="2.4"/><circle cx="387.1" cy="897.1" r="2.4"/><circle cx="388.7" cy="891.6" r="2.4"/><circle cx="390.7" cy="896.6" r="2.4"/><circle cx="392.8" cy="889.3" r="2.4"/><circle cx="394.5" cy="883.6" r="2.4"/><circle cx="396.9" cy="884.6" r="2.4"/><circle cx="398.8" cy="877.3" r="2.4"/><circle cx="400.7" cy="870.1" r="2.4"/><circle cx="402.5" cy="868.5" r="2.4"/><circle cx="405.2" cy="866.0" r="2.4"/><circle cx="406.7" cy="857.6" r="2.4"/><circle cx="409.0" cy="844.0" r="2.4"/><circle cx="410.7" cy="842.3" r="2.4"/><circle cx="413.3" cy="830.7" r="2.4"/><circle cx="414.7" cy="823.1" r="2.4"/><circle cx="416.8" cy="818.1" r="2.4"/><circle cx="419.5" cy="803.3" r="2.4"/><circle cx="420.7" cy="797.4" r="2.4"/><circle cx="422.9" cy="787.1" r="2.4"/><circle cx="424.6" cy="779.2" r="2.4"/><circle cx="426.9" cy="782.7" r="2.4"/><circle cx="428.6" cy="785.8" r="2.4"/><circle cx="430.6" cy="780.3" r="2.4"/><circle cx="433.4" cy="779.8" r="2.4"/><circle cx="435.4" cy="780.9" r="2.4"/><circle cx="437.4" cy="777.4" r="2.4"/><circle cx="438.8" cy="796.3" r="2.4"/><circle cx="441.2" cy="807.9" r="2.4"/><circle cx="442.5" cy="809.5" r="2.4"/><circle cx="444.9" cy="818.2" r="2.4"/><circle cx="446.8" cy="830.6" r="2.4"/><circle cx="448.8" cy="840.6" r="2.4"/><circle cx="450.9" cy="851.3" r="2.4"/><circle cx="453.5" cy="858.4" r="2.4"/><circle cx="454.7" cy="863.7" r="2.4"/><circle cx="457.3" cy="878.3" r="2.4"/><circle cx="458.9" cy="883.5" r="2.4"/><circle cx="460.9" cy="886.9" r="2.4"/><circle cx="463.4" cy="891.3" r="2.4"/><circle cx="465.4" cy="896.6" r="2.4"/><circle cx="466.5" cy="892.7" r="2.4"/><circle cx="469.3" cy="902.1" r="2.4"/><circle cx="470.5" cy="902.2" r="2.4"/><circle cx="473.4" cy="902.8" r="2.4"/><circle cx="474.8" cy="903.6" r="2.4"/><circle cx="476.8" cy="898.5" r="2.4"/><circle cx="478.8" cy="908.8" r="2.4"/><circle cx="480.8" cy="904.4" r="2.4"/><circle cx="483.2" cy="904.9" r="2.4"/><circle cx="484.5" cy="908.1" r="2.4"/><circle cx="487.3" cy="909.6" r="2.4"/><circle cx="489.4" cy="904.4" r="2.4"/><circle cx="490.5" cy="906.8" r="2.4"/><circle cx="493.5" cy="909.7" r="2.4"/><circle cx="495.5" cy="905.1" r="2.4"/><circle cx="496.9" cy="908.2" r="2.4"/><circle cx="499.0" cy="908.5" r="2.4"/><circle cx="501.3" cy="906.2" r="2.4"/><circle cx="503.2" cy="909.1" r="2.4"/></g>
<path d="M303,898.12 L303.5,897.99 L304,897.87 L304.5,897.73 L305,897.58 L305.5,897.42 L306,897.25 L306.5,897.08 L307,896.89 L307.5,896.69 L308,896.48 L308.5,896.25 L309,896.02 L309.5,895.77 L310,895.51 L310.5,895.24 L311,894.95 L311.5,894.65 L312,894.34 L312.5,894.01 L313,893.67 L313.5,893.31 L314,892.94 L314.5,892.55 L315,892.16 L315.5,891.74 L316,891.31 L316.5,890.87 L317,890.42 L317.5,889.95 L318,889.46 L318.5,888.97 L319,888.46 L319.5,887.93 L320,887.4 L320.5,886.85 L321,886.29 L321.5,885.73 L322,885.15 L322.5,884.56 L323,883.97 L323.5,883.36 L324,882.75 L324.5,882.14 L325,881.52 L325.5,880.89 L326,880.27 L326.5,879.64 L327,879.01 L327.5,878.38 L328,877.76 L328.5,877.13 L329,876.52 L329.5,875.9 L330,875.3 L330.5,874.7 L331,874.11 L331.5,873.53 L332,872.97 L332.5,872.42 L333,871.88 L333.5,871.36 L334,870.86 L334.5,870.38 L335,869.91 L335.5,869.47 L336,869.05 L336.5,868.66 L337,868.28 L337.5,867.94 L338,867.62 L338.5,867.32 L339,867.06 L339.5,866.82 L340,866.62 L340.5,866.44 L341,866.29 L341.5,866.18 L342,866.09 L342.5,866.04 L343,866.02 L343.5,866.03 L344,866.08 L344.5,866.18 L345,866.32 L345.5,866.51 L346,866.75 L346.5,867.02 L347,867.34 L347.5,867.69 L348,868.09 L348.5,868.52 L349,868.99 L349.5,869.49 L350,870.03 L350.5,870.59 L351,871.18 L351.5,871.8 L352,872.44 L352.5,873.1 L353,873.78 L353.5,874.47 L354,875.18 L354.5,875.89 L355,876.62 L355.5,877.35 L356,878.09 L356.5,878.82 L357,879.56 L357.5,880.29 L358,881.02 L358.5,881.75 L359,882.46 L359.5,883.16 L360,883.85 L360.5,884.53 L361,885.19 L361.5,885.84 L362,886.47 L362.5,887.08 L363,887.67 L363.5,888.25 L364,888.8 L364.5,889.33 L365,889.84 L365.5,890.33 L366,890.79 L366.5,891.24 L367,891.66 L367.5,892.07 L368,892.45 L368.5,892.81 L369,893.15 L369.5,893.47 L370,893.77 L370.5,894.06 L371,894.32 L371.5,894.57 L372,894.8 L372.5,895.01 L373,895.21 L373.5,895.4 L374,895.57 L374.5,895.72 L375,895.87 L375.5,896 L376,896.12 L376.5,896.22 L377,896.32 L377.5,896.4 L378,896.47 L378.5,896.53 L379,896.58 L379.5,896.62 L380,896.65 L380.5,896.67 L381,896.68 L381.5,896.67 L382,896.65 L382.5,896.62 L383,896.57 L383.5,896.51 L384,896.44 L384.5,896.35 L385,896.24 L385.5,896.11 L386,895.97 L386.5,895.8 L387,895.62 L387.5,895.41 L388,895.18 L388.5,894.92 L389,894.64 L389.5,894.33 L390,893.99 L390.5,893.62 L391,893.22 L391.5,892.78 L392,892.31 L392.5,891.81 L393,891.27 L393.5,890.68 L394,890.06 L394.5,889.4 L395,888.7 L395.5,887.95 L396,887.16 L396.5,886.32 L397,885.43 L397.5,884.5 L398,883.52 L398.5,882.49 L399,881.4 L399.5,880.27 L400,879.09 L400.5,877.85 L401,876.57 L401.5,875.23 L402,873.84 L402.5,872.4 L403,870.91 L403.5,869.36 L404,867.77 L404.5,866.12 L405,864.43 L405.5,862.69 L406,860.9 L406.5,859.07 L407,857.19 L407.5,855.28 L408,853.32 L408.5,851.32 L409,849.29 L409.5,847.23 L410,845.13 L410.5,843.01 L411,840.86 L411.5,838.69 L412,836.5 L412.5,834.29 L413,832.07 L413.5,829.85 L414,827.62 L414.5,825.39 L415,823.16 L415.5,820.94 L416,818.73 L416.5,816.54 L417,814.37 L417.5,812.22 L418,810.1 L418.5,808.02 L419,805.97 L419.5,803.97 L420,802.01 L420.5,800.1 L421,798.26 L421.5,796.47 L422,794.74 L422.5,793.08 L423,791.5 L423.5,789.99 L424,788.56 L424.5,787.22 L425,785.96 L425.5,784.79 L426,783.72 L426.5,782.74 L427,781.86 L427.5,781.07 L428,780.4 L428.5,779.82 L429,779.35 L429.5,778.99 L430,778.74 L430.5,778.6 L431,778.56 L431.5,778.65 L432,778.86 L432.5,779.21 L433,779.69 L433.5,780.3 L434,781.03 L434.5,781.88 L435,782.86 L435.5,783.96 L436,785.17 L436.5,786.5 L437,787.93 L437.5,789.47 L438,791.1 L438.5,792.83 L439,794.65 L439.5,796.56 L440,798.54 L440.5,800.6 L441,802.73 L441.5,804.91 L442,807.16 L442.5,809.46 L443,811.8 L443.5,814.18 L444,816.59 L444.5,819.03 L445,821.49 L445.5,823.97 L446,826.46 L446.5,828.95 L447,831.45 L447.5,833.93 L448,836.41 L448.5,838.88 L449,841.32 L449.5,843.74 L450,846.14 L450.5,848.5 L451,850.83 L451.5,853.12 L452,855.37 L452.5,857.58 L453,859.74 L453.5,861.85 L454,863.91 L454.5,865.91 L455,867.87 L455.5,869.76 L456,871.6 L456.5,873.39 L457,875.11 L457.5,876.78 L458,878.39 L458.5,879.94 L459,881.43 L459.5,882.86 L460,884.24 L460.5,885.55 L461,886.82 L461.5,888.02 L462,889.17 L462.5,890.27 L463,891.32 L463.5,892.31 L464,893.26 L464.5,894.15 L465,895 L465.5,895.81 L466,896.57 L466.5,897.29 L467,897.97 L467.5,898.61 L468,899.21 L468.5,899.77 L469,900.31 L469.5,900.8 L470,901.27 L470.5,901.71 L471,902.12 L471.5,902.51 L472,902.86 L472.5,903.2 L473,903.51 L473.5,903.8 L474,904.07 L474.5,904.32 L475,904.56 L475.5,904.78 L476,904.98 L476.5,905.17 L477,905.34 L477.5,905.5 L478,905.65 L478.5,905.79 L479,905.92 L479.5,906.04 L480,906.15 L480.5,906.26 L481,906.35 L481.5,906.44 L482,906.52 L482.5,906.6 L483,906.67 L483.5,906.74 L484,906.8 L484.5,906.86 L485,906.91 L485.5,906.96 L486,907.01 L486.5,907.06 L487,907.1 L487.5,907.14 L488,907.18 L488.5,907.21 L489,907.25 L489.5,907.28 L490,907.31" stroke="#595959" stroke-width="1.5" fill="none" stroke-linejoin="round"/>
<rect x="301.1" y="606" width="204.5" height="310.2" fill="none" stroke="#000" stroke-width="1.6"/>
<line x1="314.5" y1="916.2" x2="314.5" y2="922.7" stroke="#000" stroke-width="1.5" />
<text x="314.5" y="937.2" font-size="12.8" fill="#111" font-weight="normal" text-anchor="middle" stroke="#111" stroke-width="0.3">408</text>
<line x1="344.02" y1="916.2" x2="344.02" y2="922.7" stroke="#000" stroke-width="1.5" />
<text x="344.02" y="937.2" font-size="12.8" fill="#111" font-weight="normal" text-anchor="middle" stroke="#111" stroke-width="0.3">406</text>
<line x1="373.54" y1="916.2" x2="373.54" y2="922.7" stroke="#000" stroke-width="1.5" />
<text x="373.54" y="937.2" font-size="12.8" fill="#111" font-weight="normal" text-anchor="middle" stroke="#111" stroke-width="0.3">404</text>
<line x1="403.06" y1="916.2" x2="403.06" y2="922.7" stroke="#000" stroke-width="1.5" />
<text x="403.06" y="937.2" font-size="12.8" fill="#111" font-weight="normal" text-anchor="middle" stroke="#111" stroke-width="0.3">402</text>
<line x1="432.58" y1="916.2" x2="432.58" y2="922.7" stroke="#000" stroke-width="1.5" />
<text x="432.58" y="937.2" font-size="12.8" fill="#111" font-weight="normal" text-anchor="middle" stroke="#111" stroke-width="0.3">400</text>
<line x1="462.1" y1="916.2" x2="462.1" y2="922.7" stroke="#000" stroke-width="1.5" />
<text x="462.1" y="937.2" font-size="12.8" fill="#111" font-weight="normal" text-anchor="middle" stroke="#111" stroke-width="0.3">398</text>
<line x1="491.62" y1="916.2" x2="491.62" y2="922.7" stroke="#000" stroke-width="1.5" />
<text x="491.62" y="937.2" font-size="12.8" fill="#111" font-weight="normal" text-anchor="middle" stroke="#111" stroke-width="0.3">396</text>
<text x="4.3" y="10.6" font-size="15" fill="#000" font-weight="bold" text-anchor="start" stroke="#000" stroke-width="0.35">A</text>
<text x="266.8" y="9.6" font-size="14.5" fill="#000" font-weight="bold" text-anchor="start" stroke="#000" stroke-width="0.35">B</text>
<text x="4" y="242" font-size="14.5" fill="#000" font-weight="bold" text-anchor="start" stroke="#000" stroke-width="0.35">C</text>
<text x="281.3" y="242.2" font-size="14.5" fill="#000" font-weight="bold" text-anchor="start" stroke="#000" stroke-width="0.35">D</text>
<text x="4" y="616" font-size="15" fill="#000" font-weight="bold" text-anchor="start" stroke="#000" stroke-width="0.35">E</text>
<text x="281.5" y="615.7" font-size="14.5" fill="#000" font-weight="bold" text-anchor="start" stroke="#000" stroke-width="0.35">F</text>
<text transform="translate(12.6,87.3) rotate(-90)" font-size="16.0" fill="#111" font-weight="normal" text-anchor="middle" stroke="#111" stroke-width="0.3">Intensity (a.u.)</text>
<text transform="translate(273.8,87.3) rotate(-90)" font-size="16.0" fill="#111" font-weight="normal" text-anchor="middle" stroke="#111" stroke-width="0.3">Intensity (a.u.)</text>
<text transform="translate(17.8,374) rotate(-90)" font-size="16.0" fill="#111" font-weight="normal" text-anchor="middle" stroke="#111" stroke-width="0.3">Intensity (a.u.)</text>
<text transform="translate(292.1,374) rotate(-90)" font-size="16.0" fill="#111" font-weight="normal" text-anchor="middle" stroke="#111" stroke-width="0.3">Intensity (a.u.)</text>
<text transform="translate(18.1,762.6) rotate(-90)" font-size="16.0" fill="#111" font-weight="normal" text-anchor="middle" stroke="#111" stroke-width="0.3">Intensity (a.u.)</text>
<text transform="translate(292.1,762.6) rotate(-90)" font-size="16.0" fill="#111" font-weight="normal" text-anchor="middle" stroke="#111" stroke-width="0.3">Intensity (a.u.)</text>
<text x="131" y="217" font-size="13.8" fill="#111" font-weight="normal" text-anchor="middle" stroke="#111" stroke-width="0.3">Wavenumbers (cm<tspan font-size="8.5" dy="-5.5">-1</tspan><tspan dy="5.5">)</tspan></text>
<text x="399" y="217" font-size="13.8" fill="#111" font-weight="normal" text-anchor="middle" stroke="#111" stroke-width="0.3">Wavenumbers (cm<tspan font-size="8.5" dy="-5.5">-1</tspan><tspan dy="5.5">)</tspan></text>
<text x="131" y="576" font-size="14.5" fill="#111" font-weight="normal" text-anchor="middle" stroke="#111" stroke-width="0.3">Binding energy (eV)</text>
<text x="402.6" y="576" font-size="14.5" fill="#111" font-weight="normal" text-anchor="middle" stroke="#111" stroke-width="0.3">Binding energy (eV)</text>
<text x="131" y="954.3" font-size="14.5" fill="#111" font-weight="normal" text-anchor="middle" stroke="#111" stroke-width="0.3">Binding energy (eV)</text>
<text x="408.3" y="954.3" font-size="14.5" fill="#111" font-weight="normal" text-anchor="middle" stroke="#111" stroke-width="0.3">Binding energy (eV)</text>
<text x="31.2" y="246.2" font-size="15.3" fill="#111" font-weight="normal" text-anchor="start" stroke="#111" stroke-width="0.1">C1s</text>
<text x="302.5" y="245.9" font-size="15.3" fill="#111" font-weight="normal" text-anchor="start" stroke="#111" stroke-width="0.1">N1s</text>
<text x="31.2" y="619.2" font-size="15.3" fill="#111" font-weight="normal" text-anchor="start" stroke="#111" stroke-width="0.1">C1s</text>
<text x="302.5" y="621.9" font-size="15.3" fill="#111" font-weight="normal" text-anchor="start" stroke="#111" stroke-width="0.1">N1s</text>
<text x="368.5" y="247.5" font-size="13.6" fill="#111" font-weight="normal" text-anchor="start" stroke="#111" stroke-width="0.3">Cd3d5/2</text>
<line x1="351.3" y1="305" x2="387.8" y2="251.2" stroke="#111" stroke-width="1.05" />
<path d="M389.6,248.4 L384.4,251.4 L388.3,254" stroke="none" stroke-width="1" fill="#111" />
<text x="25.2" y="13" font-size="11.6" font-weight="bold" fill="#E89A9A">I<tspan font-size="6.9" dy="0.4">1600</tspan><tspan dy="-0.4">/I</tspan><tspan font-size="6.9" dy="0.4">1720</tspan><tspan dy="-0.4">=1.14</tspan></text>
<text x="25.2" y="28.2" font-size="11.6" font-weight="bold" fill="#6FC0E0">I<tspan font-size="6.9" dy="0.4">1600</tspan><tspan dy="-0.4">/I</tspan><tspan font-size="6.9" dy="0.4">1720</tspan><tspan dy="-0.4">=1.03</tspan></text>
<text x="286.4" y="13" font-size="11.6" font-weight="bold" fill="#E89A9A">I<tspan font-size="6.9" dy="0.4">1600</tspan><tspan dy="-0.4">/I</tspan><tspan font-size="6.9" dy="0.4">1720</tspan><tspan dy="-0.4">=1.27</tspan></text>
<text x="286.4" y="28.2" font-size="11.6" font-weight="bold" fill="#6FC0E0">I<tspan font-size="6.9" dy="0.4">1600</tspan><tspan dy="-0.4">/I</tspan><tspan font-size="6.9" dy="0.4">1720</tspan><tspan dy="-0.4">=1.08</tspan></text>
<text x="21.9" y="60" font-size="16" fill="#D42A2A" font-weight="bold" text-anchor="start" stroke="#D42A2A" stroke-width="0.3">II</text>
<text x="23.4" y="137" font-size="16" fill="#111" font-weight="bold" text-anchor="start" stroke="#111" stroke-width="0.3">I</text>
<text x="284.9" y="94.5" font-size="16" fill="#1F78B4" font-weight="bold" text-anchor="start" stroke="#1F78B4" stroke-width="0.3">IV</text>
<text x="284.9" y="139.7" font-size="16" fill="#7B1FA2" font-weight="bold" text-anchor="start" stroke="#7B1FA2" stroke-width="0.3">III</text>
<text x="29.6" y="363" font-size="16" fill="#D42A2A" font-weight="bold" text-anchor="start" stroke="#D42A2A" stroke-width="0.3">II</text>
<text x="29.6" y="512.2" font-size="16" fill="#111" font-weight="bold" text-anchor="start" stroke="#111" stroke-width="0.3">I</text>
<text x="302.6" y="350.7" font-size="16" fill="#D42A2A" font-weight="bold" text-anchor="start" stroke="#D42A2A" stroke-width="0.3">II</text>
<text x="302.4" y="509" font-size="16" fill="#111" font-weight="bold" text-anchor="start" stroke="#111" stroke-width="0.3">I</text>
<text x="28.5" y="734.5" font-size="16" fill="#1F78B4" font-weight="bold" text-anchor="start" stroke="#1F78B4" stroke-width="0.3">IV</text>
<text x="28.5" y="888.7" font-size="16" fill="#7B1FA2" font-weight="bold" text-anchor="start" stroke="#7B1FA2" stroke-width="0.3">III</text>
<text x="303.6" y="715.4" font-size="16" fill="#1F78B4" font-weight="bold" text-anchor="start" stroke="#1F78B4" stroke-width="0.3">IV</text>
<text x="303.1" y="890.7" font-size="16" fill="#7B1FA2" font-weight="bold" text-anchor="start" stroke="#7B1FA2" stroke-width="0.3">III</text>
<text transform="translate(112.5,342.8) rotate(-90)" font-size="16" fill="#E8A4A4" font-weight="bold" text-anchor="start" stroke="#E8A4A4" stroke-width="0.2">O-C=O</text>
<text transform="translate(138.5,351.6) rotate(-90)" font-size="16" fill="#D0ADED" font-weight="bold" text-anchor="start" stroke="#D0ADED" stroke-width="0.2">C=O</text>
<text transform="translate(155.4,337.4) rotate(-90)" font-size="16" fill="#DAC09E" font-weight="bold" text-anchor="start" stroke="#DAC09E" stroke-width="0.2">C-O/C-N</text>
<text transform="translate(202.3,297.2) rotate(-90)" font-size="16" fill="#6BBBDE" font-weight="bold" text-anchor="start" stroke="#6BBBDE" stroke-width="0.2">C-C/C=C</text>
<text transform="translate(116.5,715.1) rotate(-90)" font-size="16" fill="#E8A4A4" font-weight="bold" text-anchor="start" stroke="#E8A4A4" stroke-width="0.2">O-C=O</text>
<text transform="translate(138,715.8) rotate(-90)" font-size="16" fill="#D0ADED" font-weight="bold" text-anchor="start" stroke="#D0ADED" stroke-width="0.2">C=O</text>
<text transform="translate(154,693.6) rotate(-90)" font-size="16" fill="#DAC09E" font-weight="bold" text-anchor="start" stroke="#DAC09E" stroke-width="0.2">C-O/C-N</text>
<text transform="translate(201.7,670.8) rotate(-90)" font-size="16" fill="#6BBBDE" font-weight="bold" text-anchor="start" stroke="#6BBBDE" stroke-width="0.2">C-C/C=C</text>
<text transform="translate(333,501.8) rotate(-90)" font-size="16" fill="#66D1CC" font-weight="bold" text-anchor="start" stroke="#66D1CC" stroke-width="0.2">NO<tspan font-size="7.8" dy="0.8">3</tspan><tspan font-size="11" dx="-3.8" dy="-7.2">&#8722;</tspan></text>
<text transform="translate(359.5,489.8) rotate(-90)" font-size="16" fill="#E29999" font-weight="bold" text-anchor="start" stroke="#E29999" stroke-width="0.2">NO<tspan font-size="8.2" dy="0.8">2</tspan></text>
<text transform="translate(405,480.5) rotate(-90)" font-size="16" fill="#CDACE7" font-weight="bold" text-anchor="start" stroke="#CDACE7" stroke-width="0.2">Graphitic</text>
<text transform="translate(456.5,444.8) rotate(-90)" font-size="16" fill="#DAC1A2" font-weight="bold" text-anchor="start" stroke="#DAC1A2" stroke-width="0.2">Pyrrolic</text>
<text transform="translate(473,503.6) rotate(-90)" font-size="16" fill="#60B6DD" font-weight="bold" text-anchor="start" stroke="#60B6DD" stroke-width="0.2">Pyridinic</text>
<text transform="translate(337,864.9) rotate(-90)" font-size="16" fill="#66D1CC" font-weight="bold" text-anchor="start" stroke="#66D1CC" stroke-width="0.2">NO<tspan font-size="7.8" dy="0.8">3</tspan><tspan font-size="11" dx="-3.8" dy="-7.2">&#8722;</tspan></text>
<text transform="translate(371.5,879.4) rotate(-90)" font-size="16" fill="#E29999" font-weight="bold" text-anchor="start" stroke="#E29999" stroke-width="0.2">NO<tspan font-size="8.2" dy="0.8">2</tspan></text>
<text transform="translate(406,863.2) rotate(-90)" font-size="16" fill="#CDACE7" font-weight="bold" text-anchor="start" stroke="#CDACE7" stroke-width="0.2">Graphitic</text>
<text transform="translate(454.3,807) rotate(-90)" font-size="16" fill="#DAC1A2" font-weight="bold" text-anchor="start" stroke="#DAC1A2" stroke-width="0.2">Pyrrolic</text>
<text transform="translate(473,884.9) rotate(-90)" font-size="16" fill="#60B6DD" font-weight="bold" text-anchor="start" stroke="#60B6DD" stroke-width="0.2">Pyridinic</text>
<g><line x1="30.57" y1="321.28" x2="50.49" y2="315.15" stroke="#4a4a4a" stroke-width="3.8" stroke-linecap="round"/><line x1="35.93" y1="314.39" x2="50.49" y2="313.62" stroke="#4a4a4a" stroke-width="3.8" stroke-linecap="round"/><line x1="33.63" y1="325.11" x2="50.49" y2="317.45" stroke="#4a4a4a" stroke-width="3.8" stroke-linecap="round"/><line x1="36.7" y1="325.88" x2="48.96" y2="320.52" stroke="#4a4a4a" stroke-width="3.8" stroke-linecap="round"/><line x1="44.36" y1="330.17" x2="56.62" y2="323.12" stroke="#4a4a4a" stroke-width="3.8" stroke-linecap="round"/><line x1="54.78" y1="329.25" x2="58.15" y2="322.81" stroke="#4a4a4a" stroke-width="3.8" stroke-linecap="round"/><line x1="50.49" y1="315.15" x2="54.32" y2="323.58" stroke="#4a4a4a" stroke-width="3.8" stroke-linecap="round"/><line x1="54.32" y1="323.58" x2="73.48" y2="318.98" stroke="#4a4a4a" stroke-width="3.8" stroke-linecap="round"/><line x1="50.49" y1="315.15" x2="56.62" y2="311.78" stroke="#4a4a4a" stroke-width="3.8" stroke-linecap="round"/><line x1="56.62" y1="311.78" x2="61.22" y2="307.18" stroke="#4a4a4a" stroke-width="3.8" stroke-linecap="round"/><line x1="61.22" y1="307.18" x2="71.94" y2="308.71" stroke="#4a4a4a" stroke-width="3.8" stroke-linecap="round"/><line x1="71.94" y1="308.71" x2="73.48" y2="313.93" stroke="#4a4a4a" stroke-width="3.8" stroke-linecap="round"/><line x1="73.48" y1="313.93" x2="73.48" y2="318.98" stroke="#4a4a4a" stroke-width="3.8" stroke-linecap="round"/><line x1="39.45" y1="296.45" x2="47.73" y2="304.12" stroke="#4a4a4a" stroke-width="3.8" stroke-linecap="round"/><line x1="45.89" y1="299.83" x2="48.19" y2="303.66" stroke="#4a4a4a" stroke-width="3.8" stroke-linecap="round"/><line x1="47.73" y1="304.12" x2="50.49" y2="315.15" stroke="#4a4a4a" stroke-width="3.8" stroke-linecap="round"/><line x1="73.48" y1="315.15" x2="99.53" y2="325.57" stroke="#4a4a4a" stroke-width="3.8" stroke-linecap="round"/><line x1="76.54" y1="317.45" x2="94.93" y2="321.28" stroke="#4a4a4a" stroke-width="3.8" stroke-linecap="round"/><line x1="81.91" y1="313.62" x2="87.58" y2="315.46" stroke="#4a4a4a" stroke-width="3.8" stroke-linecap="round"/><line x1="83.9" y1="300.13" x2="70.72" y2="333.85" stroke="#4a4a4a" stroke-width="3.8" stroke-linecap="round"/><line x1="73.17" y1="316.68" x2="76.24" y2="317.91" stroke="#4a4a4a" stroke-width="3.8" stroke-linecap="round"/><line x1="30.57" y1="321.28" x2="50.49" y2="315.15" stroke="#8F8F8F" stroke-width="2.3" stroke-linecap="round"/><line x1="30.57" y1="321.28" x2="36.14" y2="319.57" stroke="#E2E2E2" stroke-width="2.4" stroke-linecap="round"/><line x1="30.57" y1="320.78" x2="50.49" y2="314.65" stroke="#ffffff" stroke-opacity="0.4" stroke-width="0.7" stroke-linecap="round"/><line x1="35.93" y1="314.39" x2="50.49" y2="313.62" stroke="#8F8F8F" stroke-width="2.3" stroke-linecap="round"/><line x1="35.93" y1="314.39" x2="40.01" y2="314.17" stroke="#E2E2E2" stroke-width="2.4" stroke-linecap="round"/><line x1="35.93" y1="313.89" x2="50.49" y2="313.12" stroke="#ffffff" stroke-opacity="0.4" stroke-width="0.7" stroke-linecap="round"/><line x1="33.63" y1="325.11" x2="50.49" y2="317.45" stroke="#8F8F8F" stroke-width="2.3" stroke-linecap="round"/><line x1="33.63" y1="325.11" x2="38.35" y2="322.97" stroke="#E2E2E2" stroke-width="2.4" stroke-linecap="round"/><line x1="33.63" y1="324.61" x2="50.49" y2="316.95" stroke="#ffffff" stroke-opacity="0.4" stroke-width="0.7" stroke-linecap="round"/><line x1="36.7" y1="325.88" x2="48.96" y2="320.52" stroke="#8F8F8F" stroke-width="2.3" stroke-linecap="round"/><line x1="36.7" y1="325.88" x2="40.13" y2="324.38" stroke="#E2E2E2" stroke-width="2.4" stroke-linecap="round"/><line x1="36.7" y1="325.38" x2="48.96" y2="320.02" stroke="#ffffff" stroke-opacity="0.4" stroke-width="0.7" stroke-linecap="round"/><line x1="44.36" y1="330.17" x2="56.62" y2="323.12" stroke="#8F8F8F" stroke-width="2.3" stroke-linecap="round"/><line x1="44.36" y1="330.17" x2="47.79" y2="328.2" stroke="#E2E2E2" stroke-width="2.4" stroke-linecap="round"/><line x1="44.36" y1="329.67" x2="56.62" y2="322.62" stroke="#ffffff" stroke-opacity="0.4" stroke-width="0.7" stroke-linecap="round"/><line x1="54.78" y1="329.25" x2="58.15" y2="322.81" stroke="#8F8F8F" stroke-width="2.3" stroke-linecap="round"/><line x1="54.78" y1="329.25" x2="55.72" y2="327.45" stroke="#9A5252" stroke-width="2.4" stroke-linecap="round"/><line x1="54.78" y1="328.75" x2="58.15" y2="322.31" stroke="#ffffff" stroke-opacity="0.4" stroke-width="0.7" stroke-linecap="round"/><line x1="50.49" y1="315.15" x2="54.32" y2="323.58" stroke="#8F8F8F" stroke-width="2.3" stroke-linecap="round"/><line x1="50.49" y1="314.65" x2="54.32" y2="323.08" stroke="#ffffff" stroke-opacity="0.4" stroke-width="0.7" stroke-linecap="round"/><line x1="54.32" y1="323.58" x2="73.48" y2="318.98" stroke="#8F8F8F" stroke-width="2.3" stroke-linecap="round"/><line x1="54.32" y1="323.08" x2="73.48" y2="318.48" stroke="#ffffff" stroke-opacity="0.4" stroke-width="0.7" stroke-linecap="round"/><line x1="50.49" y1="315.15" x2="56.62" y2="311.78" stroke="#8F8F8F" stroke-width="2.3" stroke-linecap="round"/><line x1="54.9" y1="312.72" x2="56.62" y2="311.78" stroke="#2E9496" stroke-width="2.4" stroke-linecap="round"/><line x1="50.49" y1="314.65" x2="56.62" y2="311.28" stroke="#ffffff" stroke-opacity="0.4" stroke-width="0.7" stroke-linecap="round"/><line x1="56.62" y1="311.78" x2="61.22" y2="307.18" stroke="#8F8F8F" stroke-width="2.3" stroke-linecap="round"/><line x1="56.62" y1="311.78" x2="57.91" y2="310.49" stroke="#2E9496" stroke-width="2.4" stroke-linecap="round"/><line x1="56.62" y1="311.28" x2="61.22" y2="306.68" stroke="#ffffff" stroke-opacity="0.4" stroke-width="0.7" stroke-linecap="round"/><line x1="61.22" y1="307.18" x2="71.94" y2="308.71" stroke="#8F8F8F" stroke-width="2.3" stroke-linecap="round"/><line x1="61.22" y1="306.68" x2="71.94" y2="308.21" stroke="#ffffff" stroke-opacity="0.4" stroke-width="0.7" stroke-linecap="round"/><line x1="71.94" y1="308.71" x2="73.48" y2="313.93" stroke="#8F8F8F" stroke-width="2.3" stroke-linecap="round"/><line x1="73.05" y1="312.47" x2="73.48" y2="313.93" stroke="#2E9496" stroke-width="2.4" stroke-linecap="round"/><line x1="71.94" y1="308.21" x2="73.48" y2="313.43" stroke="#ffffff" stroke-opacity="0.4" stroke-width="0.7" stroke-linecap="round"/><line x1="73.48" y1="313.93" x2="73.48" y2="318.98" stroke="#8F8F8F" stroke-width="2.3" stroke-linecap="round"/><line x1="73.48" y1="313.93" x2="73.48" y2="315.34" stroke="#2E9496" stroke-width="2.4" stroke-linecap="round"/><line x1="73.48" y1="313.43" x2="73.48" y2="318.48" stroke="#ffffff" stroke-opacity="0.4" stroke-width="0.7" stroke-linecap="round"/><line x1="39.45" y1="296.45" x2="47.73" y2="304.12" stroke="#8F8F8F" stroke-width="2.3" stroke-linecap="round"/><line x1="39.45" y1="296.45" x2="41.77" y2="298.6" stroke="#E2E2E2" stroke-width="2.4" stroke-linecap="round"/><line x1="39.45" y1="295.95" x2="47.73" y2="303.62" stroke="#ffffff" stroke-opacity="0.4" stroke-width="0.7" stroke-linecap="round"/><line x1="45.89" y1="299.83" x2="48.19" y2="303.66" stroke="#8F8F8F" stroke-width="2.3" stroke-linecap="round"/><line x1="45.89" y1="299.83" x2="46.53" y2="300.9" stroke="#9A5252" stroke-width="2.4" stroke-linecap="round"/><line x1="45.89" y1="299.33" x2="48.19" y2="303.16" stroke="#ffffff" stroke-opacity="0.4" stroke-width="0.7" stroke-linecap="round"/><line x1="47.73" y1="304.12" x2="50.49" y2="315.15" stroke="#8F8F8F" stroke-width="2.3" stroke-linecap="round"/><line x1="47.73" y1="303.62" x2="50.49" y2="314.65" stroke="#ffffff" stroke-opacity="0.4" stroke-width="0.7" stroke-linecap="round"/><line x1="73.48" y1="315.15" x2="99.53" y2="325.57" stroke="#8F8F8F" stroke-width="2.3" stroke-linecap="round"/><line x1="92.24" y1="322.65" x2="99.53" y2="325.57" stroke="#E2E2E2" stroke-width="2.4" stroke-linecap="round"/><line x1="73.48" y1="314.65" x2="99.53" y2="325.07" stroke="#ffffff" stroke-opacity="0.4" stroke-width="0.7" stroke-linecap="round"/><line x1="76.54" y1="317.45" x2="94.93" y2="321.28" stroke="#8F8F8F" stroke-width="2.3" stroke-linecap="round"/><line x1="89.78" y1="320.21" x2="94.93" y2="321.28" stroke="#E2E2E2" stroke-width="2.4" stroke-linecap="round"/><line x1="76.54" y1="316.95" x2="94.93" y2="320.78" stroke="#ffffff" stroke-opacity="0.4" stroke-width="0.7" stroke-linecap="round"/><line x1="81.91" y1="313.62" x2="87.58" y2="315.46" stroke="#8F8F8F" stroke-width="2.3" stroke-linecap="round"/><line x1="85.99" y1="314.94" x2="87.58" y2="315.46" stroke="#9A5252" stroke-width="2.4" stroke-linecap="round"/><line x1="81.91" y1="313.12" x2="87.58" y2="314.96" stroke="#ffffff" stroke-opacity="0.4" stroke-width="0.7" stroke-linecap="round"/><line x1="83.9" y1="300.13" x2="70.72" y2="333.85" stroke="#8F8F8F" stroke-width="2.3" stroke-linecap="round"/><line x1="83.9" y1="300.13" x2="80.21" y2="309.57" stroke="#9A5252" stroke-width="2.4" stroke-linecap="round"/><line x1="74.41" y1="324.41" x2="70.72" y2="333.85" stroke="#E2E2E2" stroke-width="2.4" stroke-linecap="round"/><line x1="83.9" y1="299.63" x2="70.72" y2="333.35" stroke="#ffffff" stroke-opacity="0.4" stroke-width="0.7" stroke-linecap="round"/><line x1="73.17" y1="316.68" x2="76.24" y2="317.91" stroke="#8F8F8F" stroke-width="2.3" stroke-linecap="round"/><line x1="75.38" y1="317.57" x2="76.24" y2="317.91" stroke="#9A5252" stroke-width="2.4" stroke-linecap="round"/><line x1="73.17" y1="316.18" x2="76.24" y2="317.41" stroke="#ffffff" stroke-opacity="0.4" stroke-width="0.7" stroke-linecap="round"/></g>
<line x1="45" y1="304" x2="58" y2="306" stroke="#A99B2A" stroke-width="1.1" stroke-dasharray="1.4,1.2"/>
<line x1="75" y1="301" x2="82" y2="300" stroke="#A99B2A" stroke-width="1.1" stroke-dasharray="1.4,1.2"/>
<defs><radialGradient id="gcd" cx="0.4" cy="0.35" r="0.7"><stop offset="0" stop-color="#e0e0e0"/><stop offset="0.75" stop-color="#6a6a6a"/><stop offset="1" stop-color="#222"/></radialGradient></defs>
<circle cx="55" cy="295.1" r="6.5" fill="url(#gcd)"/>
<text x="55" y="298.16" font-size="8.5" fill="#2a2a2a" font-weight="normal" text-anchor="middle" stroke="#2a2a2a" stroke-width="0.25">Cd</text>
<defs><radialGradient id="gpb" cx="0.4" cy="0.35" r="0.7"><stop offset="0" stop-color="#6a6a6a"/><stop offset="0.75" stop-color="#1a1a1a"/><stop offset="1" stop-color="#222"/></radialGradient></defs>
<circle cx="69.7" cy="295.1" r="7.0" fill="url(#gpb)"/>
<text x="69.7" y="298.16" font-size="8.5" fill="#fff" font-weight="normal" text-anchor="middle" stroke="#fff" stroke-width="0.25">Pb</text>
<g><line x1="31.07" y1="481.78" x2="50.99" y2="475.65" stroke="#4a4a4a" stroke-width="3.8" stroke-linecap="round"/><line x1="36.43" y1="474.89" x2="50.99" y2="474.12" stroke="#4a4a4a" stroke-width="3.8" stroke-linecap="round"/><line x1="34.13" y1="485.61" x2="50.99" y2="477.95" stroke="#4a4a4a" stroke-width="3.8" stroke-linecap="round"/><line x1="37.2" y1="486.38" x2="49.46" y2="481.02" stroke="#4a4a4a" stroke-width="3.8" stroke-linecap="round"/><line x1="44.86" y1="490.67" x2="57.12" y2="483.62" stroke="#4a4a4a" stroke-width="3.8" stroke-linecap="round"/><line x1="55.28" y1="489.75" x2="58.65" y2="483.31" stroke="#4a4a4a" stroke-width="3.8" stroke-linecap="round"/><line x1="50.99" y1="475.65" x2="54.82" y2="484.08" stroke="#4a4a4a" stroke-width="3.8" stroke-linecap="round"/><line x1="54.82" y1="484.08" x2="73.98" y2="479.48" stroke="#4a4a4a" stroke-width="3.8" stroke-linecap="round"/><line x1="50.99" y1="475.65" x2="57.12" y2="472.28" stroke="#4a4a4a" stroke-width="3.8" stroke-linecap="round"/><line x1="57.12" y1="472.28" x2="61.72" y2="467.68" stroke="#4a4a4a" stroke-width="3.8" stroke-linecap="round"/><line x1="61.72" y1="467.68" x2="72.44" y2="469.21" stroke="#4a4a4a" stroke-width="3.8" stroke-linecap="round"/><line x1="72.44" y1="469.21" x2="73.98" y2="474.43" stroke="#4a4a4a" stroke-width="3.8" stroke-linecap="round"/><line x1="73.98" y1="474.43" x2="73.98" y2="479.48" stroke="#4a4a4a" stroke-width="3.8" stroke-linecap="round"/><line x1="39.95" y1="456.95" x2="48.23" y2="464.62" stroke="#4a4a4a" stroke-width="3.8" stroke-linecap="round"/><line x1="46.39" y1="460.33" x2="48.69" y2="464.16" stroke="#4a4a4a" stroke-width="3.8" stroke-linecap="round"/><line x1="48.23" y1="464.62" x2="50.99" y2="475.65" stroke="#4a4a4a" stroke-width="3.8" stroke-linecap="round"/><line x1="73.98" y1="475.65" x2="100.03" y2="486.07" stroke="#4a4a4a" stroke-width="3.8" stroke-linecap="round"/><line x1="77.04" y1="477.95" x2="95.43" y2="481.78" stroke="#4a4a4a" stroke-width="3.8" stroke-linecap="round"/><line x1="82.41" y1="474.12" x2="88.08" y2="475.96" stroke="#4a4a4a" stroke-width="3.8" stroke-linecap="round"/><line x1="84.4" y1="460.63" x2="71.22" y2="494.35" stroke="#4a4a4a" stroke-width="3.8" stroke-linecap="round"/><line x1="73.67" y1="477.18" x2="76.74" y2="478.41" stroke="#4a4a4a" stroke-width="3.8" stroke-linecap="round"/><line x1="31.07" y1="481.78" x2="50.99" y2="475.65" stroke="#8F8F8F" stroke-width="2.3" stroke-linecap="round"/><line x1="31.07" y1="481.78" x2="36.64" y2="480.07" stroke="#E2E2E2" stroke-width="2.4" stroke-linecap="round"/><line x1="31.07" y1="481.28" x2="50.99" y2="475.15" stroke="#ffffff" stroke-opacity="0.4" stroke-width="0.7" stroke-linecap="round"/><line x1="36.43" y1="474.89" x2="50.99" y2="474.12" stroke="#8F8F8F" stroke-width="2.3" stroke-linecap="round"/><line x1="36.43" y1="474.89" x2="40.51" y2="474.67" stroke="#E2E2E2" stroke-width="2.4" stroke-linecap="round"/><line x1="36.43" y1="474.39" x2="50.99" y2="473.62" stroke="#ffffff" stroke-opacity="0.4" stroke-width="0.7" stroke-linecap="round"/><line x1="34.13" y1="485.61" x2="50.99" y2="477.95" stroke="#8F8F8F" stroke-width="2.3" stroke-linecap="round"/><line x1="34.13" y1="485.61" x2="38.85" y2="483.47" stroke="#E2E2E2" stroke-width="2.4" stroke-linecap="round"/><line x1="34.13" y1="485.11" x2="50.99" y2="477.45" stroke="#ffffff" stroke-opacity="0.4" stroke-width="0.7" stroke-linecap="round"/><line x1="37.2" y1="486.38" x2="49.46" y2="481.02" stroke="#8F8F8F" stroke-width="2.3" stroke-linecap="round"/><line x1="37.2" y1="486.38" x2="40.63" y2="484.88" stroke="#E2E2E2" stroke-width="2.4" stroke-linecap="round"/><line x1="37.2" y1="485.88" x2="49.46" y2="480.52" stroke="#ffffff" stroke-opacity="0.4" stroke-width="0.7" stroke-linecap="round"/><line x1="44.86" y1="490.67" x2="57.12" y2="483.62" stroke="#8F8F8F" stroke-width="2.3" stroke-linecap="round"/><line x1="44.86" y1="490.67" x2="48.29" y2="488.7" stroke="#E2E2E2" stroke-width="2.4" stroke-linecap="round"/><line x1="44.86" y1="490.17" x2="57.12" y2="483.12" stroke="#ffffff" stroke-opacity="0.4" stroke-width="0.7" stroke-linecap="round"/><line x1="55.28" y1="489.75" x2="58.65" y2="483.31" stroke="#8F8F8F" stroke-width="2.3" stroke-linecap="round"/><line x1="55.28" y1="489.75" x2="56.22" y2="487.95" stroke="#9A5252" stroke-width="2.4" stroke-linecap="round"/><line x1="55.28" y1="489.25" x2="58.65" y2="482.81" stroke="#ffffff" stroke-opacity="0.4" stroke-width="0.7" stroke-linecap="round"/><line x1="50.99" y1="475.65" x2="54.82" y2="484.08" stroke="#8F8F8F" stroke-width="2.3" stroke-linecap="round"/><line x1="50.99" y1="475.15" x2="54.82" y2="483.58" stroke="#ffffff" stroke-opacity="0.4" stroke-width="0.7" stroke-linecap="round"/><line x1="54.82" y1="484.08" x2="73.98" y2="479.48" stroke="#8F8F8F" stroke-width="2.3" stroke-linecap="round"/><line x1="54.82" y1="483.58" x2="73.98" y2="478.98" stroke="#ffffff" stroke-opacity="0.4" stroke-width="0.7" stroke-linecap="round"/><line x1="50.99" y1="475.65" x2="57.12" y2="472.28" stroke="#8F8F8F" stroke-width="2.3" stroke-linecap="round"/><line x1="55.4" y1="473.22" x2="57.12" y2="472.28" stroke="#2E9496" stroke-width="2.4" stroke-linecap="round"/><line x1="50.99" y1="475.15" x2="57.12" y2="471.78" stroke="#ffffff" stroke-opacity="0.4" stroke-width="0.7" stroke-linecap="round"/><line x1="57.12" y1="472.28" x2="61.72" y2="467.68" stroke="#8F8F8F" stroke-width="2.3" stroke-linecap="round"/><line x1="57.12" y1="472.28" x2="58.41" y2="470.99" stroke="#2E9496" stroke-width="2.4" stroke-linecap="round"/><line x1="57.12" y1="471.78" x2="61.72" y2="467.18" stroke="#ffffff" stroke-opacity="0.4" stroke-width="0.7" stroke-linecap="round"/><line x1="61.72" y1="467.68" x2="72.44" y2="469.21" stroke="#8F8F8F" stroke-width="2.3" stroke-linecap="round"/><line x1="61.72" y1="467.18" x2="72.44" y2="468.71" stroke="#ffffff" stroke-opacity="0.4" stroke-width="0.7" stroke-linecap="round"/><line x1="72.44" y1="469.21" x2="73.98" y2="474.43" stroke="#8F8F8F" stroke-width="2.3" stroke-linecap="round"/><line x1="73.55" y1="472.97" x2="73.98" y2="474.43" stroke="#2E9496" stroke-width="2.4" stroke-linecap="round"/><line x1="72.44" y1="468.71" x2="73.98" y2="473.93" stroke="#ffffff" stroke-opacity="0.4" stroke-width="0.7" stroke-linecap="round"/><line x1="73.98" y1="474.43" x2="73.98" y2="479.48" stroke="#8F8F8F" stroke-width="2.3" stroke-linecap="round"/><line x1="73.98" y1="474.43" x2="73.98" y2="475.84" stroke="#2E9496" stroke-width="2.4" stroke-linecap="round"/><line x1="73.98" y1="473.93" x2="73.98" y2="478.98" stroke="#ffffff" stroke-opacity="0.4" stroke-width="0.7" stroke-linecap="round"/><line x1="39.95" y1="456.95" x2="48.23" y2="464.62" stroke="#8F8F8F" stroke-width="2.3" stroke-linecap="round"/><line x1="39.95" y1="456.95" x2="42.27" y2="459.1" stroke="#E2E2E2" stroke-width="2.4" stroke-linecap="round"/><line x1="39.95" y1="456.45" x2="48.23" y2="464.12" stroke="#ffffff" stroke-opacity="0.4" stroke-width="0.7" stroke-linecap="round"/><line x1="46.39" y1="460.33" x2="48.69" y2="464.16" stroke="#8F8F8F" stroke-width="2.3" stroke-linecap="round"/><line x1="46.39" y1="460.33" x2="47.03" y2="461.4" stroke="#9A5252" stroke-width="2.4" stroke-linecap="round"/><line x1="46.39" y1="459.83" x2="48.69" y2="463.66" stroke="#ffffff" stroke-opacity="0.4" stroke-width="0.7" stroke-linecap="round"/><line x1="48.23" y1="464.62" x2="50.99" y2="475.65" stroke="#8F8F8F" stroke-width="2.3" stroke-linecap="round"/><line x1="48.23" y1="464.12" x2="50.99" y2="475.15" stroke="#ffffff" stroke-opacity="0.4" stroke-width="0.7" stroke-linecap="round"/><line x1="73.98" y1="475.65" x2="100.03" y2="486.07" stroke="#8F8F8F" stroke-width="2.3" stroke-linecap="round"/><line x1="92.74" y1="483.15" x2="100.03" y2="486.07" stroke="#E2E2E2" stroke-width="2.4" stroke-linecap="round"/><line x1="73.98" y1="475.15" x2="100.03" y2="485.57" stroke="#ffffff" stroke-opacity="0.4" stroke-width="0.7" stroke-linecap="round"/><line x1="77.04" y1="477.95" x2="95.43" y2="481.78" stroke="#8F8F8F" stroke-width="2.3" stroke-linecap="round"/><line x1="90.28" y1="480.71" x2="95.43" y2="481.78" stroke="#E2E2E2" stroke-width="2.4" stroke-linecap="round"/><line x1="77.04" y1="477.45" x2="95.43" y2="481.28" stroke="#ffffff" stroke-opacity="0.4" stroke-width="0.7" stroke-linecap="round"/><line x1="82.41" y1="474.12" x2="88.08" y2="475.96" stroke="#8F8F8F" stroke-width="2.3" stroke-linecap="round"/><line x1="86.49" y1="475.44" x2="88.08" y2="475.96" stroke="#9A5252" stroke-width="2.4" stroke-linecap="round"/><line x1="82.41" y1="473.62" x2="88.08" y2="475.46" stroke="#ffffff" stroke-opacity="0.4" stroke-width="0.7" stroke-linecap="round"/><line x1="84.4" y1="460.63" x2="71.22" y2="494.35" stroke="#8F8F8F" stroke-width="2.3" stroke-linecap="round"/><line x1="84.4" y1="460.63" x2="80.71" y2="470.07" stroke="#9A5252" stroke-width="2.4" stroke-linecap="round"/><line x1="74.91" y1="484.91" x2="71.22" y2="494.35" stroke="#E2E2E2" stroke-width="2.4" stroke-linecap="round"/><line x1="84.4" y1="460.13" x2="71.22" y2="493.85" stroke="#ffffff" stroke-opacity="0.4" stroke-width="0.7" stroke-linecap="round"/><line x1="73.67" y1="477.18" x2="76.74" y2="478.41" stroke="#8F8F8F" stroke-width="2.3" stroke-linecap="round"/><line x1="75.88" y1="478.07" x2="76.74" y2="478.41" stroke="#9A5252" stroke-width="2.4" stroke-linecap="round"/><line x1="73.67" y1="476.68" x2="76.74" y2="477.91" stroke="#ffffff" stroke-opacity="0.4" stroke-width="0.7" stroke-linecap="round"/></g>
<g><line x1="31.07" y1="704.78" x2="50.99" y2="698.65" stroke="#4a4a4a" stroke-width="3.8" stroke-linecap="round"/><line x1="36.43" y1="697.89" x2="50.99" y2="697.12" stroke="#4a4a4a" stroke-width="3.8" stroke-linecap="round"/><line x1="34.13" y1="708.61" x2="50.99" y2="700.95" stroke="#4a4a4a" stroke-width="3.8" stroke-linecap="round"/><line x1="37.2" y1="709.38" x2="49.46" y2="704.02" stroke="#4a4a4a" stroke-width="3.8" stroke-linecap="round"/><line x1="44.86" y1="713.67" x2="57.12" y2="706.62" stroke="#4a4a4a" stroke-width="3.8" stroke-linecap="round"/><line x1="55.28" y1="712.75" x2="58.65" y2="706.31" stroke="#4a4a4a" stroke-width="3.8" stroke-linecap="round"/><line x1="50.99" y1="698.65" x2="54.82" y2="707.08" stroke="#4a4a4a" stroke-width="3.8" stroke-linecap="round"/><line x1="54.82" y1="707.08" x2="73.98" y2="702.48" stroke="#4a4a4a" stroke-width="3.8" stroke-linecap="round"/><line x1="50.99" y1="698.65" x2="57.12" y2="695.28" stroke="#4a4a4a" stroke-width="3.8" stroke-linecap="round"/><line x1="57.12" y1="695.28" x2="61.72" y2="690.68" stroke="#4a4a4a" stroke-width="3.8" stroke-linecap="round"/><line x1="61.72" y1="690.68" x2="72.44" y2="692.21" stroke="#4a4a4a" stroke-width="3.8" stroke-linecap="round"/><line x1="72.44" y1="692.21" x2="73.98" y2="697.43" stroke="#4a4a4a" stroke-width="3.8" stroke-linecap="round"/><line x1="73.98" y1="697.43" x2="73.98" y2="702.48" stroke="#4a4a4a" stroke-width="3.8" stroke-linecap="round"/><line x1="39.95" y1="679.95" x2="48.23" y2="687.62" stroke="#4a4a4a" stroke-width="3.8" stroke-linecap="round"/><line x1="46.39" y1="683.33" x2="48.69" y2="687.16" stroke="#4a4a4a" stroke-width="3.8" stroke-linecap="round"/><line x1="48.23" y1="687.62" x2="50.99" y2="698.65" stroke="#4a4a4a" stroke-width="3.8" stroke-linecap="round"/><line x1="73.98" y1="698.65" x2="100.03" y2="709.07" stroke="#4a4a4a" stroke-width="3.8" stroke-linecap="round"/><line x1="77.04" y1="700.95" x2="95.43" y2="704.78" stroke="#4a4a4a" stroke-width="3.8" stroke-linecap="round"/><line x1="82.41" y1="697.12" x2="88.08" y2="698.96" stroke="#4a4a4a" stroke-width="3.8" stroke-linecap="round"/><line x1="84.4" y1="683.63" x2="71.22" y2="717.35" stroke="#4a4a4a" stroke-width="3.8" stroke-linecap="round"/><line x1="73.67" y1="700.18" x2="76.74" y2="701.41" stroke="#4a4a4a" stroke-width="3.8" stroke-linecap="round"/><line x1="31.07" y1="704.78" x2="50.99" y2="698.65" stroke="#8F8F8F" stroke-width="2.3" stroke-linecap="round"/><line x1="31.07" y1="704.78" x2="36.64" y2="703.07" stroke="#E2E2E2" stroke-width="2.4" stroke-linecap="round"/><line x1="31.07" y1="704.28" x2="50.99" y2="698.15" stroke="#ffffff" stroke-opacity="0.4" stroke-width="0.7" stroke-linecap="round"/><line x1="36.43" y1="697.89" x2="50.99" y2="697.12" stroke="#8F8F8F" stroke-width="2.3" stroke-linecap="round"/><line x1="36.43" y1="697.89" x2="40.51" y2="697.67" stroke="#E2E2E2" stroke-width="2.4" stroke-linecap="round"/><line x1="36.43" y1="697.39" x2="50.99" y2="696.62" stroke="#ffffff" stroke-opacity="0.4" stroke-width="0.7" stroke-linecap="round"/><line x1="34.13" y1="708.61" x2="50.99" y2="700.95" stroke="#8F8F8F" stroke-width="2.3" stroke-linecap="round"/><line x1="34.13" y1="708.61" x2="38.85" y2="706.47" stroke="#E2E2E2" stroke-width="2.4" stroke-linecap="round"/><line x1="34.13" y1="708.11" x2="50.99" y2="700.45" stroke="#ffffff" stroke-opacity="0.4" stroke-width="0.7" stroke-linecap="round"/><line x1="37.2" y1="709.38" x2="49.46" y2="704.02" stroke="#8F8F8F" stroke-width="2.3" stroke-linecap="round"/><line x1="37.2" y1="709.38" x2="40.63" y2="707.88" stroke="#E2E2E2" stroke-width="2.4" stroke-linecap="round"/><line x1="37.2" y1="708.88" x2="49.46" y2="703.52" stroke="#ffffff" stroke-opacity="0.4" stroke-width="0.7" stroke-linecap="round"/><line x1="44.86" y1="713.67" x2="57.12" y2="706.62" stroke="#8F8F8F" stroke-width="2.3" stroke-linecap="round"/><line x1="44.86" y1="713.67" x2="48.29" y2="711.7" stroke="#E2E2E2" stroke-width="2.4" stroke-linecap="round"/><line x1="44.86" y1="713.17" x2="57.12" y2="706.12" stroke="#ffffff" stroke-opacity="0.4" stroke-width="0.7" stroke-linecap="round"/><line x1="55.28" y1="712.75" x2="58.65" y2="706.31" stroke="#8F8F8F" stroke-width="2.3" stroke-linecap="round"/><line x1="55.28" y1="712.75" x2="56.22" y2="710.95" stroke="#9A5252" stroke-width="2.4" stroke-linecap="round"/><line x1="55.28" y1="712.25" x2="58.65" y2="705.81" stroke="#ffffff" stroke-opacity="0.4" stroke-width="0.7" stroke-linecap="round"/><line x1="50.99" y1="698.65" x2="54.82" y2="707.08" stroke="#8F8F8F" stroke-width="2.3" stroke-linecap="round"/><line x1="50.99" y1="698.15" x2="54.82" y2="706.58" stroke="#ffffff" stroke-opacity="0.4" stroke-width="0.7" stroke-linecap="round"/><line x1="54.82" y1="707.08" x2="73.98" y2="702.48" stroke="#8F8F8F" stroke-width="2.3" stroke-linecap="round"/><line x1="54.82" y1="706.58" x2="73.98" y2="701.98" stroke="#ffffff" stroke-opacity="0.4" stroke-width="0.7" stroke-linecap="round"/><line x1="50.99" y1="698.65" x2="57.12" y2="695.28" stroke="#8F8F8F" stroke-width="2.3" stroke-linecap="round"/><line x1="55.4" y1="696.22" x2="57.12" y2="695.28" stroke="#2E9496" stroke-width="2.4" stroke-linecap="round"/><line x1="50.99" y1="698.15" x2="57.12" y2="694.78" stroke="#ffffff" stroke-opacity="0.4" stroke-width="0.7" stroke-linecap="round"/><line x1="57.12" y1="695.28" x2="61.72" y2="690.68" stroke="#8F8F8F" stroke-width="2.3" stroke-linecap="round"/><line x1="57.12" y1="695.28" x2="58.41" y2="693.99" stroke="#2E9496" stroke-width="2.4" stroke-linecap="round"/><line x1="57.12" y1="694.78" x2="61.72" y2="690.18" stroke="#ffffff" stroke-opacity="0.4" stroke-width="0.7" stroke-linecap="round"/><line x1="61.72" y1="690.68" x2="72.44" y2="692.21" stroke="#8F8F8F" stroke-width="2.3" stroke-linecap="round"/><line x1="61.72" y1="690.18" x2="72.44" y2="691.71" stroke="#ffffff" stroke-opacity="0.4" stroke-width="0.7" stroke-linecap="round"/><line x1="72.44" y1="692.21" x2="73.98" y2="697.43" stroke="#8F8F8F" stroke-width="2.3" stroke-linecap="round"/><line x1="73.55" y1="695.97" x2="73.98" y2="697.43" stroke="#2E9496" stroke-width="2.4" stroke-linecap="round"/><line x1="72.44" y1="691.71" x2="73.98" y2="696.93" stroke="#ffffff" stroke-opacity="0.4" stroke-width="0.7" stroke-linecap="round"/><line x1="73.98" y1="697.43" x2="73.98" y2="702.48" stroke="#8F8F8F" stroke-width="2.3" stroke-linecap="round"/><line x1="73.98" y1="697.43" x2="73.98" y2="698.84" stroke="#2E9496" stroke-width="2.4" stroke-linecap="round"/><line x1="73.98" y1="696.93" x2="73.98" y2="701.98" stroke="#ffffff" stroke-opacity="0.4" stroke-width="0.7" stroke-linecap="round"/><line x1="39.95" y1="679.95" x2="48.23" y2="687.62" stroke="#8F8F8F" stroke-width="2.3" stroke-linecap="round"/><line x1="39.95" y1="679.95" x2="42.27" y2="682.1" stroke="#E2E2E2" stroke-width="2.4" stroke-linecap="round"/><line x1="39.95" y1="679.45" x2="48.23" y2="687.12" stroke="#ffffff" stroke-opacity="0.4" stroke-width="0.7" stroke-linecap="round"/><line x1="46.39" y1="683.33" x2="48.69" y2="687.16" stroke="#8F8F8F" stroke-width="2.3" stroke-linecap="round"/><line x1="46.39" y1="683.33" x2="47.03" y2="684.4" stroke="#9A5252" stroke-width="2.4" stroke-linecap="round"/><line x1="46.39" y1="682.83" x2="48.69" y2="686.66" stroke="#ffffff" stroke-opacity="0.4" stroke-width="0.7" stroke-linecap="round"/><line x1="48.23" y1="687.62" x2="50.99" y2="698.65" stroke="#8F8F8F" stroke-width="2.3" stroke-linecap="round"/><line x1="48.23" y1="687.12" x2="50.99" y2="698.15" stroke="#ffffff" stroke-opacity="0.4" stroke-width="0.7" stroke-linecap="round"/><line x1="73.98" y1="698.65" x2="100.03" y2="709.07" stroke="#8F8F8F" stroke-width="2.3" stroke-linecap="round"/><line x1="92.74" y1="706.15" x2="100.03" y2="709.07" stroke="#E2E2E2" stroke-width="2.4" stroke-linecap="round"/><line x1="73.98" y1="698.15" x2="100.03" y2="708.57" stroke="#ffffff" stroke-opacity="0.4" stroke-width="0.7" stroke-linecap="round"/><line x1="77.04" y1="700.95" x2="95.43" y2="704.78" stroke="#8F8F8F" stroke-width="2.3" stroke-linecap="round"/><line x1="90.28" y1="703.71" x2="95.43" y2="704.78" stroke="#E2E2E2" stroke-width="2.4" stroke-linecap="round"/><line x1="77.04" y1="700.45" x2="95.43" y2="704.28" stroke="#ffffff" stroke-opacity="0.4" stroke-width="0.7" stroke-linecap="round"/><line x1="82.41" y1="697.12" x2="88.08" y2="698.96" stroke="#8F8F8F" stroke-width="2.3" stroke-linecap="round"/><line x1="86.49" y1="698.44" x2="88.08" y2="698.96" stroke="#9A5252" stroke-width="2.4" stroke-linecap="round"/><line x1="82.41" y1="696.62" x2="88.08" y2="698.46" stroke="#ffffff" stroke-opacity="0.4" stroke-width="0.7" stroke-linecap="round"/><line x1="84.4" y1="683.63" x2="71.22" y2="717.35" stroke="#8F8F8F" stroke-width="2.3" stroke-linecap="round"/><line x1="84.4" y1="683.63" x2="80.71" y2="693.07" stroke="#9A5252" stroke-width="2.4" stroke-linecap="round"/><line x1="74.91" y1="707.91" x2="71.22" y2="717.35" stroke="#E2E2E2" stroke-width="2.4" stroke-linecap="round"/><line x1="84.4" y1="683.13" x2="71.22" y2="716.85" stroke="#ffffff" stroke-opacity="0.4" stroke-width="0.7" stroke-linecap="round"/><line x1="73.67" y1="700.18" x2="76.74" y2="701.41" stroke="#8F8F8F" stroke-width="2.3" stroke-linecap="round"/><line x1="75.88" y1="701.07" x2="76.74" y2="701.41" stroke="#9A5252" stroke-width="2.4" stroke-linecap="round"/><line x1="73.67" y1="699.68" x2="76.74" y2="700.91" stroke="#ffffff" stroke-opacity="0.4" stroke-width="0.7" stroke-linecap="round"/></g>
<line x1="42" y1="685" x2="87" y2="685" stroke="#A99B2A" stroke-width="1.1" stroke-dasharray="1.4,1.2"/>
<defs><radialGradient id="gmn1" cx="0.4" cy="0.35" r="0.7"><stop offset="0" stop-color="#B06A9C"/><stop offset="0.75" stop-color="#6A2458"/><stop offset="1" stop-color="#222"/></radialGradient></defs>
<circle cx="65.5" cy="680.5" r="7.4" fill="url(#gmn1)"/>
<text x="65.5" y="683.38" font-size="8" fill="#fff" font-weight="normal" text-anchor="middle" stroke="#fff" stroke-width="0.25">Mn</text>
<g><line x1="33.07" y1="856.78" x2="52.99" y2="850.65" stroke="#4a4a4a" stroke-width="3.8" stroke-linecap="round"/><line x1="38.43" y1="849.89" x2="52.99" y2="849.12" stroke="#4a4a4a" stroke-width="3.8" stroke-linecap="round"/><line x1="36.13" y1="860.61" x2="52.99" y2="852.95" stroke="#4a4a4a" stroke-width="3.8" stroke-linecap="round"/><line x1="39.2" y1="861.38" x2="51.46" y2="856.02" stroke="#4a4a4a" stroke-width="3.8" stroke-linecap="round"/><line x1="46.86" y1="865.67" x2="59.12" y2="858.62" stroke="#4a4a4a" stroke-width="3.8" stroke-linecap="round"/><line x1="57.28" y1="864.75" x2="60.65" y2="858.31" stroke="#4a4a4a" stroke-width="3.8" stroke-linecap="round"/><line x1="52.99" y1="850.65" x2="56.82" y2="859.08" stroke="#4a4a4a" stroke-width="3.8" stroke-linecap="round"/><line x1="56.82" y1="859.08" x2="75.98" y2="854.48" stroke="#4a4a4a" stroke-width="3.8" stroke-linecap="round"/><line x1="52.99" y1="850.65" x2="59.12" y2="847.28" stroke="#4a4a4a" stroke-width="3.8" stroke-linecap="round"/><line x1="59.12" y1="847.28" x2="63.72" y2="842.68" stroke="#4a4a4a" stroke-width="3.8" stroke-linecap="round"/><line x1="63.72" y1="842.68" x2="74.44" y2="844.21" stroke="#4a4a4a" stroke-width="3.8" stroke-linecap="round"/><line x1="74.44" y1="844.21" x2="75.98" y2="849.43" stroke="#4a4a4a" stroke-width="3.8" stroke-linecap="round"/><line x1="75.98" y1="849.43" x2="75.98" y2="854.48" stroke="#4a4a4a" stroke-width="3.8" stroke-linecap="round"/><line x1="41.95" y1="831.95" x2="50.23" y2="839.62" stroke="#4a4a4a" stroke-width="3.8" stroke-linecap="round"/><line x1="48.39" y1="835.33" x2="50.69" y2="839.16" stroke="#4a4a4a" stroke-width="3.8" stroke-linecap="round"/><line x1="50.23" y1="839.62" x2="52.99" y2="850.65" stroke="#4a4a4a" stroke-width="3.8" stroke-linecap="round"/><line x1="75.98" y1="850.65" x2="102.03" y2="861.07" stroke="#4a4a4a" stroke-width="3.8" stroke-linecap="round"/><line x1="79.04" y1="852.95" x2="97.43" y2="856.78" stroke="#4a4a4a" stroke-width="3.8" stroke-linecap="round"/><line x1="84.41" y1="849.12" x2="90.08" y2="850.96" stroke="#4a4a4a" stroke-width="3.8" stroke-linecap="round"/><line x1="86.4" y1="835.63" x2="73.22" y2="869.35" stroke="#4a4a4a" stroke-width="3.8" stroke-linecap="round"/><line x1="75.67" y1="852.18" x2="78.74" y2="853.41" stroke="#4a4a4a" stroke-width="3.8" stroke-linecap="round"/><line x1="33.07" y1="856.78" x2="52.99" y2="850.65" stroke="#8F8F8F" stroke-width="2.3" stroke-linecap="round"/><line x1="33.07" y1="856.78" x2="38.64" y2="855.07" stroke="#E2E2E2" stroke-width="2.4" stroke-linecap="round"/><line x1="33.07" y1="856.28" x2="52.99" y2="850.15" stroke="#ffffff" stroke-opacity="0.4" stroke-width="0.7" stroke-linecap="round"/><line x1="38.43" y1="849.89" x2="52.99" y2="849.12" stroke="#8F8F8F" stroke-width="2.3" stroke-linecap="round"/><line x1="38.43" y1="849.89" x2="42.51" y2="849.67" stroke="#E2E2E2" stroke-width="2.4" stroke-linecap="round"/><line x1="38.43" y1="849.39" x2="52.99" y2="848.62" stroke="#ffffff" stroke-opacity="0.4" stroke-width="0.7" stroke-linecap="round"/><line x1="36.13" y1="860.61" x2="52.99" y2="852.95" stroke="#8F8F8F" stroke-width="2.3" stroke-linecap="round"/><line x1="36.13" y1="860.61" x2="40.85" y2="858.47" stroke="#E2E2E2" stroke-width="2.4" stroke-linecap="round"/><line x1="36.13" y1="860.11" x2="52.99" y2="852.45" stroke="#ffffff" stroke-opacity="0.4" stroke-width="0.7" stroke-linecap="round"/><line x1="39.2" y1="861.38" x2="51.46" y2="856.02" stroke="#8F8F8F" stroke-width="2.3" stroke-linecap="round"/><line x1="39.2" y1="861.38" x2="42.63" y2="859.88" stroke="#E2E2E2" stroke-width="2.4" stroke-linecap="round"/><line x1="39.2" y1="860.88" x2="51.46" y2="855.52" stroke="#ffffff" stroke-opacity="0.4" stroke-width="0.7" stroke-linecap="round"/><line x1="46.86" y1="865.67" x2="59.12" y2="858.62" stroke="#8F8F8F" stroke-width="2.3" stroke-linecap="round"/><line x1="46.86" y1="865.67" x2="50.29" y2="863.7" stroke="#E2E2E2" stroke-width="2.4" stroke-linecap="round"/><line x1="46.86" y1="865.17" x2="59.12" y2="858.12" stroke="#ffffff" stroke-opacity="0.4" stroke-width="0.7" stroke-linecap="round"/><line x1="57.28" y1="864.75" x2="60.65" y2="858.31" stroke="#8F8F8F" stroke-width="2.3" stroke-linecap="round"/><line x1="57.28" y1="864.75" x2="58.22" y2="862.95" stroke="#9A5252" stroke-width="2.4" stroke-linecap="round"/><line x1="57.28" y1="864.25" x2="60.65" y2="857.81" stroke="#ffffff" stroke-opacity="0.4" stroke-width="0.7" stroke-linecap="round"/><line x1="52.99" y1="850.65" x2="56.82" y2="859.08" stroke="#8F8F8F" stroke-width="2.3" stroke-linecap="round"/><line x1="52.99" y1="850.15" x2="56.82" y2="858.58" stroke="#ffffff" stroke-opacity="0.4" stroke-width="0.7" stroke-linecap="round"/><line x1="56.82" y1="859.08" x2="75.98" y2="854.48" stroke="#8F8F8F" stroke-width="2.3" stroke-linecap="round"/><line x1="56.82" y1="858.58" x2="75.98" y2="853.98" stroke="#ffffff" stroke-opacity="0.4" stroke-width="0.7" stroke-linecap="round"/><line x1="52.99" y1="850.65" x2="59.12" y2="847.28" stroke="#8F8F8F" stroke-width="2.3" stroke-linecap="round"/><line x1="57.4" y1="848.22" x2="59.12" y2="847.28" stroke="#2E9496" stroke-width="2.4" stroke-linecap="round"/><line x1="52.99" y1="850.15" x2="59.12" y2="846.78" stroke="#ffffff" stroke-opacity="0.4" stroke-width="0.7" stroke-linecap="round"/><line x1="59.12" y1="847.28" x2="63.72" y2="842.68" stroke="#8F8F8F" stroke-width="2.3" stroke-linecap="round"/><line x1="59.12" y1="847.28" x2="60.41" y2="845.99" stroke="#2E9496" stroke-width="2.4" stroke-linecap="round"/><line x1="59.12" y1="846.78" x2="63.72" y2="842.18" stroke="#ffffff" stroke-opacity="0.4" stroke-width="0.7" stroke-linecap="round"/><line x1="63.72" y1="842.68" x2="74.44" y2="844.21" stroke="#8F8F8F" stroke-width="2.3" stroke-linecap="round"/><line x1="63.72" y1="842.18" x2="74.44" y2="843.71" stroke="#ffffff" stroke-opacity="0.4" stroke-width="0.7" stroke-linecap="round"/><line x1="74.44" y1="844.21" x2="75.98" y2="849.43" stroke="#8F8F8F" stroke-width="2.3" stroke-linecap="round"/><line x1="75.55" y1="847.97" x2="75.98" y2="849.43" stroke="#2E9496" stroke-width="2.4" stroke-linecap="round"/><line x1="74.44" y1="843.71" x2="75.98" y2="848.93" stroke="#ffffff" stroke-opacity="0.4" stroke-width="0.7" stroke-linecap="round"/><line x1="75.98" y1="849.43" x2="75.98" y2="854.48" stroke="#8F8F8F" stroke-width="2.3" stroke-linecap="round"/><line x1="75.98" y1="849.43" x2="75.98" y2="850.84" stroke="#2E9496" stroke-width="2.4" stroke-linecap="round"/><line x1="75.98" y1="848.93" x2="75.98" y2="853.98" stroke="#ffffff" stroke-opacity="0.4" stroke-width="0.7" stroke-linecap="round"/><line x1="41.95" y1="831.95" x2="50.23" y2="839.62" stroke="#8F8F8F" stroke-width="2.3" stroke-linecap="round"/><line x1="41.95" y1="831.95" x2="44.27" y2="834.1" stroke="#E2E2E2" stroke-width="2.4" stroke-linecap="round"/><line x1="41.95" y1="831.45" x2="50.23" y2="839.12" stroke="#ffffff" stroke-opacity="0.4" stroke-width="0.7" stroke-linecap="round"/><line x1="48.39" y1="835.33" x2="50.69" y2="839.16" stroke="#8F8F8F" stroke-width="2.3" stroke-linecap="round"/><line x1="48.39" y1="835.33" x2="49.03" y2="836.4" stroke="#9A5252" stroke-width="2.4" stroke-linecap="round"/><line x1="48.39" y1="834.83" x2="50.69" y2="838.66" stroke="#ffffff" stroke-opacity="0.4" stroke-width="0.7" stroke-linecap="round"/><line x1="50.23" y1="839.62" x2="52.99" y2="850.65" stroke="#8F8F8F" stroke-width="2.3" stroke-linecap="round"/><line x1="50.23" y1="839.12" x2="52.99" y2="850.15" stroke="#ffffff" stroke-opacity="0.4" stroke-width="0.7" stroke-linecap="round"/><line x1="75.98" y1="850.65" x2="102.03" y2="861.07" stroke="#8F8F8F" stroke-width="2.3" stroke-linecap="round"/><line x1="94.74" y1="858.15" x2="102.03" y2="861.07" stroke="#E2E2E2" stroke-width="2.4" stroke-linecap="round"/><line x1="75.98" y1="850.15" x2="102.03" y2="860.57" stroke="#ffffff" stroke-opacity="0.4" stroke-width="0.7" stroke-linecap="round"/><line x1="79.04" y1="852.95" x2="97.43" y2="856.78" stroke="#8F8F8F" stroke-width="2.3" stroke-linecap="round"/><line x1="92.28" y1="855.71" x2="97.43" y2="856.78" stroke="#E2E2E2" stroke-width="2.4" stroke-linecap="round"/><line x1="79.04" y1="852.45" x2="97.43" y2="856.28" stroke="#ffffff" stroke-opacity="0.4" stroke-width="0.7" stroke-linecap="round"/><line x1="84.41" y1="849.12" x2="90.08" y2="850.96" stroke="#8F8F8F" stroke-width="2.3" stroke-linecap="round"/><line x1="88.49" y1="850.44" x2="90.08" y2="850.96" stroke="#9A5252" stroke-width="2.4" stroke-linecap="round"/><line x1="84.41" y1="848.62" x2="90.08" y2="850.46" stroke="#ffffff" stroke-opacity="0.4" stroke-width="0.7" stroke-linecap="round"/><line x1="86.4" y1="835.63" x2="73.22" y2="869.35" stroke="#8F8F8F" stroke-width="2.3" stroke-linecap="round"/><line x1="86.4" y1="835.63" x2="82.71" y2="845.07" stroke="#9A5252" stroke-width="2.4" stroke-linecap="round"/><line x1="76.91" y1="859.91" x2="73.22" y2="869.35" stroke="#E2E2E2" stroke-width="2.4" stroke-linecap="round"/><line x1="86.4" y1="835.13" x2="73.22" y2="868.85" stroke="#ffffff" stroke-opacity="0.4" stroke-width="0.7" stroke-linecap="round"/><line x1="75.67" y1="852.18" x2="78.74" y2="853.41" stroke="#8F8F8F" stroke-width="2.3" stroke-linecap="round"/><line x1="77.88" y1="853.07" x2="78.74" y2="853.41" stroke="#9A5252" stroke-width="2.4" stroke-linecap="round"/><line x1="75.67" y1="851.68" x2="78.74" y2="852.91" stroke="#ffffff" stroke-opacity="0.4" stroke-width="0.7" stroke-linecap="round"/></g>
<line x1="44" y1="837" x2="90" y2="837" stroke="#A99B2A" stroke-width="1.1" stroke-dasharray="1.4,1.2"/>
<defs><radialGradient id="gmn2" cx="0.4" cy="0.35" r="0.7"><stop offset="0" stop-color="#B06A9C"/><stop offset="0.75" stop-color="#6A2458"/><stop offset="1" stop-color="#222"/></radialGradient></defs>
<circle cx="67" cy="832.4" r="7.4" fill="url(#gmn2)"/>
<text x="67" y="835.28" font-size="8" fill="#fff" font-weight="normal" text-anchor="middle" stroke="#fff" stroke-width="0.25">Mn</text>
<g><path d="M58.7,645.7 C52.5,639.5 51.0,633.4 45.6,629.6" fill="none" stroke="#8E9498" stroke-width="0.6"/><path d="M62.5,641.8 C58.7,634.9 61.0,630.3 56.4,624.2" fill="none" stroke="#8E9498" stroke-width="0.6"/><path d="M66.3,640.7 C64.0,633.4 67.8,628.8 65.5,622.7" fill="none" stroke="#8E9498" stroke-width="0.6"/><path d="M70.1,641.1 C72.4,633.4 70.9,628.8 74.0,623.4" fill="none" stroke="#8E9498" stroke-width="0.6"/><path d="M73.7,644.9 C77.0,638.0 78.6,634.9 82.4,630.3" fill="none" stroke="#8E9498" stroke-width="0.6"/><path d="M74.7,653.3 C80.1,656.4 86.2,657.9 90.8,654.1" fill="none" stroke="#8E9498" stroke-width="0.6"/><path d="M74.0,661.0 C80.1,662.5 83.2,665.6 87.8,664.0" fill="none" stroke="#8E9498" stroke-width="0.6"/><path d="M57.1,651.0 C51.0,648.0 46.4,646.4 41.8,641.8" fill="none" stroke="#8E9498" stroke-width="0.6"/><path d="M57.4,658.7 C51.0,657.1 46.4,654.8 42.6,652.5" fill="none" stroke="#8E9498" stroke-width="0.6"/><path d="M58.7,664.0 C54.1,665.6 49.5,667.1 45.6,665.6" fill="none" stroke="#8E9498" stroke-width="0.6"/><path d="M61.0,644.1 C54.1,638.0 49.5,636.5 46.4,634.9" fill="none" stroke="#8E9498" stroke-width="0.6"/><path d="M72.4,642.6 C78.6,639.5 81.6,640.3 86.2,636.5" fill="none" stroke="#8E9498" stroke-width="0.6"/><path d="M64.8,641.1 C61.7,633.4 57.1,631.9 54.1,625.7" fill="none" stroke="#8E9498" stroke-width="0.6"/><path d="M68.6,640.3 C69.4,631.9 74.0,629.6 72.4,621.1" fill="none" stroke="#8E9498" stroke-width="0.6"/><path d="M74.4,650.2 C81.6,650.2 86.2,648.7 92.4,645.7" fill="none" stroke="#8E9498" stroke-width="0.6"/><path d="M57.9,654.8 C51.0,653.3 44.9,651.8 40.3,648.0" fill="none" stroke="#8E9498" stroke-width="0.6"/><path d="M60.2,667.1 C55.6,670.2 51.0,668.6 46.4,671.7" fill="none" stroke="#8E9498" stroke-width="0.6"/><path d="M72.4,667.1 C77.0,670.2 81.6,668.6 84.7,671.7" fill="none" stroke="#8E9498" stroke-width="0.6"/></g>
<rect x="58" y="640" width="17.5" height="33.5" rx="8.5" ry="8.5" fill="#2F3C43" stroke="#5B676D" stroke-width="4" stroke-dasharray="0.5,0.8" stroke-opacity="0.85" transform="rotate(4 66.7 656.7)"/>
<rect x="61.5" y="644" width="4" height="24" rx="2" fill="#46555C" opacity="0.6" transform="rotate(4 66.7 656.7)"/>
<text transform="translate(102.2,73.7) rotate(-90)" font-size="7.8" fill="#111" font-weight="bold" text-anchor="start" >1720</text>
<text transform="translate(102.2,54.7) rotate(-90)" font-size="7.4" fill="#111" font-weight="bold" text-anchor="start" >C</text>
<text transform="translate(101.8,49.5) rotate(-62)" font-size="7.0" fill="#111" font-weight="bold" text-anchor="start" >&#8211;OH</text>
<ellipse cx="92.7" cy="46.2" rx="4.4" ry="2.8" fill="#5FD3C3" opacity="0.8" transform="rotate(-45 92.7 46.2)"/>
<text x="92.7" y="48.5" font-size="6.6" fill="#123" font-weight="bold" text-anchor="middle" >O</text>
<line x1="95.7" y1="48.5" x2="97.9" y2="50.7" stroke="#123" stroke-width="0.6" />
<line x1="94.9" y1="49.3" x2="97.1" y2="51.5" stroke="#123" stroke-width="0.6" />
<text transform="translate(125.7,57) rotate(-90)" font-size="7.0" fill="#111" font-weight="bold" text-anchor="start" >1600</text>
<path d="M115.5,37.9 L115.5,40.4 L130.4,40.4 L130.4,37.9" fill="none" stroke="#222" stroke-width="0.9"/>
<path d="M119.5,17.5 L119.5,15 L133.3,15 L133.3,17.5" fill="none" stroke="#222" stroke-width="0.9"/>
<line x1="119.5" y1="12.8" x2="119.5" y2="14.2" stroke="#222" stroke-width="0.6" />
<circle cx="125.2" cy="24.3" r="7.4" fill="#5FD3C3" opacity="0.8"/>
<text transform="translate(124.8,38.9) rotate(-90)" font-size="4.6" fill="#333" font-weight="normal" text-anchor="start" >asy</text>
<text transform="translate(125.8,34.5) rotate(-90)" font-size="6.8" fill="#111" font-weight="bold" text-anchor="start" >C</text>
<text transform="translate(124.9,26.2) rotate(-90)" font-size="5.2" fill="#111" font-weight="bold" text-anchor="start" >O</text>
<text transform="translate(130.2,26.2) rotate(-90)" font-size="5.2" fill="#111" font-weight="bold" text-anchor="start" >O</text>
<line x1="124.2" y1="28.5" x2="122.5" y2="26.8" stroke="#123" stroke-width="0.5" />
<line x1="126.2" y1="28.5" x2="128.2" y2="26.8" stroke="#123" stroke-width="0.5" />
<text x="172.3" y="74.5" font-size="6.6" fill="#111" font-weight="bold" text-anchor="middle" >O</text>
<line x1="174.8" y1="76" x2="177.6" y2="78.8" stroke="#111" stroke-width="0.6" />
<line x1="175.6" y1="75.2" x2="178.4" y2="78" stroke="#111" stroke-width="0.6" />
<ellipse cx="182.1" cy="72" rx="4.6" ry="2.5" fill="#5FD3C3" opacity="0.8" transform="rotate(-62 182.1 72)"/>
<text x="180.6" y="83.1" font-size="6.8" fill="#111" font-weight="bold" text-anchor="middle" transform="rotate(-60 180.6 80.8)">C</text>
<text transform="translate(183.3,80) rotate(-62)" font-size="6.8" fill="#111" font-weight="bold" text-anchor="start" >&#8211;OH</text>
<text transform="translate(364.5,72.7) rotate(-90)" font-size="7.8" fill="#111" font-weight="bold" text-anchor="start" >1720</text>
<text transform="translate(364.5,53.7) rotate(-90)" font-size="7.4" fill="#111" font-weight="bold" text-anchor="start" >C</text>
<text transform="translate(364.1,48.5) rotate(-62)" font-size="7.0" fill="#111" font-weight="bold" text-anchor="start" >&#8211;OH</text>
<ellipse cx="355" cy="45.2" rx="4.4" ry="2.8" fill="#5FD3C3" opacity="0.8" transform="rotate(-45 355 45.2)"/>
<text x="355" y="47.5" font-size="6.6" fill="#123" font-weight="bold" text-anchor="middle" >O</text>
<line x1="358" y1="47.5" x2="360.2" y2="49.7" stroke="#123" stroke-width="0.6" />
<line x1="357.2" y1="48.3" x2="359.4" y2="50.5" stroke="#123" stroke-width="0.6" />
<text transform="translate(385.7,47.7) rotate(-90)" font-size="7.0" fill="#111" font-weight="bold" text-anchor="start" >1600</text>
<path d="M375.5,28.6 L375.5,31.1 L390.4,31.1 L390.4,28.6" fill="none" stroke="#222" stroke-width="0.9"/>
<path d="M379.5,9.5 L379.5,7 L393.3,7 L393.3,9.5" fill="none" stroke="#222" stroke-width="0.9"/>
<line x1="379.5" y1="4.8" x2="379.5" y2="6.2" stroke="#222" stroke-width="0.6" />
<circle cx="385.2" cy="16.3" r="7.4" fill="#5FD3C3" opacity="0.8"/>
<text transform="translate(384.8,29.6) rotate(-90)" font-size="4.6" fill="#333" font-weight="normal" text-anchor="start" >asy</text>
<text transform="translate(385.8,26.5) rotate(-90)" font-size="6.8" fill="#111" font-weight="bold" text-anchor="start" >C</text>
<text transform="translate(384.9,18.2) rotate(-90)" font-size="5.2" fill="#111" font-weight="bold" text-anchor="start" >O</text>
<text transform="translate(390.2,18.2) rotate(-90)" font-size="5.2" fill="#111" font-weight="bold" text-anchor="start" >O</text>
<line x1="384.2" y1="20.5" x2="382.5" y2="18.8" stroke="#123" stroke-width="0.5" />
<line x1="386.2" y1="20.5" x2="388.2" y2="18.8" stroke="#123" stroke-width="0.5" />
<text x="433.2" y="60.3" font-size="6.6" fill="#111" font-weight="bold" text-anchor="middle" >O</text>
<line x1="435.7" y1="61.8" x2="438.5" y2="64.6" stroke="#111" stroke-width="0.6" />
<line x1="436.5" y1="61" x2="439.3" y2="63.8" stroke="#111" stroke-width="0.6" />
<ellipse cx="443" cy="57.8" rx="4.6" ry="2.5" fill="#5FD3C3" opacity="0.8" transform="rotate(-62 443 57.8)"/>
<text x="441.5" y="68.9" font-size="6.8" fill="#111" font-weight="bold" text-anchor="middle" transform="rotate(-60 441.5 66.6)">C</text>
<text transform="translate(444.2,65.8) rotate(-62)" font-size="6.8" fill="#111" font-weight="bold" text-anchor="start" >&#8211;OH</text>
</svg></body></html>
